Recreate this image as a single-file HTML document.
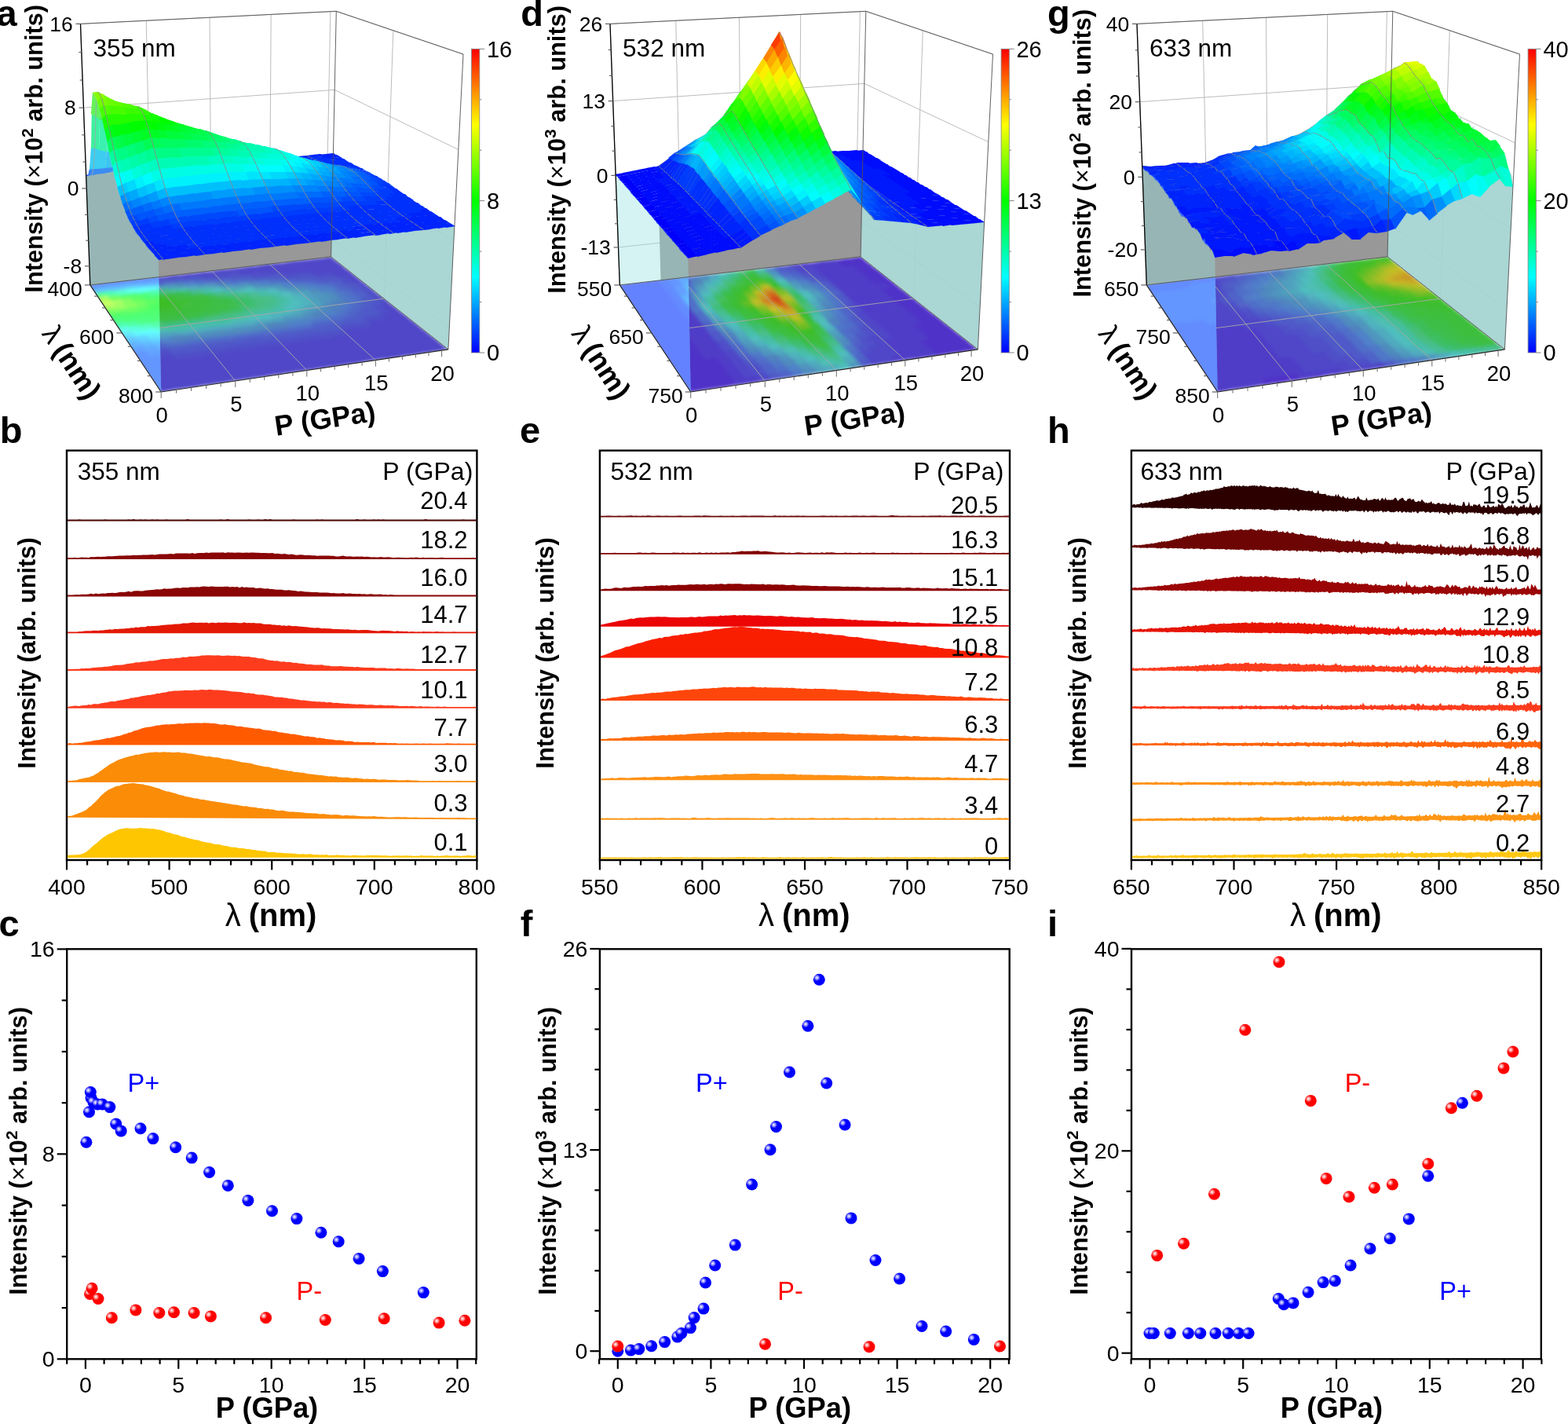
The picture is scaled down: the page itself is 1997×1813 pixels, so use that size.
<!DOCTYPE html><html><head><meta charset="utf-8"><title>Figure</title><style>html,body{margin:0;padding:0;background:#fff;overflow:hidden}svg{display:block}</style></head><body><svg xmlns="http://www.w3.org/2000/svg" width="1997" height="1813" viewBox="0 0 1997 1813" font-family="'Liberation Sans', Arial, Helvetica, sans-serif"><defs><radialGradient id="gb" cx="0.31" cy="0.34" r="0.29"><stop offset="0" stop-color="#fff"/><stop offset="0.45" stop-color="#9a9aff"/><stop offset="1" stop-color="#0000ff"/></radialGradient>
<radialGradient id="gr" cx="0.31" cy="0.34" r="0.29"><stop offset="0" stop-color="#fff"/><stop offset="0.45" stop-color="#ff9a9a"/><stop offset="1" stop-color="#ff0000"/></radialGradient><linearGradient id="cb" x1="0" y1="0" x2="0" y2="1"><stop offset="0" stop-color="#f00"/><stop offset="0.25" stop-color="#ff0"/><stop offset="0.5" stop-color="#0f0"/><stop offset="0.75" stop-color="#0ff"/><stop offset="1" stop-color="#00f"/></linearGradient><filter id="blura" x="-0.05" y="-0.05" width="1.1" height="1.1"><feGaussianBlur stdDeviation="2.2"/></filter><filter id="blurd" x="-0.05" y="-0.05" width="1.1" height="1.1"><feGaussianBlur stdDeviation="2.2"/></filter><filter id="blurg" x="-0.05" y="-0.05" width="1.1" height="1.1"><feGaussianBlur stdDeviation="2.2"/></filter></defs><rect width="1997" height="1813" fill="#fff"/><line x1="114.8" y1="362.9" x2="102.5" y2="30.4" stroke="#b4b4b4" stroke-width="0.9"/><line x1="193.4" y1="353.7" x2="186.2" y2="26.3" stroke="#b4b4b4" stroke-width="0.9"/><line x1="269.4" y1="344.8" x2="267" y2="22.3" stroke="#b4b4b4" stroke-width="0.9"/><line x1="343.1" y1="336.1" x2="345.2" y2="18.4" stroke="#b4b4b4" stroke-width="0.9"/><line x1="414.6" y1="327.8" x2="420.9" y2="14.7" stroke="#b4b4b4" stroke-width="0.9"/><line x1="489" y1="380.2" x2="500.8" y2="38.9" stroke="#b4b4b4" stroke-width="0.9"/><path d="M114 338.8 422.1 304.1 572.2 417.9" fill="none" stroke="#b4b4b4" stroke-width="0.9"/><path d="M110.3 239.9 424.1 210.9 577.9 306.6" fill="none" stroke="#b4b4b4" stroke-width="0.9"/><path d="M106.5 137.2 426.2 114.4 583.8 190.4" fill="none" stroke="#b4b4b4" stroke-width="0.9"/><path d="M102.5 30.4 428.3 14.3 590 69" fill="none" stroke="#b4b4b4" stroke-width="0.9"/>
<path d="M109.7 223.1 121.2 221.6 132.7 220.1 144.2 218.5 155.6 217 166.9 215.9 178.2 214.9 189.5 213.8 200.7 212.8 211.8 211.8 222.9 210.8 234 209.9 245 209.2 255.9 208.5 266.8 207.8 277.7 207 288.5 206.2 299.2 205.4 309.9 204.5 320.5 203.8 331.1 203 341.7 202.2 352.2 201.4 362.7 200.5 373.1 199.7 383.4 198.8 393.7 197.9 404 197.1 414.2 196.3 424.4 195.4 421.6 326.9 411.7 328.1 401.7 329.3 391.7 330.5 381.6 331.6 371.5 332.8 361.3 334 351.1 335.2 340.9 336.4 330.6 337.6 320.2 338.8 309.9 340.1 299.4 341.3 289 342.5 278.4 343.7 267.9 345 257.3 346.2 246.6 347.5 235.9 348.7 225.1 350 214.3 351.3 203.5 352.5 192.6 353.8 181.6 355.1 170.6 356.4 159.6 357.7 148.5 359 137.3 360.3 126.1 361.6 114.8 362.9Z" fill="#989898"/>
<clipPath id="fca"><path d="M114.8 362.9 421.6 326.9 570.9 444.9 205.2 499Z"/></clipPath>
<g clip-path="url(#fca)"><g filter="url(#blura)"><path fill="#5046c8" d="M114 363l14-2 4 6-15 2zM171 449l16-2 5 7-16 3zM176 456l16-3 5 8-17 2zM180 463l16-3 5 8-16 2zM185 469l16-2 5 8-16 3zM190 477l16-3 5 8-16 3zM194 484l17-3 5 9-16 2zM199 491l17-2 5 8-16 3zM126 361l15-2 3 6-14 2zM190 454l16-3 5 8-16 2zM195 461l16-3 5 8-16 2zM199 467l17-2 5 8-16 2zM204 474l17-2 5 8-17 3zM209 482l17-3 5 8-16 3zM214 489l17-3 5 9-16 2zM139 360l14-2 4 6-14 2zM204 452l16-3 5 8-16 2zM209 459l16-3 5 8-16 2zM214 465l16-2 5 8-16 2zM219 472l16-2 6 8-17 2zM224 480l16-3 6 8-17 3zM229 487l17-3 5 9-16 2zM151 358l14-2 4 6-14 2zM223 457l16-3 6 8-16 2zM228 463l16-2 6 8-16 2zM234 470l16-2 5 8-16 2zM239 477l16-2 6 8-17 3zM244 485l16-3 6 8-16 3zM238 455l15-3 6 8-16 2zM243 461l16-2 5 8-16 2zM248 468l16-2 6 8-16 2zM253 475l17-2 5 8-16 2zM259 483l16-3 6 8-16 3zM252 453l16-3 5 8-16 2zM257 459l16-2 6 8-16 2zM262 466l16-2 6 8-16 2zM268 473l16-2 6 8-16 2zM273 480l17-2 6 8-17 3zM188 354l14-2 4 6-14 2zM266 451l16-3 5 8-16 2zM271 457l16-2 6 8-16 2zM277 464l16-2 6 8-16 2zM282 471l16-2 6 8-16 2zM288 478l16-2 6 8-16 2zM200 353l14-2 5 5-14 2zM280 449l15-3 6 8-15 2zM285 455l16-2 6 8-16 2zM291 462l16-2 6 7-16 3zM297 469l16-3 6 8-16 3zM303 476l16-2 6 8-16 2zM213 351l13-2 5 6-14 2zM294 447l15-3 6 8-15 2zM299 453l16-2 6 8-16 2zM305 460l16-2 6 7-16 3zM311 467l16-3 6 8-16 3zM317 474l16-3 6 9-16 2zM225 350l13-2 5 6-14 1zM308 445l15-3 6 8-15 2zM313 451l16-2 6 8-16 2zM319 458l16-2 6 7-16 3zM325 465l16-3 6 8-15 3zM331 472l16-3 7 8-16 3zM237 348l13-1 5 5-14 2zM321 443l16-3 6 8-16 2zM327 449l16-2 6 8-16 2zM333 456l16-2 6 7-15 3zM339 463l16-3 7 8-16 3zM345 470l16-3 7 8-16 3zM249 347l13-2 5 6-14 2zM335 441l15-2 7 7-16 2zM341 447l15-2 7 8-16 2zM347 454l15-2 7 7-15 3zM353 461l16-3 7 8-16 3zM360 468l15-3 7 8-16 3zM260 346l14-2 5 5-14 2zM348 439l16-2 6 7-15 3zM355 446l15-3 6 8-15 2zM361 452l15-2 7 7-16 3zM367 459l16-3 7 8-16 3zM374 466l15-3 7 8-15 3zM272 344l14-2 5 6-14 2zM362 437l15-2 7 7-15 3zM368 444l15-3 7 8-15 2zM375 450l15-2 7 7-16 3zM381 457l15-3 7 8-15 3zM388 464l15-3 7 8-15 3zM284 343l13-2 5 5-13 2zM375 435l15-2 7 7-15 3zM382 442l15-3 7 8-15 2zM388 448l15-2 7 7-15 3zM395 455l15-3 7 8-15 3zM401 462l16-3 7 8-15 3zM296 341l13-1 5 5-13 2zM300 346l14-2 5 6-14 2zM389 433l15-2 7 7-15 3zM395 440l15-3 7 8-15 2zM402 446l15-2 7 7-15 3zM408 453l16-3 7 8-15 3zM415 460l16-3 7 8-15 3zM307 340l14-2 5 6-14 2zM312 345l14-2 5 5-14 2zM402 432l15-3 7 8-15 2zM409 438l14-2 8 7-15 2zM415 444l15-2 7 7-15 3zM422 451l15-3 8 8-16 3zM429 458l15-3 8 8-16 3zM319 339l13-2 5 5-13 2zM324 343l13-2 5 6-13 2zM415 430l15-3 7 8-15 2zM422 436l15-2 7 7-15 2zM429 442l15-2 7 8-15 2zM436 449l15-3 7 8-15 3zM443 456l15-3 7 8-15 3zM330 337l14-2 5 6-13 2zM335 342l14-2 5 6-13 2zM428 428l15-2 7 7-15 2zM435 434l15-2 7 7-15 3zM442 441l15-3 7 8-15 2zM449 447l15-2 8 7-15 3zM456 454l15-3 8 8-15 2zM342 336l13-2 5 6-13 1zM347 341l13-2 6 5-14 2zM352 345l13-2 6 6-13 2zM435 420l14-2 7 7-14 2zM441 426l15-2 7 7-14 2zM448 432l15-2 7 7-14 3zM455 439l15-3 8 8-15 2zM462 445l15-2 8 7-15 3zM470 452l15-3 7 8-15 2zM353 335l13-2 6 5-13 2zM358 339l14-2 5 6-13 2zM364 344l13-2 6 6-14 2zM447 418l15-2 7 7-14 2zM454 424l15-2 7 7-14 3zM461 431l15-3 7 7-14 3zM468 437l15-3 8 8-15 2zM476 443l14-2 8 7-15 3zM483 450l15-3 8 8-15 3zM365 333l13-2 5 6-13 2zM370 338l13-2 6 6-14 1zM375 343l13-2 6 5-13 2zM460 416l15-2 7 7-14 3zM467 423l15-3 7 7-14 3zM474 429l15-3 7 8-14 2zM481 435l15-3 8 8-15 2zM489 441l14-2 9 7-15 3zM496 448l15-3 8 8-15 3zM376 332l13-2 6 6-13 1zM381 337l13-2 6 5-13 2zM387 341l13-2 6 6-14 2zM392 346l13-2 6 6-13 2zM466 409l14-2 8 6-15 3zM473 415l14-3 8 7-15 3zM480 421l14-3 8 7-14 3zM487 427l15-3 7 8-14 2zM495 433l14-2 8 7-15 2zM502 439l15-2 8 7-15 3zM510 446l14-3 9 8-15 3zM387 331l13-2 6 5-13 2zM393 335l13-2 5 6-13 2zM398 340l13-2 6 5-13 2zM404 344l13-1 6 5-13 2zM479 407l14-2 7 7-14 2zM486 413l14-2 7 7-14 2zM493 419l14-2 8 7-15 2zM500 425l14-2 8 7-14 2zM507 431l15-2 8 7-15 3zM515 438l14-3 9 7-15 3zM523 444l14-3 9 8-15 3zM398 329l13-1 6 5-13 2zM404 334l13-2 6 5-13 2zM409 338l13-1 6 5-13 2zM415 343l13-2 6 6-13 2zM421 348l13-2 6 6-13 2zM484 400l14-3 8 7-14 2zM491 405l14-2 8 7-14 2zM498 411l14-2 8 7-14 2zM505 417l15-2 7 7-14 2zM513 423l14-2 8 7-14 2zM520 429l15-2 8 7-15 3zM528 436l14-3 9 8-15 2zM536 442l14-2 9 7-15 3zM410 328l12-2 6 6-13 1zM415 333l13-2 6 5-13 2zM421 337l13-2 6 6-13 2zM426 342l13-2 7 5-13 2zM432 346l13-2 7 6-13 2zM438 351l13-2 7 6-13 2zM444 356l13-2 7 6-13 2zM483 387l13-2 8 6-14 2zM490 392l13-2 8 7-14 2zM496 398l14-2 8 6-14 3zM504 404l13-3 8 7-14 3zM511 410l14-3 8 7-15 2zM518 415l14-2 8 7-14 2zM526 421l14-2 8 7-14 3zM533 428l14-3 9 7-15 3zM541 434l14-3 9 8-15 2zM549 440l14-2 9 7-15 3z"/><path fill="#506ec8" d="M117 368l15-2 3 6-14 2zM130 366l14-2 4 6-14 2zM177 434l15-2 5 7-16 3zM142 365l15-2 4 6-15 2zM155 363l14-2 4 6-14 2zM209 437l16-2 5 7-16 2zM167 362l15-2 4 6-15 2zM223 435l15-2 6 7-16 2zM180 360l14-1 4 5-14 2zM237 433l15-2 5 7-15 2zM250 431l16-2 5 7-15 3zM264 429l15-2 6 7-16 3zM277 428l16-3 5 7-15 3zM291 426l15-2 6 7-15 2zM304 424l15-2 6 7-15 2zM257 357l14-2 5 5-14 2zM318 422l15-2 6 7-15 2zM331 420l15-2 6 7-15 2zM344 419l15-3 6 7-15 3zM357 417l15-2 6 7-15 2zM310 356l14-2 5 6-14 2zM370 415l15-2 6 7-14 2zM383 413l15-2 6 7-14 2zM351 356l13-2 6 6-13 2zM415 402l14-2 7 7-14 2zM380 358l13-2 6 6-13 2zM428 401l14-3 7 7-14 2zM434 393l14-2 7 7-14 2zM409 360l14-2 6 6-14 2zM440 386l13-2 7 7-14 2zM433 369l13-2 7 6-13 2zM439 374l14-2 6 6-13 2zM445 379l14-2 7 7-14 2z"/><path fill="#3cbe5a" d="M121 373l14-2 4 6-15 2zM278 395l15-2 5 6-15 2zM276 377l14-2 5 6-14 2zM293 381l15-2 5 6-14 2z"/><path fill="#96be28" d="M124 378l15-2 4 6-15 2zM131 389l15-2 4 6-15 2zM141 382l14-2 4 6-14 2z"/><path fill="#b4be28" d="M128 384l14-2 4 6-15 2z"/><path fill="#64be28" d="M135 394l15-2 4 7-15 2zM170 384l15-2 4 6-15 2z"/><path fill="#3cbe32" d="M139 400l15-2 4 7-15 2zM152 398l15-2 4 7-15 2zM150 375l14-2 4 6-14 2zM165 397l15-2 4 6-15 2zM191 393l15-2 5 7-15 2zM192 376l14-2 5 6-15 2zM204 392l15-2 5 6-15 2zM209 379l14-2 5 7-15 2zM213 385l14-2 5 6-14 2zM217 390l15-2 5 7-15 2zM226 383l14-2 5 6-15 2z"/><path fill="#3cbe3c" d="M143 406l15-2 4 6-15 3zM156 404l15-2 4 7-15 2zM169 402l15-2 5 7-15 2zM163 374l14-2 4 6-14 2zM182 401l15-2 5 6-15 2zM196 399l14-2 5 7-15 2zM209 397l15-2 4 7-15 2zM204 374l15-2 4 6-14 2zM222 396l14-2 5 6-14 2zM221 378l15-2 4 6-14 2zM230 389l15-2 5 6-15 2zM235 394l14-2 5 7-14 2zM234 376l14-2 5 6-14 2zM238 382l15-2 5 6-15 2zM243 387l14-2 5 6-14 2zM248 392l14-2 5 7-14 2zM251 380l14-2 5 6-14 2zM256 385l14-2 5 7-14 2z"/><path fill="#3cbe6e" d="M146 412l16-2 4 6-15 2zM288 375l15-2 5 7-14 2zM306 379l14-2 6 6-15 2zM311 384l14-2 6 7-14 2z"/><path fill="#50beb4" d="M150 418l16-3 4 7-15 3zM159 368l14-2 4 6-14 2zM195 418l16-2 4 7-15 2zM225 366l14-2 5 6-14 2zM288 406l15-2 6 7-15 2zM301 404l15-2 6 7-15 2zM296 369l14-2 5 6-14 2zM361 378l14-2 6 6-14 2z"/><path fill="#50a0be" d="M154 424l16-3 4 7-15 3zM200 424l15-2 5 7-15 2zM213 423l16-3 5 7-16 3zM196 364l14-2 5 6-15 2zM250 363l14-2 5 6-15 2zM320 409l14-3 6 7-14 2zM291 364l14-2 5 6-14 2zM333 407l14-2 6 6-14 3zM346 405l14-2 6 7-14 2zM332 364l14-2 6 6-14 2zM378 394l14-2 6 7-14 2zM379 370l14-2 6 6-14 2zM385 375l14-2 6 6-14 2zM391 380l14-2 6 7-14 2zM397 386l14-2 6 6-14 2z"/><path fill="#5078c8" d="M158 430l16-2 5 7-16 2zM191 432l15-2 5 7-16 3zM245 358l14-2 5 6-14 2zM286 359l14-2 5 6-14 1zM298 357l14-2 5 6-14 2zM339 358l14-2 5 6-13 2zM390 406l14-2 7 6-15 3zM403 404l14-2 6 7-14 2zM368 360l14-2 6 6-14 2zM421 395l14-2 7 6-14 3zM397 362l14-2 6 6-13 2zM427 388l14-2 7 6-14 2zM415 365l14-2 6 6-14 2zM421 370l14-2 6 7-13 2zM427 376l14-2 6 6-13 2zM433 381l14-2 7 6-14 2z"/><path fill="#5064c8" d="M163 436l15-2 5 7-16 2zM195 439l16-3 5 8-16 2zM192 359l14-2 5 6-15 2zM204 357l14-1 5 5-14 2zM217 356l14-2 4 6-14 2zM269 355l14-2 5 6-14 2zM281 354l14-2 5 6-14 1zM322 354l14-2 5 6-14 2zM334 353l13-2 6 6-14 2zM396 412l14-3 7 7-14 3zM409 410l14-2 7 6-14 3zM363 355l13-2 6 6-14 2zM422 408l14-2 7 7-15 2zM392 357l13-2 6 6-13 2zM440 399l14-2 7 6-14 3zM446 392l14-2 7 6-14 2zM421 359l13-2 7 6-14 2zM427 364l13-2 7 6-14 2zM452 385l14-2 7 6-14 2zM451 373l14-2 6 6-13 2z"/><path fill="#5050c8" d="M167 443l16-3 4 8-16 2zM185 447l16-2 5 7-16 3zM200 445l15-2 5 7-15 3zM219 450l15-3 6 8-16 2zM164 357l14-2 4 6-14 2zM233 448l15-2 6 7-16 2zM176 355l14-1 4 5-14 2zM247 446l15-2 6 7-16 3zM261 444l15-2 6 7-16 3zM274 442l16-2 6 7-16 3zM288 440l16-2 5 7-15 3zM302 438l15-2 6 7-15 3zM316 436l15-2 6 7-15 3zM253 352l14-2 4 6-13 1zM329 435l15-3 6 8-15 2zM265 350l14-2 4 6-13 2zM343 433l15-3 6 8-15 2zM277 349l13-2 5 6-13 2zM356 431l15-2 6 7-15 2zM289 347l13-1 5 5-13 2zM369 429l15-2 7 7-15 2zM382 427l15-2 7 7-15 2zM317 349l13-1 6 5-14 2zM396 425l14-2 7 7-15 3zM329 348l13-2 6 6-14 2zM409 424l14-3 7 7-14 3zM340 347l14-2 5 5-13 2zM422 422l14-3 7 8-14 2zM357 350l14-2 5 6-13 2zM428 414l14-2 7 7-14 2zM369 349l13-2 6 5-13 2zM441 412l14-2 7 7-14 2zM381 347l13-2 6 6-14 2zM453 411l15-3 7 7-14 3zM398 351l13-2 6 5-13 2zM459 403l14-2 8 7-15 2zM409 349l14-2 6 6-14 2zM472 401l14-2 7 7-14 2zM427 353l13-2 6 5-13 2zM433 357l13-2 6 6-13 2zM471 389l13-3 8 7-14 2zM477 394l14-2 7 6-13 3zM450 361l14-2 6 6-13 2zM457 366l13-2 7 6-14 2zM463 371l13-2 7 6-13 2zM469 376l14-2 7 6-14 3zM476 382l14-3 7 7-14 2z"/><path fill="#3cbe78" d="M133 371l15-1 4 6-15 1zM204 411l15-3 5 7-15 2zM218 409l15-2 5 6-15 3zM231 407l15-2 5 7-15 2zM244 405l15-2 5 7-15 2zM304 392l14-3 6 7-15 2z"/><path fill="#5abe28" d="M137 377l15-2 3 6-14 2zM148 393l15-2 4 6-15 2zM161 391l15-2 4 7-15 2z"/><path fill="#8cbe28" d="M144 387l15-2 4 7-15 2z"/><path fill="#3cbe64" d="M160 410l15-2 4 7-15 2zM188 370l14-1 4 6-14 2zM229 371l15-2 4 6-14 2zM259 373l14-2 5 6-14 2zM291 393l14-2 6 7-15 2zM299 386l14-2 5 6-14 2z"/><path fill="#46bea0" d="M164 416l15-2 5 7-16 2zM213 367l14-1 4 6-14 1zM284 370l14-2 5 6-14 2zM322 395l14-2 6 7-15 2zM334 394l15-2 6 6-15 2zM343 374l14-2 6 7-14 2zM348 380l14-2 6 6-14 2z"/><path fill="#50aabe" d="M168 422l16-2 4 7-15 2zM184 365l14-1 4 5-14 2zM227 421l15-2 5 7-15 2zM240 419l16-2 5 7-15 2zM254 417l15-2 5 7-15 2zM267 415l15-2 6 7-15 2zM237 365l14-2 5 6-14 1zM280 414l15-2 6 6-15 3zM294 412l14-2 6 7-15 2zM307 410l14-2 6 7-15 2zM279 365l14-2 5 6-14 2zM320 366l14-2 5 6-13 2zM365 396l14-2 7 6-15 3zM350 368l13-2 6 6-14 2zM367 371l14-2 6 6-14 3zM384 387l14-2 7 7-14 2z"/><path fill="#508cbe" d="M172 428l16-2 4 7-15 2zM245 425l16-2 5 7-15 2zM259 423l15-2 5 7-15 2zM221 361l14-2 4 6-14 2zM272 421l15-2 6 7-15 3zM286 420l15-3 5 7-15 3zM299 418l15-2 6 7-15 2zM312 416l15-2 6 7-15 2zM325 414l15-2 6 7-15 2zM315 361l14-2 5 6-14 2zM384 400l14-2 6 7-14 2zM374 365l13-2 6 6-13 2zM403 391l14-2 6 7-14 2zM391 368l14-2 6 6-14 2zM409 384l14-2 6 6-14 3zM409 372l14-2 6 6-14 2zM415 377l14-2 6 6-13 3z"/><path fill="#505ac8" d="M181 441l16-3 5 8-16 2zM214 443l15-2 6 7-16 3zM228 441l15-2 6 7-16 3zM242 439l15-2 6 8-16 2zM255 438l16-3 5 8-15 2zM269 436l15-3 6 8-15 2zM283 434l15-2 6 7-16 2zM229 355l14-2 4 5-14 2zM296 432l16-2 5 7-15 2zM241 353l14-2 4 6-14 2zM310 430l15-2 6 7-15 2zM323 428l15-2 6 7-15 3zM337 427l15-3 6 7-15 3zM350 425l15-3 6 7-15 3zM293 352l14-2 5 6-14 2zM363 423l15-2 6 7-14 2zM305 351l14-2 5 6-14 2zM376 421l15-2 7 7-15 2zM389 419l15-2 7 7-15 2zM402 418l15-3 7 7-15 3zM346 351l13-1 6 5-14 2zM415 416l15-3 7 7-15 3zM374 353l14-2 6 6-14 2zM434 406l14-2 7 7-14 2zM386 352l13-2 6 6-13 2zM447 405l14-3 7 7-14 3zM403 355l14-2 6 6-13 2zM453 397l14-2 7 7-14 2zM415 354l13-2 7 6-14 2zM458 390l14-2 7 7-14 2zM465 396l14-2 7 6-14 2zM439 362l13-2 7 6-14 2zM445 367l13-2 7 6-14 3zM458 378l13-2 7 6-14 2zM464 383l14-2 7 6-14 3z"/><path fill="#46be96" d="M146 370l14-2 4 6-14 2zM309 397l14-2 6 7-14 2zM313 372l14-2 6 6-14 2zM341 387l15-2 5 6-14 2z"/><path fill="#6ebe28" d="M154 380l14-2 4 7-14 2z"/><path fill="#78be28" d="M157 386l15-2 4 6-15 2z"/><path fill="#3cbe50" d="M173 408l15-2 5 7-15 2zM252 398l15-2 5 7-15 2zM265 396l15-2 5 7-15 2zM286 388l14-2 6 6-15 2z"/><path fill="#46be8c" d="M178 414l15-2 4 7-15 2zM242 370l14-2 5 6-14 2zM296 399l15-2 5 6-14 2zM329 388l14-2 6 7-14 2zM331 376l14-2 5 6-14 2zM336 381l14-2 6 6-14 3z"/><path fill="#50b4be" d="M182 420l15-2 5 7-16 2zM171 367l15-2 4 6-15 2zM340 399l14-2 6 7-14 2zM353 398l14-2 6 6-14 2zM372 389l14-2 6 6-14 2zM373 377l14-2 6 6-14 2zM379 382l13-2 7 6-14 2z"/><path fill="#5096be" d="M186 426l16-2 4 7-15 2zM209 362l14-1 4 5-14 2zM262 362l14-2 5 6-14 1zM303 362l14-2 5 6-14 2zM358 403l15-2 6 7-14 2zM371 402l14-2 7 6-15 2zM344 363l14-2 6 6-14 2zM362 366l13-2 6 6-14 2zM390 393l14-2 7 6-14 2zM397 374l14-3 6 7-14 2zM403 379l14-2 6 6-14 2z"/><path fill="#50be28" d="M166 379l15-2 4 6-15 2zM174 390l15-2 4 6-14 2zM183 383l15-2 4 6-15 2z"/><path fill="#3cbe28" d="M178 395l15-2 5 7-15 2zM179 377l15-2 4 6-15 2zM187 388l15-2 4 6-14 2zM196 381l14-2 5 6-15 2zM200 386l15-2 4 7-14 2z"/><path fill="#3cbe46" d="M187 406l15-2 4 7-15 2zM175 372l15-2 4 6-15 2zM200 405l15-2 5 6-15 2zM213 403l15-2 5 7-15 2zM226 401l15-2 5 7-15 2zM217 373l14-2 5 6-14 2zM239 400l15-2 5 6-15 2zM246 375l15-2 5 6-15 2zM260 391l15-2 5 6-14 2zM264 378l14-2 5 7-14 2zM268 384l15-2 5 6-15 2zM273 389l15-2 5 7-15 2zM281 382l14-2 5 6-14 3z"/><path fill="#46be78" d="M191 412l15-2 5 7-15 2zM257 404l15-2 5 6-15 2z"/><path fill="#5082c8" d="M204 431l16-3 5 7-16 3zM233 359l14-1 5 5-14 2zM364 409l15-2 6 7-15 2zM327 359l14-2 5 6-13 2zM377 407l14-2 7 7-15 2zM356 361l14-2 6 6-14 2zM409 397l14-2 7 6-15 2zM386 363l13-2 6 6-13 2zM403 367l14-2 6 6-14 2z"/><path fill="#46beaa" d="M209 417l15-3 5 7-15 2zM222 415l15-2 5 6-15 3zM236 413l15-2 5 7-15 2zM249 411l15-2 5 7-15 2zM262 410l15-3 5 7-15 2zM275 408l15-2 6 6-15 3zM254 368l14-2 5 6-14 2zM325 371l14-2 6 6-14 2zM347 392l14-2 6 7-14 2zM354 385l14-2 6 6-14 2z"/><path fill="#5082be" d="M218 429l15-3 6 8-16 2zM232 427l15-2 5 7-15 2zM274 360l14-2 5 6-14 2zM338 413l15-3 6 7-15 3zM351 411l15-2 6 7-15 2zM396 398l15-2 6 7-14 2zM415 390l14-3 7 7-14 2zM421 383l14-3 7 7-14 2z"/><path fill="#46be82" d="M200 369l14-2 5 6-14 2zM270 402l15-2 5 7-14 2zM283 400l15-2 5 7-14 2zM271 372l14-2 5 6-14 2zM301 374l14-2 5 6-14 2zM316 390l15-2 5 6-14 2zM318 378l14-2 6 6-14 2zM324 383l14-2 5 6-14 2z"/><path fill="#50bebe" d="M267 367l14-2 5 6-15 2zM314 403l15-2 6 6-15 2zM327 401l15-2 6 7-15 2zM308 367l14-2 5 6-14 2zM338 369l13-2 6 6-14 2zM360 391l14-3 6 7-14 2zM355 373l14-2 6 6-14 2zM366 383l14-2 6 7-14 2z"/></g></g>
<line x1="193.4" y1="353.7" x2="299.8" y2="485" stroke="#a8a8a8" stroke-width="0.9"/><line x1="269.4" y1="344.8" x2="390.8" y2="471.6" stroke="#a8a8a8" stroke-width="0.9"/><line x1="343.1" y1="336.1" x2="478.3" y2="458.6" stroke="#a8a8a8" stroke-width="0.9"/><line x1="155.3" y1="423.9" x2="489" y2="380.2" stroke="#a8a8a8" stroke-width="0.9"/>
<path d="M424.4 195.4 425.8 196.3 427.3 197.1 428.7 197.9 430.2 198.8 431.6 199.6 433.1 200.4 434.5 201.3 436 202.1 437.5 202.9 438.9 203.8 440.4 204.6 441.9 205.4 443.4 206.2 444.9 207 446.4 207.8 448 208.6 449.5 209.4 451 210.2 452.5 210.9 454.1 211.7 455.6 212.5 457.2 213.3 458.8 214 460.3 214.8 461.9 215.6 463.5 216.3 465.1 217.1 466.7 217.9 468.3 218.7 469.9 219.5 471.5 220.3 473.2 221.2 474.8 222 476.4 222.9 478.1 223.8 479.8 224.8 481.4 225.7 483.1 226.7 484.8 227.7 486.4 228.7 488.1 229.8 489.8 230.9 491.5 232 493.2 233.1 494.9 234.2 496.7 235.3 498.4 236.5 500.1 237.7 501.9 238.8 503.6 240 505.4 241.2 507.2 242.5 508.9 243.7 510.7 244.9 512.5 246.1 514.3 247.4 516.1 248.6 517.9 249.8 519.8 251.1 521.6 252.3 523.4 253.6 525.3 254.8 527.2 256 529 257.3 530.9 258.5 532.8 259.7 534.7 260.9 536.6 262.1 538.5 263.4 540.4 264.6 542.4 265.8 544.3 267 546.3 268.2 548.2 269.5 550.2 270.7 552.2 271.9 554.2 273.1 556.2 274.3 558.2 275.6 560.2 276.8 562.2 278 564.3 279.3 566.3 280.5 568.4 281.7 570.5 283 572.6 284.2 574.6 285.5 576.7 286.8 578.9 288 570.9 444.9 568.8 443.3 566.8 441.7 564.8 440.1 562.8 438.6 560.8 437 558.8 435.4 556.8 433.9 554.9 432.3 552.9 430.8 551 429.2 549 427.7 547.1 426.2 545.2 424.6 543.3 423.1 541.4 421.6 539.5 420.1 537.6 418.6 535.7 417.2 533.9 415.7 532 414.2 530.2 412.8 528.3 411.3 526.5 409.9 524.7 408.4 522.8 407 521 405.5 519.2 404.1 517.4 402.7 515.7 401.3 513.9 399.9 512.1 398.5 510.4 397.1 508.6 395.7 506.9 394.3 505.1 393 503.4 391.6 501.7 390.2 500 388.9 498.3 387.5 496.6 386.2 494.9 384.9 493.2 383.5 491.5 382.2 489.8 380.9 488.2 379.6 486.5 378.3 484.9 377 483.2 375.7 481.6 374.4 480 373.1 478.4 371.8 476.7 370.5 475.1 369.3 473.5 368 471.9 366.7 470.4 365.5 468.8 364.2 467.2 363 465.7 361.8 464.1 360.5 462.5 359.3 461 358.1 459.5 356.9 457.9 355.7 456.4 354.5 454.9 353.3 453.4 352.1 451.9 350.9 450.4 349.7 448.9 348.5 447.4 347.3 445.9 346.1 444.4 345 442.9 343.8 441.5 342.7 440 341.5 438.6 340.4 437.1 339.2 435.7 338.1 434.3 336.9 432.8 335.8 431.4 334.7 430 333.6 428.6 332.5 427.2 331.3 425.8 330.2 424.4 329.1 423 328 421.6 326.9Z" fill="#a3d2d0" fill-opacity="0.92"/>
<g><path fill="#0030fc" d="M109 223l6-1 3 0-7 2zM114 223l6-1 3 0-7 1zM119 222l11-2 3 0-12 2zM129 221l11-2 2-1-11 2zM138 219l12-1 2-1-11 2zM148 218l11-1 3-2-11 2zM158 217l11-1 3-1-12 0zM168 216l11-1 2-1-11 1zM177 215l11-1 3-1-11 1zM187 214l11-1 3 0-11 0zM196 213l11-1 3 0-11 1zM206 212l11-1 3 0-11 1zM215 211l11-1 3 1-11 1zM225 211l9-1 3 0-9 1zM232 210l13-1 3 1-13 0zM244 209l10-1 4 2-11 0zM253 209l11-1 3 1-11 1zM262 208l9-1 3 2-8 0zM269 208l13-1 4 1-13 1zM281 207l10-1 4 2-11 0zM290 206l11-1 3 2-10 1zM299 205l11-1 4 2-11 1zM309 204l10 0 3 2-10 1zM317 204l11-1 4 2-11 1zM326 203l14-1 4 3-14 0zM339 202l7-1 4 3-7 1zM344 202l11-1 4 2-11 1zM353 201l6-1 4 3-5 1zM358 201l5-1 5 3-5 1zM362 200l10-1 5 3-11 1zM371 200l10-1 4 2-10 1z"/><path fill="#0024fc" d="M380 199l12-1 4 3-12 1zM390 198l9-1 4 3-8 1zM398 197l10-1 4 3-10 1zM406 197l10-1 5 3-10 1zM415 196l10-1 4 3-10 1z"/><path fill="none" stroke="#8a8a8a" stroke-width="0.9" d="M114.6 222.5l2.4.1M158.3 216.7l2.7-1.2M232.8 209.9l3.2.4M269.9 207.6l3.5 1.3M309.5 204.6l3.7 1.6M339.5 202.4l3.8 2M358.8 200.8l3.9 2.2M391.1 198.2l4.1 2.3"/><path fill="#0048fc" d="M112 224l5-1 3-9-6 1zM199 213l11-1 3-3-11 0zM209 212l11 0 3-3-11 0zM218 212l11-1 4-2-12 0zM228 211l9-1 3-1-9 0z"/><path fill="#0054fc" d="M117 223l5-1 3-9-6 1zM121 222l11-1 3-9-11 1zM131 221l11-2 3-7-11 0zM141 219l11-2 3-6-12 0zM151 217l11-1 2-6-11 1zM160 216l12-1 2-5-11 0zM170 215l11-1 3-4-11 0zM180 214l11 0 3-5-11 0zM190 214l11-1 3-4-11 0z"/><path fill="#003cfc" d="M235 210l13 0 4-1-14 0zM247 210l11 0 3-1-11 0zM256 210l11-1 3 0-10 0zM266 209l8 0 4 0-9 0z"/><path fill="#0030fc" d="M273 209l13-1 3 1-13 0zM284 208l11-1 4 1-11 1zM293 207l11 0 4 1-11 0zM303 207l11-1 4 1-12 1zM312 206l10-1 4 2-10 1zM321 206l11-1 3 2-10 0zM330 205l14-1 4 2-14 1zM343 204l6-1 5 3-7 1zM348 204l11-1 4 2-11 1zM357 203l6-1 4 3-5 1zM362 203l5-1 5 3-5 1zM366 203l10-1 5 2-11 1zM375 202l10-1 5 3-11 0zM384 201l12-1 4 3-12 1zM394 200l9-1 4 3-8 1zM402 200l10-1 4 3-10 1z"/><path fill="#0024fc" d="M410 199l11-1 4 3-10 1zM419 198l10-1 5 3-10 1z"/><path fill="none" stroke="#8a8a8a" stroke-width="0.9" d="M117 222.6l2.2-8.3M161 215.5l2.6-5.4M236 210.3l3.2-1.1M273.4 208.9l3.4.3M313.2 206.2l3.7 1.1M343.3 204.4l3.9 1.8M362.7 203l4 2M395.2 200.5l4.1 2.2"/><path fill="#00c0fc" d="M114 216l5-1 2-27-5 0zM119 215l5 0 2-26-5-1zM124 215l10-1 2-23-10-2z"/><path fill="#00b4fc" d="M134 214l10-1 3-19-11-3z"/><path fill="#00a8fc" d="M144 213l10-1 3-16-11-2z"/><path fill="#009cfc" d="M154 212l10-1 3-13-11-2z"/><path fill="#0090fc" d="M163 211l11 0 3-12-11-1zM173 210l11 0 3-10-11-1z"/><path fill="#0084fc" d="M183 210l11 0 3-9-11-1z"/><path fill="#0078fc" d="M193 210l10 0 3-8-10-1zM202 210l11 0 3-7-11-1z"/><path fill="#006cfc" d="M212 210l11 0 3-6-11-1zM222 210l10 0 4-5-11-1z"/><path fill="#0060fc" d="M231 210l9 0 3-4-9-1zM238 209l14 0 3-2-13-1z"/><path fill="#0054fc" d="M250 209l11 0 3-2-11-1z"/><path fill="#0048fc" d="M260 209l10 0 4-1-11-1zM269 209l9 0 3-1-9 0zM276 209l13 0 4-1-13 0z"/><path fill="#003cfc" d="M288 209l11-1 3 0-11 0zM297 208l11 0 3 0-10 0zM306 208l12-1 3 1-11 0zM316 207l10 0 4 1-10 0z"/><path fill="#0030fc" d="M325 207l10 0 4 0-10 1zM334 207l14-1 4 1-14 1zM346 206l7-1 5 2-7 1zM352 206l11-1 4 2-11 0zM361 205l6-1 4 3-5 0zM366 205l5-1 5 2-5 1zM370 205l11-1 4 2-11 1zM379 204l10-1 5 2-11 1zM388 203l12-1 4 3-12 1zM399 203l8-1 5 2-9 1zM406 202l10-1 4 3-10 1zM415 201l10 0 4 2-10 1z"/><path fill="#0024fc" d="M423 201l11-1 4 3-10 1z"/><path fill="none" stroke="#8a8a8a" stroke-width="0.9" d="M119.2 214.3l1.6-25.6M163.6 210.1l2.5-11.5M239.2 209.2l3.2-3.1M276.8 209.2l3.5-.9M316.9 207.3l3.7.3M347.2 206.2l3.9 1.2M366.7 205l4 1.6M399.3 202.7l4.2 2"/><path fill="#00fc6c" d="M116 189l5 0 1-42-5-3z"/><path fill="#00fc78" d="M121 189l5 2 1-41-5-3z"/><path fill="#00fc90" d="M126 191l10 2 2-35-11-8z"/><path fill="#00fca8" d="M136 193l10 2 2-29-10-8z"/><path fill="#00fccc" d="M146 195l11 2 2-24-11-8z"/><path fill="#00fce4" d="M156 197l10 2 3-19-11-7z"/><path fill="#00fcfc" d="M166 199l11 1 2-17-11-3z"/><path fill="#00f0fc" d="M176 200l10 1 3-15-10-3z"/><path fill="#00e4fc" d="M186 201l10 1 3-14-10-3z"/><path fill="#00ccfc" d="M195 202l11 1 3-12-11-3z"/><path fill="#00c0fc" d="M205 203l11 1 3-11-11-2z"/><path fill="#00a8fc" d="M215 204l11 1 3-9-11-3z"/><path fill="#009cfc" d="M225 205l10 1 4-7-11-3z"/><path fill="#0090fc" d="M234 206l9 1 3-6-8-3z"/><path fill="#0084fc" d="M242 206l13 1 3-5-13-2z"/><path fill="#0078fc" d="M253 207l11 1 4-5-11-1z"/><path fill="#006cfc" d="M263 208l11 0 3-3-10-2z"/><path fill="#0060fc" d="M272 208l9 1 4-3-9-2zM280 208l13 0 3-2-13 0z"/><path fill="#0054fc" d="M291 208l11 0 4-2-11 0zM301 208l10 0 4-2-11 0z"/><path fill="#0048fc" d="M310 208l11 0 4-1-11-1zM320 208l10 0 4-1-10 0zM329 208l10-1 4 0-11 0z"/><path fill="#003cfc" d="M338 207l14 0 4 1-14-1zM350 207l7 0 5 1-8 0z"/><path fill="#0030fc" d="M356 207l11 0 4 1-11 0zM365 207l6-1 5 2-7 0zM370 206l5 0 5 2-5 0zM374 206l11 0 4 1-11 1zM383 206l11-1 4 2-11 0zM392 205l12-1 5 2-13 1zM403 205l8-1 5 2-9 1zM410 204l10-1 5 3-11 1zM419 204l10-1 5 3-11 0zM428 203l10-1 4 3-10 1z"/><path fill="none" stroke="#8a8a8a" stroke-width="0.9" d="M120.8 188.7l1.1-41.4M166.1 198.6l2.4-17.7M242.4 206.1l3.2-5.3M280.3 208.3l3.5-2.5M320.6 207.6l3.8-.9M351.1 207.4l4 .5M370.7 206.6l4.1 1M403.5 204.7l4.3 1.7"/><path fill="#48fc00" d="M116 145l6 3 2-31-6 1z"/><path fill="#3cfc00" d="M122 148l5 4 2-31-6-4z"/><path fill="#18fc00" d="M127 152l11 7 2-28-11-10z"/><path fill="#00fc0c" d="M137 159l11 8 3-26-12-10z"/><path fill="#00fc3c" d="M148 167l11 7 2-24-11-9z"/><path fill="#00fc6c" d="M158 174l11 8 2-23-11-9z"/><path fill="#00fc90" d="M168 181l11 3 3-20-11-5z"/><path fill="#00fca8" d="M178 184l11 3 3-19-11-4z"/><path fill="#00fcb4" d="M188 187l11 2 3-16-11-5z"/><path fill="#00fccc" d="M198 189l11 3 3-15-11-5z"/><path fill="#00fce4" d="M208 192l11 2 3-13-11-4z"/><path fill="#00fcfc" d="M218 194l11 3 3-11-11-5z"/><path fill="#00e4fc" d="M228 197l11 3 3-10-11-5z"/><path fill="#00ccfc" d="M237 199l9 2 4-8-9-4z"/><path fill="#00b4fc" d="M245 201l13 2 4-7-14-3z"/><path fill="#00a8fc" d="M257 203l11 1 3-6-11-3z"/><path fill="#0090fc" d="M266 204l11 1 4-5-11-2z"/><path fill="#0084fc" d="M276 205l8 1 4-4-8-2z"/><path fill="#0078fc" d="M283 206l13 0 4-3-13-2zM295 206l11 1 4-4-11-1z"/><path fill="#006cfc" d="M304 206l11 1 4-3-11-1z"/><path fill="#0060fc" d="M314 207l11 0 4-2-11-1zM324 207l10 0 4-1-10-2z"/><path fill="#0054fc" d="M332 207l11 1 4-2-11-1z"/><path fill="#0048fc" d="M342 207l14 1 4 0-14-2zM354 208l8 0 4 0-8 0z"/><path fill="#003cfc" d="M360 208l11 0 4 0-11 0zM369 208l6-1 5 1-7 0zM374 208l5-1 5 1-5 1zM378 207l11 0 4 1-11 0z"/><path fill="#0030fc" d="M387 207l11 0 4 1-10 0zM396 207l12-1 5 2-12 0zM407 206l9 0 4 2-9 0zM414 206l11 0 4 2-10 0zM423 206l11-1 4 3-10 0zM432 205l10 0 5 3-10 0z"/><path fill="none" stroke="#8a8a8a" stroke-width="0.9" d="M121.9 147.3l1.6-30M168.5 180.9l2.3-20.9M245.6 200.8l3.3-7.4M283.8 205.8l3.6-4M324.4 206.7l3.8-2M355.1 207.9l4-.2M374.8 207.6l4.1.5M407.8 206.4l4.3 1.4"/><path fill="#90fc00" d="M118 118l6-1 3 1-6 5zM123 117l6 6 3-2-6-3z"/><path fill="#6cfc00" d="M128 122l12 10 3-5-12-7z"/><path fill="#48fc00" d="M139 132l11 10 3-10-11-6z"/><path fill="#24fc00" d="M149 141l12 11 3-15-12-6z"/><path fill="#00fc00" d="M160 151l11 10 3-19-11-5z"/><path fill="#00fc24" d="M170 161l12 4 2-17-11-6z"/><path fill="#00fc3c" d="M181 165l11 5 3-17-11-6z"/><path fill="#00fc60" d="M191 169l11 5 3-15-11-6z"/><path fill="#00fc78" d="M201 174l11 4 3-14-11-6z"/><path fill="#00fc9c" d="M211 178l11 4 3-12-11-6z"/><path fill="#00fcb4" d="M221 182l11 5 3-12-11-6z"/><path fill="#00fccc" d="M231 186l11 5 3-11-11-5z"/><path fill="#00fce4" d="M241 191l8 3 4-10-9-4z"/><path fill="#00fcfc" d="M248 194l13 3 4-9-13-4z"/><path fill="#00e4fc" d="M260 196l11 3 4-8-11-3z"/><path fill="#00ccfc" d="M270 198l11 3 3-7-10-3z"/><path fill="#00c0fc" d="M279 200l9 2 4-6-9-2z"/><path fill="#00a8fc" d="M287 202l13 1 4-5-14-2z"/><path fill="#009cfc" d="M299 203l10 1 4-5-11-2z"/><path fill="#0090fc" d="M308 204l11 0 4-4-11-1z"/><path fill="#0084fc" d="M317 204l12 1 4-3-12-2z"/><path fill="#0078fc" d="M327 205l11 1 4-3-10-2z"/><path fill="#006cfc" d="M336 206l11 1 4-2-11-2z"/><path fill="#0060fc" d="M346 206l14 2 4-1-14-3z"/><path fill="#0054fc" d="M358 208l7 0 5-1-7-1zM364 208l11 0 4 0-11-1z"/><path fill="#0048fc" d="M373 208l7 0 4 0-6-1zM378 208l6 0 4 0-5-1zM382 208l11 0 4 0-10 0z"/><path fill="#003cfc" d="M392 208l10 0 4 1-10-1zM401 208l12 0 4 1-12 0z"/><path fill="#0030fc" d="M411 208l9 0 5 1-9 0zM419 208l10 0 5 2-11-1zM428 208l10-1 5 3-11 0zM437 208l10-1 4 3-10 0z"/><path fill="none" stroke="#8a8a8a" stroke-width="0.9" d="M123.5 117.3l2.7.9M170.8 160l2.5-17.5M248.9 193.4l3.3-8.7M287.4 201.8l3.6-5.4M328.2 204.7l3.9-3M359.1 207.7l4.1-1M378.9 208.1l4.2-.1M412.1 207.8l4.3 1.1"/><path fill="#84fc00" d="M120 122l6-5 4 8-6 5z"/><path fill="#90fc00" d="M126 118l6 2 3 6-6-1z"/><path fill="#78fc00" d="M131 121l12 6 3 2-12-3z"/><path fill="#6cfc00" d="M141 126l12 6 3-1-12-3z"/><path fill="#54fc00" d="M152 132l12 6 3-5-12-2z"/><path fill="#3cfc00" d="M162 137l12 6 3-7-12-3z"/><path fill="#24fc00" d="M173 143l11 6 4-8-12-6z"/><path fill="#00fc00" d="M183 148l12 6 3-8-12-5z"/><path fill="#00fc18" d="M193 154l12 6 3-8-11-6z"/><path fill="#00fc3c" d="M204 159l11 6 3-8-11-6z"/><path fill="#00fc54" d="M214 165l11 6 4-9-12-6z"/><path fill="#00fc78" d="M224 170l11 6 4-9-12-6z"/><path fill="#00fc90" d="M234 175l11 6 4-9-11-5z"/><path fill="#00fcb4" d="M244 181l8 4 4-9-8-4z"/><path fill="#00fccc" d="M252 185l13 4 4-9-14-4z"/><path fill="#00fce4" d="M264 189l10 3 4-8-11-4z"/><path fill="#00fcf0" d="M273 191l11 4 4-7-11-4z"/><path fill="#00fcfc" d="M283 194l8 3 4-7-8-3z"/><path fill="#00e4fc" d="M290 197l14 1 4-6-14-2z"/><path fill="#00ccfc" d="M302 198l11 2 4-6-11-2z"/><path fill="#00c0fc" d="M312 199l11 2 4-5-11-2z"/><path fill="#00b4fc" d="M321 201l12 1 4-4-12-2z"/><path fill="#009cfc" d="M331 202l10 2 5-4-10-3z"/><path fill="#0090fc" d="M340 203l11 2 4-3-11-3z"/><path fill="#0078fc" d="M350 205l14 2 4-2-14-3z"/><path fill="#006cfc" d="M362 207l7 1 5-2-7-2z"/><path fill="#0060fc" d="M368 207l11 1 4-1-11-2zM377 208l7 1 4-2-6-1z"/><path fill="#0054fc" d="M382 208l5 1 5-1-5-1zM387 208l10 0 5 0-11 0z"/><path fill="#0048fc" d="M396 208l10 1 5 0-11-1zM405 209l12 0 5 1-13-1z"/><path fill="#003cfc" d="M416 209l9 0 4 1-9 0zM423 209l11 0 4 2-10-1z"/><path fill="#0030fc" d="M432 209l10 0 5 3-10-1zM441 210l10 0 5 2-10 0z"/><path fill="none" stroke="#8a8a8a" stroke-width="0.9" d="M126.2 118.2l2.9 6.5M173.3 142.5l2.8-6.7M252.2 184.7l3.4-8.5M291 196.4l3.7-6M332.1 201.7l4-3.8M363.2 206.7l4.1-1.7M383.1 208l4.3-.6M416.4 208.9l4.5.7"/><path fill="#6cfc00" d="M123 129l6-5 4 11-6 5zM134 125l12 3 3 8-12-1z"/><path fill="#78fc00" d="M129 124l6 1 3 10-6 0z"/><path fill="#60fc00" d="M144 128l12 3 3 6-12-1z"/><path fill="#54fc00" d="M155 131l12 2 3 5-12-1z"/><path fill="#48fc00" d="M165 133l12 3 3 3-12-1z"/><path fill="#3cfc00" d="M175 135l13 6 3 3-12-5z"/><path fill="#18fc00" d="M186 141l12 6 3 0-12-4z"/><path fill="#00fc00" d="M196 146l12 6 3-1-11-4z"/><path fill="#00fc18" d="M207 151l11 6 4-2-12-4z"/><path fill="#00fc30" d="M217 157l11 6 4-4-12-4z"/><path fill="#00fc48" d="M227 162l11 6 4-5-11-5z"/><path fill="#00fc60" d="M237 167l11 6 4-6-11-5z"/><path fill="#00fc78" d="M247 172l9 5 4-8-9-3z"/><path fill="#00fc90" d="M255 176l13 5 4-7-13-5z"/><path fill="#00fca8" d="M267 181l11 4 4-7-11-4z"/><path fill="#00fcc0" d="M277 184l11 4 4-6-11-5z"/><path fill="#00fcd8" d="M287 188l8 3 4-6-8-4z"/><path fill="#00fce4" d="M294 191l13 2 4-6-13-3z"/><path fill="#00fcfc" d="M306 193l11 2 4-6-11-2z"/><path fill="#00f0fc" d="M316 194l10 3 5-5-11-3z"/><path fill="#00e4fc" d="M325 196l12 2 4-4-12-3z"/><path fill="#00ccfc" d="M335 198l10 2 5-4-10-3z"/><path fill="#00b4fc" d="M344 200l11 3 4-4-10-3z"/><path fill="#009cfc" d="M354 202l14 3 4-2-14-4z"/><path fill="#0084fc" d="M367 205l7 1 4-2-7-2z"/><path fill="#0078fc" d="M372 206l11 1 4-1-10-2zM382 207l6 1 4-2-6-1z"/><path fill="#006cfc" d="M387 207l5 1 5-1-5-1zM391 208l11 0 4 0-11-1z"/><path fill="#0060fc" d="M400 208l11 1 4 0-10-1z"/><path fill="#0054fc" d="M409 209l13 1 4 0-12-1z"/><path fill="#0048fc" d="M420 210l9 0 5 1-9-1z"/><path fill="#003cfc" d="M428 210l10 1 5 1-11-1zM437 211l10 0 5 3-11-2z"/><path fill="#0030fc" d="M446 211l10 1 5 3-11-1z"/><path fill="none" stroke="#8a8a8a" stroke-width="0.9" d="M129.1 124.7l3 9.6M176.1 135.8l3.1 3.3M255.6 176.2l3.5-6.6M294.7 190.4l3.8-5.7M336.1 197.9l4-4M367.3 205l4.2-1.9M387.4 207.4l4.3-1M420.9 209.6l4.5.6"/><path fill="#48fc00" d="M126 139l6-5 4 13-6 5zM137 134l11 1 4 12-12 0zM147 135l12 1 3 10-11 1z"/><path fill="#54fc00" d="M132 134l6 0 3 13-6 0z"/><path fill="#3cfc00" d="M158 137l12 1 3 8-12 0zM168 138l12 1 3 7-11 0z"/><path fill="#30fc00" d="M179 139l12 4 3 5-12-3z"/><path fill="#18fc00" d="M189 143l12 4 3 4-12-3z"/><path fill="#0cfc00" d="M200 147l11 4 4 3-12-3z"/><path fill="#00fc0c" d="M210 151l12 4 3 2-12-3z"/><path fill="#00fc24" d="M220 155l12 4 3 0-11-3z"/><path fill="#00fc30" d="M230 159l12 4 3-1-11-3z"/><path fill="#00fc48" d="M241 163l11 4 4-2-12-3z"/><path fill="#00fc60" d="M251 167l9 3 3-3-9-3z"/><path fill="#00fc6c" d="M258 170l14 5 4-4-14-5z"/><path fill="#00fc84" d="M271 174l11 5 4-4-12-4z"/><path fill="#00fc9c" d="M280 178l12 4 4-4-12-4z"/><path fill="#00fcb4" d="M290 182l9 3 4-4-9-3z"/><path fill="#00fcc0" d="M298 185l13 3 4-4-13-4z"/><path fill="#00fcd8" d="M310 188l11 2 4-4-11-3z"/><path fill="#00fce4" d="M320 190l10 2 5-4-11-3z"/><path fill="#00fcf0" d="M329 192l12 2 4-3-12-3z"/><path fill="#00f0fc" d="M339 194l11 3 4-3-10-4z"/><path fill="#00d8fc" d="M348 197l11 3 4-3-10-4z"/><path fill="#00c0fc" d="M358 199l14 5 5-3-15-5z"/><path fill="#00a8fc" d="M371 203l7 2 4-2-7-2z"/><path fill="#0090fc" d="M377 204l10 2 5-1-11-3z"/><path fill="#0084fc" d="M386 206l6 1 5-1-6-2zM391 206l5 2 5-2-5-1z"/><path fill="#0078fc" d="M395 207l11 1 4 0-10-2z"/><path fill="#006cfc" d="M405 208l10 1 5 0-11-2z"/><path fill="#0060fc" d="M414 209l12 1 5 1-13-2z"/><path fill="#0054fc" d="M425 210l9 1 4 1-9-1z"/><path fill="#0048fc" d="M432 211l11 1 4 2-10-2z"/><path fill="#003cfc" d="M441 212l11 1 4 2-10-1z"/><path fill="#0030fc" d="M450 213l11 1 4 3-10-2z"/><path fill="none" stroke="#8a8a8a" stroke-width="0.9" d="M132.1 134.3l3.1 12.2M179.2 139.1l3.3 6.1M259.1 169.6l3.5-2.8M298.5 184.7l3.8-3.9M340.1 193.9l4.1-3.2M371.5 203.1l4.3-1.8M391.7 206.4l4.4-.9M425.4 210.2l4.5.5"/><path fill="#18fc00" d="M130 151l5-5 4 15-6 6zM182 145l12 3 3 8-12-2z"/><path fill="#24fc00" d="M135 146l6 0 3 15-6 0zM140 146l12-1 3 14-12 2zM151 146l11-1 4 12-12 2zM161 145l12 0 3 11-11 1zM172 145l11 0 3 9-11 2z"/><path fill="#0cfc00" d="M193 148l11 2 4 8-12-2z"/><path fill="#00fc00" d="M203 150l12 3 3 7-12-2z"/><path fill="#00fc0c" d="M213 153l12 3 3 6-11-2z"/><path fill="#00fc24" d="M224 156l11 3 4 5-12-2z"/><path fill="#00fc30" d="M234 159l11 3 4 4-12-2z"/><path fill="#00fc3c" d="M244 162l12 3 3 2-11-2z"/><path fill="#00fc48" d="M254 164l9 3 4 2-9-2z"/><path fill="#00fc60" d="M262 167l14 4 3 1-13-4z"/><path fill="#00fc78" d="M274 171l12 4 3 0-11-3z"/><path fill="#00fc84" d="M284 175l12 4 3-1-11-3z"/><path fill="#00fc9c" d="M294 178l9 3 4-1-9-3z"/><path fill="#00fca8" d="M302 181l13 3 4-1-14-3z"/><path fill="#00fcc0" d="M314 184l11 2 4-1-11-3z"/><path fill="#00fccc" d="M324 186l11 3 4-2-11-3z"/><path fill="#00fcd8" d="M333 188l12 3 4-2-12-3z"/><path fill="#00fcf0" d="M343 191l11 3 4-2-10-3z"/><path fill="#00fcfc" d="M352 194l11 3 5-1-11-4z"/><path fill="#00d8fc" d="M362 197l14 5 5-1-15-6z"/><path fill="#00c0fc" d="M375 201l7 2 5-1-7-2z"/><path fill="#00b4fc" d="M381 202l11 3 4-1-11-3z"/><path fill="#009cfc" d="M390 204l6 2 5-1-6-2z"/><path fill="#0090fc" d="M395 206l5 1 6-1-5-2z"/><path fill="#0084fc" d="M400 206l10 2 5 0-11-2z"/><path fill="#0078fc" d="M409 208l11 1 4 1-10-2z"/><path fill="#006cfc" d="M418 209l13 2 4 1-12-3z"/><path fill="#0060fc" d="M429 211l9 1 5 1-9-2z"/><path fill="#0054fc" d="M437 212l10 2 5 1-11-2z"/><path fill="#0048fc" d="M446 213l10 2 5 2-11-2z"/><path fill="#0030fc" d="M455 215l10 2 5 2-10-2z"/><path fill="none" stroke="#8a8a8a" stroke-width="0.9" d="M135.2 146.5l3.3 14.2M182.5 145.2l3.3 8.4M262.6 166.8l3.7 1.9M302.3 180.8l3.8-1M344.2 190.7l4.2-1.6M375.8 201.3l4.3-.9M396.1 205.5l4.4-.3M429.9 210.7l4.6.8"/><path fill="#00fc24" d="M133 165l6-5 3 17-5 5zM217 159l11 2 4 8-12-1z"/><path fill="#00fc18" d="M138 160l6-1 4 16-6 2zM206 157l12 2 4 9-12-1z"/><path fill="#00fc0c" d="M143 159l12-1 3 14-11 3zM154 158l11-2 4 14-12 3zM196 155l12 2 3 10-12-1z"/><path fill="#00fc00" d="M164 156l12-2 4 13-12 3zM175 155l11-2 4 11-11 3zM185 153l12 2 4 11-12-1z"/><path fill="#00fc30" d="M227 161l12 2 3 7-11-1z"/><path fill="#00fc3c" d="M237 163l12 2 4 7-12-2z"/><path fill="#00fc48" d="M248 165l11 2 4 6-12-1z"/><path fill="#00fc54" d="M258 167l9 1 4 6-9-1z"/><path fill="#00fc60" d="M266 168l13 4 4 4-14-3z"/><path fill="#00fc6c" d="M278 172l11 3 4 4-11-3z"/><path fill="#00fc84" d="M288 175l11 3 4 3-11-3z"/><path fill="#00fc90" d="M298 177l9 3 4 3-9-2z"/><path fill="#00fc9c" d="M305 180l14 3 4 2-14-3z"/><path fill="#00fcb4" d="M318 182l11 3 4 1-11-2z"/><path fill="#00fcc0" d="M328 185l11 2 4 1-11-2z"/><path fill="#00fccc" d="M337 187l12 2 4 1-12-2z"/><path fill="#00fcd8" d="M348 189l10 4 4 0-10-3z"/><path fill="#00fcf0" d="M357 192l11 4 4 0-11-3z"/><path fill="#00f0fc" d="M366 195l15 6 4 0-14-5z"/><path fill="#00d8fc" d="M379 200l8 2 4 0-7-2z"/><path fill="#00c0fc" d="M385 202l11 2 5 1-11-3z"/><path fill="#00b4fc" d="M395 204l6 2 5 0-7-2z"/><path fill="#00a8fc" d="M400 205l4 2 6 0-5-2z"/><path fill="#009cfc" d="M404 206l11 2 5 1-11-3z"/><path fill="#0084fc" d="M413 208l11 2 5 1-11-3z"/><path fill="#0078fc" d="M423 209l12 3 5 1-13-3z"/><path fill="#006cfc" d="M434 211l9 2 4 2-9-2z"/><path fill="#0054fc" d="M441 213l11 2 5 2-11-2z"/><path fill="#0048fc" d="M450 215l11 2 5 3-11-3z"/><path fill="#003cfc" d="M460 217l10 2 5 3-11-3z"/><path fill="none" stroke="#8a8a8a" stroke-width="0.9" d="M138.5 160.7l3.3 15.3M185.8 153.6l3.4 10.5M266.3 168.7l3.7 4.6M306.1 179.8l4 2.4M348.4 189.1l4.2.7M380.1 200.4l4.4.4M400.5 205.2l4.5.5M434.5 211.5l4.7 1.4"/><path fill="#00fc60" d="M136 181l6-6 4 17-6 6zM262 172l8 1 4 7-9 0z"/><path fill="#00fc54" d="M141 175l6-1 4 17-6 2zM241 170l11 1 4 8-11 0zM251 171l12 1 4 8-12 0z"/><path fill="#00fc48" d="M147 174l11-3 4 16-12 4zM231 168l11 1 4 10-12 0z"/><path fill="#00fc3c" d="M157 172l12-3 3 14-11 4zM210 166l11 1 4 11-11 0zM220 167l12 1 3 10-11 0z"/><path fill="#00fc30" d="M168 169l11-3 4 14-12 4zM199 165l12 1 4 12-12-1z"/><path fill="#00fc24" d="M178 166l11-3 4 13-11 4zM189 164l11 1 4 12-12 0z"/><path fill="#00fc6c" d="M269 173l14 3 4 6-14-2z"/><path fill="#00fc78" d="M282 176l11 2 4 6-11-2z"/><path fill="#00fc84" d="M292 178l11 2 4 6-11-2z"/><path fill="#00fc90" d="M302 180l9 2 4 5-9-1z"/><path fill="#00fca8" d="M309 182l14 2 4 5-14-2z"/><path fill="#00fcb4" d="M322 184l11 2 4 4-11-1z"/><path fill="#00fcc0" d="M332 186l11 2 4 4-11-2z"/><path fill="#00fccc" d="M341 188l12 2 4 3-11-1z"/><path fill="#00fcd8" d="M352 190l10 3 5 3-11-3z"/><path fill="#00fcf0" d="M361 193l11 3 4 3-11-3z"/><path fill="#00fcfc" d="M371 196l14 5 5 2-15-4z"/><path fill="#00e4fc" d="M384 201l7 1 5 3-8-2z"/><path fill="#00ccfc" d="M390 202l11 3 4 2-11-3z"/><path fill="#00c0fc" d="M399 204l6 1 5 3-6-1z"/><path fill="#00b4fc" d="M404 206l5 0 6 3-5-1z"/><path fill="#00a8fc" d="M409 206l11 3 4 2-11-2z"/><path fill="#0090fc" d="M418 208l11 3 5 2-11-2z"/><path fill="#0084fc" d="M427 210l13 3 5 2-13-2z"/><path fill="#006cfc" d="M438 213l9 2 5 2-9-2z"/><path fill="#0060fc" d="M446 215l11 2 4 3-10-3z"/><path fill="#0048fc" d="M455 217l11 2 5 3-11-3z"/><path fill="#003cfc" d="M464 219l11 3 5 3-11-3z"/><path fill="none" stroke="#8a8a8a" stroke-width="0.9" d="M141.8 176l3.3 15.8M189.2 164.1l3.4 11.9M270 173.3l3.8 6.6M310.1 182.2l4 4.6M352.6 189.8l4.2 3.2M384.5 200.8l4.4 2.1M405 205.7l4.5 1.9M439.2 212.9l4.7 2"/><path fill="#00fc9c" d="M139 196l6-5 4 17-6 5zM296 183l11 2 4 8-11-1z"/><path fill="#00fc90" d="M145 191l6-2 3 17-6 2zM286 182l11 1 4 8-11-1z"/><path fill="#00fc84" d="M150 190l11-4 4 16-11 4zM273 180l14 2 4 8-14-1z"/><path fill="#00fc78" d="M161 186l11-4 4 15-12 5zM255 179l11 0 4 10-11 0zM265 179l9 0 4 10-9 0z"/><path fill="#00fc6c" d="M171 182l12-3 3 14-11 5zM234 178l12 0 4 11-12 0zM245 178l11 0 4 11-11 0z"/><path fill="#00fc54" d="M182 179l11-4 4 14-11 5zM192 175l12 1 4 13-12 1z"/><path fill="#00fc60" d="M203 176l11 0 4 13-11 0zM213 177l12 0 4 12-12 0zM224 177l11 0 4 12-11 0z"/><path fill="#00fca8" d="M306 185l8 1 5 7-9 0z"/><path fill="#00fcb4" d="M313 186l14 2 4 7-14-2zM326 188l11 2 4 6-11-1z"/><path fill="#00fcc0" d="M336 190l11 1 4 6-11-1z"/><path fill="#00fccc" d="M346 191l11 2 5 5-12-1z"/><path fill="#00fcd8" d="M356 193l11 3 4 5-11-3z"/><path fill="#00fcf0" d="M365 195l11 4 5 4-11-3z"/><path fill="#00fcfc" d="M375 199l15 4 4 4-15-4z"/><path fill="#00e4fc" d="M388 203l7 1 5 4-7-1z"/><path fill="#00ccfc" d="M394 204l11 2 5 4-11-2z"/><path fill="#00c0fc" d="M404 206l6 1 5 4-6 0z"/><path fill="#00b4fc" d="M409 207l5 1 5 4-5 0z"/><path fill="#00a8fc" d="M413 208l11 2 5 4-11-2z"/><path fill="#0090fc" d="M423 210l11 2 4 4-11-2z"/><path fill="#0084fc" d="M432 212l13 3 4 3-12-2z"/><path fill="#006cfc" d="M443 215l9 2 5 3-9-2z"/><path fill="#0060fc" d="M451 217l10 2 5 4-10-3z"/><path fill="#0048fc" d="M460 219l11 3 5 3-11-3z"/><path fill="#003cfc" d="M469 222l11 2 5 4-11-3z"/><path fill="none" stroke="#8a8a8a" stroke-width="0.9" d="M145.1 191.8l3.4 15.4M192.6 176l3.5 12.9M273.8 179.9l3.8 8.5M314.1 186.8l4 6.3M356.8 193l4.2 4.7M388.9 202.9l4.5 3.7M409.5 207.6l4.6 3.2M443.9 214.9l4.8 2.9"/><path fill="#00fcd8" d="M143 211l6-5 3 16-6 5zM340 195l11 1 4 7-11 0zM350 196l12 1 4 7-12 0z"/><path fill="#00fcc0" d="M148 207l6-3 4 16-6 3zM317 193l14 1 4 8-13-1z"/><path fill="#00fcb4" d="M153 205l12-5 4 16-12 4zM300 191l11 1 4 9-11-1zM310 192l8 0 5 9-9 0z"/><path fill="#00fca8" d="M164 201l11-5 4 15-11 5zM290 189l11 1 4 10-11 0z"/><path fill="#00fc9c" d="M175 197l11-5 4 15-12 5zM269 188l9 0 4 11-9 0zM277 188l14 1 4 10-14 0z"/><path fill="#00fc90" d="M185 192l11-4 4 15-11 4zM228 188l11 0 4 13-12 0zM238 188l11 0 4 12-11 1zM248 188l12 0 4 11-12 1zM259 188l11 0 4 11-11 1z"/><path fill="#00fc84" d="M196 188l11 0 4 14-12 1zM206 188l12 0 4 14-12 0zM217 188l11 0 4 13-11 1z"/><path fill="#00fccc" d="M330 194l11 1 4 8-11-1z"/><path fill="#00fce4" d="M360 197l11 3 4 6-10-2z"/><path fill="#00fcfc" d="M370 200l11 3 4 6-11-3z"/><path fill="#00f0fc" d="M379 203l15 3 5 6-15-4z"/><path fill="#00d8fc" d="M393 206l7 1 5 6-7-1z"/><path fill="#00ccfc" d="M399 207l11 2 4 5-11-1z"/><path fill="#00b4fc" d="M408 209l6 1 5 5-6 0zM413 210l5 1 6 5-5 0z"/><path fill="#00a8fc" d="M418 211l11 2 4 5-11-2z"/><path fill="#0090fc" d="M427 213l11 2 5 5-11-2z"/><path fill="#0084fc" d="M437 215l12 3 5 4-12-2z"/><path fill="#006cfc" d="M448 218l9 2 5 4-9-2z"/><path fill="#0060fc" d="M456 220l10 2 5 4-11-2z"/><path fill="#0048fc" d="M465 222l11 3 4 3-10-2z"/><path fill="#003cfc" d="M474 225l11 2 5 4-11-3z"/><path fill="none" stroke="#8a8a8a" stroke-width="0.9" d="M148.5 207.2l3.3 14.7M196.1 188.9l3.6 13.3M277.6 188.4l3.9 9.7M318.1 193.1l4.1 7.7M361 197.7l4.3 6.2M393.4 206.6l4.5 4.7M414.1 210.8l4.6 4.2M448.7 217.8l4.8 3.6"/><path fill="#00fcfc" d="M146 226l6-5 4 15-6 4zM151 221l6-2 4 15-6 2zM365 203l10 2 5 8-11-1z"/><path fill="#00fcf0" d="M157 219l11-4 4 14-12 5zM354 203l12 0 4 9-11-1z"/><path fill="#00fcd8" d="M167 215l12-5 4 15-12 4zM314 200l8 0 5 10-9 0zM322 200l13 1 5 9-14 0z"/><path fill="#00fccc" d="M178 210l12-4 3 14-11 5zM294 199l11 0 4 11-11 0zM304 199l11 1 4 10-11 0z"/><path fill="#00fcc0" d="M189 206l11-4 4 14-11 4zM263 199l11-1 4 12-11 1zM273 198l9-1 4 12-9 1zM281 198l14 0 4 11-14 0z"/><path fill="#00fcb4" d="M199 202l12-1 4 14-12 1zM210 201l12-1 3 14-11 1zM221 201l11-1 4 13-11 1zM231 200l12-1 4 13-12 1zM242 200l11-1 4 13-11 1zM252 199l12-1 4 13-12 1z"/><path fill="#00fce4" d="M334 201l11 1 5 9-11 0zM344 202l11 1 5 8-11 0z"/><path fill="#00f0fc" d="M374 206l11 2 5 7-12-2z"/><path fill="#00d8fc" d="M384 208l15 3 4 6-15-2z"/><path fill="#00ccfc" d="M397 211l7 1 5 6-7 0z"/><path fill="#00b4fc" d="M403 212l11 2 5 6-11-2z"/><path fill="#00a8fc" d="M413 214l6 0 5 6-6 0zM418 215l5 0 5 6-5 0z"/><path fill="#009cfc" d="M422 216l11 1 5 6-11-2z"/><path fill="#0084fc" d="M432 217l11 2 5 5-11-1z"/><path fill="#0078fc" d="M442 219l12 2 5 5-13-2z"/><path fill="#006cfc" d="M453 221l9 2 5 5-9-2z"/><path fill="#0060fc" d="M460 223l11 2 5 5-11-2z"/><path fill="#0048fc" d="M470 225l10 3 5 4-10-2z"/><path fill="#003cfc" d="M479 228l11 2 5 4-11-2z"/><path fill="none" stroke="#8a8a8a" stroke-width="0.9" d="M151.8 221.9l3.4 13.4M199.7 202.2l3.6 13.2M281.5 198.1l3.9 10.6M322.2 200.8l4.1 8.8M365.3 203.9l4.4 7.3M397.9 211.3l4.5 5.8M418.7 215l4.7 5.1M453.5 221.4l4.8 4.2"/><path fill="#00c0fc" d="M149 238l6-3 4 13-6 3zM388 214l15 3 5 7-15-2z"/><path fill="#00ccfc" d="M155 235l6-3 4 14-7 2z"/><path fill="#00d8fc" d="M160 233l12-5 4 13-12 5zM378 212l11 2 5 8-11-1z"/><path fill="#00f0fc" d="M171 228l11-5 4 14-11 5zM358 210l12 1 5 9-12 0z"/><path fill="#00fcfc" d="M181 224l12-5 4 14-12 4zM326 209l13 1 5 9-14 1zM338 210l11 0 5 10-11 0zM348 210l12 0 4 10-11 0z"/><path fill="#00fce4" d="M192 219l12-4 4 14-12 4zM203 215l12-1 3 13-11 2zM214 214l11-1 4 13-11 2zM224 213l12-1 4 13-12 2zM235 212l11-1 4 13-11 1zM245 211l12-1 4 13-12 1zM256 211l11-1 5 12-12 1zM266 210l12-1 4 12-11 1zM277 209l9-1 4 12-9 1zM285 208l14 0 4 12-14 0zM298 209l11 0 4 11-11 0z"/><path fill="#00fcf0" d="M308 209l11 0 4 11-11 0zM318 209l9 0 4 10-8 1z"/><path fill="#00e4fc" d="M369 211l10 1 5 9-10-1z"/><path fill="#00b4fc" d="M402 217l7 0 5 8-7-1z"/><path fill="#00a8fc" d="M408 218l11 1 4 7-10-1z"/><path fill="#009cfc" d="M418 219l5 0 6 7-6 0z"/><path fill="#0090fc" d="M423 220l5 0 5 7-5 0zM427 220l11 2 5 6-11-1z"/><path fill="#0084fc" d="M437 222l11 1 5 6-11-1z"/><path fill="#006cfc" d="M446 224l13 1 5 6-13-2z"/><path fill="#0060fc" d="M458 225l9 2 5 5-9-1z"/><path fill="#0054fc" d="M465 227l11 2 5 5-11-2z"/><path fill="#0048fc" d="M475 229l10 2 6 5-11-2z"/><path fill="#003cfc" d="M484 231l11 2 5 4-11-1z"/><path fill="none" stroke="#8a8a8a" stroke-width="0.9" d="M155.2 235.3l3.4 12.1M203.3 215.4l3.6 12.7M285.4 208.7l4 11M326.3 209.6l4.2 9.4M369.7 211.2l4.4 8.1M402.4 217.1l4.6 6.5M423.4 220.1l4.7 5.7M458.3 225.6l4.9 4.6"/><path fill="#0090fc" d="M153 250l6-3 3 11-6 3zM412 224l11 1 5 7-11 0z"/><path fill="#009cfc" d="M158 247l6-3 4 12-6 3zM406 223l7 0 5 8-7 0z"/><path fill="#00a8fc" d="M163 245l12-5 4 12-12 5zM393 221l15 2 4 8-15-1z"/><path fill="#00c0fc" d="M174 241l12-5 4 12-12 5zM373 219l11 1 5 9-11-1z"/><path fill="#00ccfc" d="M185 236l12-4 4 12-12 5zM363 219l12 0 4 9-12 1z"/><path fill="#00e4fc" d="M196 232l11-5 4 13-11 5zM312 219l11-1 5 11-12 1zM322 219l9-1 4 11-8 1zM330 219l14 0 4 10-14 0z"/><path fill="#00f0fc" d="M206 228l12-2 4 13-12 2zM217 227l12-2 4 13-12 1zM228 225l12-1 4 13-12 1zM239 224l11-1 4 12-11 2zM249 223l12-1 4 12-12 2zM260 222l11-1 4 12-11 2zM270 221l12-1 4 12-12 1zM281 220l9-1 4 12-9 1zM289 219l14 0 4 11-14 1zM302 219l11 0 4 11-11 1z"/><path fill="#00d8fc" d="M343 219l11 0 4 10-11 0zM353 219l11 0 4 9-11 1z"/><path fill="#00b4fc" d="M383 220l11 1 5 9-12-1z"/><path fill="#0084fc" d="M422 225l6 0 5 7-6 0zM427 225l6 1 5 7-5 0z"/><path fill="#0078fc" d="M432 226l11 1 5 7-11-1zM442 227l10 1 5 6-10 0z"/><path fill="#006cfc" d="M451 229l13 1 5 5-13 0z"/><path fill="#0060fc" d="M463 230l8 1 6 6-9-1z"/><path fill="#0054fc" d="M470 231l11 2 5 5-11-1z"/><path fill="#003cfc" d="M480 233l11 2 5 4-11-1z"/><path fill="#0030fc" d="M489 235l11 2 5 4-11-1z"/><path fill="none" stroke="#8a8a8a" stroke-width="0.9" d="M158.6 247.4l3.3 10.6M206.9 228.1l3.6 11.9M289.4 219.7l4 10.8M330.5 219l4.2 9.6M374.1 219.3l4.4 8.4M407 223.6l4.6 6.9M428.1 225.8l4.7 6.2M463.2 230.2l5 5"/><path fill="#006cfc" d="M156 260l6-3 4 11-6 2zM437 232l11 1 5 6-11 0z"/><path fill="#0078fc" d="M161 258l7-3 3 11-6 2zM427 231l6 0 5 8-6 0zM432 232l5 0 6 7-5 0z"/><path fill="#0084fc" d="M167 256l12-5 3 11-12 4zM411 230l7 0 5 8-7 0zM417 231l11 0 5 7-11 0z"/><path fill="#0090fc" d="M178 252l12-5 3 11-12 4zM397 229l15 1 5 8-15-1z"/><path fill="#009cfc" d="M188 248l12-5 4 12-12 4zM387 228l11 1 5 8-11 0z"/><path fill="#00b4fc" d="M199 244l12-5 4 12-12 4zM334 228l14 0 4 10-14 1zM347 228l11 0 5 9-12 1zM357 228l11-1 5 10-11 1z"/><path fill="#00c0fc" d="M210 240l12-2 4 12-12 2zM221 238l12-1 4 12-12 1zM232 237l11-1 4 11-11 2zM242 236l12-2 4 12-12 2zM253 235l12-2 4 12-12 1zM264 233l11-1 4 12-11 1zM274 232l12-1 4 11-12 2zM285 231l9-1 4 11-9 2zM293 230l14-1 4 11-14 1zM306 230l11-1 4 11-11 1zM316 229l11-1 5 11-12 1zM326 229l9-1 5 11-9 0z"/><path fill="#00a8fc" d="M367 228l12-1 5 10-12 0zM378 227l10 1 5 9-10 0z"/><path fill="#0060fc" d="M446 233l11 1 5 6-11 0zM456 234l13 1 5 6-13-1z"/><path fill="#0054fc" d="M467 235l9 1 6 5-9 0z"/><path fill="#0048fc" d="M475 236l11 1 5 5-11 0z"/><path fill="#003cfc" d="M485 238l11 1 5 4-11 0z"/><path fill="#0030fc" d="M494 239l11 1 5 4-10 0z"/><path fill="none" stroke="#8a8a8a" stroke-width="0.9" d="M161.9 258l3.3 9.2M210.5 240l3.7 10.9M293.4 230.5l4.1 10.4M334.7 228.6l4.3 9.5M378.5 227.7l4.5 8.5M411.6 230.5l4.7 7.1M432.8 232l4.8 6.4M468.2 235.2l5 5.2"/><path fill="#0054fc" d="M159 269l6-3 4 10-6 2zM451 239l11 0 5 7-11 0zM461 239l13 1 5 6-13 0z"/><path fill="#0060fc" d="M165 267l6-2 4 9-7 2zM170 265l12-4 4 10-12 3zM437 238l5 0 6 7-5 0zM441 238l11 1 6 6-11 0z"/><path fill="#006cfc" d="M181 261l12-4 4 10-12 4zM416 237l7 0 5 8-7 0zM422 237l11 1 5 7-11 0zM432 238l6 0 5 7-6 0z"/><path fill="#0078fc" d="M192 258l12-4 4 10-12 4zM402 237l15 0 5 8-15 0z"/><path fill="#0084fc" d="M203 254l12-4 4 11-12 3zM372 236l11 0 5 9-12 1zM382 236l11 0 5 9-11 0zM392 236l11 0 5 9-11 0z"/><path fill="#0090fc" d="M214 251l12-2 4 11-13 1zM225 249l11-1 5 10-12 2zM235 248l12-2 4 11-12 2zM246 247l12-2 4 11-12 1zM257 245l12-1 4 10-12 2zM320 239l12-1 4 10-11 1zM331 238l8-1 5 11-9 0zM338 238l14-1 5 10-14 1zM351 237l11-1 5 10-11 1zM361 237l12-1 4 9-11 1z"/><path fill="#009cfc" d="M268 244l11-2 4 11-11 2zM278 243l12-2 4 11-12 1zM289 241l9-1 4 11-9 1zM297 241l14-2 4 11-14 1zM310 240l11-1 5 10-12 1z"/><path fill="#0048fc" d="M473 240l8 1 6 5-9 0z"/><path fill="#003cfc" d="M480 241l11 1 6 5-11 0zM490 242l11 1 5 4-11 0z"/><path fill="#0030fc" d="M499 243l11 1 6 4-11 0z"/><path fill="none" stroke="#8a8a8a" stroke-width="0.9" d="M165.2 267.2l3.4 8M214.2 250.9l3.6 9.8M297.5 240.9l4.1 9.6M339 238.1l4.3 9M383 236.2l4.6 8.2M416.3 237.6l4.7 7M437.6 238.4l4.9 6.3M473.2 240.4l5.1 5.1"/><path fill="#0048fc" d="M162 277l7-3 4 9-7 1zM168 275l6-2 4 8-6 2zM456 245l11 0 5 6-11 0zM466 245l13 0 5 6-13 0z"/><path fill="#0054fc" d="M173 273l13-3 3 8-12 3zM184 270l13-4 3 9-12 3zM437 244l6 0 5 7-6 1zM442 244l5 0 6 7-6 1zM446 245l11-1 6 7-11 0z"/><path fill="#0060fc" d="M196 267l12-4 4 9-13 4zM406 244l16 0 5 8-16 0zM420 244l7 0 6 8-7 0zM427 244l11 0 5 7-11 1z"/><path fill="#006cfc" d="M206 264l12-4 4 10-12 3zM217 260l12-1 4 9-12 2zM376 245l12-1 5 8-12 2zM387 244l10 0 5 8-10 1zM396 244l12 0 5 8-12 1z"/><path fill="#0078fc" d="M228 259l12-2 4 10-12 2zM239 258l12-2 4 10-12 1zM250 256l12-1 4 9-12 2zM261 255l12-2 4 10-12 2zM271 254l12-2 5 10-12 1zM282 252l12-1 4 10-12 1zM293 251l9-1 4 10-9 1zM301 250l14-1 4 9-14 2zM314 249l11-1 5 9-12 2zM324 248l12-1 4 9-11 2zM335 247l9-1 4 10-8 1zM343 247l14-1 4 9-14 1zM356 246l11-1 5 9-12 1zM366 245l11-1 5 9-11 1z"/><path fill="#003cfc" d="M478 245l9 0 5 6-9 0zM485 246l11 0 6 5-11 0z"/><path fill="#0030fc" d="M495 246l11 1 5 4-10 1zM505 247l11 0 5 5-11 0z"/><path fill="none" stroke="#8a8a8a" stroke-width="0.9" d="M168.6 275.2l3.4 7M217.8 260.7l3.7 8.7M301.6 250.5l4.2 8.8M343.3 247.1l4.4 8.3M387.6 244.4l4.6 7.8M421 244.6l4.8 6.7M442.5 244.7l4.9 6.1M478.3 245.5l5.1 5.1"/><path fill="#003cfc" d="M166 283l6-2 4 8-6 1zM171 282l7-2 4 7-7 2zM177 281l12-4 4 8-12 3zM461 250l11 0 6 6-11 1zM471 250l13 0 5 6-13 0zM483 250l9 0 5 6-9 0z"/><path fill="#0048fc" d="M188 278l12-4 4 8-12 3zM431 251l12-1 5 7-11 1zM441 251l6-1 6 7-6 1zM447 250l5 0 6 7-6 0zM451 251l11-1 6 6-11 1z"/><path fill="#0054fc" d="M199 275l12-3 4 8-12 3zM210 272l12-3 4 8-12 3zM392 252l10-1 5 8-11 1zM401 252l11-1 5 8-11 0zM411 251l15 0 5 7-15 1zM425 251l7-1 6 8-7 0z"/><path fill="#0060fc" d="M221 269l12-2 4 9-12 2zM232 268l12-2 4 9-12 1zM243 266l12-1 4 9-12 1zM254 265l12-1 4 8-12 2zM265 264l12-2 4 9-12 2zM275 263l12-2 5 9-12 1zM286 261l12-1 4 8-11 2zM297 260l9-1 5 9-10 1zM305 259l14-1 5 8-15 2zM318 258l12-2 4 9-11 1zM329 257l11-1 5 8-12 1zM339 256l9-1 5 8-9 1zM347 255l14-1 5 8-14 2zM360 254l11-1 5 8-11 2zM370 253l12-1 5 8-12 2zM381 253l12-1 5 8-13 1z"/><path fill="#0030fc" d="M491 251l11 0 5 5-11 0zM500 251l11 0 6 4-11 1zM510 251l11 0 6 4-11 1z"/><path fill="none" stroke="#8a8a8a" stroke-width="0.9" d="M172 282.2l3.4 6.1M221.5 269.4l3.8 7.7M305.8 259.3l4.2 7.9M347.7 255.4l4.4 7.6M392.2 252.2l4.7 7.1M425.8 251.3l4.9 6.3M447.4 250.8l5 5.8M483.4 250.6l5.3 4.9"/><path fill="#0030fc" d="M169 289l7-1 3 6-6 2zM175 288l6-2 4 7-6 1zM180 287l13-3 3 7-12 2zM476 256l13-1 6 5-13 1zM488 255l9 0 6 5-9 1zM496 255l11 0 6 5-12 0zM506 255l11 0 5 4-11 1zM515 255l11 0 6 4-11 1z"/><path fill="#003cfc" d="M191 284l13-3 4 7-13 3zM203 282l12-3 4 7-13 3zM430 257l7 0 6 6-7 1zM436 257l12-1 5 7-11 1zM446 257l6-1 6 6-6 1zM452 256l5 0 6 6-5 1zM456 256l12 0 5 6-11 0zM466 256l11-1 6 6-11 1z"/><path fill="#0048fc" d="M214 279l12-2 4 7-12 3zM225 277l12-2 4 8-12 2zM236 276l12-2 4 8-12 1zM247 274l12-1 4 7-12 2zM258 273l12-2 4 8-12 2zM269 272l12-2 4 8-12 1zM279 270l12-1 5 8-12 1zM290 269l12-1 5 7-12 2zM344 263l8-1 5 8-9 1zM351 263l15-2 4 8-14 1zM364 262l12-2 5 8-12 1zM375 261l11-1 5 7-11 1zM385 260l12-1 5 7-12 1zM396 259l11-1 5 7-11 1zM406 259l11-1 5 7-11 1zM416 258l15-1 5 7-15 1z"/><path fill="#0054fc" d="M301 268l9-2 5 9-9 1zM309 267l15-2 4 8-14 2zM322 266l12-2 5 8-12 1zM333 265l12-2 4 8-11 1z"/><path fill="none" stroke="#8a8a8a" stroke-width="0.9" d="M175.4 288.3l3.4 5.5M225.3 277.1l3.7 6.9M310 267.2l4.2 7M352.1 263l4.5 6.8M396.9 259.3l4.7 6.5M430.7 257.6l5 5.9M452.4 256.6l5.1 5.5M488.7 255.5l5.3 4.7"/><path fill="#0030fc" d="M172 295l7-2 4 6-7 1zM178 293l7-1 4 6-7 1zM184 293l12-3 4 6-13 2zM195 290l13-2 3 6-12 2zM206 288l13-2 4 6-13 2zM441 263l12-1 5 6-11 1zM451 262l7-1 5 6-6 1zM457 262l5-1 6 6-5 1zM461 262l12-1 5 5-11 1zM471 261l12-1 5 6-11 1zM481 261l14-1 5 5-13 1zM493 260l9-1 6 5-9 1zM501 260l11-1 6 5-11 1zM511 259l11 0 6 4-11 1zM521 259l11-1 6 5-11 1z"/><path fill="#003cfc" d="M217 286l13-3 4 7-13 3zM228 284l13-2 4 7-13 2zM240 282l12-1 4 7-12 1zM251 281l12-1 4 7-12 1zM262 280l12-2 4 7-12 2zM273 279l12-2 4 7-12 2zM284 277l12-1 4 7-12 1zM294 276l12-1 5 7-12 1zM305 275l10-1 4 7-9 1zM314 274l14-2 5 7-15 2zM327 273l12-2 4 7-12 2zM337 271l12-1 5 7-12 2zM348 270l9-1 5 7-9 1zM356 270l14-2 5 7-14 1zM369 268l12-1 5 7-12 1zM379 267l12-1 5 7-12 1zM390 267l12-2 5 7-12 1zM401 265l11 0 5 6-11 1zM411 265l11-1 5 6-11 1zM421 264l15-1 5 6-15 1zM435 263l7-1 6 7-7 1z"/><path fill="none" stroke="#8a8a8a" stroke-width="0.9" d="M178.8 293.8l3.4 5M229 284l3.8 6.1M314.2 274.2l4.4 6.3M356.6 269.8l4.6 6.2M401.6 265.8l4.9 5.8M435.7 263.5l5 5.4M457.5 262.1l5.2 5.1M494 260.2l5.4 4.5"/><path fill="#0030fc" d="M176 299l7-1 3 6-6 1zM182 299l6-2 4 6-7 1zM187 298l13-3 4 6-13 2zM199 296l12-3 4 6-13 2zM210 294l12-3 4 7-12 2zM221 292l12-2 4 6-12 2zM232 290l13-2 4 7-13 1zM244 289l12-2 4 6-12 2zM255 287l12-1 4 6-12 2zM266 286l12-1 4 6-12 1zM277 285l12-2 4 7-12 1zM288 284l12-2 4 6-12 2zM299 282l12-1 4 6-12 2zM310 281l9-1 5 6-10 2zM318 280l14-1 5 6-15 2zM331 279l12-2 5 7-12 1zM342 278l12-2 5 7-12 1zM352 277l10-2 5 7-10 1zM360 276l15-2 5 6-15 2zM374 274l11-1 5 6-11 2zM384 273l12-1 5 6-12 2zM395 272l12-1 5 6-12 2zM406 271l11-1 5 6-11 2zM415 271l12-2 5 6-11 2zM426 270l15-2 6 6-16 2zM440 269l7-1 6 6-7 1zM446 268l12-1 5 6-11 1zM457 267l6-1 6 6-7 1zM462 267l5-1 6 6-5 1zM467 267l11-1 6 5-12 1zM477 266l11-1 6 5-12 1zM487 265l13-1 6 5-14 1zM499 264l9 0 6 4-10 2zM507 264l11-1 6 5-12 1zM517 263l11-1 6 5-12 1zM526 263l12-1 5 4-11 1z"/><path fill="none" stroke="#8a8a8a" stroke-width="0.9" d="M182.2 298.8l3.5 4.7M232.8 290.1l3.9 5.6M318.6 280.5l4.4 5.6M361.2 276l4.6 5.5M406.5 271.6l4.9 5.4M440.7 268.9l5.1 5M462.7 267.2l5.2 4.7M499.4 264.7l5.4 4.2"/><path fill="#0030fc" d="M179 304l7-1 4 5-7 1zM185 303l7-1 4 5-7 2zM191 302l13-2 3 6-13 2zM202 301l13-2 4 5-13 2zM214 299l12-2 4 6-12 1zM225 297l12-2 4 6-12 2zM236 296l13-2 4 6-13 1zM247 294l13-1 4 6-12 1zM259 293l12-2 4 6-12 2zM270 292l12-2 5 6-13 2zM281 291l12-2 5 6-13 1zM292 289l12-1 5 6-13 1zM303 288l12-1 5 5-13 2zM314 287l9-2 5 7-9 1zM322 286l15-2 5 6-15 2zM336 284l12-1 4 6-12 1zM346 283l12-1 5 6-12 1zM357 282l9-1 5 6-9 1zM365 281l15-1 5 5-15 2zM378 280l12-1 5 5-12 2zM389 279l12-1 5 5-12 2zM400 278l12-2 5 6-12 2zM411 277l11-1 5 5-11 1zM420 276l12-1 5 5-11 1zM431 275l15-2 6 6-16 1zM445 274l7-1 6 5-7 1zM451 273l12-1 5 5-11 1zM462 272l6-1 6 6-6 1zM467 272l6-1 6 5-6 1zM472 271l11-1 6 5-11 2zM482 271l11-2 6 5-11 2zM492 270l13-2 6 5-13 2zM504 269l9-1 6 4-9 2zM512 268l11-1 6 5-11 1zM522 267l11-1 6 5-11 1z"/><path fill="#0024fc" d="M532 267l11-2 6 5-11 1z"/><path fill="none" stroke="#8a8a8a" stroke-width="0.9" d="M185.7 303.5l3.6 4.5M236.7 295.7l3.9 5.2M323 286.1l4.4 5.2M365.8 281.5l4.7 5.1M411.4 277l5 4.9M445.8 273.9l5.2 4.6M467.9 271.9l5.4 4.5M504.8 268.9l5.6 4.1"/><path fill="#0024fc" d="M183 308l7-1 4 6-7 1zM189 308l6-1 4 5-6 1zM518 272l11-1 6 4-11 2zM528 271l11-1 6 4-11 2zM538 270l11-1 6 4-11 2z"/><path fill="#0030fc" d="M194 307l13-2 4 5-13 2zM206 305l13-1 4 5-13 2zM217 304l13-2 4 5-13 2zM229 302l12-2 4 6-12 2zM240 301l13-2 4 6-13 1zM251 299l13-1 4 5-12 2zM263 298l12-1 5 5-13 2zM274 297l12-2 5 6-13 1zM285 296l12-2 5 6-13 1zM296 294l13-1 4 5-12 2zM307 293l13-1 4 5-12 2zM318 292l10-1 5 5-10 2zM327 291l14-2 5 6-15 1zM340 290l12-2 5 6-12 1zM351 288l12-1 5 5-12 2zM362 287l9-1 5 6-9 1zM370 286l15-1 5 5-15 2zM383 285l12-1 5 5-12 1zM394 284l12-2 5 6-12 1zM404 283l13-2 5 6-12 1zM416 282l11-2 5 6-11 1zM425 281l12-2 6 6-12 1zM436 280l16-2 5 5-16 2zM450 278l8-1 5 5-7 2zM457 278l11-2 6 5-12 2zM467 277l6-1 6 5-6 1zM473 276l5-1 6 5-5 1zM477 276l12-2 5 5-11 2zM487 275l12-1 6 4-12 2zM498 274l13-1 6 4-14 2zM510 273l9-1 6 4-9 2z"/><path fill="none" stroke="#8a8a8a" stroke-width="0.9" d="M189.3 308l3.6 4.4M240.6 300.9l3.9 4.8M327.4 291.3l4.5 4.8M370.5 286.6l4.8 4.7M416.4 281.9l5.1 4.6M451 278.5l5.3 4.4M473.3 276.4l5.4 4.2M510.4 273l5.7 4"/><path fill="#0024fc" d="M186 313l7-1 4 5-7 1zM192 312l7-1 4 5-7 1zM198 311l13-1 4 5-13 1zM503 278l14-2 6 5-14 2zM515 277l10-1 6 4-10 2zM524 276l11-1 6 4-11 2zM534 275l11-1 6 4-11 2zM544 274l11-1 6 4-11 2z"/><path fill="#0030fc" d="M210 310l12-2 4 5-12 2zM221 308l13-1 4 5-13 2zM233 307l12-2 4 5-12 2zM244 306l13-2 4 5-13 2zM255 304l13-1 4 5-12 2zM267 303l12-2 5 6-13 1zM278 302l13-2 4 5-12 2zM289 301l13-2 4 5-12 2zM300 299l13-1 5 5-13 2zM312 298l12-1 5 5-13 1zM323 297l9-2 5 6-9 1zM331 296l15-2 5 5-15 2zM345 294l12-1 5 5-12 2zM356 293l12-1 5 5-12 1zM366 292l10-1 5 5-9 1zM375 291l14-2 5 5-14 2zM388 290l12-2 5 5-12 2zM399 289l12-2 5 5-12 2zM409 288l13-2 5 5-12 2zM421 286l11-1 5 5-11 1zM431 285l11-1 6 5-12 1zM441 284l16-1 5 4-15 2zM456 283l7-1 6 5-7 1zM462 282l12-1 5 4-11 2zM472 281l7-1 6 5-6 1zM478 280l5-1 7 5-6 1zM483 280l11-1 6 4-12 2zM493 279l11-1 6 4-11 2z"/><path fill="none" stroke="#8a8a8a" stroke-width="0.9" d="M192.9 312.4l3.6 4.3M244.5 305.7l4 4.6M331.9 296.1l4.6 4.5M375.3 291.3l4.9 4.5M421.5 286.5l5.1 4.3M456.3 282.9l5.4 4.2M478.7 280.6l5.5 4.1M516.1 277l5.7 3.9"/><path fill="#0024fc" d="M190 317l7-1 4 5-7 1zM196 316l7-1 4 6-7 1zM202 316l13-2 4 5-13 2zM213 314l13-1 4 5-13 1zM225 313l13-2 4 5-13 2zM446 289l16-2 6 4-16 2zM461 287l7-1 6 5-7 1zM467 286l12-1 6 5-12 1zM478 285l6-1 7 5-7 1zM483 285l6-1 6 4-5 1zM488 284l12-1 6 4-12 2zM499 283l11-1 6 4-11 2zM509 282l13-2 6 5-13 1zM521 281l9-2 7 5-10 1zM529 280l12-2 6 5-12 1zM540 279l11-2 6 5-11 1zM550 278l11-2 6 5-11 1z"/><path fill="#0030fc" d="M237 312l12-2 4 5-12 2zM248 310l13-1 4 5-13 1zM260 309l12-2 5 5-13 2zM271 308l13-2 4 5-13 2zM282 306l13-1 4 5-12 1zM294 305l12-1 5 5-13 1zM305 304l12-2 5 5-13 2zM316 303l13-2 4 5-12 2zM327 301l10-1 5 5-10 2zM336 301l15-2 5 5-15 1zM349 299l13-2 5 5-13 2zM360 298l13-2 5 5-13 2zM371 297l10-2 5 5-9 2zM379 296l15-2 6 5-15 2zM393 294l12-1 5 5-12 1zM404 293l12-1 5 4-12 2zM415 292l12-2 6 5-13 2zM426 291l11-2 6 5-12 2zM436 290l12-2 5 5-12 1z"/><path fill="none" stroke="#8a8a8a" stroke-width="0.9" d="M196.5 316.7l3.7 4.4M248.5 310.3l4.1 4.6M336.5 300.6l4.7 4.4M380.2 295.8l4.9 4.3M426.6 290.8l5.3 4.2M461.7 287.1l5.4 4.1M484.2 284.7l5.6 4.1M521.8 280.9l5.8 3.8"/><path fill="#0024fc" d="M194 321l7-1 4 6-7 1zM200 321l6-1 5 5-7 1zM205 320l14-1 4 5-14 1zM217 319l13-2 4 5-13 2zM229 317l13-1 4 5-13 1zM241 316l12-2 4 5-12 2zM252 315l13-2 4 5-13 2zM264 313l13-1 4 5-13 1zM275 312l13-1 4 5-12 1zM287 311l12-2 5 5-13 2zM298 310l13-2 4 5-12 2zM309 308l13-1 5 5-13 1zM321 307l12-2 5 5-13 2zM332 306l10-2 5 6-10 1zM340 305l15-2 5 5-15 2zM354 303l12-1 6 5-13 1zM365 302l12-1 6 4-13 2zM376 301l10-1 5 5-10 1zM384 300l15-2 6 5-15 2zM398 299l12-2 6 5-13 1zM409 297l12-1 5 5-12 1zM420 296l12-1 6 4-13 2zM431 295l11-2 6 5-11 2zM441 294l12-2 6 5-12 2zM452 293l16-2 5 4-16 2zM466 291l8-1 6 5-7 1zM473 290l12-1 6 4-12 2zM483 289l7-1 6 5-6 1zM489 289l5-1 7 4-5 1zM494 288l12-1 6 4-12 2zM504 287l12-2 6 5-12 2zM515 286l13-2 6 5-13 1zM527 285l9-2 7 5-10 1zM535 284l12-2 6 5-12 1zM545 283l12-2 6 5-11 1zM556 282l11-2 6 4-11 2z"/><path fill="none" stroke="#8a8a8a" stroke-width="0.9" d="M200.2 321.1l3.8 4.4M252.6 314.9l4.2 4.4M341.2 305l4.7 4.3M385.1 300.1l5.1 4.3M431.9 295l5.3 4.2M467.1 291.2l5.6 4M489.8 288.8l5.7 3.9M527.6 284.7l5.9 3.9"/><path fill="#0024fc" d="M197 326l7-1 5 5-7 1zM203 325l7-1 5 5-7 2zM209 325l13-2 5 5-14 2zM221 323l13-1 4 5-13 1zM233 322l13-2 4 5-13 2zM245 320l12-1 5 5-13 2zM256 319l13-1 5 5-14 1zM268 318l13-2 4 5-13 2zM280 317l12-2 5 5-13 2zM291 315l13-1 4 5-12 1zM302 314l13-2 5 5-13 2zM314 313l13-2 4 5-12 2zM325 311l13-1 5 5-13 1zM337 310l9-1 5 5-9 1zM345 309l15-2 5 5-15 2zM359 308l12-2 6 5-13 2zM370 306l12-1 6 5-13 1zM381 305l10-1 5 5-9 1zM389 304l16-2 5 5-15 2zM403 303l12-2 6 5-12 2zM414 302l12-2 6 5-12 1zM425 300l13-1 5 4-13 2zM436 299l12-2 5 5-11 2zM447 298l12-2 5 5-12 2zM457 297l16-2 6 4-16 2zM472 295l7-1 7 5-8 1zM479 294l11-1 6 4-12 2zM489 293l6-1 7 5-6 1zM495 293l5-2 7 5-6 1zM500 292l11-2 6 5-11 2zM510 291l12-2 6 5-12 2zM520 290l14-2 6 5-13 1zM533 288l9-1 7 5-10 1zM541 288l12-2 6 4-12 2zM551 286l12-1 6 4-11 2zM562 285l11-1 7 4-12 2z"/><path fill="none" stroke="#8a8a8a" stroke-width="0.9" d="M204 325.5l3.8 4.4M256.8 319.3l4.1 4.4M345.9 309.3l4.8 4.3M390.2 304.4l5.1 4.2M437.2 299.2l5.4 4.1M472.7 295.2l5.6 4.1M495.5 292.7l5.7 4M533.5 288.6l6 3.8"/></g>
<path d="M109.7 223.1 110.9 223.9 112.1 223.6 113.3 221.1 114.3 215 115.1 203.7 115.7 186.3 116.2 164.3 116.7 141.6 117.4 124.4 118.5 118.4 119.9 120 121.3 122.4 122.8 125.8 124.3 130 125.8 135 127.4 140.6 129 146.9 130.6 153.7 132.2 160.9 133.9 168.5 135.5 176.3 137.2 184.1 138.9 192.1 140.6 199.9 142.3 207.6 144 215.1 145.6 222.3 147.3 229.3 149 235.8 150.7 242.1 152.4 247.9 154.1 253.4 155.7 258.5 157.4 263.3 159.1 267.7 160.8 271.9 162.5 275.7 164.2 279.3 165.8 282.6 167.5 285.7 169.2 288.7 171 291.5 172.7 294.1 174.4 296.7 176.1 299.1 177.9 301.5 179.6 303.8 181.4 306.1 183.2 308.4 185 310.6 186.8 312.8 188.6 315 190.5 317.2 192.3 319.4 194.2 321.6 196.1 323.8 198 326.1 199.9 328.3 201.8 330.5 205.2 499 203.4 496.2 201.5 493.4 199.6 490.6 197.8 487.8 196 485.1 194.2 482.3 192.4 479.6 190.6 477 188.8 474.3 187.1 471.7 185.3 469 183.6 466.4 181.9 463.9 180.2 461.3 178.5 458.8 176.8 456.2 175.2 453.7 173.5 451.2 171.9 448.8 170.2 446.3 168.6 443.9 167 441.5 165.4 439.1 163.8 436.7 162.3 434.3 160.7 432 159.2 429.6 157.6 427.3 156.1 425 154.6 422.8 153.1 420.5 151.6 418.2 150.1 416 148.6 413.8 147.2 411.6 145.7 409.4 144.3 407.2 142.8 405.1 141.4 402.9 140 400.8 138.6 398.7 137.2 396.6 135.8 394.5 134.4 392.4 133.1 390.4 131.7 388.3 130.4 386.3 129 384.3 127.7 382.3 126.4 380.3 125.1 378.3 123.8 376.3 122.5 374.4 121.2 372.5 119.9 370.5 118.6 368.6 117.3 366.7 116.1 364.8 114.8 362.9Z" fill="#96e1e1" fill-opacity="0.4"/>
<clipPath id="lca"><path d="M109.7 223.1 110.9 223.9 112.1 223.6 113.3 221.1 114.3 215 115.1 203.7 115.7 186.3 116.2 164.3 116.7 141.6 117.4 124.4 118.5 118.4 119.9 120 121.3 122.4 122.8 125.8 124.3 130 125.8 135 127.4 140.6 129 146.9 130.6 153.7 132.2 160.9 133.9 168.5 135.5 176.3 137.2 184.1 138.9 192.1 140.6 199.9 142.3 207.6 144 215.1 145.6 222.3 147.3 229.3 149 235.8 150.7 242.1 152.4 247.9 154.1 253.4 155.7 258.5 157.4 263.3 159.1 267.7 160.8 271.9 162.5 275.7 164.2 279.3 165.8 282.6 167.5 285.7 169.2 288.7 171 291.5 172.7 294.1 174.4 296.7 176.1 299.1 177.9 301.5 179.6 303.8 181.4 306.1 183.2 308.4 185 310.6 186.8 312.8 188.6 315 190.5 317.2 192.3 319.4 194.2 321.6 196.1 323.8 198 326.1 199.9 328.3 201.8 330.5 205.2 499 203.4 496.2 201.5 493.4 199.6 490.6 197.8 487.8 196 485.1 194.2 482.3 192.4 479.6 190.6 477 188.8 474.3 187.1 471.7 185.3 469 183.6 466.4 181.9 463.9 180.2 461.3 178.5 458.8 176.8 456.2 175.2 453.7 173.5 451.2 171.9 448.8 170.2 446.3 168.6 443.9 167 441.5 165.4 439.1 163.8 436.7 162.3 434.3 160.7 432 159.2 429.6 157.6 427.3 156.1 425 154.6 422.8 153.1 420.5 151.6 418.2 150.1 416 148.6 413.8 147.2 411.6 145.7 409.4 144.3 407.2 142.8 405.1 141.4 402.9 140 400.8 138.6 398.7 137.2 396.6 135.8 394.5 134.4 392.4 133.1 390.4 131.7 388.3 130.4 386.3 129 384.3 127.7 382.3 126.4 380.3 125.1 378.3 123.8 376.3 122.5 374.4 121.2 372.5 119.9 370.5 118.6 368.6 117.3 366.7 116.1 364.8 114.8 362.9Z"/></clipPath>
<g clip-path="url(#lca)"><g clip-path="url(#fca)"><g filter="url(#blura)"><path fill="#6496ff" d="M114 363l14-2 4 6-15 2zM171 449l16-2 5 7-16 3zM176 456l16-3 5 8-17 2zM180 463l16-3 5 8-16 2zM185 469l16-2 5 8-16 3zM190 477l16-3 5 8-16 3zM194 484l17-3 5 9-16 2zM199 491l17-2 5 8-16 3zM126 361l15-2 3 6-14 2zM190 454l16-3 5 8-16 2zM195 461l16-3 5 8-16 2zM199 467l17-2 5 8-16 2zM204 474l17-2 5 8-17 3zM209 482l17-3 5 8-16 3zM214 489l17-3 5 9-16 2zM139 360l14-2 4 6-14 2zM204 452l16-3 5 8-16 2zM209 459l16-3 5 8-16 2zM214 465l16-2 5 8-16 2zM219 472l16-2 6 8-17 2zM224 480l16-3 6 8-17 3zM229 487l17-3 5 9-16 2zM151 358l14-2 4 6-14 2zM219 450l15-3 6 8-16 2zM223 457l16-3 6 8-16 2zM228 463l16-2 6 8-16 2zM234 470l16-2 5 8-16 2zM239 477l16-2 6 8-17 3zM244 485l16-3 6 8-16 3zM164 357l14-2 4 6-14 2zM238 455l15-3 6 8-16 2zM243 461l16-2 5 8-16 2zM248 468l16-2 6 8-16 2zM253 475l17-2 5 8-16 2zM259 483l16-3 6 8-16 3zM176 355l14-1 4 5-14 2zM252 453l16-3 5 8-16 2zM257 459l16-2 6 8-16 2zM262 466l16-2 6 8-16 2zM268 473l16-2 6 8-16 2zM273 480l17-2 6 8-17 3zM188 354l14-2 4 6-14 2zM266 451l16-3 5 8-16 2zM271 457l16-2 6 8-16 2zM277 464l16-2 6 8-16 2zM282 471l16-2 6 8-16 2zM288 478l16-2 6 8-16 2zM200 353l14-2 5 5-14 2zM280 449l15-3 6 8-15 2zM285 455l16-2 6 8-16 2zM291 462l16-2 6 7-16 3zM297 469l16-3 6 8-16 3zM303 476l16-2 6 8-16 2zM213 351l13-2 5 6-14 2zM294 447l15-3 6 8-15 2zM299 453l16-2 6 8-16 2zM305 460l16-2 6 7-16 3zM311 467l16-3 6 8-16 3zM317 474l16-3 6 9-16 2z"/><path fill="#64beff" d="M117 368l15-2 3 6-14 2zM130 366l14-2 4 6-14 2zM177 434l15-2 5 7-16 3zM142 365l15-2 4 6-15 2zM155 363l14-2 4 6-14 2zM167 362l15-2 4 6-15 2zM223 435l15-2 6 7-16 2zM237 433l15-2 5 7-15 2zM250 431l16-2 5 7-15 3zM264 429l15-2 6 7-16 3zM277 428l16-3 5 7-15 3z"/><path fill="#50ff96" d="M121 373l14-2 4 6-15 2z"/><path fill="#aaff64" d="M124 378l15-2 4 6-15 2zM131 389l15-2 4 6-15 2zM141 382l14-2 4 6-14 2z"/><path fill="#c8ff64" d="M128 384l14-2 4 6-15 2z"/><path fill="#78ff64" d="M135 394l15-2 4 7-15 2zM170 384l15-2 4 6-15 2z"/><path fill="#50ff6e" d="M139 400l15-2 4 7-15 2zM152 398l15-2 4 7-15 2zM150 375l14-2 4 6-14 2zM165 397l15-2 4 6-15 2zM178 395l15-2 5 7-15 2zM179 377l15-2 4 6-15 2zM191 393l15-2 5 7-15 2zM192 376l14-2 5 6-15 2zM196 381l14-2 5 6-15 2zM200 386l15-2 4 7-14 2zM204 392l15-2 5 6-15 2zM209 379l14-2 5 7-15 2zM213 385l14-2 5 6-14 2zM217 390l15-2 5 7-15 2z"/><path fill="#50ff82" d="M143 406l15-2 4 6-15 3zM187 406l15-2 4 7-15 2zM175 372l15-2 4 6-15 2zM200 405l15-2 5 6-15 2zM213 403l15-2 5 7-15 2zM226 401l15-2 5 7-15 2zM217 373l14-2 5 6-14 2zM234 376l14-2 5 6-14 2zM248 392l14-2 5 7-14 2z"/><path fill="#50ffb4" d="M146 412l16-2 4 6-15 2zM133 371l15-1 4 6-15 1zM204 411l15-3 5 7-15 2zM218 409l15-2 5 6-15 3zM231 407l15-2 5 7-15 2zM244 405l15-2 5 7-15 2z"/><path fill="#64fff0" d="M150 418l16-3 4 7-15 3zM159 368l14-2 4 6-14 2zM195 418l16-2 4 7-15 2z"/><path fill="#64e6fa" d="M154 424l16-3 4 7-15 3z"/><path fill="#64c8ff" d="M158 430l16-2 5 7-16 2zM191 432l15-2 5 7-16 3z"/><path fill="#64b4ff" d="M163 436l15-2 5 7-16 2zM195 439l16-3 5 8-16 2zM209 437l16-2 5 7-16 2zM180 360l14-1 4 5-14 2zM192 359l14-2 5 6-15 2zM204 357l14-1 5 5-14 2z"/><path fill="#64a0ff" d="M167 443l16-3 4 8-16 2zM185 447l16-2 5 7-16 3zM200 445l15-2 5 7-15 3zM233 448l15-2 6 7-16 2zM247 446l15-2 6 7-16 3zM261 444l15-2 6 7-16 3zM274 442l16-2 6 7-16 3zM288 440l16-2 5 7-15 3z"/><path fill="#6eff64" d="M137 377l15-2 3 6-14 2zM148 393l15-2 4 6-15 2zM161 391l15-2 4 7-15 2z"/><path fill="#a0ff64" d="M144 387l15-2 4 7-15 2z"/><path fill="#50ff78" d="M156 404l15-2 4 7-15 2zM169 402l15-2 5 7-15 2zM163 374l14-2 4 6-14 2zM182 401l15-2 5 6-15 2zM196 399l14-2 5 7-15 2zM209 397l15-2 4 7-15 2zM204 374l15-2 4 6-14 2zM222 396l14-2 5 6-14 2zM221 378l15-2 4 6-14 2zM226 383l14-2 5 6-15 2zM230 389l15-2 5 6-15 2zM235 394l14-2 5 7-14 2zM238 382l15-2 5 6-15 2zM243 387l14-2 5 6-14 2z"/><path fill="#50ffa0" d="M160 410l15-2 4 7-15 2zM188 370l14-1 4 6-14 2zM229 371l15-2 4 6-14 2z"/><path fill="#5affdc" d="M164 416l15-2 5 7-16 2zM213 367l14-1 4 6-14 1z"/><path fill="#64fafa" d="M168 422l16-2 4 7-15 2zM184 365l14-1 4 5-14 2zM254 417l15-2 5 7-15 2zM267 415l15-2 6 7-15 2z"/><path fill="#64d2ff" d="M172 428l16-2 4 7-15 2zM204 431l16-3 5 7-16 3zM218 429l15-3 6 8-16 2zM232 427l15-2 5 7-15 2zM245 425l16-2 5 7-15 2zM259 423l15-2 5 7-15 2zM221 361l14-2 4 6-14 2z"/><path fill="#64aaff" d="M181 441l16-3 5 8-16 2zM214 443l15-2 6 7-16 3zM228 441l15-2 6 7-16 3zM242 439l15-2 6 8-16 2zM255 438l16-3 5 8-15 2zM269 436l15-3 6 8-15 2zM217 356l14-2 4 6-14 2zM283 434l15-2 6 7-16 2z"/><path fill="#5affd2" d="M146 370l14-2 4 6-14 2z"/><path fill="#82ff64" d="M154 380l14-2 4 7-14 2z"/><path fill="#8cff64" d="M157 386l15-2 4 6-15 2z"/><path fill="#50ff8c" d="M173 408l15-2 5 7-15 2zM239 400l15-2 5 6-15 2zM252 398l15-2 5 7-15 2z"/><path fill="#5affc8" d="M178 414l15-2 4 7-15 2z"/><path fill="#64fffa" d="M182 420l15-2 5 7-16 2zM171 367l15-2 4 6-15 2zM225 366l14-2 5 6-14 2z"/><path fill="#64e6ff" d="M186 426l16-2 4 7-15 2zM209 362l14-1 4 5-14 2z"/><path fill="#64ff64" d="M166 379l15-2 4 6-15 2zM174 390l15-2 4 6-14 2zM183 383l15-2 4 6-15 2z"/><path fill="#5affb4" d="M191 412l15-2 5 7-15 2z"/><path fill="#64f0fa" d="M200 424l15-2 5 7-15 2zM213 423l16-3 5 7-16 3zM227 421l15-2 5 7-15 2zM196 364l14-2 5 6-15 2zM240 419l16-2 5 7-15 2z"/><path fill="#50ff64" d="M187 388l15-2 4 6-14 2z"/><path fill="#5afff0" d="M209 417l15-3 5 7-15 2zM222 415l15-2 5 6-15 3z"/><path fill="#5affbe" d="M200 369l14-2 5 6-14 2zM257 404l15-2 5 6-15 2z"/><path fill="#5affe6" d="M236 413l15-2 5 7-15 2zM249 411l15-2 5 7-15 2zM262 410l15-3 5 7-15 2z"/><path fill="#64dcff" d="M272 421l15-2 6 7-15 3z"/></g></g></g>
<line x1="102.5" y1="30.4" x2="428.3" y2="14.3" stroke="#505050" stroke-width="0.9"/><line x1="428.3" y1="14.3" x2="590" y2="69" stroke="#505050" stroke-width="0.9"/><line x1="421.6" y1="326.9" x2="428.3" y2="14.3" stroke="#505050" stroke-width="0.9"/><line x1="570.9" y1="444.9" x2="590" y2="69" stroke="#505050" stroke-width="0.9"/><line x1="114.8" y1="362.9" x2="421.6" y2="326.9" stroke="#505050" stroke-width="0.9"/><line x1="421.6" y1="326.9" x2="570.9" y2="444.9" stroke="#505050" stroke-width="0.9"/><line x1="114.8" y1="362.9" x2="102.5" y2="30.4" stroke="#000" stroke-width="1.3"/><line x1="114.8" y1="362.9" x2="205.2" y2="499" stroke="#222" stroke-width="1.2"/><line x1="205.2" y1="499" x2="570.9" y2="444.9" stroke="#222" stroke-width="1.1"/><line x1="108" y1="338.8" x2="114" y2="338.8" stroke="#606060" stroke-width="1.2"/><line x1="109.2" y1="306.2" x2="112.7" y2="306.2" stroke="#606060" stroke-width="1.2"/><line x1="108" y1="273.3" x2="111.5" y2="273.3" stroke="#606060" stroke-width="1.2"/><line x1="104.3" y1="239.9" x2="110.3" y2="239.9" stroke="#606060" stroke-width="1.2"/><line x1="105.5" y1="206.1" x2="109" y2="206.1" stroke="#606060" stroke-width="1.2"/><line x1="104.3" y1="171.8" x2="107.8" y2="171.8" stroke="#606060" stroke-width="1.2"/><line x1="100.5" y1="137.2" x2="106.5" y2="137.2" stroke="#606060" stroke-width="1.2"/><line x1="101.7" y1="102" x2="105.2" y2="102" stroke="#606060" stroke-width="1.2"/><line x1="100.4" y1="66.5" x2="103.9" y2="66.5" stroke="#606060" stroke-width="1.2"/><line x1="96.5" y1="30.4" x2="102.5" y2="30.4" stroke="#606060" stroke-width="1.2"/><text x="104.2" y="348" font-size="26.5" text-anchor="end">-8</text><text x="100.5" y="249.1" font-size="26.5" text-anchor="end">0</text><text x="96.7" y="146.4" font-size="26.5" text-anchor="end">8</text><text x="92.7" y="39.6" font-size="26.5" text-anchor="end">16</text><line x1="107.8" y1="362.9" x2="114.8" y2="362.9" stroke="#606060" stroke-width="1.2"/><text x="104.8" y="376.9" font-size="26.5" text-anchor="end">400</text><line x1="120.2" y1="377.1" x2="124.2" y2="377.1" stroke="#606060" stroke-width="1.2"/><line x1="130.1" y1="391.9" x2="134.1" y2="391.9" stroke="#606060" stroke-width="1.2"/><line x1="140.5" y1="407.5" x2="144.5" y2="407.5" stroke="#606060" stroke-width="1.2"/><line x1="148.3" y1="423.9" x2="155.3" y2="423.9" stroke="#606060" stroke-width="1.2"/><text x="145.3" y="437.9" font-size="26.5" text-anchor="end">600</text><line x1="162.8" y1="441.2" x2="166.8" y2="441.2" stroke="#606060" stroke-width="1.2"/><line x1="174.9" y1="459.4" x2="178.9" y2="459.4" stroke="#606060" stroke-width="1.2"/><line x1="187.7" y1="478.6" x2="191.7" y2="478.6" stroke="#606060" stroke-width="1.2"/><line x1="198.2" y1="499" x2="205.2" y2="499" stroke="#606060" stroke-width="1.2"/><text x="195.2" y="513" font-size="26.5" text-anchor="end">800</text><line x1="205.2" y1="499" x2="205.2" y2="507" stroke="#6a6a6a" stroke-width="1"/><line x1="224.5" y1="496.1" x2="224.5" y2="500.6" stroke="#6a6a6a" stroke-width="1"/><line x1="243.5" y1="493.3" x2="243.5" y2="497.8" stroke="#6a6a6a" stroke-width="1"/><line x1="262.5" y1="490.5" x2="262.5" y2="495" stroke="#6a6a6a" stroke-width="1"/><line x1="281.2" y1="487.8" x2="281.2" y2="492.3" stroke="#6a6a6a" stroke-width="1"/><line x1="299.8" y1="485" x2="299.8" y2="493" stroke="#6a6a6a" stroke-width="1"/><line x1="318.3" y1="482.3" x2="318.3" y2="486.8" stroke="#6a6a6a" stroke-width="1"/><line x1="336.7" y1="479.6" x2="336.7" y2="484.1" stroke="#6a6a6a" stroke-width="1"/><line x1="354.8" y1="476.9" x2="354.8" y2="481.4" stroke="#6a6a6a" stroke-width="1"/><line x1="372.9" y1="474.2" x2="372.9" y2="478.7" stroke="#6a6a6a" stroke-width="1"/><line x1="390.8" y1="471.6" x2="390.8" y2="479.6" stroke="#6a6a6a" stroke-width="1"/><line x1="408.6" y1="468.9" x2="408.6" y2="473.4" stroke="#6a6a6a" stroke-width="1"/><line x1="426.2" y1="466.3" x2="426.2" y2="470.8" stroke="#6a6a6a" stroke-width="1"/><line x1="443.7" y1="463.7" x2="443.7" y2="468.2" stroke="#6a6a6a" stroke-width="1"/><line x1="461.1" y1="461.2" x2="461.1" y2="465.7" stroke="#6a6a6a" stroke-width="1"/><line x1="478.3" y1="458.6" x2="478.3" y2="466.6" stroke="#6a6a6a" stroke-width="1"/><line x1="495.4" y1="456.1" x2="495.4" y2="460.6" stroke="#6a6a6a" stroke-width="1"/><line x1="512.4" y1="453.6" x2="512.4" y2="458.1" stroke="#6a6a6a" stroke-width="1"/><line x1="529.3" y1="451.1" x2="529.3" y2="455.6" stroke="#6a6a6a" stroke-width="1"/><line x1="546" y1="448.6" x2="546" y2="453.1" stroke="#6a6a6a" stroke-width="1"/><line x1="562.6" y1="446.2" x2="562.6" y2="454.2" stroke="#6a6a6a" stroke-width="1"/><text x="206.2" y="537.5" font-size="27.5" text-anchor="middle">0</text><text x="300.8" y="523.5" font-size="27.5" text-anchor="middle">5</text><text x="391.8" y="510.1" font-size="27.5" text-anchor="middle">10</text><text x="479.3" y="497.1" font-size="27.5" text-anchor="middle">15</text><text x="563.6" y="484.7" font-size="27.5" text-anchor="middle">20</text>
<text x="415.7" y="545.2" font-size="36" font-weight="bold" text-anchor="middle" transform="rotate(-8.4 415.7 545.2)">P (GPa)</text>
<text transform="translate(81 468) rotate(56.4)" text-anchor="middle" font-size="36"><tspan>λ</tspan><tspan font-weight="bold" dx="8">(nm)</tspan></text>
<rect x="600.6" y="62.3" width="10.2" height="386.7" fill="url(#cb)" stroke="#808080" stroke-width="0.8"/>
<line x1="610.8" y1="62.3" x2="617.1" y2="62.3" stroke="#808080" stroke-width="1"/>
<line x1="610.8" y1="126.8" x2="613.4" y2="126.8" stroke="#808080" stroke-width="1"/>
<line x1="610.8" y1="191.2" x2="613.4" y2="191.2" stroke="#808080" stroke-width="1"/>
<line x1="610.8" y1="255.6" x2="617.1" y2="255.6" stroke="#808080" stroke-width="1"/>
<line x1="610.8" y1="320.1" x2="613.4" y2="320.1" stroke="#808080" stroke-width="1"/>
<line x1="610.8" y1="384.6" x2="613.4" y2="384.6" stroke="#808080" stroke-width="1"/>
<line x1="610.8" y1="449" x2="617.1" y2="449" stroke="#808080" stroke-width="1"/>
<text x="619.9" y="72.7" font-size="29">16</text>
<text x="619.9" y="266" font-size="29">8</text>
<text x="619.9" y="459.4" font-size="29">0</text>
<text x="118.6" y="71.5" font-size="31.5">355 nm</text>
<line x1="789.3" y1="362.9" x2="777" y2="30.4" stroke="#b4b4b4" stroke-width="0.9"/><line x1="867.9" y1="353.7" x2="860.7" y2="26.3" stroke="#b4b4b4" stroke-width="0.9"/><line x1="943.9" y1="344.8" x2="941.5" y2="22.3" stroke="#b4b4b4" stroke-width="0.9"/><line x1="1017.6" y1="336.1" x2="1019.7" y2="18.4" stroke="#b4b4b4" stroke-width="0.9"/><line x1="1089.1" y1="327.8" x2="1095.4" y2="14.7" stroke="#b4b4b4" stroke-width="0.9"/><line x1="1163.5" y1="380.2" x2="1175.3" y2="38.9" stroke="#b4b4b4" stroke-width="0.9"/><path d="M787.6 314.9 1097.1 281.6 1248.1 391.1" fill="none" stroke="#b4b4b4" stroke-width="0.9"/><path d="M784.2 223.4 1098.9 195.4 1253.4 288" fill="none" stroke="#b4b4b4" stroke-width="0.9"/><path d="M780.7 128.6 1100.8 106.4 1258.8 180.7" fill="none" stroke="#b4b4b4" stroke-width="0.9"/><path d="M777 30.4 1102.8 14.3 1264.5 69" fill="none" stroke="#b4b4b4" stroke-width="0.9"/>
<path d="M837.5 211.8 846.9 205.3 856.2 197.8 865.6 191.3 874.9 185.3 884.2 179.3 893.5 174.8 902.8 169.5 912.1 163 921.3 156.5 930.5 150.1 939.7 143.7 948.9 137.2 958.1 138.9 967.3 155.2 976.4 171.2 985.4 180.3 994.4 182 1003.3 183.7 1012.2 185.4 1021 187.3 1029.8 190.7 1038.5 193.8 1047.3 193.5 1056 193.1 1064.7 192.8 1073.3 192.4 1081.9 192.1 1090.5 191.7 1099 191.4 1096.1 326.9 1087.8 327.9 1079.4 328.9 1071 329.9 1062.6 330.9 1054.1 331.9 1045.6 332.9 1037.1 333.9 1028.6 334.9 1020 335.9 1011.4 336.9 1002.7 337.9 994 338.9 985.3 339.9 976.6 341 967.8 342 959 343 950.2 344.1 941.3 345.1 932.4 346.2 923.4 347.2 914.5 348.3 905.5 349.3 896.4 350.4 887.4 351.4 878.2 352.5 869.1 353.6 859.9 354.7 850.7 355.7 841.5 356.8Z" fill="#989898"/>
<clipPath id="fcd"><path d="M789.3 362.9 1096.1 326.9 1245.4 444.9 879.7 499Z"/></clipPath>
<g clip-path="url(#fcd)"><g filter="url(#blurd)"><path fill="#5032c8" d="M788 363l15-2 3 6-14 2zM792 368l14-2 4 6-15 2zM795 373l15-2 3 6-14 2zM799 378l14-2 4 6-15 2zM802 384l15-2 4 6-15 2zM806 389l15-2 4 6-15 2zM809 394l15-2 4 7-15 2zM813 400l15-2 4 7-15 2zM817 406l15-2 4 6-15 3zM821 412l15-2 4 6-15 2zM825 418l15-3 5 7-16 3zM829 424l15-3 5 7-16 3zM833 430l16-2 4 7-16 2zM837 436l16-2 4 7-15 2zM841 443l16-3 5 8-16 2zM846 449l16-2 5 7-17 3zM850 456l16-3 5 8-16 2zM855 463l16-3 5 8-16 2zM859 469l17-2 5 8-17 3zM864 477l16-3 6 8-17 3zM869 484l16-3 6 9-17 2zM874 491l16-2 6 8-17 3zM801 361l14-2 4 6-14 2zM804 366l15-2 4 6-15 2zM808 371l14-1 4 6-14 1zM811 377l15-2 4 6-15 2zM815 382l15-2 4 6-15 2zM819 387l15-2 4 7-15 2zM823 393l15-2 4 6-15 2zM826 398l15-2 5 7-15 2zM830 404l15-2 5 7-15 2zM834 410l16-2 4 7-15 2zM838 416l16-2 4 7-15 2zM843 422l15-2 5 7-16 2zM847 428l15-2 5 7-16 2zM851 434l16-2 4 7-15 3zM856 441l15-3 5 8-16 2zM860 447l16-2 5 7-16 3zM865 454l16-3 5 8-17 2zM869 461l16-3 5 8-16 2zM874 467l16-2 5 8-16 2zM879 474l16-2 5 8-16 3zM884 482l16-3 6 8-17 3zM889 489l16-3 6 9-17 2zM813 360l15-2 3 6-14 2zM817 365l14-2 4 6-14 2zM821 370l14-2 4 6-15 2zM824 375l15-2 4 6-15 2zM828 380l15-2 4 7-15 2zM832 386l15-2 4 6-15 2zM836 391l15-2 4 7-15 2zM840 397l15-2 4 6-15 2zM844 402l15-2 4 7-15 2zM848 408l15-2 4 7-15 2zM852 414l15-2 5 7-16 2zM856 420l16-2 4 7-15 2zM861 426l15-2 5 7-16 2zM865 432l16-2 4 7-15 3zM870 439l15-3 5 8-16 2zM874 445l16-2 5 7-16 3zM879 452l16-3 5 8-16 2zM884 459l16-3 5 8-16 2zM888 465l17-2 5 8-16 2zM893 472l17-2 5 8-16 2zM899 480l16-3 6 8-17 3zM904 487l16-3 6 9-17 2zM826 358l14-2 4 6-14 2zM898 457l16-3 5 8-16 2zM903 463l16-2 5 8-16 2zM908 470l16-2 6 8-16 2zM913 477l17-2 5 8-16 3zM919 485l16-3 6 8-17 3zM1169 433l14-2 8 7-14 2zM1176 439l15-2 8 7-15 3zM1184 446l15-3 8 8-15 3zM1062 331l13-2 5 5-13 2zM1067 335l13-2 6 6-13 2zM1160 413l14-2 8 7-14 2zM1167 419l15-2 7 7-14 2zM1175 425l14-2 8 7-15 2zM1182 431l14-2 8 7-14 3zM1190 438l14-3 8 7-14 3zM1197 444l15-3 8 8-14 3zM1073 329l13-1 6 5-13 2zM1078 334l13-2 6 5-13 2zM1084 338l13-1 6 5-13 2zM1090 343l13-2 6 6-13 2zM1095 348l13-2 7 6-13 2zM1101 353l13-2 7 5-14 2zM1107 357l13-2 7 6-13 2zM1119 367l14-2 6 6-13 3zM1126 373l13-2 7 6-14 2zM1132 378l14-2 7 6-14 2zM1138 383l14-2 7 6-14 3zM1145 389l14-3 7 7-14 2zM1152 394l14-2 7 6-14 3zM1159 400l14-3 7 7-14 2zM1166 405l14-2 7 7-14 2zM1173 411l14-2 8 7-15 2zM1180 417l14-2 8 7-14 2zM1187 423l15-2 8 7-15 2zM1195 429l14-2 8 7-14 3zM1202 436l15-3 8 8-14 2zM1210 442l15-2 8 7-14 3zM1084 328l13-2 6 6-13 1zM1090 333l12-2 6 5-12 2zM1095 337l13-2 6 6-13 2zM1101 342l13-2 6 5-13 2zM1107 346l13-2 6 6-13 2zM1113 351l13-2 6 6-13 2zM1119 356l13-2 7 6-14 2zM1125 361l13-2 7 6-14 2zM1131 366l13-2 7 6-13 2zM1138 371l13-2 7 6-14 2zM1144 376l13-2 7 6-13 3zM1151 382l13-3 7 7-13 2zM1157 387l14-2 7 6-14 2zM1164 392l14-2 7 7-14 2zM1171 398l14-2 7 6-14 3zM1178 404l14-3 8 7-14 3zM1185 410l14-3 8 7-14 2zM1193 415l14-2 8 7-15 2zM1200 421l14-2 8 7-14 3zM1208 428l14-3 8 7-14 3zM1215 434l15-3 8 8-14 2zM1223 440l15-2 8 7-14 3z"/><path fill="#503cc8" d="M829 363l15-2 4 6-15 2zM833 368l15-2 4 6-15 2zM837 374l14-2 5 6-15 2zM841 379l14-2 5 6-15 2zM845 384l14-2 5 6-15 2zM849 390l14-2 5 6-15 2zM853 395l15-2 4 7-15 2zM857 401l15-2 4 6-15 2zM861 406l15-2 5 7-15 2zM865 412l16-2 4 7-15 2zM870 418l15-2 5 7-15 2zM874 424l16-2 5 7-16 2zM879 431l15-3 5 7-15 3zM883 437l16-2 5 7-16 2zM888 443l16-2 5 7-16 3zM893 450l16-3 5 8-16 2zM838 357l14-2 4 6-14 2zM842 362l14-2 4 6-14 2zM846 367l14-2 4 6-14 2zM850 372l14-2 4 6-14 2zM854 377l14-2 4 6-14 2zM858 383l14-2 5 6-15 2zM862 388l14-2 5 6-15 2zM866 393l15-2 4 7-15 2zM870 399l15-2 5 7-15 2zM874 405l15-2 5 6-15 2zM879 411l15-3 5 7-15 2zM883 417l16-3 4 7-15 2zM888 423l15-3 5 7-15 3zM893 429l15-3 5 8-15 2zM897 435l16-2 5 7-16 2zM902 441l16-2 5 7-16 3zM907 448l16-2 5 7-16 2zM912 455l16-3 5 8-15 2zM917 461l16-2 6 8-16 2zM923 468l16-2 5 8-16 2zM928 475l16-2 6 8-16 2zM933 483l17-3 6 8-17 3zM948 480l16-2 6 8-16 3zM1131 454l15-3 7 8-15 2zM1016 336l13-2 6 6-13 1zM1123 432l14-2 8 7-15 3zM1130 439l14-3 8 8-15 2zM1137 445l15-2 7 7-14 3zM1144 452l15-3 8 8-15 2zM1028 335l13-2 5 5-13 2zM1033 339l13-2 6 6-14 2zM1038 344l13-2 6 6-13 2zM1044 349l13-2 6 5-14 2zM1049 353l13-2 6 6-13 2zM1054 358l14-2 6 6-14 2zM1060 363l14-2 6 6-14 2zM1066 368l13-2 7 6-14 2zM1072 374l13-3 7 7-14 2zM1078 379l13-2 7 6-14 2zM1084 384l13-2 7 6-14 3zM1090 390l14-3 6 7-14 2zM1096 395l14-2 7 6-14 3zM1102 401l14-3 7 7-14 2zM1109 406l14-2 7 7-14 2zM1115 412l15-2 7 7-15 2zM1122 418l14-2 8 7-15 2zM1129 424l14-2 8 7-15 3zM1136 431l14-3 8 7-15 3zM1143 437l15-3 7 8-14 2zM1150 443l15-2 8 7-15 3zM1157 450l15-3 8 8-15 3zM1039 333l13-2 6 6-13 2zM1044 338l13-2 6 6-13 1zM1050 343l13-2 6 5-14 2zM1055 347l13-2 6 6-13 2zM1061 352l13-2 6 6-13 2zM1066 357l14-2 6 6-14 2zM1072 362l13-2 7 6-14 2zM1078 367l13-2 7 6-14 2zM1084 372l13-2 7 6-14 2zM1090 377l13-2 7 6-14 3zM1096 383l14-3 6 7-14 2zM1102 388l14-2 7 6-14 2zM1108 393l14-2 7 7-14 2zM1115 399l14-2 7 6-14 3zM1121 405l14-3 8 7-15 3zM1128 411l14-3 7 7-14 3zM1135 416l14-2 7 7-14 3zM1142 423l14-3 8 7-15 3zM1149 429l14-3 8 8-15 2zM1156 435l15-3 7 8-14 2zM1163 441l15-2 8 7-15 3zM1171 448l15-3 8 8-15 3zM1050 332l13-2 6 6-13 1zM1056 337l13-2 6 5-14 2zM1061 341l13-2 6 6-13 2zM1067 346l13-2 6 6-13 2zM1072 351l14-2 6 5-14 2zM1078 355l13-2 6 6-13 2zM1084 360l13-2 6 6-13 2zM1090 365l13-2 6 6-13 2zM1096 370l13-2 7 7-14 2zM1102 376l13-2 7 6-14 2zM1108 381l14-2 6 6-13 2zM1114 386l14-2 7 7-14 2zM1121 392l13-2 7 6-13 2zM1127 397l14-2 7 7-14 2zM1134 403l14-2 7 7-14 2zM1141 409l14-2 7 6-14 3zM1148 415l14-3 7 7-14 3zM1155 421l14-3 8 7-15 3zM1162 427l14-3 8 8-15 2zM1073 340l13-2 6 5-14 2zM1078 344l13-1 6 5-13 2zM1084 349l13-2 6 6-13 2zM1090 354l13-2 6 6-13 2zM1095 359l14-2 6 6-13 2zM1101 364l14-2 6 6-13 2zM1108 369l13-2 7 6-14 2zM1114 374l13-2 7 6-14 2zM1120 379l14-2 6 7-13 2zM1126 385l14-2 7 6-14 2zM1133 390l14-2 7 7-14 2zM1140 396l13-2 8 6-14 2zM1146 401l14-2 8 7-14 2zM1153 407l14-2 8 7-14 2zM1113 362l14-2 6 6-13 2z"/><path fill="#5046c8" d="M850 355l15-1 4 5-14 2zM854 360l14-1 5 5-15 2zM921 446l16-2 5 7-15 3zM926 453l16-3 6 8-16 2zM932 459l15-2 6 8-16 2zM937 466l16-2 6 8-16 2zM942 473l16-2 6 8-16 2zM963 478l16-2 6 8-16 2zM1097 451l15-3 7 8-15 3zM1103 458l16-3 7 8-15 3zM1103 442l15-2 7 8-15 2zM1110 449l15-3 8 8-16 3zM1117 456l15-3 8 8-15 3zM1005 337l13-2 5 6-13 2zM1010 342l13-2 6 6-14 2zM1103 428l14-2 8 7-15 2zM1110 434l14-2 8 7-15 3zM1116 441l15-3 8 8-15 2zM1123 447l15-2 8 7-15 3zM1021 341l14-2 5 5-13 2zM1027 345l13-2 5 6-13 2zM1032 350l13-2 6 6-14 2zM1083 397l15-2 6 6-14 2zM1090 402l14-2 7 7-15 2zM1096 408l14-2 7 7-14 2zM1103 414l14-2 7 7-15 2zM1109 420l15-2 7 7-15 2zM1116 426l14-2 8 7-15 2z"/><path fill="#5050c8" d="M858 365l14-1 5 5-15 2zM911 433l16-2 5 7-16 2zM916 439l16-2 5 8-16 2zM951 464l16-2 6 8-16 2zM957 471l16-2 6 8-16 2zM1090 444l15-2 7 7-15 3zM993 339l14-2 5 5-13 2zM1090 430l14-3 8 8-15 2zM1096 436l15-2 7 7-15 2zM1015 347l13-2 6 5-14 2zM1090 416l14-3 7 7-14 3zM1096 422l15-3 7 8-15 2zM1037 355l14-2 5 6-13 2zM1071 386l14-2 7 6-14 2zM1077 391l14-2 7 7-14 2z"/><path fill="#505ac8" d="M862 370l15-1 4 6-15 2zM901 421l16-2 5 7-16 2zM906 427l16-2 5 7-16 2zM863 354l14-2 4 6-14 2zM946 457l16-2 5 8-16 2zM977 476l16-2 6 8-16 2zM1090 460l15-3 7 8-15 3zM982 340l13-2 5 6-13 2zM1083 438l15-2 7 7-15 2zM998 343l14-2 5 6-13 2zM1083 424l15-3 7 7-15 3zM1020 351l14-1 5 5-13 2zM1077 404l14-2 7 7-14 2zM1083 410l15-2 6 6-14 3zM1043 360l13-2 6 6-14 2zM1048 365l14-2 6 6-14 2zM1060 375l13-2 6 6-13 2zM1065 380l14-2 6 7-13 2z"/><path fill="#5064c8" d="M866 376l15-2 4 6-14 2zM892 409l15-2 5 6-15 3zM897 415l15-2 5 6-15 3zM867 359l14-2 4 6-14 2zM940 451l16-3 6 8-16 2zM965 462l16-2 6 7-16 3zM971 469l16-3 6 8-16 3zM991 474l16-3 7 9-16 2zM1083 453l15-3 7 8-15 3zM987 345l13-2 5 5-13 2zM1077 432l14-3 7 8-15 2zM1003 348l14-2 5 6-13 2zM1077 418l14-3 7 7-14 3zM1025 356l14-2 6 6-14 2zM1065 393l14-2 6 6-14 2zM1071 398l14-2 7 7-15 2zM1054 370l13-2 7 6-14 2z"/><path fill="#506ec8" d="M870 381l15-2 4 6-14 2zM875 386l14-2 5 7-15 2zM883 397l15-2 5 7-15 2zM888 403l15-2 4 7-15 2zM930 438l15-3 6 8-16 2zM935 444l16-2 5 7-15 3zM960 455l16-2 6 8-16 2zM985 467l16-3 7 8-16 3zM1076 446l15-2 7 7-15 3zM992 349l13-1 5 5-13 2zM1064 419l14-2 7 7-15 2zM1070 425l15-2 7 7-15 3zM1008 353l14-2 5 6-13 2zM1064 406l15-2 6 6-14 3zM1070 412l15-3 7 7-15 3zM1059 387l14-2 6 7-14 2z"/><path fill="#5078c8" d="M879 392l15-2 4 6-15 2zM871 364l14-2 4 6-14 2zM925 431l15-2 6 7-16 3zM875 353l14-2 4 5-14 2zM954 449l16-3 6 8-16 2zM980 460l15-2 7 7-16 3zM1006 472l16-3 6 8-16 3zM1070 440l15-3 7 8-15 2zM1058 413l14-2 7 7-15 2zM1058 400l15-2 6 7-14 2zM1031 361l13-2 6 6-14 2zM1036 366l14-2 6 6-14 2zM1047 377l14-2 6 6-14 2zM1053 382l14-2 6 6-14 2z"/><path fill="#5082c8" d="M875 369l14-2 4 6-14 2zM1000 465l15-3 7 8-16 3zM970 341l14-1 5 5-14 2zM997 354l13-2 5 6-13 2zM1014 358l13-2 6 6-14 2zM1052 394l14-2 7 7-14 2zM1042 371l13-2 6 6-13 3z"/><path fill="#5096be" d="M879 374l14-2 5 6-15 2zM910 413l15-2 5 7-15 2zM883 362l14-1 5 5-15 2zM944 436l15-3 6 8-16 2zM968 447l16-3 6 8-16 2zM988 451l15-2 7 8-16 2zM1014 463l15-3 7 8-16 3zM1076 462l15-3 8 8-16 3zM975 346l13-2 5 6-13 2zM1057 427l15-2 6 7-14 2zM1002 359l13-2 6 6-14 2zM1040 396l14-2 6 6-14 3zM1024 368l14-2 6 6-14 2zM1035 378l14-2 6 6-14 2z"/><path fill="#50a0be" d="M883 379l15-2 4 7-14 2zM905 407l15-2 5 7-15 2zM938 429l16-2 5 7-15 3zM891 356l14-2 5 6-14 2zM963 440l15-2 6 7-16 3zM899 350l14-2 4 6-14 1zM1034 468l16-3 7 8-16 3zM980 351l13-2 5 6-13 2zM1051 421l14-2 7 7-15 2zM1007 364l13-2 6 6-14 2zM1034 391l14-3 6 7-14 2zM1030 373l13-2 6 6-14 2z"/><path fill="#50b4be" d="M887 385l15-2 5 6-15 2zM896 396l15-2 5 6-15 2zM928 417l15-2 6 7-15 2zM895 361l14-2 5 6-14 2zM957 434l16-2 5 7-15 2zM903 355l14-2 5 5-14 2zM1002 449l15-2 6 8-15 2zM1045 415l14-2 7 7-15 2zM1012 369l14-2 6 6-14 2zM1023 380l14-2 6 6-14 2z"/><path fill="#50bebe" d="M892 390l14-2 5 7-14 2zM891 373l15-2 4 6-14 2zM923 411l15-2 6 7-15 2zM952 428l15-3 6 7-15 3zM976 438l16-2 6 7-16 3zM911 348l14-1 4 5-13 2zM1021 454l16-2 7 7-16 3zM1062 464l16-3 7 8-16 3zM1063 448l15-2 7 7-15 3zM985 356l13-2 6 6-14 2zM1039 409l14-2 7 7-15 2zM1017 374l14-2 6 7-14 2z"/><path fill="#50aabe" d="M901 401l15-2 5 7-15 2zM887 367l14-1 5 6-14 1zM933 423l15-2 6 7-15 2zM982 445l15-3 7 8-16 2zM1008 456l15-2 7 7-16 3zM1028 461l15-3 7 8-16 3zM1048 466l16-3 7 8-16 3zM1069 455l16-3 7 8-16 3zM1028 385l14-2 6 6-14 2z"/><path fill="#508cbe" d="M915 419l15-2 5 7-15 2zM949 442l15-2 6 7-15 3zM887 351l14-2 4 6-14 2zM994 458l15-2 7 7-16 3zM1020 470l16-3 6 8-15 3zM1063 433l15-2 7 7-15 3zM1046 402l14-2 6 6-14 2zM1019 363l13-2 6 6-14 2zM1041 383l14-2 6 7-14 2z"/><path fill="#5082be" d="M920 425l15-2 5 7-15 2zM879 357l14-1 4 5-14 2zM974 453l15-2 7 8-16 2zM1052 407l14-2 6 7-14 2zM1046 389l15-2 6 6-14 2z"/><path fill="#46bea0" d="M896 378l14-2 5 6-15 2zM915 353l14-2 5 6-14 2zM923 347l14-2 4 6-13 2zM1035 452l16-2 6 7-15 3zM1055 457l16-3 7 8-16 3zM990 361l13-2 6 6-14 2zM1027 398l14-2 7 6-15 2z"/><path fill="#46be8c" d="M900 383l15-2 4 6-14 2zM909 394l15-2 5 7-15 2zM904 371l14-2 5 6-14 2zM937 410l14-3 6 7-15 2zM1009 441l16-2 6 7-15 2zM1050 435l15-2 7 7-15 3zM1021 392l15-2 6 7-15 2z"/><path fill="#3cbe78" d="M905 389l14-2 5 6-15 2zM932 404l14-2 6 6-15 2zM927 352l14-2 5 6-14 1zM1044 429l15-2 6 7-15 2z"/><path fill="#46be96" d="M914 400l15-2 5 6-15 2zM942 415l15-2 5 7-15 2zM965 426l16-2 5 7-15 2zM990 436l15-2 6 7-15 3z"/><path fill="#46beaa" d="M919 405l14-2 6 7-15 2zM947 421l15-2 5 7-15 3zM908 359l14-1 4 5-14 2zM971 432l15-2 6 7-15 2zM1015 447l16-2 6 8-15 2zM958 343l14-2 5 5-14 2zM1056 442l15-3 7 8-15 2z"/><path fill="#50beaa" d="M900 366l14-2 4 6-14 2z"/><path fill="#3cbe64" d="M908 376l15-2 4 6-14 2zM927 398l15-2 5 7-15 2zM979 424l15-2 6 7-15 2zM1023 439l15-2 7 7-16 3zM1043 444l15-3 7 8-16 2z"/><path fill="#3cbe50" d="M913 382l14-2 5 6-14 2zM922 392l15-2 5 7-15 2zM924 363l14-2 5 6-14 2zM932 357l14-2 5 5-14 2zM998 428l15-2 6 7-15 3zM939 350l14-2 5 6-14 2zM968 352l13-2 6 6-14 2z"/><path fill="#3cbe46" d="M917 387l15-2 5 6-15 2zM945 402l14-2 6 7-15 2zM973 418l15-2 6 7-15 2zM1017 433l15-3 6 8-15 2zM1036 437l16-2 6 7-15 3zM1032 417l14-2 7 7-15 2z"/><path fill="#46be82" d="M912 365l14-2 5 6-14 1zM960 420l15-3 6 7-15 3zM1029 446l15-3 7 8-15 2zM1049 450l15-2 7 7-15 3zM995 366l13-2 6 6-14 2z"/><path fill="#3cbe5a" d="M916 370l14-2 5 6-14 2zM950 408l15-2 5 6-15 3zM947 344l13-2 5 6-14 2zM1038 423l14-2 7 7-15 2zM1005 376l14-2 6 6-14 2z"/><path fill="#3cbe3c" d="M921 375l14-2 5 6-14 2zM926 380l14-2 5 6-15 2zM935 391l14-2 6 6-15 2zM940 396l14-2 6 7-15 2zM929 368l14-2 5 6-14 2zM963 406l15-2 5 7-15 2zM968 412l15-2 6 7-15 2zM936 362l14-2 5 6-14 1zM987 416l14-2 6 7-15 2zM992 422l15-2 6 7-15 2zM944 355l14-2 5 6-14 2zM1011 427l15-3 6 7-15 3zM951 349l14-2 5 6-14 2zM1030 431l15-2 7 7-15 2zM973 357l13-2 6 6-14 2zM1026 411l14-2 7 7-15 2z"/><path fill="#3cbe32" d="M930 385l15-2 5 7-15 2zM933 373l14-2 6 6-15 2zM953 395l14-2 6 6-15 2zM958 400l14-2 6 7-15 2zM981 410l15-2 6 7-15 2zM949 360l13-2 5 6-13 2zM1005 420l15-2 6 7-15 2zM956 354l14-2 5 6-14 1zM1024 425l15-3 7 7-15 3zM978 362l13-2 6 6-14 2zM1014 399l15-2 6 7-15 2zM1020 405l15-2 6 7-15 2z"/><path fill="#3cbe6e" d="M955 414l15-2 5 6-15 3zM1004 435l15-3 6 8-15 2zM1000 371l14-2 5 6-14 2zM1010 381l15-2 5 6-14 3z"/><path fill="#46be78" d="M920 358l14-2 4 6-14 2zM984 430l15-2 7 7-16 2zM935 346l13-2 5 5-13 2zM963 347l14-1 5 5-14 2zM1016 387l14-2 6 6-14 2z"/><path fill="#46be28" d="M938 378l14-2 5 7-14 2zM948 389l14-2 5 7-14 2zM1009 394l14-2 6 6-14 2z"/><path fill="#64be28" d="M943 384l14-2 5 6-14 2zM961 359l13-2 6 6-14 1zM983 367l13-2 6 6-14 2zM1003 388l15-2 5 7-14 2z"/><path fill="#50beb4" d="M996 443l15-3 6 8-15 2zM1042 459l15-3 7 8-16 3zM1033 403l14-2 7 7-15 2z"/><path fill="#3cbe28" d="M941 367l14-2 5 6-14 2zM976 404l14-2 6 7-15 2zM1000 414l14-2 7 7-15 2zM1019 419l14-3 7 7-15 3z"/><path fill="#6ebe28" d="M946 372l14-2 5 6-14 2zM1013 413l14-3 7 7-15 3z"/><path fill="#96be28" d="M951 377l14-2 5 6-14 2zM960 388l15-2 5 6-14 2zM1007 407l15-2 6 6-15 3z"/><path fill="#bebe28" d="M955 382l15-2 5 6-14 3zM958 370l14-2 5 6-14 2zM965 364l14-2 6 6-14 2zM1002 401l14-2 6 7-15 2z"/><path fill="#78be28" d="M965 393l15-2 5 7-14 2zM953 365l14-2 5 6-14 2zM989 403l14-2 6 6-15 2z"/><path fill="#50be28" d="M971 399l14-2 6 6-15 2zM994 409l15-3 6 7-15 2z"/><path fill="#c8a028" d="M963 375l14-2 5 7-14 2zM973 386l14-2 6 6-15 2z"/><path fill="#d28228" d="M968 381l14-2 6 6-15 2zM991 390l14-2 6 6-15 2z"/><path fill="#c8be28" d="M978 392l15-3 5 7-14 2z"/><path fill="#a0be28" d="M983 397l15-2 6 7-15 2z"/><path fill="#c88c28" d="M970 369l14-2 6 6-14 2z"/><path fill="#d2641e" d="M975 374l14-2 6 6-14 2zM986 384l14-2 5 7-14 2z"/><path fill="#d2461e" d="M980 379l15-2 5 6-14 2z"/><path fill="#c8aa28" d="M996 395l15-2 5 7-14 2z"/><path fill="#8cbe28" d="M988 372l14-2 5 6-14 2zM998 383l14-2 6 6-14 2z"/><path fill="#b4be28" d="M993 378l14-2 5 6-14 2z"/></g></g>
<line x1="867.9" y1="353.7" x2="974.3" y2="485" stroke="#a8a8a8" stroke-width="0.9"/><line x1="943.9" y1="344.8" x2="1065.3" y2="471.6" stroke="#a8a8a8" stroke-width="0.9"/><line x1="1017.6" y1="336.1" x2="1152.8" y2="458.6" stroke="#a8a8a8" stroke-width="0.9"/><line x1="829.8" y1="423.9" x2="1163.5" y2="380.2" stroke="#a8a8a8" stroke-width="0.9"/>
<path d="M1099 191.4 1100.4 192.2 1101.9 193.1 1103.3 193.9 1104.7 194.8 1106.2 195.6 1107.6 196.5 1109.1 197.4 1110.6 198.2 1112.1 199.1 1113.5 200 1115 200.9 1116.5 201.8 1118 202.7 1119.5 203.5 1121 204.4 1122.5 205.3 1124.1 206.2 1125.6 207.2 1127.1 208.1 1128.7 209 1130.2 209.9 1131.8 210.8 1133.3 211.8 1134.9 212.7 1136.5 213.6 1138.1 214.6 1139.7 215.5 1141.2 216.4 1142.9 217.4 1144.5 218.4 1146.1 219.3 1147.7 220.3 1149.3 221.2 1151 222.2 1152.6 223.2 1154.3 224.2 1155.9 225.2 1157.6 226.2 1159.3 227.1 1161 228.1 1162.6 229.1 1164.3 230.2 1166 231.2 1167.8 232.2 1169.5 233.2 1171.2 234.2 1172.9 235.3 1174.7 236.3 1176.4 237.3 1178.2 238.4 1180 239.4 1181.7 240.5 1183.5 241.5 1185.3 242.6 1187.1 243.7 1188.9 244.7 1190.7 245.8 1192.6 246.9 1194.4 248 1196.2 249.1 1198.1 250.2 1199.9 251.3 1201.8 252.4 1203.7 253.5 1205.6 254.6 1207.5 255.7 1209.4 256.9 1211.3 258 1213.2 259.2 1215.1 260.3 1217.1 261.4 1219 262.6 1221 263.8 1222.9 264.9 1224.9 266.1 1226.9 267.3 1228.9 268.5 1230.9 269.7 1232.9 270.9 1234.9 272.1 1237 273.3 1239 274.5 1241.1 275.7 1243.1 276.9 1245.2 278.1 1247.3 279.4 1249.4 280.6 1251.5 281.9 1253.6 283.1 1245.4 444.9 1243.3 443.3 1241.3 441.7 1239.3 440.1 1237.3 438.6 1235.3 437 1233.3 435.4 1231.3 433.9 1229.4 432.3 1227.4 430.8 1225.5 429.2 1223.5 427.7 1221.6 426.2 1219.7 424.6 1217.8 423.1 1215.9 421.6 1214 420.1 1212.1 418.6 1210.2 417.2 1208.4 415.7 1206.5 414.2 1204.7 412.8 1202.8 411.3 1201 409.9 1199.2 408.4 1197.3 407 1195.5 405.5 1193.7 404.1 1191.9 402.7 1190.2 401.3 1188.4 399.9 1186.6 398.5 1184.9 397.1 1183.1 395.7 1181.4 394.3 1179.6 393 1177.9 391.6 1176.2 390.2 1174.5 388.9 1172.8 387.5 1171.1 386.2 1169.4 384.9 1167.7 383.5 1166 382.2 1164.3 380.9 1162.7 379.6 1161 378.3 1159.4 377 1157.7 375.7 1156.1 374.4 1154.5 373.1 1152.9 371.8 1151.2 370.5 1149.6 369.3 1148 368 1146.4 366.7 1144.9 365.5 1143.3 364.2 1141.7 363 1140.2 361.8 1138.6 360.5 1137 359.3 1135.5 358.1 1134 356.9 1132.4 355.7 1130.9 354.5 1129.4 353.3 1127.9 352.1 1126.4 350.9 1124.9 349.7 1123.4 348.5 1121.9 347.3 1120.4 346.1 1118.9 345 1117.4 343.8 1116 342.7 1114.5 341.5 1113.1 340.4 1111.6 339.2 1110.2 338.1 1108.8 336.9 1107.3 335.8 1105.9 334.7 1104.5 333.6 1103.1 332.5 1101.7 331.3 1100.3 330.2 1098.9 329.1 1097.5 328 1096.1 326.9Z" fill="#a3d2d0" fill-opacity="0.92"/>
<g><path fill="#0000fc" d="M783 222l12-2 2 3-11 2z"/><path fill="#000cfc" d="M793 220l11-2 3 3-11 2zM803 218l11-2 3 3-11 2zM813 216l11-2 3 3-11 2zM823 214l11-2 2 3-11 3zM1055 193l10-1 4 3-10 1zM1063 193l11-1 4 3-10 1zM1072 192l10 0 5 3-11 0zM1081 192l10-1 4 3-10 1zM1090 192l10-1 4 3-10 1z"/><path fill="#0018fc" d="M832 213l8-2 3 3-8 2zM1028 190l11 4 3 2-10-4zM1037 194l10-1 4 3-10 0zM1046 193l10 0 4 3-10 0z"/><path fill="#0024fc" d="M838 212l15-11 3 1-14 13zM1019 187l10 4 4 1-10-4z"/><path fill="#003cfc" d="M851 201l9-7 3 1-8 8zM1001 183l10 2 4 1-10-2z"/><path fill="#0060fc" d="M859 195l13-8 3 0-13 9zM980 179l13 3 4 0-13-3z"/><path fill="#0084fc" d="M870 188l11-7 3-1-11 8z"/><path fill="#00a8fc" d="M880 182l5-4 3-1-5 4z"/><path fill="#00b4fc" d="M884 179l7-3 3-2-7 4z"/><path fill="#00ccfc" d="M889 177l11-5 3-3-11 6z"/><path fill="#00fcfc" d="M898 173l11-8 4-3-12 8z"/><path fill="#00fce4" d="M908 166l11-8 3-4-11 8z"/><path fill="#00fcc0" d="M918 159l10-7 3-5-10 8z"/><path fill="#00fc9c" d="M927 153l11-8 3-6-11 8z"/><path fill="#00fc78" d="M936 146l11-7 3-7-10 8zM954 133l11 19 4-5-11-22z"/><path fill="#00fc54" d="M946 140l10-7 3-8-10 7z"/><path fill="#00fcf0" d="M964 151l10 17 4-2-10-20z"/><path fill="#009cfc" d="M974 167l7 13 4 0-7-15z"/><path fill="#0054fc" d="M992 182l10 2 4 0-10-3z"/><path fill="#0030fc" d="M1010 185l11 2 4 1-11-2z"/><path fill="none" stroke="#8a8a8a" stroke-width="0.9" d="M839.1 211.5l2.9 2.6M859.6 195.1l2.9.5M884.8 179l3-1.6M898.9 172.2l3.1-2.3M954.8 133.1l3.5-7.4M981 179.4l3.6-.4M1020.1 186.9l3.9 1.1M1037.8 193.9l4 2.2"/><path fill="#0000fc" d="M786 225l11-2 3 3-11 2z"/><path fill="#000cfc" d="M796 223l11-2 3 3-12 2zM806 221l11-2 3 3-12 2zM815 219l12-2 2 3-11 2zM825 217l11-2 3 3-11 2zM1059 195l10 0 4 3-10 0zM1067 195l11-1 4 3-10 1zM1076 195l10-1 5 3-11 1zM1085 194l10 0 5 3-11 0zM1094 194l10-1 4 4-10 0z"/><path fill="#0018fc" d="M835 215l7-1 4 3-8 2zM1032 192l10 4 4 3-10-6zM1041 196l10-1 4 3-10 1zM1050 196l10-1 4 3-10 0z"/><path fill="#0024fc" d="M841 214l14-12 3 1-14 14z"/><path fill="#0048fc" d="M854 203l9-8 3 1-9 8z"/><path fill="#006cfc" d="M862 196l13-9 3 0-13 10z"/><path fill="#009cfc" d="M873 188l11-8 3-1-11 8z"/><path fill="#00c0fc" d="M883 181l5-4 3-2-5 5zM977 165l8 15 4-1-8-17z"/><path fill="#00d8fc" d="M887 178l7-4 3-2-7 4z"/><path fill="#00f0fc" d="M892 175l11-5 3-3-11 6z"/><path fill="#00fce4" d="M901 170l12-8 3-4-11 10z"/><path fill="#00fcc0" d="M911 163l11-9 3-4-10 9z"/><path fill="#00fc90" d="M921 155l11-8 3-5-11 9z"/><path fill="#00fc6c" d="M930 148l11-8 3-7-10 10z"/><path fill="#00fc48" d="M940 140l10-8 4-7-11 9zM958 125l11 22 4-5-11-25z"/><path fill="#00fc24" d="M949 133l10-7 3-8-10 8z"/><path fill="#00fccc" d="M968 146l10 20 4-2-10-23z"/><path fill="#0078fc" d="M984 179l13 3 4 0-13-4z"/><path fill="#0060fc" d="M996 182l10 2 4 0-11-3z"/><path fill="#0054fc" d="M1005 184l10 2 4 1-10-3z"/><path fill="#003cfc" d="M1014 186l11 2 4 1-11-3z"/><path fill="#0030fc" d="M1023 188l10 4 4 2-10-5z"/><path fill="none" stroke="#8a8a8a" stroke-width="0.9" d="M842 214.1l2.8 2.6M862.5 195.6l2.9.5M887.8 177.4l3.1-1.5M902 169.9l3.2-2.4M958.3 125.7l3.5-7.5M984.6 179l3.7-.5M1024 188l3.9 1M1041.8 196.1l4 2.2"/><path fill="#0000fc" d="M788 228l12-3 2 4-11 2z"/><path fill="#000cfc" d="M798 226l12-3 2 4-11 2zM808 224l12-3 2 4-11 2zM818 222l11-3 3 4-11 2zM828 220l11-2 3 3-11 2zM1072 197l10 0 4 3-10 0zM1080 197l11 0 4 3-10 0zM1089 197l10-1 5 3-10 1zM1098 197l10-1 5 3-11 1z"/><path fill="#0018fc" d="M838 218l7-2 3 3-7 2zM1045 198l10 0 4 3-10 0zM1054 198l10-1 4 3-10 1zM1063 198l10-1 4 3-10 1z"/><path fill="#0024fc" d="M844 217l14-14 3 2-14 15zM1036 193l10 6 4 2-10-6z"/><path fill="#0054fc" d="M857 204l9-9 3 1-9 10z"/><path fill="#0084fc" d="M865 196l12-10 4 0-13 11zM988 178l13 4 4 0-14-4z"/><path fill="#00b4fc" d="M876 187l11-8 3-1-10 9z"/><path fill="#00e4fc" d="M886 180l5-5 4-1-6 5z"/><path fill="#00fcfc" d="M890 176l7-4 3-2-7 5z"/><path fill="#00fcf0" d="M895 173l11-6 3-2-10 6z"/><path fill="#00fccc" d="M905 168l11-10 3-3-11 11z"/><path fill="#00fc9c" d="M915 159l10-9 4-4-11 10z"/><path fill="#00fc6c" d="M924 151l11-9 3-5-11 10z"/><path fill="#00fc3c" d="M934 143l10-9 4-7-11 10z"/><path fill="#00fc18" d="M943 134l11-9 3-7-11 10zM961 118l11 24 4-4-11-28z"/><path fill="#18fc00" d="M953 126l10-8 3-8-10 9z"/><path fill="#00fca8" d="M972 141l10 23 4-3-10-25z"/><path fill="#00d8fc" d="M981 162l7 17 4 0-7-19z"/><path fill="#006cfc" d="M999 181l11 3 4 1-11-4z"/><path fill="#0060fc" d="M1009 184l10 3 4 0-11-3z"/><path fill="#0048fc" d="M1018 186l11 3 4 1-11-3z"/><path fill="#0030fc" d="M1027 189l10 5 4 2-10-6z"/><path fill="none" stroke="#8a8a8a" stroke-width="0.9" d="M844.8 216.7l2.9 2.7M865.4 196.1l3 .5M890.9 175.9l3.1-1.6M905.2 167.5l3.2-2.4M961.8 118.2l3.6-7.6M988.3 178.5l3.8-.4M1027.9 189l3.9 1.1M1045.8 198.3l4 2.3"/><path fill="#0000fc" d="M791 231l11-3 3 4-11 2z"/><path fill="#000cfc" d="M801 229l11-3 3 4-11 2zM811 227l11-3 3 4-11 2zM821 225l11-3 3 3-11 3zM831 223l11-3 3 3-11 3zM1076 200l10-1 4 3-10 1zM1085 200l10-1 4 3-10 1zM1094 199l10 0 4 3-10 0zM1102 199l11 0 4 3-10 0z"/><path fill="#0018fc" d="M841 221l7-2 3 3-7 2zM1049 200l10 0 4 3-10 0zM1058 200l10 0 4 3-10 0zM1067 200l10 0 4 2-10 1z"/><path fill="#0024fc" d="M847 220l14-16 3 2-14 17zM1040 195l10 6 5 2-11-7z"/><path fill="#0060fc" d="M860 205l9-9 3 1-9 10z"/><path fill="#0090fc" d="M868 197l13-11 3 0-13 12z"/><path fill="#00d8fc" d="M879 187l11-10 3-1-10 11z"/><path fill="#00fcfc" d="M889 178l5-4 4-2-6 6zM985 160l7 19 4-1-7-20z"/><path fill="#00fcf0" d="M893 175l7-5 3-1-6 4z"/><path fill="#00fcd8" d="M899 171l10-6 3-3-10 7z"/><path fill="#00fca8" d="M908 166l11-11 3-4-11 12z"/><path fill="#00fc78" d="M918 156l11-10 3-5-11 12z"/><path fill="#00fc48" d="M928 147l10-10 4-6-11 11z"/><path fill="#00fc18" d="M937 138l11-10 3-7-11 11z"/><path fill="#18fc00" d="M947 129l10-10 4-8-11 11z"/><path fill="#48fc00" d="M956 119l10-9 4-8-10 10z"/><path fill="#0cfc00" d="M965 110l11 28 4-5-11-31z"/><path fill="#00fc84" d="M975 136l10 26 4-3-10-28z"/><path fill="#009cfc" d="M991 178l14 4 3 0-13-5z"/><path fill="#0084fc" d="M1003 181l11 4 4 0-11-4z"/><path fill="#006cfc" d="M1012 184l11 4 4 0-11-4z"/><path fill="#0054fc" d="M1022 187l11 3 4 1-11-3z"/><path fill="#0030fc" d="M1031 190l10 6 4 1-10-6z"/><path fill="none" stroke="#8a8a8a" stroke-width="0.9" d="M847.7 219.4l2.9 2.7M868.4 196.6l3 .5M894 174.3l3.1-1.6M908.4 165.1l3.2-2.5M965.4 110.6l3.7-7.8M992.1 178.1l3.8-.5M1031.8 190.1l4 1.1M1049.8 200.6l4.1 2.3"/><path fill="#0000fc" d="M794 234l11-3 3 4-12 2z"/><path fill="#000cfc" d="M804 232l11-3 3 4-12 2zM814 230l11-3 3 3-11 3zM824 227l11-2 3 3-11 3zM834 225l11-2 3 3-11 3zM1080 202l10 0 5 3-11 0zM1089 202l10 0 5 3-11 0zM1098 202l10-1 5 4-11 0zM1107 202l10-1 5 3-11 1z"/><path fill="#0018fc" d="M844 223l7-2 3 4-7 2zM1053 203l10-1 5 3-11 0zM1062 203l10-1 5 3-11 0zM1071 202l10 0 5 3-11 0z"/><path fill="#0024fc" d="M850 223l14-17 3 1-14 18zM1044 196l10 7 5 3-11-8z"/><path fill="#006cfc" d="M863 207l9-11 3 0-9 12z"/><path fill="#00a8fc" d="M871 198l13-13 3-1-13 13z"/><path fill="#00f0fc" d="M883 187l10-11 3-3-10 12z"/><path fill="#00fce4" d="M892 177l6-5 3-3-6 6z"/><path fill="#00fccc" d="M897 173l6-4 3-4-6 5z"/><path fill="#00fcb4" d="M902 169l10-7 3-4-10 8z"/><path fill="#00fc84" d="M911 163l11-11 4-6-12 13z"/><path fill="#00fc54" d="M921 153l11-11 3-8-10 13z"/><path fill="#00fc18" d="M931 143l11-11 3-9-11 12z"/><path fill="#18fc00" d="M941 133l10-11 4-10-11 12z"/><path fill="#54fc00" d="M950 123l11-11 3-11-11 12z"/><path fill="#84fc00" d="M960 113l10-10 3-13-10 11z"/><path fill="#48fc00" d="M969 102l11 31 4-8-11-35z"/><path fill="#00fc60" d="M979 131l10 28 4-4-10-32z"/><path fill="#00fcf0" d="M989 158l7 20 4-1-7-24z"/><path fill="#00b4fc" d="M995 177l13 5 4-1-13-6z"/><path fill="#0090fc" d="M1007 182l11 3 4-1-11-4z"/><path fill="#0078fc" d="M1016 185l11 3 4 0-11-4z"/><path fill="#0060fc" d="M1026 188l10 4 5 0-11-4z"/><path fill="#003cfc" d="M1035 191l10 6 4 2-10-8z"/><path fill="none" stroke="#8a8a8a" stroke-width="0.9" d="M850.6 222.1l3 2.6M871.4 197.1l3.1-.4M897.1 172.7l3.2-3.3M911.6 162.6l3.3-4.5M969.1 102.8l3.7-11.9M995.9 177.6l3.8-1.7M1035.8 191.2l4.1.5M1053.9 202.9l4.1 2.2"/><path fill="#0000fc" d="M796 237l12-3 3 4-12 2z"/><path fill="#000cfc" d="M806 235l12-3 3 3-12 3zM816 232l12-2 3 3-12 3zM826 230l12-2 3 3-12 3zM1093 205l11-1 4 3-10 0zM1102 204l11 0 4 3-10 0zM1111 204l10 0 5 3-10 0z"/><path fill="#0018fc" d="M836 228l12-2 3 3-11 2zM846 226l8-2 3 3-7 2zM1057 205l10 0 5 2-10 1zM1066 205l11 0 4 2-11 1zM1075 205l11-1 4 3-10 1zM1084 205l11-1 4 3-10 1z"/><path fill="#0030fc" d="M853 225l14-19 3 1-14 21z"/><path fill="#0078fc" d="M866 208l9-12 3 0-8 12z"/><path fill="#00ccfc" d="M874 197l13-13 3-2-13 15z"/><path fill="#00fcf0" d="M886 185l10-12 4-3-11 13z"/><path fill="#00fcc0" d="M895 175l6-6 3-4-5 6z"/><path fill="#00fca8" d="M900 170l6-5 3-5-6 6z"/><path fill="#00fc90" d="M905 166l11-8 3-6-11 9z"/><path fill="#00fc60" d="M914 159l12-13 3-7-11 15z"/><path fill="#00fc18" d="M925 147l10-12 4-9-11 14z"/><path fill="#24fc00" d="M934 136l11-13 3-9-10 13z"/><path fill="#60fc00" d="M944 124l11-12 3-11-11 14z"/><path fill="#9cfc00" d="M954 113l11-12 3-12-11 13z"/><path fill="#ccfc00" d="M964 102l9-11 4-14-10 12z"/><path fill="#90fc00" d="M972 90l11 35 4-9-11-39z"/><path fill="#00fc30" d="M983 123l10 32 4-5-10-35z"/><path fill="#00fccc" d="M992 154l8 23 4-2-7-26z"/><path fill="#00d8fc" d="M999 176l13 5 4-2-13-6z"/><path fill="#00a8fc" d="M1011 180l11 5 4-1-11-5z"/><path fill="#0084fc" d="M1020 184l11 4 4 0-11-5z"/><path fill="#006cfc" d="M1030 188l10 4 5 0-11-5z"/><path fill="#0048fc" d="M1039 191l10 8 4 1-9-9z"/><path fill="#0024fc" d="M1048 198l11 8 4 2-11-9z"/><path fill="none" stroke="#8a8a8a" stroke-width="0.9" d="M853.6 224.7l3 2.7M874.5 196.7l3.1-.6M900.3 169.4l3.2-3.8M914.9 158.1l3.3-5.1M972.8 90.9l3.7-13.2M999.7 175.9l3.9-2M1039.9 191.7l4.1.3M1058 205.1l4.2 2.2"/><path fill="#0000fc" d="M799 240l11-3 3 4-11 2z"/><path fill="#000cfc" d="M809 238l12-3 3 3-12 3zM819 235l12-2 3 3-12 3zM829 233l12-2 3 3-12 3zM1098 207l10 0 5 3-11 0zM1107 207l10 0 5 3-11 0zM1116 207l10 0 5 3-11 0z"/><path fill="#0018fc" d="M839 231l12-3 3 4-12 2zM849 229l8-2 3 3-7 2zM1061 207l11 0 4 3-10 0zM1070 207l11 0 4 3-10 0zM1079 207l11 0 4 3-10 0zM1089 207l10 0 5 3-11 0z"/><path fill="#0030fc" d="M856 228l14-21 3 1-14 23z"/><path fill="#0084fc" d="M869 208l9-13 3 0-8 14z"/><path fill="#00e4fc" d="M877 197l13-15 3-2-13 16z"/><path fill="#00fccc" d="M889 183l11-13 3-3-11 14z"/><path fill="#00fc9c" d="M899 171l5-6 3-4-5 7z"/><path fill="#00fc84" d="M903 166l7-5 3-5-7 6z"/><path fill="#00fc6c" d="M908 161l11-8 3-6-10 10z"/><path fill="#00fc30" d="M918 154l11-15 3-7-11 16z"/><path fill="#18fc00" d="M928 140l11-13 3-9-11 16z"/><path fill="#54fc00" d="M938 128l11-14 3-10-11 16z"/><path fill="#9cfc00" d="M948 115l11-13 3-12-11 16z"/><path fill="#d8fc00" d="M957 103l11-14 4-13-11 15z"/><path fill="#fce400" d="M967 90l10-12 4-14-10 13z"/><path fill="#ccfc00" d="M976 77l11 39 4-9-11-43z"/><path fill="#00fc00" d="M987 115l10 35 4-5-10-39z"/><path fill="#00fca8" d="M996 149l8 26 4-2-7-29z"/><path fill="#00f0fc" d="M1003 174l13 6 4-2-13-7z"/><path fill="#00ccfc" d="M1015 179l11 5 4-1-11-6z"/><path fill="#009cfc" d="M1024 183l11 5 4 0-10-6z"/><path fill="#0078fc" d="M1034 187l11 5 4 1-11-6z"/><path fill="#0054fc" d="M1043 192l10 8 5 1-10-9z"/><path fill="#0024fc" d="M1052 199l11 9 4 2-10-10z"/><path fill="none" stroke="#8a8a8a" stroke-width="0.9" d="M856.6 227.4l3 2.7M877.6 196.1l3.1-.6M903.5 165.6l3.3-3.9M918.2 153l3.4-5.1M976.5 77.7l3.9-13.4M1003.6 173.9l4-2M1044 192l4.2.4M1062.2 207.3l4.2 2.2"/><path fill="#0000fc" d="M802 243l11-3 3 4-12 3z"/><path fill="#000cfc" d="M812 241l11-3 3 3-11 3zM822 238l12-2 3 3-12 3zM832 236l12-3 3 4-12 3zM1102 209l10 0 5 3-10 1zM1111 209l11 0 4 4-10 0zM1120 210l10-1 5 4-10 0z"/><path fill="#0018fc" d="M842 234l12-3 3 3-12 3zM852 231l8-1 3 3-7 2zM1066 209l10 0 4 3-10 0zM1075 209l10 0 5 3-11 0zM1084 209l10 0 5 3-11 0zM1093 209l10 0 5 3-11 0z"/><path fill="#0030fc" d="M859 231l14-23 4 1-15 25z"/><path fill="#009cfc" d="M872 209l9-14 3 0-8 15z"/><path fill="#00fcfc" d="M880 196l13-16 3-1-12 18z"/><path fill="#00fcb4" d="M892 181l11-14 3-1-11 14z"/><path fill="#00fc84" d="M902 168l5-7 4-2-5 8z"/><path fill="#00fc6c" d="M906 162l7-6 3-2-6 7z"/><path fill="#00fc48" d="M912 157l10-10 4-2-11 10z"/><path fill="#00fc0c" d="M921 148l11-16 4-3-11 17z"/><path fill="#3cfc00" d="M932 134l10-16 4-4-11 16z"/><path fill="#84fc00" d="M941 120l11-16 4-5-11 16z"/><path fill="#ccfc00" d="M951 106l11-15 4-7-11 16z"/><path fill="#fce400" d="M961 92l11-15 4-8-11 16z"/><path fill="#fca800" d="M971 78l10-14 4-9-10 15z"/><path fill="#fcf000" d="M980 64l11 43 4-5-11-47z"/><path fill="#30fc00" d="M991 106l10 39 4-2-10-43z"/><path fill="#00fc90" d="M1000 144l8 29 4-1-7-31z"/><path fill="#00fcf0" d="M1007 172l13 6 4 0-13-7z"/><path fill="#00e4fc" d="M1019 178l11 5 4 0-11-6z"/><path fill="#00b4fc" d="M1028 182l11 6 4 1-10-6z"/><path fill="#0084fc" d="M1038 187l11 6 4 1-11-6z"/><path fill="#0060fc" d="M1048 192l9 9 5 2-10-10z"/><path fill="#0024fc" d="M1056 200l11 10 4 2-10-10z"/><path fill="none" stroke="#8a8a8a" stroke-width="0.9" d="M859.6 230.1l3.1 2.8M880.7 195.5l3.2.5M906.8 161.7l3.4-1.7M921.6 147.9l3.4-2.7M980.4 64.3l3.9-8.4M1007.6 171.9l4-.5M1048.2 192.4l4.2 1.1M1066.4 209.5l4.3 2.4"/><path fill="#0000fc" d="M804 246l12-3 3 4-12 3z"/><path fill="#000cfc" d="M815 244l11-3 3 4-11 2zM825 241l11-2 4 3-12 3zM835 239l12-3 3 4-12 3zM1107 212l10 0 5 3-11 0zM1116 212l10 0 5 3-11 0zM1125 212l10 0 5 3-11 0z"/><path fill="#0018fc" d="M845 237l12-3 3 3-11 3zM856 234l7-2 4 4-8 2zM1070 212l10 0 5 3-11 0zM1079 212l11 0 4 3-11 0zM1088 212l11 0 4 3-10 0zM1097 212l11 0 5 3-11 0z"/><path fill="#003cfc" d="M862 234l14-25 4 2-14 26z"/><path fill="#00a8fc" d="M876 210l8-15 4 1-9 16z"/><path fill="#00fcf0" d="M883 197l13-18 4 0-13 19z"/><path fill="#00fca8" d="M895 180l11-15 4 0-11 15z"/><path fill="#00fc6c" d="M905 167l5-8 4-1-5 8z"/><path fill="#00fc54" d="M910 160l6-6 4-1-7 6z"/><path fill="#00fc30" d="M915 155l11-10 3-2-10 11z"/><path fill="#18fc00" d="M925 146l11-17 4-3-12 18z"/><path fill="#60fc00" d="M935 130l11-16 4-4-11 17z"/><path fill="#a8fc00" d="M945 115l11-16 4-5-11 17z"/><path fill="#fcfc00" d="M955 100l11-16 4-6-11 17z"/><path fill="#fcc000" d="M965 85l11-16 4-7-11 18z"/><path fill="#fc7800" d="M975 70l10-15 4-7-10 16z"/><path fill="#fccc00" d="M984 55l11 47 4-5-11-49z"/><path fill="#48fc00" d="M995 100l10 43 4-2-10-45z"/><path fill="#00fc78" d="M1004 141l8 31 4 0-7-33z"/><path fill="#00fce4" d="M1011 171l13 7 5 1-14-8z"/><path fill="#00f0fc" d="M1023 178l11 6 4 0-11-6z"/><path fill="#00c0fc" d="M1033 183l10 6 5 1-11-7z"/><path fill="#0090fc" d="M1042 188l11 6 4 1-11-6z"/><path fill="#0060fc" d="M1052 193l10 10 4 2-10-11z"/><path fill="#0030fc" d="M1061 202l10 11 5 2-11-11z"/><path fill="none" stroke="#8a8a8a" stroke-width="0.9" d="M862.7 232.9l3.2 3M883.9 196l3.2.9M910.2 160l3.4-1.3M925 145.2l3.6-2.1M984.3 55.9l4-7.3M1011.6 171.4l4-.2M1052.4 193.5l4.3 1.4M1070.7 211.9l4.4 2.5"/><path fill="#0000fc" d="M807 249l12-2 3 3-12 3z"/><path fill="#000cfc" d="M817 247l12-3 3 4-12 3zM828 245l11-3 4 3-12 3zM838 242l12-3 3 4-12 3zM1120 215l11 0 5 3-11 0zM1129 215l11 0 5 3-11 0z"/><path fill="#0018fc" d="M848 240l12-3 3 3-11 3zM859 237l7-2 4 4-8 2zM1074 214l11 0 4 3-10 0zM1083 214l11 0 5 3-11 0zM1093 215l10-1 5 4-11 0zM1102 215l10 0 5 3-10 0zM1111 215l11 0 4 3-10 0z"/><path fill="#003cfc" d="M865 236l15-25 3 1-14 28z"/><path fill="#00b4fc" d="M879 212l8-16 4 1-9 17z"/><path fill="#00fce4" d="M887 197l12-18 4 0-13 19z"/><path fill="#00fc90" d="M899 180l10-15 4-1-11 16z"/><path fill="#00fc60" d="M909 166l5-8 4-1-6 8zM1008 139l8 33 4 0-7-35z"/><path fill="#00fc3c" d="M913 159l6-7 4-1-6 7z"/><path fill="#00fc18" d="M919 153l10-10 4-2-11 11z"/><path fill="#30fc00" d="M928 144l11-18 4-3-11 19z"/><path fill="#84fc00" d="M939 127l10-17 4-4-11 18z"/><path fill="#ccfc00" d="M949 111l10-17 4-5-11 18z"/><path fill="#fce400" d="M959 95l10-17 4-5-10 18z"/><path fill="#fc9000" d="M969 80l11-18 4-6-11 18z"/><path fill="#fc4800" d="M979 64l10-16 4-7-10 16z"/><path fill="#fca800" d="M988 48l11 50 4-5-11-53z"/><path fill="#6cfc00" d="M999 96l10 45 4-2-10-47z"/><path fill="#00fcd8" d="M1015 171l13 8 5 0-14-8z"/><path fill="#00fcfc" d="M1027 178l11 6 4 1-10-7z"/><path fill="#00ccfc" d="M1037 183l10 7 5 1-11-7z"/><path fill="#009cfc" d="M1046 189l11 6 5 2-11-7z"/><path fill="#006cfc" d="M1056 194l10 11 4 2-9-11z"/><path fill="#0030fc" d="M1065 204l11 11 4 2-10-11z"/><path fill="none" stroke="#8a8a8a" stroke-width="0.9" d="M865.9 235.9l3.1 2.9M887.1 196.9l3.3.8M913.6 158.7l3.5-1.2M928.6 143.1l3.5-2.1M988.3 48.6l4-7.4M1015.6 171.2l4.2-.1M1056.7 194.9l4.3 1.3M1075.1 214.4l4.4 2.6"/><path fill="#0000fc" d="M810 253l12-3 3 4-12 2z"/><path fill="#000cfc" d="M820 250l12-3 3 4-12 3zM831 248l11-3 4 4-12 2zM841 245l12-3 3 4-12 3zM1125 218l10-1 5 4-10 0zM1134 218l11 0 4 3-10 0z"/><path fill="#0018fc" d="M851 243l12-3 3 4-11 3zM862 240l7-2 4 4-8 2zM1079 217l10 0 5 3-11 0zM1088 217l11 0 4 3-11 1zM1097 217l11 0 5 4-11 0zM1106 217l11 0 5 4-11 0zM1116 217l10 0 5 4-11 0z"/><path fill="#003cfc" d="M869 239l14-27 3 4-14 27z"/><path fill="#00b4fc" d="M882 213l9-16 3 4-8 16z"/><path fill="#00fce4" d="M890 198l13-19 4 4-13 19z"/><path fill="#00fc90" d="M902 180l11-16 4 4-11 16z"/><path fill="#00fc54" d="M912 164l5-7 4 5-5 8z"/><path fill="#00fc3c" d="M916 158l7-7 4 5-6 7z"/><path fill="#00fc0c" d="M922 152l10-12 5 6-11 11z"/><path fill="#30fc00" d="M932 142l11-19 4 5-11 19z"/><path fill="#84fc00" d="M942 124l11-18 4 6-11 17z"/><path fill="#d8fc00" d="M952 107l11-18 4 6-11 18z"/><path fill="#fcd800" d="M962 90l11-17 5 6-11 18z"/><path fill="#fc8400" d="M972 74l11-18 5 7-11 17z"/><path fill="#fc3c00" d="M982 57l11-17 4 8-10 16z"/><path fill="#fc9c00" d="M992 40l11 53 4 6-11-52z"/><path fill="#6cfc00" d="M1003 92l10 47 4 5-10-47z"/><path fill="#00fc60" d="M1013 137l7 35 4 4-7-34z"/><path fill="#00fccc" d="M1019 171l14 8 4 4-14-8z"/><path fill="#00fcfc" d="M1031 178l11 7 5 4-11-7z"/><path fill="#00d8fc" d="M1041 184l11 7 4 3-11-6z"/><path fill="#009cfc" d="M1051 190l11 7 4 3-11-6z"/><path fill="#006cfc" d="M1060 196l10 11 5 3-10-11z"/><path fill="#0030fc" d="M1069 206l11 12 5 3-11-12z"/><path fill="none" stroke="#8a8a8a" stroke-width="0.9" d="M869 238.8l3.3 3.3M890.4 197.7l3.4 4M917.1 157.5l3.6 4.7M932.1 141l3.7 5M992.3 41.2l4.1 6.8M1019.8 171.1l4.1 4.1M1061 196.2l4.4 3.6M1079.5 217l4.5 3"/><path fill="#0000fc" d="M813 256l12-3 3 4-12 3z"/><path fill="#000cfc" d="M823 253l12-2 3 3-12 3zM834 251l11-3 4 4-12 3zM844 248l12-2 3 4-12 2zM1130 220l10 0 5 4-11 0zM1139 221l10-1 5 4-10 0z"/><path fill="#0018fc" d="M855 246l11-3 4 4-12 3zM865 243l8-2 3 5-8 2zM1083 220l11 0 4 4-10 0zM1092 220l11 0 5 4-11 0zM1102 220l10 0 5 4-11 0zM1111 220l11 0 5 4-11 0zM1120 220l11 0 5 4-11 0z"/><path fill="#003cfc" d="M872 243l14-27 4 4-15 26z"/><path fill="#00a8fc" d="M885 217l9-16 4 5-9 16z"/><path fill="#00fcf0" d="M893 202l13-19 4 6-13 18z"/><path fill="#00fc9c" d="M905 184l11-16 4 6-11 16z"/><path fill="#00fc60" d="M915 169l6-8 4 7-5 8z"/><path fill="#00fc48" d="M920 162l6-7 5 8-7 6z"/><path fill="#00fc24" d="M926 156l10-11 4 8-10 10z"/><path fill="#24fc00" d="M935 146l12-18 4 8-12 18z"/><path fill="#6cfc00" d="M946 129l11-17 4 8-11 17z"/><path fill="#c0fc00" d="M956 113l11-18 4 9-11 17z"/><path fill="#fcf000" d="M966 96l11-17 5 9-11 17z"/><path fill="#fca800" d="M976 80l11-18 5 11-11 16z"/><path fill="#fc6000" d="M986 63l11-16 4 11-10 16z"/><path fill="#fcb400" d="M996 47l11 52 5 8-12-49z"/><path fill="#60fc00" d="M1007 97l10 47 4 6-10-44z"/><path fill="#00fc6c" d="M1017 142l7 34 4 5-7-32z"/><path fill="#00fcd8" d="M1023 175l14 8 4 5-14-8z"/><path fill="#00fcfc" d="M1036 182l11 6 4 5-11-6z"/><path fill="#00ccfc" d="M1045 188l11 6 4 5-11-6z"/><path fill="#009cfc" d="M1055 193l11 7 4 4-11-6z"/><path fill="#0060fc" d="M1065 199l10 11 4 4-10-11z"/><path fill="#0030fc" d="M1074 209l10 12 5 3-11-11z"/><path fill="none" stroke="#8a8a8a" stroke-width="0.9" d="M872.3 242.1l3.2 3.4M893.8 201.7l3.5 4.8M920.7 162.2l3.6 6.2M935.8 146l3.8 6.8M996.4 48l4.2 10.5M1023.9 175.2l4.2 5.3M1065.4 199.8l4.4 4.1M1084 220l4.5 3.3"/><path fill="#0000fc" d="M816 259l12-3 3 4-12 3z"/><path fill="#000cfc" d="M826 257l12-3 3 4-12 3zM837 254l12-3 3 4-12 3zM847 252l12-3 3 4-11 3zM1125 223l11 0 5 4-11 0zM1134 223l11 0 5 4-11 0zM1144 224l10-1 5 4-10 0z"/><path fill="#0018fc" d="M858 249l11-2 4 3-12 3zM868 247l8-2 4 4-8 2zM1088 223l10 0 5 4-11 0zM1097 223l11 0 4 4-10 0zM1106 223l11 0 5 4-11 0zM1116 223l10 0 5 4-10 0z"/><path fill="#003cfc" d="M875 246l15-26 3 5-14 25z"/><path fill="#009cfc" d="M889 221l8-15 4 5-8 15z"/><path fill="#00fcfc" d="M897 207l13-18 4 5-13 18z"/><path fill="#00fca8" d="M909 190l11-16 4 7-11 14z"/><path fill="#00fc78" d="M919 175l5-7 5 7-6 7z"/><path fill="#00fc60" d="M924 168l6-6 4 7-6 6z"/><path fill="#00fc30" d="M929 163l11-11 4 8-11 10z"/><path fill="#0cfc00" d="M939 153l12-18 4 8-12 17z"/><path fill="#54fc00" d="M950 137l11-17 4 8-11 16z"/><path fill="#9cfc00" d="M960 121l11-17 4 9-11 16z"/><path fill="#e4fc00" d="M970 105l11-17 5 10-11 16z"/><path fill="#fccc00" d="M980 89l11-17 5 11-11 16z"/><path fill="#fc8400" d="M991 73l10-15 4 11-10 15z"/><path fill="#fcd800" d="M1000 58l12 49 4 9-11-48z"/><path fill="#3cfc00" d="M1011 106l10 44 5 7-11-43z"/><path fill="#00fc84" d="M1021 149l7 32 5 6-8-32z"/><path fill="#00fce4" d="M1028 180l13 8 4 5-13-7z"/><path fill="#00e4fc" d="M1040 187l11 6 4 5-11-6z"/><path fill="#00c0fc" d="M1050 192l11 6 4 5-11-6z"/><path fill="#0090fc" d="M1059 198l12 6 4 4-11-5z"/><path fill="#0060fc" d="M1069 203l10 11 5 3-10-10z"/><path fill="#0030fc" d="M1078 213l11 11 5 3-11-11z"/><path fill="none" stroke="#8a8a8a" stroke-width="0.9" d="M875.5 245.5l3.3 3.4M897.3 206.5l3.5 4.9M924.3 168.4l3.7 6.4M939.6 152.8l3.8 6.9M1000.6 58.5l4.1 10.5M1028.1 180.5l4.3 5.3M1069.8 203.9l4.5 4.1M1088.5 223.3l4.6 3.2"/><path fill="#0000fc" d="M819 263l12-3 3 4-12 3z"/><path fill="#000cfc" d="M829 260l12-3 3 4-12 3zM840 258l12-3 3 4-12 3zM850 255l12-3 4 4-12 3zM1130 226l11 0 5 4-11 0zM1139 227l11-1 5 4-11 0zM1149 227l10-1 5 4-10 0z"/><path fill="#0018fc" d="M861 253l12-3 3 4-12 3zM871 250l8-2 4 5-8 2zM1092 226l11 0 5 4-11 0zM1102 226l10 0 5 4-11 0zM1111 226l11 0 5 4-11 0zM1120 226l11 0 5 4-11 0z"/><path fill="#0030fc" d="M878 249l15-24 4 4-15 24z"/><path fill="#009cfc" d="M892 226l9-15 4 5-9 14z"/><path fill="#00fcfc" d="M900 212l13-18 4 6-13 17z"/><path fill="#00fcb4" d="M912 195l12-15 4 7-11 14z"/><path fill="#00fc84" d="M923 181l5-7 5 7-6 7z"/><path fill="#00fc6c" d="M927 175l7-7 4 8-6 6z"/><path fill="#00fc48" d="M933 169l11-10 4 8-11 10z"/><path fill="#00fc0c" d="M943 160l11-17 5 8-12 16z"/><path fill="#3cfc00" d="M954 144l11-16 4 8-11 16z"/><path fill="#84fc00" d="M964 129l11-16 5 9-12 15z"/><path fill="#ccfc00" d="M974 114l11-17 5 10-11 16z"/><path fill="#fcf000" d="M984 98l12-16 4 11-11 15z"/><path fill="#fcb400" d="M995 83l10-15 5 12-11 14z"/><path fill="#fcfc00" d="M1005 68l11 48 4 8-11-45z"/><path fill="#24fc00" d="M1015 114l10 43 5 7-10-41z"/><path fill="#00fc90" d="M1025 155l7 32 5 5-7-30z"/><path fill="#00fcf0" d="M1032 185l14 8 4 5-14-7z"/><path fill="#00d8fc" d="M1044 192l11 6 5 5-12-6z"/><path fill="#00b4fc" d="M1054 197l11 6 4 5-11-6z"/><path fill="#0084fc" d="M1064 202l11 6 4 5-11-6z"/><path fill="#0054fc" d="M1074 208l10 9 4 4-10-9z"/><path fill="#0024fc" d="M1083 216l11 11 4 3-11-10z"/><path fill="none" stroke="#8a8a8a" stroke-width="0.9" d="M878.8 248.9l3.4 3.5M900.8 211.4l3.5 5M928 174.8l3.8 6.3M943.4 159.7l3.8 7M1004.7 69l4.3 10.7M1032.4 185.8l4.3 5.4M1074.3 208l4.5 4.2M1093.1 226.5l4.6 3.3"/><path fill="#0000fc" d="M822 266l12-3 3 4-12 3z"/><path fill="#000cfc" d="M832 264l12-3 4 4-13 3zM843 261l12-3 3 4-12 3zM854 259l12-3 3 4-12 3zM1135 230l10-1 6 4-11 0zM1144 230l11-1 5 4-11 0zM1153 230l11-1 5 4-10 0z"/><path fill="#0018fc" d="M864 256l12-3 4 4-12 3zM875 254l8-2 3 4-8 2zM1097 230l11-1 4 4-10 1zM1106 230l11-1 5 4-11 1zM1116 230l11-1 5 4-11 0zM1125 230l11-1 5 4-11 0z"/><path fill="#0030fc" d="M882 253l14-24 4 4-15 24z"/><path fill="#0090fc" d="M896 230l9-14 4 5-9 14z"/><path fill="#00f0fc" d="M904 217l13-17 4 5-13 17z"/><path fill="#00fccc" d="M916 201l11-15 5 7-12 13z"/><path fill="#00fc9c" d="M926 187l6-7 4 7-5 7z"/><path fill="#00fc84" d="M931 181l7-6 4 7-7 6z"/><path fill="#00fc60" d="M937 176l10-10 5 7-11 10z"/><path fill="#00fc24" d="M947 167l11-16 5 7-12 16z"/><path fill="#24fc00" d="M957 152l12-16 4 8-11 15z"/><path fill="#60fc00" d="M968 137l11-16 5 9-12 15z"/><path fill="#a8fc00" d="M978 122l11-15 5 9-11 15z"/><path fill="#e4fc00" d="M988 108l12-16 4 10-11 15z"/><path fill="#fcd800" d="M999 93l10-14 5 10-10 14z"/><path fill="#d8fc00" d="M1009 79l11 45 4 8-11-43z"/><path fill="#0cfc00" d="M1020 123l10 41 4 6-10-39z"/><path fill="#00fca8" d="M1029 162l8 30 4 5-7-29z"/><path fill="#00fcfc" d="M1036 191l14 7 4 5-14-7z"/><path fill="#00ccfc" d="M1049 197l11 5 4 5-11-5z"/><path fill="#00a8fc" d="M1058 202l11 5 5 5-11-5z"/><path fill="#0084fc" d="M1068 207l12 5 4 5-11-6z"/><path fill="#0054fc" d="M1078 212l10 9 5 4-10-9z"/><path fill="#0024fc" d="M1087 220l11 10 5 4-11-10z"/><path fill="none" stroke="#8a8a8a" stroke-width="0.9" d="M882.2 252.4l3.4 3.5M904.3 216.4l3.6 4.7M931.8 181.1l3.7 6M947.2 166.7l3.9 6.5M1009 79.7l4.2 9.7M1036.7 191.2l4.3 5.1M1078.8 212.2l4.6 4.1M1097.7 229.8l4.7 3.4"/><path fill="#0000fc" d="M825 270l12-3 3 4-12 3z"/><path fill="#000cfc" d="M835 267l12-3 4 4-12 3zM846 265l12-3 4 4-13 3zM857 262l12-3 3 4-12 3zM1140 233l10-1 6 4-11 1zM1149 233l11-1 5 4-11 0zM1159 233l10-1 5 4-10 0z"/><path fill="#0018fc" d="M867 260l12-3 4 4-12 3zM878 257l8-2 4 5-8 2zM1102 233l10 0 5 4-10 0zM1111 233l11 0 5 3-11 1zM1121 233l10 0 5 3-10 1zM1130 233l11-1 5 4-11 1z"/><path fill="#0030fc" d="M885 256l15-23 4 5-15 22z"/><path fill="#0084fc" d="M899 234l9-14 4 6-9 13z"/><path fill="#00d8fc" d="M907 222l14-17 4 6-14 16z"/><path fill="#00fcd8" d="M920 206l11-14 4 6-11 14z"/><path fill="#00fca8" d="M930 193l6-7 4 7-5 7z"/><path fill="#00fc90" d="M935 187l6-6 5 7-7 6z"/><path fill="#00fc6c" d="M941 182l10-10 5 8-11 9z"/><path fill="#00fc3c" d="M950 174l12-16 5 7-12 15z"/><path fill="#0cfc00" d="M961 159l12-15 4 8-11 14z"/><path fill="#48fc00" d="M972 145l11-15 5 8-12 15z"/><path fill="#84fc00" d="M982 131l12-15 4 9-11 14z"/><path fill="#ccfc00" d="M993 116l11-15 5 10-12 15z"/><path fill="#fcfc00" d="M1003 102l10-13 5 10-10 13z"/><path fill="#c0fc00" d="M1013 89l11 43 5 8-12-42z"/><path fill="#00fc0c" d="M1024 131l10 39 5 6-11-37z"/><path fill="#00fcb4" d="M1034 168l7 29 5 5-8-27z"/><path fill="#00f0fc" d="M1040 196l14 6 5 6-14-7z"/><path fill="#00c0fc" d="M1053 202l11 5 5 5-12-5z"/><path fill="#009cfc" d="M1063 206l11 6 4 4-11-4z"/><path fill="#0078fc" d="M1073 211l11 5 5 5-12-5z"/><path fill="#0048fc" d="M1083 216l10 9 5 4-11-9z"/><path fill="#0024fc" d="M1092 224l11 10 5 3-11-9z"/><path fill="none" stroke="#8a8a8a" stroke-width="0.9" d="M885.6 255.9l3.5 3.5M907.9 221.1l3.7 4.9M935.5 187.1l3.9 6.1M951.1 173.2l3.9 6.6M1013.2 89.4l4.3 9.7M1041 196.3l4.5 5.2M1083.4 216.3l4.7 4.2M1102.4 233.2l4.8 3.3"/><path fill="#0000fc" d="M828 273l12-3 3 4-12 3z"/><path fill="#000cfc" d="M838 271l13-3 3 4-12 3zM849 268l12-3 4 5-12 2zM860 266l12-3 4 4-12 3zM1145 236l10 0 6 3-11 1zM1154 236l11-1 5 4-11 1zM1164 236l10-1 6 4-11 0z"/><path fill="#0018fc" d="M871 263l12-2 3 4-12 2zM882 261l7-2 4 4-8 2zM1106 236l11 0 5 4-11 0zM1116 236l11 0 5 4-11 0zM1125 236l11 0 5 4-11 0zM1135 236l11 0 5 3-11 1z"/><path fill="#0030fc" d="M889 260l15-22 3 4-15 22z"/><path fill="#0078fc" d="M903 239l9-14 4 6-9 12z"/><path fill="#00ccfc" d="M911 226l13-16 5 6-14 16z"/><path fill="#00fce4" d="M924 211l11-13 4 6-11 13z"/><path fill="#00fcb4" d="M934 199l5-7 5 7-6 6z"/><path fill="#00fc9c" d="M939 193l6-5 5 7-7 5z"/><path fill="#00fc84" d="M944 188l11-9 5 7-11 9z"/><path fill="#00fc54" d="M954 180l12-15 5 7-12 15z"/><path fill="#00fc0c" d="M965 166l12-15 4 8-11 14z"/><path fill="#30fc00" d="M976 152l11-14 5 9-12 13z"/><path fill="#6cfc00" d="M986 139l12-15 4 10-11 14z"/><path fill="#a8fc00" d="M997 125l11-14 5 10-11 14z"/><path fill="#e4fc00" d="M1007 112l11-14 5 11-11 13z"/><path fill="#9cfc00" d="M1017 98l12 42 4 8-11-40z"/><path fill="#00fc24" d="M1028 139l10 37 5 7-10-36z"/><path fill="#00fcc0" d="M1038 175l8 27 4 5-7-26z"/><path fill="#00d8fc" d="M1045 201l14 6 4 5-14-5z"/><path fill="#00b4fc" d="M1057 207l12 4 4 6-11-5z"/><path fill="#0090fc" d="M1067 211l12 5 4 5-11-5z"/><path fill="#006cfc" d="M1077 216l12 4 4 5-11-5z"/><path fill="#0048fc" d="M1087 220l11 9 5 4-11-9z"/><path fill="#0024fc" d="M1097 228l11 9 5 3-12-8z"/><path fill="none" stroke="#8a8a8a" stroke-width="0.9" d="M889.1 259.4l3.5 3.7M911.6 226l3.7 4.9M939.4 193.2l3.9 6.2M955 179.8l4 6.6M1017.5 99.1l4.4 9.9M1045.5 201.5l4.4 5.2M1088.1 220.5l4.7 4.2M1107.2 236.5l4.8 3.4"/><path fill="#0000fc" d="M831 277l12-3 3 4-12 3z"/><path fill="#000cfc" d="M842 274l12-3 3 5-12 2zM853 272l12-3 3 4-12 3zM863 269l13-2 3 4-12 3zM1150 239l11 0 5 4-11 0zM1159 239l11 0 5 3-10 1zM1169 239l11-1 5 4-11 1z"/><path fill="#0018fc" d="M874 267l12-3 4 4-12 3zM885 264l8-2 4 5-8 2zM1111 240l11-1 5 4-11 1zM1121 240l11-1 5 4-11 1zM1130 239l11 0 6 4-12 0zM1140 239l11 0 5 4-11 0z"/><path fill="#0030fc" d="M892 264l15-22 4 5-15 20z"/><path fill="#0078fc" d="M906 243l9-13 5 6-10 12z"/><path fill="#00c0fc" d="M915 231l13-15 4 6-13 15z"/><path fill="#00fcf0" d="M927 217l12-13 4 7-11 12z"/><path fill="#00fccc" d="M938 205l5-6 5 7-6 6zM1043 181l7 26 5 6-8-25z"/><path fill="#00fcb4" d="M943 199l6-5 5 7-7 5z"/><path fill="#00fc90" d="M948 195l11-9 5 7-11 9z"/><path fill="#00fc60" d="M958 187l12-15 5 8-12 14z"/><path fill="#00fc24" d="M969 173l12-14 5 8-12 14z"/><path fill="#18fc00" d="M980 160l11-14 5 9-11 13z"/><path fill="#54fc00" d="M991 147l11-14 5 10-12 13z"/><path fill="#84fc00" d="M1001 134l12-14 4 10-11 14z"/><path fill="#c0fc00" d="M1012 121l10-13 5 11-10 12z"/><path fill="#78fc00" d="M1022 108l11 40 5 8-12-38z"/><path fill="#00fc3c" d="M1033 147l10 36 5 6-11-34z"/><path fill="#00ccfc" d="M1049 206l14 6 5 5-14-5z"/><path fill="#00a8fc" d="M1062 212l11 4 5 5-11-4z"/><path fill="#0084fc" d="M1072 216l11 4 5 5-11-4z"/><path fill="#006cfc" d="M1082 220l12 5 4 4-12-4z"/><path fill="#0048fc" d="M1092 224l11 8 4 4-10-7z"/><path fill="#0024fc" d="M1101 232l12 8 4 4-11-9z"/><path fill="none" stroke="#8a8a8a" stroke-width="0.9" d="M892.6 263.1l3.5 3.6M915.3 230.9l3.7 5M943.3 199.4l3.9 6.3M959 186.4l4.1 6.8M1021.9 109l4.4 10.1M1049.9 206.7l4.6 5.4M1092.8 224.7l4.7 4.2M1112 239.9l4.9 3.5"/><path fill="#0000fc" d="M834 280l12-2 4 4-13 3z"/><path fill="#000cfc" d="M845 278l12-3 4 4-13 3zM856 275l12-2 4 4-13 3zM867 273l12-3 4 4-13 3zM1155 242l11 0 5 4-11 0zM1164 242l11 0 6 4-11 0zM1174 242l11-1 5 4-11 1z"/><path fill="#0018fc" d="M878 271l12-3 4 4-13 3zM888 268l9-2 3 5-8 2zM1116 243l11 0 5 4-11 0zM1126 243l11 0 5 4-11 0zM1135 243l11-1 6 4-11 1zM1145 243l11-1 5 4-11 1z"/><path fill="#0030fc" d="M896 267l15-20 4 4-16 20z"/><path fill="#006cfc" d="M910 248l9-13 4 6-9 12z"/><path fill="#00b4fc" d="M918 236l14-15 4 6-14 15z"/><path fill="#00fcfc" d="M931 222l12-12 4 7-12 11z"/><path fill="#00fcd8" d="M942 211l5-6 5 7-6 6z"/><path fill="#00fcc0" d="M946 206l7-6 5 8-7 5z"/><path fill="#00fca8" d="M952 201l11-8 5 7-11 8z"/><path fill="#00fc78" d="M962 193l13-14 4 8-12 14z"/><path fill="#00fc3c" d="M974 180l11-13 5 8-12 13z"/><path fill="#00fc00" d="M984 168l12-14 5 10-12 12z"/><path fill="#30fc00" d="M995 155l11-13 5 10-11 12z"/><path fill="#6cfc00" d="M1005 143l12-13 5 10-12 13z"/><path fill="#9cfc00" d="M1016 130l11-12 5 11-11 12z"/><path fill="#60fc00" d="M1026 118l12 38 4 8-11-36z"/><path fill="#00fc54" d="M1037 155l10 34 5 7-10-33z"/><path fill="#00fce4" d="M1047 188l8 25 4 5-7-24z"/><path fill="#00c0fc" d="M1054 212l14 5 5 6-15-6z"/><path fill="#009cfc" d="M1067 217l11 4 5 5-12-4z"/><path fill="#0078fc" d="M1077 221l11 4 5 5-12-4z"/><path fill="#0060fc" d="M1087 225l11 4 5 5-12-4z"/><path fill="#003cfc" d="M1097 228l10 8 5 4-10-7z"/><path fill="#0024fc" d="M1106 235l11 9 5 3-11-8z"/><path fill="none" stroke="#8a8a8a" stroke-width="0.9" d="M896.1 266.7l3.6 3.7M919 235.9l3.8 5M947.2 205.7l4 6.3M963.1 193.2l4.1 6.8M1026.3 119.1l4.5 10.1M1054.5 212.1l4.6 5.3M1097.5 228.9l4.9 4.3M1116.9 243.4l4.9 3.5"/><path fill="#0000fc" d="M837 284l12-3 4 5-13 2z"/><path fill="#000cfc" d="M848 282l13-3 3 4-12 3zM859 279l13-3 3 5-12 2zM870 277l12-3 4 4-12 3zM881 274l12-3 4 5-12 3zM1150 246l11-1 6 4-11 1zM1160 246l11-1 5 4-11 1zM1170 245l11 0 5 4-11 0zM1179 245l11 0 6 3-11 1z"/><path fill="#0018fc" d="M892 272l8-2 4 4-8 2zM1121 247l11-1 5 4-11 1zM1131 247l11-1 5 4-11 1zM1140 246l12 0 5 4-11 0z"/><path fill="#0024fc" d="M899 271l16-20 4 5-16 19zM1111 239l11 8 5 4-11-8z"/><path fill="#0060fc" d="M914 252l9-12 4 6-9 11z"/><path fill="#00a8fc" d="M922 241l14-14 4 6-14 14z"/><path fill="#00f0fc" d="M935 228l12-12 4 7-12 11z"/><path fill="#00fce4" d="M946 217l5-6 5 8-6 5z"/><path fill="#00fcd8" d="M950 212l7-5 5 7-7 5z"/><path fill="#00fcc0" d="M956 208l11-9 5 8-11 8z"/><path fill="#00fc90" d="M966 200l13-13 4 8-12 13z"/><path fill="#00fc54" d="M978 188l11-13 5 8-12 13z"/><path fill="#00fc24" d="M988 176l12-13 5 9-12 12z"/><path fill="#18fc00" d="M999 164l12-13 5 10-12 12z"/><path fill="#48fc00" d="M1010 152l11-13 5 11-11 12z"/><path fill="#78fc00" d="M1020 140l11-12 5 11-11 11z"/><path fill="#3cfc00" d="M1031 128l11 36 5 9-12-34z"/><path fill="#00fc6c" d="M1042 163l10 33 5 6-11-31z"/><path fill="#00fcf0" d="M1052 194l7 24 5 6-8-23z"/><path fill="#00b4fc" d="M1058 217l15 5 4 6-14-5z"/><path fill="#0090fc" d="M1071 222l12 4 4 5-11-4z"/><path fill="#0078fc" d="M1081 225l12 4 5 5-12-3z"/><path fill="#0054fc" d="M1091 229l12 4 5 5-12-4z"/><path fill="#003cfc" d="M1102 233l10 7 5 4-10-7z"/><path fill="none" stroke="#8a8a8a" stroke-width="0.9" d="M899.7 270.4l3.7 3.8M922.8 240.9l3.8 5.1M951.2 212l4.1 6.4M967.2 200l4.1 7M1030.8 129.2l4.5 10.2M1059.1 217.4l4.6 5.5M1102.4 233.2l4.9 4.4M1121.8 246.9l5.1 3.6"/><path fill="#0000fc" d="M840 288l13-3 3 4-12 3z"/><path fill="#000cfc" d="M851 285l13-2 4 4-13 3zM863 283l12-3 4 4-13 3zM874 280l12-2 4 4-13 3zM885 278l12-3 4 5-13 2zM1155 249l11 0 6 4-11 0zM1165 249l11-1 6 4-11 1zM1175 249l11-1 6 4-12 1zM1185 249l11-1 5 4-11 0z"/><path fill="#0018fc" d="M896 276l8-2 4 4-8 2zM1126 250l11 0 5 4-11 1zM1136 250l11-1 5 5-11 0zM1146 250l11-1 5 4-11 1z"/><path fill="#0024fc" d="M903 275l15-19 5 5-16 18zM1116 243l12 8 5 3-12-6z"/><path fill="#0060fc" d="M917 257l10-12 4 6-9 11z"/><path fill="#009cfc" d="M926 246l14-13 4 6-14 13zM1063 223l14 4 5 6-14-4z"/><path fill="#00d8fc" d="M939 234l12-12 4 7-12 11z"/><path fill="#00fcfc" d="M950 223l5-5 5 7-6 5zM1056 201l8 23 5 5-8-21z"/><path fill="#00fce4" d="M955 218l6-5 5 8-7 5z"/><path fill="#00fccc" d="M960 214l12-8 4 8-11 8z"/><path fill="#00fca8" d="M971 207l12-13 5 8-13 13z"/><path fill="#00fc6c" d="M982 195l12-12 5 9-12 11z"/><path fill="#00fc3c" d="M993 184l11-12 5 9-11 12z"/><path fill="#00fc0c" d="M1003 172l12-12 5 10-12 12z"/><path fill="#24fc00" d="M1014 161l12-12 5 11-12 11z"/><path fill="#54fc00" d="M1025 150l11-11 5 11-11 10z"/><path fill="#18fc00" d="M1035 139l12 34 4 8-11-32z"/><path fill="#00fc78" d="M1046 171l11 31 4 7-10-29z"/><path fill="#0084fc" d="M1076 227l12 3 4 6-11-3z"/><path fill="#006cfc" d="M1086 230l12 4 4 5-11-3z"/><path fill="#0054fc" d="M1096 234l12 3 5 5-12-3z"/><path fill="#0030fc" d="M1107 237l10 7 5 4-10-6z"/><path fill="none" stroke="#8a8a8a" stroke-width="0.9" d="M903.4 274.2l3.7 3.8M926.6 246l3.9 5.2M955.3 218.4l4.1 6.5M971.3 207l4.2 7M1035.3 139.4l4.6 10.4M1063.7 222.9l4.8 5.5M1107.3 237.6l5 4.5M1126.9 250.5l5.1 3.6"/><path fill="#0000fc" d="M844 292l12-3 4 4-13 3z"/><path fill="#000cfc" d="M855 289l12-3 4 5-13 3zM866 287l12-3 4 4-12 3zM877 284l13-3 3 5-12 3zM888 282l13-3 4 5-13 2zM1161 253l11-1 5 4-11 1zM1171 253l11-1 5 4-11 1zM1180 252l11-1 6 4-11 1zM1190 252l11-1 6 4-11 1z"/><path fill="#0018fc" d="M899 279l9-2 4 5-9 2zM1131 254l11-1 6 4-11 1zM1141 254l11-1 6 4-12 1zM1151 253l11 0 5 4-11 0z"/><path fill="#0024fc" d="M906 278l16-18 4 5-15 18zM1121 247l12 7 5 4-12-6z"/><path fill="#0054fc" d="M921 261l10-10 4 5-9 11z"/><path fill="#0084fc" d="M930 252l14-13 4 6-14 12z"/><path fill="#00ccfc" d="M943 239l12-10 4 7-12 10z"/><path fill="#00f0fc" d="M954 229l5-5 5 8-5 5z"/><path fill="#00fcfc" d="M959 225l6-5 5 8-7 4z"/><path fill="#00fce4" d="M965 221l11-8 5 8-12 7z"/><path fill="#00fcb4" d="M975 214l12-12 5 8-12 12z"/><path fill="#00fc84" d="M986 203l12-12 5 9-12 11z"/><path fill="#00fc54" d="M997 192l12-12 5 10-12 11z"/><path fill="#00fc24" d="M1008 181l12-11 5 10-12 11z"/><path fill="#0cfc00" d="M1019 170l11-11 5 11-11 11z"/><path fill="#30fc00" d="M1029 160l11-11 5 12-11 9z"/><path fill="#00fc00" d="M1040 149l11 32 5 9-12-30z"/><path fill="#00fc90" d="M1051 180l10 29 5 7-10-27z"/><path fill="#00e4fc" d="M1061 208l8 21 5 6-8-20z"/><path fill="#0090fc" d="M1068 228l14 4 5 6-14-4z"/><path fill="#0078fc" d="M1081 232l11 3 5 6-11-3z"/><path fill="#0060fc" d="M1091 235l11 4 5 5-11-3z"/><path fill="#0048fc" d="M1101 238l12 4 5 5-12-3z"/><path fill="#0030fc" d="M1112 242l10 6 5 4-10-6z"/><path fill="none" stroke="#8a8a8a" stroke-width="0.9" d="M907.1 278l3.8 3.9M930.5 251.2l4 5.3M959.4 224.9l4.1 6.7M975.5 214l4.3 7.2M1039.9 149.8l4.6 10.7M1068.5 228.4l4.7 5.7M1112.3 242.1l5 4.5M1132 254.1l5.1 3.6"/><path fill="#0000fc" d="M847 296l13-3 3 4-13 3z"/><path fill="#000cfc" d="M858 293l13-3 4 5-13 3zM870 291l12-3 4 4-13 3zM881 288l12-3 4 5-12 3zM892 286l12-3 4 4-12 3zM1166 256l11 0 6 4-11 1zM1176 256l11-1 6 4-11 1zM1186 256l11-1 6 4-12 1zM1196 255l11-1 5 4-11 1z"/><path fill="#0018fc" d="M903 283l8-2 4 5-8 2zM1136 258l11-1 6 4-11 1zM1146 257l11-1 6 5-11 0zM1156 257l11-1 6 4-11 1z"/><path fill="#0024fc" d="M910 282l16-17 4 5-16 16zM1126 252l12 6 5 4-12-6z"/><path fill="#0054fc" d="M925 266l10-10 4 6-10 9zM1096 240l11 3 5 6-11-3z"/><path fill="#0078fc" d="M934 257l14-12 4 6-14 12z"/><path fill="#00b4fc" d="M947 245l12-10 5 7-13 10z"/><path fill="#00d8fc" d="M958 236l6-5 4 8-5 4zM1066 215l7 20 5 6-7-19z"/><path fill="#00f0fc" d="M963 231l7-4 4 8-6 4z"/><path fill="#00fcf0" d="M969 228l11-7 5 8-12 6z"/><path fill="#00fccc" d="M979 221l13-11 4 8-12 11z"/><path fill="#00fc9c" d="M991 211l11-11 5 9-12 10z"/><path fill="#00fc78" d="M1001 200l12-11 5 10-12 10z"/><path fill="#00fc48" d="M1012 190l12-11 5 11-12 10z"/><path fill="#00fc18" d="M1023 180l12-11 5 11-12 10z"/><path fill="#0cfc00" d="M1034 170l11-10 5 11-11 10z"/><path fill="#00fc24" d="M1044 160l12 30 5 9-12-28z"/><path fill="#00fca8" d="M1055 189l11 27 5 7-11-26z"/><path fill="#0084fc" d="M1073 234l14 4 5 6-15-4z"/><path fill="#006cfc" d="M1086 237l11 3 5 6-11-2z"/><path fill="#0048fc" d="M1106 243l12 3 5 5-12-2z"/><path fill="#0030fc" d="M1117 246l11 6 5 5-11-6z"/><path fill="none" stroke="#8a8a8a" stroke-width="0.9" d="M910.9 281.9l3.8 3.9M934.5 256.5l4 5.4M963.5 231.6l4.2 6.8M979.8 221.2l4.3 7.3M1044.5 160.5l4.7 10.8M1073.2 234.1l4.9 5.7M1117.3 246.6l5.1 4.6M1137.1 257.7l5.3 3.7"/><path fill="#0000fc" d="M850 299l13-2 4 4-13 3z"/><path fill="#000cfc" d="M862 297l12-3 4 5-13 3zM873 295l13-3 4 4-13 3zM884 292l13-3 4 5-13 3zM896 290l12-3 4 4-12 3zM1161 260l12 0 5 4-11 1zM1171 260l12-1 5 4-11 1zM1181 259l12 0 5 4-11 1zM1191 259l11-1 6 4-11 1zM1201 259l11-1 6 4-11 1z"/><path fill="#0018fc" d="M907 287l8-2 4 5-8 2zM1131 256l12 6 5 4-11-6zM1142 261l11-1 5 5-11 1zM1151 261l12-1 5 4-11 1z"/><path fill="#0024fc" d="M914 286l16-16 4 5-16 15z"/><path fill="#0048fc" d="M929 271l10-10 4 6-10 9z"/><path fill="#0078fc" d="M938 262l14-11 5 6-15 11zM1077 240l15 3 5 6-15-3z"/><path fill="#00a8fc" d="M951 251l12-9 5 7-12 9z"/><path fill="#00ccfc" d="M962 242l6-4 5 7-6 5z"/><path fill="#00d8fc" d="M967 238l7-4 5 8-7 4z"/><path fill="#00fcfc" d="M973 235l11-7 5 8-11 6z"/><path fill="#00fce4" d="M983 229l13-11 5 8-13 11z"/><path fill="#00fcb4" d="M995 218l12-10 5 9-12 10z"/><path fill="#00fc90" d="M1006 209l12-11 5 10-12 10z"/><path fill="#00fc6c" d="M1017 199l12-10 5 10-12 10z"/><path fill="#00fc3c" d="M1028 190l12-11 5 11-12 10z"/><path fill="#00fc18" d="M1039 180l10-9 6 11-11 9z"/><path fill="#00fc48" d="M1049 171l12 28 5 9-12-27z"/><path fill="#00fcc0" d="M1060 197l11 26 5 7-11-24z"/><path fill="#00c0fc" d="M1070 222l8 19 5 5-8-17z"/><path fill="#0060fc" d="M1091 243l11 2 5 6-11-2z"/><path fill="#0054fc" d="M1101 245l11 3 6 6-12-3z"/><path fill="#003cfc" d="M1111 248l12 3 5 5-12-2z"/><path fill="#0030fc" d="M1122 251l11 5 5 5-11-5z"/><path fill="none" stroke="#8a8a8a" stroke-width="0.9" d="M914.7 285.8l3.9 4M938.5 261.9l4.1 5.5M967.7 238.4l4.3 6.8M984.1 228.5l4.4 7.4M1049.2 171.3l4.8 10.9M1078.1 239.8l4.9 5.8M1122.4 251.2l5.2 4.6M1142.4 261.4l5.3 3.8"/><path fill="#0000fc" d="M854 303l13-2 3 4-13 3z"/><path fill="#000cfc" d="M865 301l13-3 4 5-13 3zM877 299l12-3 4 4-13 3zM888 296l13-3 4 5-13 3zM899 294l13-3 4 5-13 2zM1167 264l11-1 6 4-11 1zM1177 264l11-1 6 4-11 1zM1187 263l11-1 6 4-11 1zM1197 263l11-1 6 4-11 1zM1207 262l11-1 6 4-11 1z"/><path fill="#0018fc" d="M911 291l8-2 4 5-8 2zM1137 260l11 5 6 4-12-4zM1147 265l11-1 6 5-11 1zM1157 265l11-1 6 4-12 1z"/><path fill="#0024fc" d="M918 290l16-15 4 5-16 15zM1127 255l11 5 5 5-11-4z"/><path fill="#003cfc" d="M933 276l10-9 4 6-9 8z"/><path fill="#006cfc" d="M942 268l14-11 5 6-15 11zM1082 245l15 3 5 7-15-3z"/><path fill="#0090fc" d="M955 257l12-9 5 8-12 8z"/><path fill="#00b4fc" d="M966 249l6-5 5 8-6 4z"/><path fill="#00c0fc" d="M971 245l7-4 5 8-7 4z"/><path fill="#00d8fc" d="M977 242l12-7 5 9-12 6z"/><path fill="#00fcfc" d="M988 236l12-10 5 8-12 10z"/><path fill="#00fccc" d="M999 226l12-9 5 9-12 9z"/><path fill="#00fca8" d="M1010 217l12-9 5 10-12 9z"/><path fill="#00fc84" d="M1021 208l12-9 6 10-13 9z"/><path fill="#00fc60" d="M1032 199l12-9 6 11-12 9z"/><path fill="#00fc3c" d="M1043 190l11-9 6 12-11 9z"/><path fill="#00fc6c" d="M1054 181l12 27 5 9-13-24z"/><path fill="#00fcd8" d="M1065 206l11 24 5 7-11-22z"/><path fill="#00a8fc" d="M1075 229l8 17 5 6-8-16z"/><path fill="#0054fc" d="M1096 248l11 3 5 6-11-2z"/><path fill="#0048fc" d="M1106 251l12 2 5 6-12-2z"/><path fill="#0030fc" d="M1116 253l12 3 6 5-13-2z"/><path fill="none" stroke="#8a8a8a" stroke-width="0.9" d="M918.6 289.8l3.9 4.1M942.6 267.4l4.1 5.5M972 245.2l4.3 6.9M988.5 235.9l4.4 7.5M1054 182.2l4.8 11M1083 245.6l5 5.9M1127.6 255.8l5.3 4.7M1147.7 265.2l5.4 3.8"/><path fill="#0000fc" d="M857 307l13-2 4 4-13 3z"/><path fill="#000cfc" d="M869 305l13-3 4 5-13 3zM880 303l13-3 4 4-13 3zM892 300l13-3 4 5-13 3zM903 298l13-3 4 5-13 2zM1172 268l12-1 6 4-12 1zM1183 267l11-1 6 5-12 1zM1193 267l11-1 6 4-12 1zM1203 266l11-1 6 4-11 1zM1213 266l11-1 6 4-11 1z"/><path fill="#0018fc" d="M915 295l8-2 4 5-8 2zM1142 264l12 5 5 4-12-4zM1152 269l11-1 6 4-11 1zM1162 268l12-1 5 5-11 1z"/><path fill="#0024fc" d="M922 294l16-14 5 5-17 14zM1132 260l11 5 6 4-12-4z"/><path fill="#003cfc" d="M937 281l10-9 5 6-10 8zM1111 256l12 2 5 5-12-1z"/><path fill="#0060fc" d="M946 273l15-10 4 6-15 10zM1087 251l15 3 5 6-15-3z"/><path fill="#0084fc" d="M959 264l13-9 4 7-12 8z"/><path fill="#009cfc" d="M971 255l5-4 5 8-5 4zM1080 236l8 16 5 6-8-16z"/><path fill="#00b4fc" d="M976 252l7-4 5 8-7 3z"/><path fill="#00ccfc" d="M982 249l11-6 5 7-11 6z"/><path fill="#00f0fc" d="M992 244l13-10 5 8-13 9z"/><path fill="#00fce4" d="M1004 235l12-10 5 9-12 8z"/><path fill="#00fcc0" d="M1015 226l12-9 5 9-12 9z"/><path fill="#00fc9c" d="M1026 218l12-9 5 9-12 9z"/><path fill="#00fc84" d="M1037 209l12-9 5 10-12 9zM1058 193l12 24 5 8-12-23z"/><path fill="#00fc60" d="M1048 201l11-9 5 11-11 8z"/><path fill="#00fcf0" d="M1070 215l11 22 5 7-11-21z"/><path fill="#0054fc" d="M1101 254l11 2 6 6-12-2z"/><path fill="#0030fc" d="M1121 258l13 2 5 5-12-2z"/><path fill="none" stroke="#8a8a8a" stroke-width="0.9" d="M922.5 293.9l4 4.1M946.7 272.9l4.2 5.2M976.3 252.1l4.4 6.4M992.9 243.4l4.5 6.8M1058.8 193.2l4.9 9.6M1088 251.5l5.1 5.5M1132.9 260.5l5.3 4.6M1153.1 269l5.5 3.8"/><path fill="#0000fc" d="M861 312l13-3 4 4-13 3z"/><path fill="#000cfc" d="M872 309l13-3 4 5-13 3zM884 307l13-3 4 5-13 2zM896 304l12-3 4 5-12 3zM907 302l13-3 4 5-13 3zM1168 272l11-1 6 5-11 1zM1178 271l11 0 6 4-11 1zM1188 271l12-1 6 4-12 1zM1198 270l12-1 6 5-12 1zM1208 270l12-1 6 4-12 1zM1218 269l12-1 6 4-11 1z"/><path fill="#0018fc" d="M919 299l8-2 4 5-8 2zM1147 268l12 5 6 4-12-4zM1158 273l11-1 6 4-11 1z"/><path fill="#0024fc" d="M926 298l16-13 5 5-17 13zM1138 265l11 4 5 4-11-3z"/><path fill="#0030fc" d="M941 286l10-9 5 6-10 8zM1127 263l12 2 5 5-12-2z"/><path fill="#0054fc" d="M950 278l15-9 5 6-15 9zM1092 257l15 2 5 6-14-2z"/><path fill="#0078fc" d="M964 269l12-8 5 7-13 8z"/><path fill="#0090fc" d="M975 262l6-4 5 7-6 4z"/><path fill="#009cfc" d="M980 258l7-3 5 7-7 4z"/><path fill="#00b4fc" d="M986 255l12-5 5 7-12 6z"/><path fill="#00d8fc" d="M997 250l13-9 5 8-13 9z"/><path fill="#00fcfc" d="M1008 242l13-9 5 8-12 9zM1075 223l11 21 5 6-11-19z"/><path fill="#00fcd8" d="M1020 234l12-9 5 9-12 8z"/><path fill="#00fcc0" d="M1031 226l12-9 5 9-12 9z"/><path fill="#00fc9c" d="M1042 218l12-9 5 10-12 8zM1063 202l12 23 6 7-13-20z"/><path fill="#00fc78" d="M1053 210l11-8 5 10-11 8z"/><path fill="#0084fc" d="M1085 243l8 15 6 5-9-14z"/><path fill="#0048fc" d="M1106 259l12 2 5 6-12-2z"/><path fill="#003cfc" d="M1116 261l12 2 5 5-11-1z"/><path fill="none" stroke="#8a8a8a" stroke-width="0.9" d="M926.5 298l4.1 4.1M950.9 278.1l4.2 5.3M980.7 258.5l4.5 6.3M997.4 250.2l4.6 6.7M1063.7 202.8l4.9 9.3M1093.1 257l5.1 5.5M1138.2 265.1l5.4 4.5M1158.6 272.8l5.5 3.9"/><path fill="#0000fc" d="M864 316l13-3 4 5-13 3z"/><path fill="#000cfc" d="M876 313l13-3 4 5-13 3zM888 311l13-3 4 5-13 3zM899 308l13-2 4 4-12 3zM911 306l13-3 4 5-13 3zM923 303l8-2 4 6-8 2zM1173 276l12-1 6 4-12 1zM1184 275l11-1 6 5-11 1zM1194 275l11-1 6 4-11 1zM1204 274l12-1 6 4-12 1zM1214 273l12-1 6 5-12 1zM1224 273l12-1 6 4-11 1z"/><path fill="#0018fc" d="M930 302l17-12 4 5-17 12zM1153 273l12 4 5 4-12-4zM1163 277l12-1 6 4-12 1z"/><path fill="#0030fc" d="M945 290l10-7 5 6-10 7zM1122 266l11 1 6 6-12-1zM1132 268l12 1 6 5-12-1z"/><path fill="#0048fc" d="M954 284l15-10 5 7-15 8z"/><path fill="#006cfc" d="M968 275l12-8 5 7-12 7z"/><path fill="#0084fc" d="M979 268l6-4 5 7-5 4z"/><path fill="#0090fc" d="M984 265l8-4 5 8-7 3z"/><path fill="#009cfc" d="M991 262l11-6 5 8-11 5z"/><path fill="#00c0fc" d="M1001 257l13-9 5 8-13 8z"/><path fill="#00f0fc" d="M1013 249l12-8 6 8-13 8z"/><path fill="#00fcf0" d="M1024 241l13-8 5 9-12 8z"/><path fill="#00fccc" d="M1035 234l13-8 5 9-12 8z"/><path fill="#00fcb4" d="M1047 226l12-8 5 10-12 8z"/><path fill="#00fc9c" d="M1058 219l11-8 5 11-11 7z"/><path fill="#00fcc0" d="M1068 212l13 20 5 8-13-19z"/><path fill="#00e4fc" d="M1080 231l11 19 5 7-11-18z"/><path fill="#0078fc" d="M1090 249l8 14 6 6-9-14z"/><path fill="#0054fc" d="M1098 262l14 2 6 6-15-2z"/><path fill="#003cfc" d="M1111 264l12 2 5 6-12-2z"/><path fill="#0024fc" d="M1143 269l11 4 6 5-12-4z"/><path fill="none" stroke="#8a8a8a" stroke-width="0.9" d="M930.6 302.1l4.1 4.2M955.1 283.4l4.3 5.3M985.2 264.8l4.5 6.4M1002 256.9l4.6 6.8M1068.6 212.1l5 9.5M1098.2 262.5l5.2 5.5M1143.6 269.6l5.5 4.6M1164.1 276.7l5.7 3.9"/><path fill="#0000fc" d="M868 320l13-3 4 5-13 3z"/><path fill="#000cfc" d="M880 318l13-3 4 5-13 2zM892 315l13-3 4 5-13 3zM903 313l13-3 5 5-14 3zM915 310l13-3 4 5-13 3zM927 308l8-2 5 5-9 2zM1169 280l11-1 6 5-11 1zM1179 280l12-1 6 4-12 1zM1189 279l12-1 6 5-12 1zM1200 278l11-1 6 5-11 1zM1210 278l11-1 7 4-12 1zM1220 277l12-1 6 4-12 1zM1230 276l12-1 6 5-11 1z"/><path fill="#0018fc" d="M934 307l17-12 4 5-17 11zM1158 277l12 3 6 5-12-3z"/><path fill="#0030fc" d="M950 295l10-7 5 6-11 7zM1127 271l12 1 5 6-12-1z"/><path fill="#0048fc" d="M959 289l15-9 4 7-15 8zM1103 268l15 2 5 5-15-1z"/><path fill="#0060fc" d="M972 281l13-8 5 7-13 7z"/><path fill="#0078fc" d="M984 274l6-4 5 8-6 3z"/><path fill="#0084fc" d="M989 271l7-3 5 7-7 3z"/><path fill="#0090fc" d="M995 268l12-5 5 8-12 5z"/><path fill="#00a8fc" d="M1006 264l13-8 5 8-13 7z"/><path fill="#00ccfc" d="M1018 256l12-8 5 9-12 7zM1085 239l11 18 5 6-11-16z"/><path fill="#00fcfc" d="M1029 249l12-8 6 9-13 8z"/><path fill="#00fce4" d="M1040 242l13-8 5 10-12 7z"/><path fill="#00fccc" d="M1052 235l12-8 5 10-12 7z"/><path fill="#00fcb4" d="M1063 228l11-7 5 10-11 7z"/><path fill="#00fcd8" d="M1073 221l13 19 5 8-13-17z"/><path fill="#006cfc" d="M1095 256l9 13 5 5-8-12z"/><path fill="#003cfc" d="M1116 270l12 1 6 6-12-1z"/><path fill="#0024fc" d="M1137 272l13 2 5 5-12-1zM1148 274l12 3 5 5-11-3z"/><path fill="none" stroke="#8a8a8a" stroke-width="0.9" d="M934.7 306.3l4.2 4.3M959.4 288.7l4.4 5.4M989.7 271.2l4.6 6.5M1006.6 263.7l4.7 6.9M1073.6 221.6l5.1 9.6M1103.4 268l5.3 5.6M1149.1 274.2l5.6 4.7M1169.8 280.6l5.7 4"/><path fill="#0000fc" d="M872 324l13-3 4 5-13 3z"/><path fill="#000cfc" d="M884 322l13-3 4 5-13 3zM896 319l13-2 4 4-13 3zM907 317l13-3 5 5-13 3zM919 314l13-2 4 5-13 2zM931 312l8-2 5 5-9 2zM1175 284l11-1 6 5-11 1zM1185 284l12-1 6 4-12 1zM1195 283l12-1 6 4-12 2zM1206 282l11-1 6 5-11 1zM1216 281l11-1 7 5-12 1zM1226 281l12-1 6 4-11 1zM1236 280l12-1 6 4-11 1z"/><path fill="#0018fc" d="M938 311l17-11 5 5-17 11zM1164 281l12 3 6 5-12-3z"/><path fill="#0030fc" d="M954 300l10-7 5 7-10 6zM1122 275l12 1 5 6-12-1zM1132 276l12 1 6 6-12-1z"/><path fill="#003cfc" d="M963 294l15-8 5 7-15 7zM1108 273l15 2 6 6-16-1z"/><path fill="#0054fc" d="M977 287l12-7 6 7-13 6z"/><path fill="#006cfc" d="M988 280l6-3 6 8-6 3zM994 277l7-3 5 8-7 3z"/><path fill="#0078fc" d="M1000 275l12-5 5 8-12 4z"/><path fill="#0090fc" d="M1011 271l13-8 5 8-13 7z"/><path fill="#00b4fc" d="M1023 264l12-8 5 9-12 7z"/><path fill="#00d8fc" d="M1034 257l12-7 6 9-13 7z"/><path fill="#00fcfc" d="M1045 250l13-7 5 10-12 6z"/><path fill="#00fce4" d="M1056 244l13-8 5 11-12 6z"/><path fill="#00fccc" d="M1068 237l11-7 6 11-12 6z"/><path fill="#00fcf0" d="M1078 231l13 17 5 8-13-16z"/><path fill="#00a8fc" d="M1090 247l11 16 6 7-12-15z"/><path fill="#0060fc" d="M1101 262l8 12 6 6-9-11z"/><path fill="#0024fc" d="M1143 277l12 1 6 6-12-1zM1154 279l11 2 6 5-11-2z"/><path fill="none" stroke="#8a8a8a" stroke-width="0.9" d="M938.9 310.6l4.3 4.4M963.8 294.1l4.5 5.5M994.3 277.7l4.6 6.5M1011.3 270.6l4.8 7M1078.7 231.2l5.1 9.7M1108.7 273.6l5.4 5.7M1154.7 278.9l5.7 4.7M1175.5 284.6l5.8 4"/></g>
<path d="M784.1 222 785.4 223.4 786.7 224.9 787.9 226.4 789.2 227.9 790.5 229.4 791.8 230.9 793.2 232.4 794.5 234 795.8 235.5 797.2 237.1 798.5 238.6 799.9 240.2 801.2 241.8 802.6 243.4 804 245 805.4 246.6 806.8 248.2 808.2 249.9 809.7 251.5 811.1 253.2 812.5 254.9 814 256.6 815.5 258.3 816.9 260 818.4 261.7 819.9 263.5 821.4 265.2 823 267 824.5 268.8 826 270.5 827.6 272.3 829.2 274.2 830.7 276 832.3 277.8 833.9 279.7 835.6 281.6 837.2 283.4 838.8 285.3 840.5 287.3 842.1 289.2 843.8 291.1 845.5 293.1 847.2 295 848.9 297 850.6 299 852.4 301.1 854.1 303.1 855.9 305.1 857.7 307.2 859.5 309.3 861.3 311.4 863.1 313.5 864.9 315.6 866.8 317.8 868.7 319.9 870.5 322.1 872.4 324.3 874.4 326.5 876.3 328.8 879.7 499 877.9 496.2 876 493.4 874.1 490.6 872.3 487.8 870.5 485.1 868.7 482.3 866.9 479.6 865.1 477 863.3 474.3 861.6 471.7 859.8 469 858.1 466.4 856.4 463.9 854.7 461.3 853 458.8 851.3 456.2 849.7 453.7 848 451.2 846.4 448.8 844.7 446.3 843.1 443.9 841.5 441.5 839.9 439.1 838.3 436.7 836.8 434.3 835.2 432 833.7 429.6 832.1 427.3 830.6 425 829.1 422.8 827.6 420.5 826.1 418.2 824.6 416 823.1 413.8 821.7 411.6 820.2 409.4 818.8 407.2 817.3 405.1 815.9 402.9 814.5 400.8 813.1 398.7 811.7 396.6 810.3 394.5 808.9 392.4 807.6 390.4 806.2 388.3 804.9 386.3 803.5 384.3 802.2 382.3 800.9 380.3 799.6 378.3 798.3 376.3 797 374.4 795.7 372.5 794.4 370.5 793.1 368.6 791.8 366.7 790.6 364.8 789.3 362.9Z" fill="#96e1e1" fill-opacity="0.4"/>
<clipPath id="lcd"><path d="M784.1 222 785.4 223.4 786.7 224.9 787.9 226.4 789.2 227.9 790.5 229.4 791.8 230.9 793.2 232.4 794.5 234 795.8 235.5 797.2 237.1 798.5 238.6 799.9 240.2 801.2 241.8 802.6 243.4 804 245 805.4 246.6 806.8 248.2 808.2 249.9 809.7 251.5 811.1 253.2 812.5 254.9 814 256.6 815.5 258.3 816.9 260 818.4 261.7 819.9 263.5 821.4 265.2 823 267 824.5 268.8 826 270.5 827.6 272.3 829.2 274.2 830.7 276 832.3 277.8 833.9 279.7 835.6 281.6 837.2 283.4 838.8 285.3 840.5 287.3 842.1 289.2 843.8 291.1 845.5 293.1 847.2 295 848.9 297 850.6 299 852.4 301.1 854.1 303.1 855.9 305.1 857.7 307.2 859.5 309.3 861.3 311.4 863.1 313.5 864.9 315.6 866.8 317.8 868.7 319.9 870.5 322.1 872.4 324.3 874.4 326.5 876.3 328.8 879.7 499 877.9 496.2 876 493.4 874.1 490.6 872.3 487.8 870.5 485.1 868.7 482.3 866.9 479.6 865.1 477 863.3 474.3 861.6 471.7 859.8 469 858.1 466.4 856.4 463.9 854.7 461.3 853 458.8 851.3 456.2 849.7 453.7 848 451.2 846.4 448.8 844.7 446.3 843.1 443.9 841.5 441.5 839.9 439.1 838.3 436.7 836.8 434.3 835.2 432 833.7 429.6 832.1 427.3 830.6 425 829.1 422.8 827.6 420.5 826.1 418.2 824.6 416 823.1 413.8 821.7 411.6 820.2 409.4 818.8 407.2 817.3 405.1 815.9 402.9 814.5 400.8 813.1 398.7 811.7 396.6 810.3 394.5 808.9 392.4 807.6 390.4 806.2 388.3 804.9 386.3 803.5 384.3 802.2 382.3 800.9 380.3 799.6 378.3 798.3 376.3 797 374.4 795.7 372.5 794.4 370.5 793.1 368.6 791.8 366.7 790.6 364.8 789.3 362.9Z"/></clipPath>
<g clip-path="url(#lcd)"><g clip-path="url(#fcd)"><g filter="url(#blurd)"><path fill="#6482ff" d="M788 363l15-2 3 6-14 2zM792 368l14-2 4 6-15 2zM795 373l15-2 3 6-14 2zM799 378l14-2 4 6-15 2zM802 384l15-2 4 6-15 2zM806 389l15-2 4 6-15 2zM809 394l15-2 4 7-15 2zM813 400l15-2 4 7-15 2zM817 406l15-2 4 6-15 3zM821 412l15-2 4 6-15 2zM825 418l15-3 5 7-16 3zM829 424l15-3 5 7-16 3zM833 430l16-2 4 7-16 2zM837 436l16-2 4 7-15 2zM841 443l16-3 5 8-16 2zM846 449l16-2 5 7-17 3zM850 456l16-3 5 8-16 2zM855 463l16-3 5 8-16 2zM859 469l17-2 5 8-17 3zM864 477l16-3 6 8-17 3zM869 484l16-3 6 9-17 2zM874 491l16-2 6 8-17 3zM801 361l14-2 4 6-14 2zM804 366l15-2 4 6-15 2zM808 371l14-1 4 6-14 1zM811 377l15-2 4 6-15 2zM815 382l15-2 4 6-15 2zM819 387l15-2 4 7-15 2zM823 393l15-2 4 6-15 2zM826 398l15-2 5 7-15 2zM830 404l15-2 5 7-15 2zM834 410l16-2 4 7-15 2zM838 416l16-2 4 7-15 2zM843 422l15-2 5 7-16 2zM847 428l15-2 5 7-16 2zM851 434l16-2 4 7-15 3zM856 441l15-3 5 8-16 2zM860 447l16-2 5 7-16 3zM865 454l16-3 5 8-17 2zM869 461l16-3 5 8-16 2zM874 467l16-2 5 8-16 2zM879 474l16-2 5 8-16 3zM884 482l16-3 6 8-17 3zM889 489l16-3 6 9-17 2zM813 360l15-2 3 6-14 2zM817 365l14-2 4 6-14 2zM821 370l14-2 4 6-15 2zM824 375l15-2 4 6-15 2zM828 380l15-2 4 7-15 2zM832 386l15-2 4 6-15 2zM836 391l15-2 4 7-15 2zM840 397l15-2 4 6-15 2zM844 402l15-2 4 7-15 2zM848 408l15-2 4 7-15 2zM852 414l15-2 5 7-16 2zM856 420l16-2 4 7-15 2zM861 426l15-2 5 7-16 2zM865 432l16-2 4 7-15 3zM870 439l15-3 5 8-16 2zM874 445l16-2 5 7-16 3zM879 452l16-3 5 8-16 2zM884 459l16-3 5 8-16 2zM888 465l17-2 5 8-16 2zM893 472l17-2 5 8-16 2zM899 480l16-3 6 8-17 3zM904 487l16-3 6 9-17 2zM826 358l14-2 4 6-14 2zM829 363l15-2 4 6-15 2zM833 368l15-2 4 6-15 2zM837 374l14-2 5 6-15 2zM841 379l14-2 5 6-15 2zM845 384l14-2 5 6-15 2zM849 390l14-2 5 6-15 2zM853 395l15-2 4 7-15 2zM857 401l15-2 4 6-15 2zM861 406l15-2 5 7-15 2zM865 412l16-2 4 7-15 2zM870 418l15-2 5 7-15 2zM874 424l16-2 5 7-16 2zM879 431l15-3 5 7-15 3zM883 437l16-2 5 7-16 2zM888 443l16-2 5 7-16 3zM893 450l16-3 5 8-16 2zM898 457l16-3 5 8-16 2zM903 463l16-2 5 8-16 2zM908 470l16-2 6 8-16 2zM913 477l17-2 5 8-16 3zM919 485l16-3 6 8-17 3zM933 483l17-3 6 8-17 3z"/><path fill="#648cff" d="M838 357l14-2 4 6-14 2zM842 362l14-2 4 6-14 2zM846 367l14-2 4 6-14 2zM850 372l14-2 4 6-14 2zM854 377l14-2 4 6-14 2zM858 383l14-2 5 6-15 2zM862 388l14-2 5 6-15 2zM866 393l15-2 4 7-15 2zM870 399l15-2 5 7-15 2zM874 405l15-2 5 6-15 2zM879 411l15-3 5 7-15 2zM883 417l16-3 4 7-15 2zM888 423l15-3 5 7-15 3zM893 429l15-3 5 8-15 2zM897 435l16-2 5 7-16 2zM902 441l16-2 5 7-16 3zM907 448l16-2 5 7-16 2zM912 455l16-3 5 8-15 2zM917 461l16-2 6 8-16 2zM923 468l16-2 5 8-16 2zM928 475l16-2 6 8-16 2zM942 473l16-2 6 8-16 2zM948 480l16-2 6 8-16 3z"/><path fill="#6496ff" d="M850 355l15-1 4 5-14 2zM854 360l14-1 5 5-15 2zM921 446l16-2 5 7-15 3zM926 453l16-3 6 8-16 2zM932 459l15-2 6 8-16 2zM937 466l16-2 6 8-16 2zM957 471l16-2 6 8-16 2zM963 478l16-2 6 8-16 2z"/><path fill="#64a0ff" d="M858 365l14-1 5 5-15 2zM862 370l15-1 4 6-15 2zM911 433l16-2 5 7-16 2zM916 439l16-2 5 8-16 2zM951 464l16-2 6 8-16 2z"/><path fill="#64b4ff" d="M866 376l15-2 4 6-14 2zM892 409l15-2 5 6-15 3zM897 415l15-2 5 6-15 3zM867 359l14-2 4 6-14 2zM935 444l16-2 5 7-15 3zM940 451l16-3 6 8-16 2zM965 462l16-2 6 7-16 3zM991 474l16-3 7 9-16 2z"/><path fill="#64beff" d="M870 381l15-2 4 6-14 2zM875 386l14-2 5 7-15 2zM883 397l15-2 5 7-15 2zM888 403l15-2 4 7-15 2zM871 364l14-2 4 6-14 2zM930 438l15-3 6 8-16 2zM875 353l14-2 4 5-14 2zM960 455l16-2 6 8-16 2zM985 467l16-3 7 8-16 3z"/><path fill="#64c8ff" d="M879 392l15-2 4 6-15 2zM925 431l15-2 6 7-16 3zM954 449l16-3 6 8-16 2zM980 460l15-2 7 7-16 3z"/><path fill="#64aaff" d="M901 421l16-2 5 7-16 2zM906 427l16-2 5 7-16 2zM863 354l14-2 4 6-14 2zM946 457l16-2 5 8-16 2zM971 469l16-3 6 8-16 3zM977 476l16-2 6 8-16 2z"/><path fill="#64d2ff" d="M875 369l14-2 4 6-14 2zM920 425l15-2 5 7-15 2zM879 357l14-1 4 5-14 2zM949 442l15-2 6 7-15 3zM974 453l15-2 7 8-16 2z"/><path fill="#64e6ff" d="M879 374l14-2 5 6-15 2zM910 413l15-2 5 7-15 2zM883 362l14-1 5 5-15 2zM944 436l15-3 6 8-16 2zM968 447l16-3 6 8-16 2z"/><path fill="#64f0fa" d="M883 379l15-2 4 7-14 2zM901 401l15-2 5 7-15 2zM905 407l15-2 5 7-15 2zM938 429l16-2 5 7-15 3zM891 356l14-2 5 6-14 2zM963 440l15-2 6 7-16 3z"/><path fill="#64fafa" d="M887 385l15-2 5 6-15 2zM896 396l15-2 5 6-15 2zM887 367l14-1 5 6-14 1zM933 423l15-2 6 7-15 2zM957 434l16-2 5 7-15 2z"/><path fill="#64fffa" d="M892 390l14-2 5 7-14 2zM891 373l15-2 4 6-14 2zM923 411l15-2 6 7-15 2zM928 417l15-2 6 7-15 2zM895 361l14-2 5 6-14 2zM952 428l15-3 6 7-15 3z"/><path fill="#64dcff" d="M915 419l15-2 5 7-15 2zM887 351l14-2 4 6-14 2z"/><path fill="#5affdc" d="M896 378l14-2 5 6-15 2zM914 400l15-2 5 6-15 2zM942 415l15-2 5 7-15 2z"/><path fill="#5affc8" d="M900 383l15-2 4 6-14 2zM909 394l15-2 5 7-15 2zM904 371l14-2 5 6-14 2zM937 410l14-3 6 7-15 2z"/><path fill="#50ffb4" d="M905 389l14-2 5 6-15 2zM932 404l14-2 6 6-15 2z"/><path fill="#5affe6" d="M919 405l14-2 6 7-15 2zM947 421l15-2 5 7-15 3z"/><path fill="#64fff0" d="M900 366l14-2 4 6-14 2z"/><path fill="#50ffa0" d="M908 376l15-2 4 6-14 2zM927 398l15-2 5 7-15 2z"/><path fill="#50ff8c" d="M913 382l14-2 5 6-14 2zM922 392l15-2 5 7-15 2z"/><path fill="#50ff82" d="M917 387l15-2 5 6-15 2z"/></g></g></g>
<line x1="777" y1="30.4" x2="1102.8" y2="14.3" stroke="#505050" stroke-width="0.9"/><line x1="1102.8" y1="14.3" x2="1264.5" y2="69" stroke="#505050" stroke-width="0.9"/><line x1="1096.1" y1="326.9" x2="1102.8" y2="14.3" stroke="#505050" stroke-width="0.9"/><line x1="1245.4" y1="444.9" x2="1264.5" y2="69" stroke="#505050" stroke-width="0.9"/><line x1="789.3" y1="362.9" x2="1096.1" y2="326.9" stroke="#505050" stroke-width="0.9"/><line x1="1096.1" y1="326.9" x2="1245.4" y2="444.9" stroke="#505050" stroke-width="0.9"/><line x1="789.3" y1="362.9" x2="777" y2="30.4" stroke="#000" stroke-width="1.3"/><line x1="789.3" y1="362.9" x2="879.7" y2="499" stroke="#222" stroke-width="1.2"/><line x1="879.7" y1="499" x2="1245.4" y2="444.9" stroke="#222" stroke-width="1.1"/><line x1="781.6" y1="314.9" x2="787.6" y2="314.9" stroke="#606060" stroke-width="1.2"/><line x1="783" y1="284.8" x2="786.5" y2="284.8" stroke="#606060" stroke-width="1.2"/><line x1="781.8" y1="254.3" x2="785.3" y2="254.3" stroke="#606060" stroke-width="1.2"/><line x1="778.2" y1="223.4" x2="784.2" y2="223.4" stroke="#606060" stroke-width="1.2"/><line x1="779.5" y1="192.2" x2="783" y2="192.2" stroke="#606060" stroke-width="1.2"/><line x1="778.4" y1="160.6" x2="781.9" y2="160.6" stroke="#606060" stroke-width="1.2"/><line x1="774.7" y1="128.6" x2="780.7" y2="128.6" stroke="#606060" stroke-width="1.2"/><line x1="776" y1="96.3" x2="779.5" y2="96.3" stroke="#606060" stroke-width="1.2"/><line x1="774.8" y1="63.5" x2="778.3" y2="63.5" stroke="#606060" stroke-width="1.2"/><line x1="771" y1="30.4" x2="777" y2="30.4" stroke="#606060" stroke-width="1.2"/><text x="777.8" y="324.1" font-size="26.5" text-anchor="end">-13</text><text x="774.4" y="232.6" font-size="26.5" text-anchor="end">0</text><text x="770.9" y="137.8" font-size="26.5" text-anchor="end">13</text><text x="767.2" y="39.6" font-size="26.5" text-anchor="end">26</text><line x1="782.3" y1="362.9" x2="789.3" y2="362.9" stroke="#606060" stroke-width="1.2"/><text x="779.3" y="376.9" font-size="26.5" text-anchor="end">550</text><line x1="794.7" y1="377.1" x2="798.7" y2="377.1" stroke="#606060" stroke-width="1.2"/><line x1="804.6" y1="391.9" x2="808.6" y2="391.9" stroke="#606060" stroke-width="1.2"/><line x1="815" y1="407.5" x2="819" y2="407.5" stroke="#606060" stroke-width="1.2"/><line x1="822.8" y1="423.9" x2="829.8" y2="423.9" stroke="#606060" stroke-width="1.2"/><text x="819.8" y="437.9" font-size="26.5" text-anchor="end">650</text><line x1="837.3" y1="441.2" x2="841.3" y2="441.2" stroke="#606060" stroke-width="1.2"/><line x1="849.4" y1="459.4" x2="853.4" y2="459.4" stroke="#606060" stroke-width="1.2"/><line x1="862.2" y1="478.6" x2="866.2" y2="478.6" stroke="#606060" stroke-width="1.2"/><line x1="872.7" y1="499" x2="879.7" y2="499" stroke="#606060" stroke-width="1.2"/><text x="869.7" y="513" font-size="26.5" text-anchor="end">750</text><line x1="879.7" y1="499" x2="879.7" y2="507" stroke="#6a6a6a" stroke-width="1"/><line x1="899" y1="496.1" x2="899" y2="500.6" stroke="#6a6a6a" stroke-width="1"/><line x1="918" y1="493.3" x2="918" y2="497.8" stroke="#6a6a6a" stroke-width="1"/><line x1="937" y1="490.5" x2="937" y2="495" stroke="#6a6a6a" stroke-width="1"/><line x1="955.7" y1="487.8" x2="955.7" y2="492.3" stroke="#6a6a6a" stroke-width="1"/><line x1="974.3" y1="485" x2="974.3" y2="493" stroke="#6a6a6a" stroke-width="1"/><line x1="992.8" y1="482.3" x2="992.8" y2="486.8" stroke="#6a6a6a" stroke-width="1"/><line x1="1011.2" y1="479.6" x2="1011.2" y2="484.1" stroke="#6a6a6a" stroke-width="1"/><line x1="1029.3" y1="476.9" x2="1029.3" y2="481.4" stroke="#6a6a6a" stroke-width="1"/><line x1="1047.4" y1="474.2" x2="1047.4" y2="478.7" stroke="#6a6a6a" stroke-width="1"/><line x1="1065.3" y1="471.6" x2="1065.3" y2="479.6" stroke="#6a6a6a" stroke-width="1"/><line x1="1083.1" y1="468.9" x2="1083.1" y2="473.4" stroke="#6a6a6a" stroke-width="1"/><line x1="1100.7" y1="466.3" x2="1100.7" y2="470.8" stroke="#6a6a6a" stroke-width="1"/><line x1="1118.2" y1="463.7" x2="1118.2" y2="468.2" stroke="#6a6a6a" stroke-width="1"/><line x1="1135.6" y1="461.2" x2="1135.6" y2="465.7" stroke="#6a6a6a" stroke-width="1"/><line x1="1152.8" y1="458.6" x2="1152.8" y2="466.6" stroke="#6a6a6a" stroke-width="1"/><line x1="1169.9" y1="456.1" x2="1169.9" y2="460.6" stroke="#6a6a6a" stroke-width="1"/><line x1="1186.9" y1="453.6" x2="1186.9" y2="458.1" stroke="#6a6a6a" stroke-width="1"/><line x1="1203.8" y1="451.1" x2="1203.8" y2="455.6" stroke="#6a6a6a" stroke-width="1"/><line x1="1220.5" y1="448.6" x2="1220.5" y2="453.1" stroke="#6a6a6a" stroke-width="1"/><line x1="1237.1" y1="446.2" x2="1237.1" y2="454.2" stroke="#6a6a6a" stroke-width="1"/><text x="880.7" y="537.5" font-size="27.5" text-anchor="middle">0</text><text x="975.3" y="523.5" font-size="27.5" text-anchor="middle">5</text><text x="1066.3" y="510.1" font-size="27.5" text-anchor="middle">10</text><text x="1153.8" y="497.1" font-size="27.5" text-anchor="middle">15</text><text x="1238.1" y="484.7" font-size="27.5" text-anchor="middle">20</text>
<text x="1090.2" y="545.2" font-size="36" font-weight="bold" text-anchor="middle" transform="rotate(-8.4 1090.2 545.2)">P (GPa)</text>
<text transform="translate(755.5 468) rotate(56.4)" text-anchor="middle" font-size="36"><tspan>λ</tspan><tspan font-weight="bold" dx="8">(nm)</tspan></text>
<rect x="1275.1" y="62.3" width="10.2" height="386.7" fill="url(#cb)" stroke="#808080" stroke-width="0.8"/>
<line x1="1285.3" y1="62.3" x2="1291.6" y2="62.3" stroke="#808080" stroke-width="1"/>
<line x1="1285.3" y1="126.8" x2="1287.9" y2="126.8" stroke="#808080" stroke-width="1"/>
<line x1="1285.3" y1="191.2" x2="1287.9" y2="191.2" stroke="#808080" stroke-width="1"/>
<line x1="1285.3" y1="255.6" x2="1291.6" y2="255.6" stroke="#808080" stroke-width="1"/>
<line x1="1285.3" y1="320.1" x2="1287.9" y2="320.1" stroke="#808080" stroke-width="1"/>
<line x1="1285.3" y1="384.6" x2="1287.9" y2="384.6" stroke="#808080" stroke-width="1"/>
<line x1="1285.3" y1="449" x2="1291.6" y2="449" stroke="#808080" stroke-width="1"/>
<text x="1294.4" y="72.7" font-size="29">26</text>
<text x="1294.4" y="266" font-size="29">13</text>
<text x="1294.4" y="459.4" font-size="29">0</text>
<text x="793.1" y="71.5" font-size="31.5">532 nm</text>
<line x1="1460.3" y1="362.9" x2="1448" y2="30.4" stroke="#b4b4b4" stroke-width="0.9"/><line x1="1538.9" y1="353.7" x2="1531.7" y2="26.3" stroke="#b4b4b4" stroke-width="0.9"/><line x1="1614.9" y1="344.8" x2="1612.5" y2="22.3" stroke="#b4b4b4" stroke-width="0.9"/><line x1="1688.6" y1="336.1" x2="1690.7" y2="18.4" stroke="#b4b4b4" stroke-width="0.9"/><line x1="1760.1" y1="327.8" x2="1766.4" y2="14.7" stroke="#b4b4b4" stroke-width="0.9"/><line x1="1834.5" y1="380.2" x2="1846.3" y2="38.9" stroke="#b4b4b4" stroke-width="0.9"/><path d="M1458.7 317.9 1768 284.4 1918.9 394.4" fill="none" stroke="#b4b4b4" stroke-width="0.9"/><path d="M1455.3 225.4 1769.9 197.4 1924.2 290.3" fill="none" stroke="#b4b4b4" stroke-width="0.9"/><path d="M1451.7 129.7 1771.8 107.4 1929.8 181.9" fill="none" stroke="#b4b4b4" stroke-width="0.9"/><path d="M1448 30.4 1773.8 14.3 1935.5 69" fill="none" stroke="#b4b4b4" stroke-width="0.9"/>
<path d="M1454.7 210.9 1466.4 211.9 1477.9 210.7 1489.4 210.2 1500.8 207.5 1512.2 207.9 1523.5 207.6 1534.8 206.9 1546 202.6 1557.1 197.2 1568.2 195.2 1579.2 193.1 1590.3 192.5 1601.2 186.4 1612.1 185.2 1623 181.3 1633.9 178.4 1644.7 174.1 1655.4 170.3 1666.1 164.3 1676.8 157 1687.5 148.2 1698.2 140.9 1708.9 130.8 1719.5 121.6 1730.1 117.8 1740.6 112.7 1751.1 107.8 1761.6 104 1771.9 104.6 1767.1 326.9 1757.2 328.1 1747.2 329.3 1737.2 330.5 1727.1 331.6 1717 332.8 1706.8 334 1696.6 335.2 1686.4 336.4 1676.1 337.6 1665.7 338.8 1655.4 340.1 1644.9 341.3 1634.5 342.5 1623.9 343.7 1613.4 345 1602.8 346.2 1592.1 347.5 1581.4 348.7 1570.6 350 1559.8 351.3 1549 352.5 1538.1 353.8 1527.1 355.1 1516.1 356.4 1505.1 357.7 1494 359 1482.8 360.3 1471.6 361.6 1460.3 362.9Z" fill="#989898"/>
<clipPath id="fcg"><path d="M1460.3 362.9 1767.1 326.9 1916.4 444.9 1550.7 499Z"/></clipPath>
<g clip-path="url(#fcg)"><g filter="url(#blurg)"><path fill="#503cc8" d="M1459 363l15-2 3 6-14 2zM1496 418l15-3 5 7-16 3zM1500 424l15-3 5 7-16 3zM1504 430l16-2 4 7-16 2zM1508 436l16-2 4 7-15 2zM1512 443l16-3 5 8-16 2zM1517 449l16-2 5 7-17 3zM1521 456l16-3 5 8-16 2zM1526 463l16-3 5 8-16 2zM1530 469l17-2 5 8-17 3zM1535 477l16-3 6 8-17 3zM1540 484l16-3 6 9-17 2zM1545 491l16-2 6 8-17 3zM1472 361l14-2 4 6-14 2zM1514 422l15-2 5 7-16 2zM1518 428l15-2 5 7-16 2zM1522 434l16-2 4 7-15 3zM1527 441l15-3 5 8-16 2zM1531 447l16-2 5 7-16 3zM1536 454l16-3 5 8-17 2zM1540 461l16-3 5 8-16 2zM1545 467l16-2 5 8-16 2zM1550 474l16-2 5 8-16 3zM1555 482l16-3 6 8-17 3zM1560 489l16-3 6 9-17 2zM1484 360l15-2 3 6-14 2zM1527 420l16-2 4 7-15 2zM1532 426l15-2 5 7-16 2zM1536 432l16-2 4 7-15 3zM1541 439l15-3 5 8-16 2zM1545 445l16-2 5 7-16 3zM1550 452l16-3 5 8-16 2zM1555 459l16-3 5 8-16 2zM1559 465l17-2 5 8-16 2zM1564 472l17-2 5 8-16 2zM1570 480l16-3 6 8-17 3zM1575 487l16-3 6 9-17 2zM1497 358l14-2 4 6-14 2zM1541 418l15-2 5 7-15 2zM1545 424l16-2 5 7-16 2zM1550 431l15-3 5 7-15 3zM1554 437l16-2 5 7-16 2zM1559 443l16-2 5 7-16 3zM1564 450l16-3 5 8-16 2zM1569 457l16-3 5 8-16 2zM1574 463l16-2 5 8-16 2zM1579 470l16-2 6 8-16 2zM1584 477l17-2 5 8-16 3zM1590 485l16-3 6 8-17 3zM1509 357l14-2 4 6-14 2zM1554 417l16-3 4 7-15 2zM1559 423l15-3 5 7-15 3zM1564 429l15-3 5 8-15 2zM1568 435l16-2 5 7-16 2zM1573 441l16-2 5 7-16 3zM1578 448l16-2 5 7-16 2zM1583 455l16-3 5 8-15 2zM1588 461l16-2 6 8-16 2zM1594 468l16-2 5 8-16 2zM1599 475l16-2 6 8-16 2zM1521 355l15-1 4 5-14 2zM1568 415l15-2 5 6-15 3zM1572 421l16-2 5 7-16 2zM1577 427l16-2 5 7-16 2zM1582 433l16-2 5 7-16 2zM1587 439l16-2 5 8-16 2zM1592 446l16-2 5 7-15 3zM1597 453l16-3 6 8-16 2zM1603 459l15-2 6 8-16 2zM1608 466l16-2 6 8-16 2zM1613 473l16-2 6 8-16 2zM1586 419l15-2 5 7-15 2zM1591 425l15-2 5 7-15 2zM1596 431l15-2 6 7-16 3zM1601 438l15-3 6 8-16 2zM1606 444l16-2 5 7-15 3zM1611 451l16-3 6 8-16 2zM1617 457l16-2 5 8-16 2zM1622 464l16-2 6 8-16 2zM1628 471l16-2 6 8-16 2zM1631 455l16-2 6 8-16 2zM1636 462l16-2 6 7-16 3zM1642 469l16-3 6 8-16 3zM1648 476l16-2 6 8-16 2zM1662 474l16-3 7 9-16 2zM1677 472l16-3 6 8-16 3zM1691 470l16-3 6 8-15 3z"/><path fill="#5046c8" d="M1463 368l14-2 4 6-15 2zM1466 373l15-2 3 6-14 2zM1470 378l14-2 4 6-15 2zM1473 384l15-2 4 6-15 2zM1477 389l15-2 4 6-15 2zM1480 394l15-2 4 7-15 2zM1484 400l15-2 4 7-15 2zM1488 406l15-2 4 6-15 3zM1492 412l15-2 4 6-15 2zM1475 366l15-2 4 6-15 2zM1479 371l14-1 4 6-14 1zM1482 377l15-2 4 6-15 2zM1486 382l15-2 4 6-15 2zM1490 387l15-2 4 7-15 2zM1494 393l15-2 4 6-15 2zM1497 398l15-2 5 7-15 2zM1501 404l15-2 5 7-15 2zM1505 410l16-2 4 7-15 2zM1509 416l16-2 4 7-15 2zM1488 365l14-2 4 6-14 2zM1492 370l14-2 4 6-15 2zM1495 375l15-2 4 6-15 2zM1499 380l15-2 4 7-15 2zM1503 386l15-2 4 6-15 2zM1507 391l15-2 4 7-15 2zM1511 397l15-2 4 6-15 2zM1515 402l15-2 4 7-15 2zM1519 408l15-2 4 7-15 2zM1523 414l15-2 5 7-16 2zM1500 363l15-2 4 6-15 2zM1504 368l15-2 4 6-15 2zM1508 374l14-2 5 6-15 2zM1512 379l14-2 5 6-15 2zM1516 384l14-2 5 6-15 2zM1520 390l14-2 5 6-15 2zM1524 395l15-2 4 7-15 2zM1528 401l15-2 4 6-15 2zM1532 406l15-2 5 7-15 2zM1536 412l16-2 4 7-15 2zM1513 362l14-2 4 6-14 2zM1517 367l14-2 4 6-14 2zM1521 372l14-2 4 6-14 2zM1525 377l14-2 4 6-14 2zM1533 388l14-2 5 6-15 2zM1537 393l15-2 4 7-15 2zM1541 399l15-2 5 7-15 2zM1545 405l15-2 5 6-15 2zM1550 411l15-3 5 7-15 2zM1525 360l14-1 5 5-15 2zM1529 365l14-1 5 5-15 2zM1533 370l15-1 4 6-15 2zM1537 376l15-2 4 6-14 2zM1546 386l14-2 5 7-15 2zM1550 392l15-2 4 6-15 2zM1554 397l15-2 5 7-15 2zM1559 403l15-2 4 7-15 2zM1563 409l15-2 5 6-15 3zM1534 354l14-2 4 6-14 2zM1538 359l14-2 4 6-14 2zM1542 364l14-2 4 6-14 2zM1567 396l15-2 5 6-15 2zM1572 401l15-2 5 7-15 2zM1576 407l15-2 5 7-15 2zM1581 413l15-2 5 7-15 2zM1546 353l14-2 4 5-14 2zM1590 405l14-2 6 7-15 2zM1594 411l15-2 6 7-15 2zM1599 417l15-2 6 7-15 2zM1604 423l15-2 6 7-15 2zM1609 429l16-2 5 7-15 3zM1615 436l15-3 6 8-16 2zM1620 442l15-2 6 7-15 3zM1625 449l16-3 6 8-16 2zM1613 415l15-2 5 7-15 2zM1618 421l15-2 5 7-15 3zM1623 428l15-3 6 7-15 3zM1628 434l16-2 5 7-15 2zM1634 440l15-2 6 7-16 3zM1639 447l16-3 6 8-16 2zM1645 453l15-2 7 8-16 2zM1651 460l15-2 7 7-16 3zM1656 467l16-3 7 8-16 3zM1636 426l16-2 5 7-15 2zM1642 432l15-2 6 7-15 2zM1647 438l16-2 6 7-16 3zM1653 445l15-3 7 8-16 2zM1659 451l15-2 7 8-16 2zM1665 458l15-2 7 7-16 3zM1671 465l15-3 7 8-16 3zM1673 449l15-2 6 8-15 2zM1679 456l15-2 7 7-16 3zM1685 463l15-3 7 8-16 3zM1699 461l15-3 7 8-16 3zM1705 468l16-3 7 8-16 3zM1719 466l16-3 7 8-16 3zM1733 464l16-3 7 8-16 3zM1747 462l15-3 8 8-16 3z"/><path fill="#5050c8" d="M1529 383l14-2 5 6-15 2zM1541 381l15-2 4 6-14 2zM1546 369l14-2 4 6-14 2zM1550 374l14-2 5 6-15 2zM1558 385l15-2 5 6-15 2zM1563 390l14-2 5 7-14 2zM1550 357l14-1 4 5-14 2zM1580 394l15-2 5 7-15 2zM1585 400l15-2 5 6-15 2zM1558 351l14-2 4 6-14 2zM1603 404l14-2 6 6-15 2zM1608 410l14-3 6 7-15 2zM1626 414l15-2 5 6-15 3zM1631 420l15-3 6 7-15 3zM1644 418l15-2 6 7-15 2zM1650 424l15-2 6 7-15 2zM1655 430l15-2 7 7-16 2zM1661 436l15-2 6 7-15 3zM1667 443l15-3 6 8-15 2zM1669 428l15-2 6 7-15 3zM1675 435l15-3 6 8-15 2zM1680 441l16-2 6 7-15 2zM1686 447l16-2 6 8-15 2zM1692 454l16-2 7 7-16 3zM1706 452l16-2 6 7-15 3zM1713 459l15-3 7 8-16 3zM1726 457l16-3 7 8-16 3z"/><path fill="#5032c8" d="M1604 483l17-3 6 8-17 3zM1619 480l16-2 6 8-16 3zM1634 478l16-2 6 8-16 2z"/><path fill="#505ac8" d="M1554 379l15-2 4 7-14 2zM1554 362l14-1 5 5-15 2zM1558 367l14-1 5 6-14 1zM1576 389l14-2 5 6-15 2zM1562 356l14-2 5 6-14 2zM1598 398l15-2 5 7-15 2zM1570 350l14-2 4 6-14 1zM1616 402l14-2 6 7-15 2zM1621 408l15-2 5 6-15 3zM1634 406l15-2 5 7-15 2zM1639 412l15-2 6 7-15 2zM1652 410l15-2 6 7-15 2zM1658 416l14-2 6 7-15 2zM1663 422l15-2 6 7-15 2zM1676 420l15-2 6 7-15 2zM1682 427l15-3 6 7-15 3zM1688 433l15-3 6 8-15 2zM1694 439l15-2 7 7-16 3zM1700 446l15-3 7 8-15 2zM1695 425l15-3 7 7-15 3zM1701 431l15-2 7 7-15 2zM1707 437l16-2 6 7-15 3zM1714 444l15-3 7 8-16 2zM1720 450l15-2 7 7-15 3zM1761 460l15-3 7 8-15 3z"/><path fill="#5064c8" d="M1562 373l15-2 4 6-14 2zM1567 378l14-2 5 6-15 2zM1571 383l15-2 4 6-14 2zM1566 361l14-2 5 6-14 2zM1593 392l15-2 5 7-15 2zM1574 355l14-2 5 5-14 2zM1611 396l14-2 6 7-15 2zM1582 348l14-1 4 5-13 2zM1629 400l14-2 6 7-15 2zM1647 404l14-2 6 7-15 2zM1665 409l15-3 6 7-15 2zM1671 414l14-2 7 7-15 2zM1684 413l14-3 7 7-15 3zM1690 419l14-3 7 7-15 3zM1734 448l15-2 7 7-15 3zM1740 455l16-3 7 8-16 3z"/><path fill="#506ec8" d="M1571 366l14-2 4 6-14 2zM1575 371l14-2 5 6-14 2zM1584 382l14-2 5 6-14 2zM1588 387l15-2 5 6-15 2zM1579 359l14-1 4 5-14 2zM1606 391l14-2 6 6-15 2zM1586 353l14-2 5 6-14 2zM1624 395l14-2 6 6-15 2zM1594 347l14-2 4 6-13 2zM1642 399l14-2 6 6-15 2zM1606 346l13-2 5 5-13 2zM1660 403l14-2 6 6-15 2zM1673 401l14-2 6 7-15 2zM1678 407l15-2 6 6-15 3zM1703 417l14-2 7 7-15 2zM1709 423l14-2 7 7-15 2zM1715 429l15-2 6 7-15 2zM1721 435l15-2 7 7-15 3zM1727 442l15-3 7 8-15 2zM1774 458l16-3 7 8-15 3z"/><path fill="#5078c8" d="M1579 376l15-2 4 6-14 2zM1583 365l14-2 5 6-14 1zM1587 370l14-2 5 6-14 2zM1597 380l14-2 5 6-15 2zM1601 385l15-2 5 7-15 2zM1591 358l14-2 4 6-14 2zM1614 384l14-2 5 6-14 2zM1619 389l14-2 5 7-14 2zM1598 352l14-2 5 6-14 1zM1636 393l15-2 5 7-14 2zM1654 397l15-2 6 7-15 2zM1618 344l13-2 5 6-14 2zM1691 405l15-2 6 7-15 2zM1697 411l14-2 7 7-15 2zM1741 440l15-3 7 8-15 2zM1747 446l15-2 7 7-15 3zM1754 453l15-3 7 8-15 3zM1788 456l15-3 8 8-15 3z"/><path fill="#5082c8" d="M1592 375l14-2 5 6-14 2zM1595 363l14-2 5 6-14 2zM1603 357l14-2 5 5-14 2zM1631 388l15-2 5 6-14 2zM1610 350l14-2 5 6-14 2zM1649 392l15-3 5 7-14 2zM1667 395l15-2 5 7-14 2zM1685 399l15-2 6 7-15 2zM1722 421l14-2 7 7-15 2zM1728 427l15-2 6 7-14 2zM1734 433l15-2 7 7-15 3z"/><path fill="#5082be" d="M1600 368l14-2 5 6-14 2zM1609 378l14-2 5 7-14 2zM1626 382l15-2 5 6-14 3zM1622 349l14-2 5 6-14 2zM1716 415l14-2 7 7-15 2zM1768 451l15-3 7 8-15 3zM1802 454l15-3 7 8-15 2z"/><path fill="#508cbe" d="M1604 373l14-2 6 6-15 2zM1607 362l14-2 5 6-14 1zM1612 367l14-2 5 6-14 2zM1622 377l14-2 5 6-14 2zM1615 355l14-2 5 6-14 2zM1639 381l14-2 6 6-15 2zM1644 386l14-2 6 6-15 2zM1662 390l14-2 6 6-15 2zM1629 343l14-2 5 5-14 2zM1680 394l14-2 6 6-14 2zM1704 403l14-2 7 7-15 2zM1710 409l14-2 7 7-15 2zM1754 438l15-2 7 7-15 2zM1761 444l15-2 7 7-15 3z"/><path fill="#5096be" d="M1617 372l14-2 5 6-14 2zM1620 360l13-2 5 6-13 2zM1624 365l14-2 5 6-14 2zM1634 375l14-2 5 7-14 2zM1627 354l14-2 5 6-14 1zM1651 379l15-2 5 6-14 2zM1657 384l14-2 5 7-14 2zM1634 347l14-1 5 5-14 2zM1674 388l15-2 5 7-14 2zM1641 341l14-1 5 5-14 2zM1698 398l14-2 7 6-15 2zM1723 407l14-2 6 7-14 2zM1729 413l14-2 7 7-15 2zM1735 419l14-2 7 7-15 2zM1741 425l15-2 7 7-15 3zM1748 432l14-3 7 8-15 2zM1781 449l15-3 8 8-16 3zM1815 452l15-3 8 8-15 2z"/><path fill="#50a0be" d="M1629 370l14-2 5 6-14 2zM1632 359l13-2 6 6-14 1zM1636 364l14-2 6 6-14 2zM1646 374l14-2 6 6-14 2zM1639 352l13-2 6 6-14 2zM1669 383l14-2 6 6-14 2zM1692 392l15-2 6 7-15 2zM1717 402l14-2 6 6-14 2zM1774 442l15-2 7 8-15 2z"/><path fill="#50aabe" d="M1641 369l14-2 6 6-14 2zM1644 357l13-2 6 6-14 2zM1664 378l14-2 5 6-14 2zM1646 346l13-2 5 6-13 2zM1687 387l14-2 6 6-14 2zM1653 340l13-2 5 6-13 2zM1711 396l14-2 6 6-14 3zM1748 418l14-3 7 7-14 3zM1754 424l15-3 7 7-15 3zM1761 430l14-3 8 8-15 2zM1767 436l15-2 7 7-15 2zM1794 447l15-2 8 7-15 3zM1828 450l15-3 8 8-15 3z"/><path fill="#50b4be" d="M1649 362l13-2 6 6-14 2zM1659 372l14-2 5 6-14 2zM1651 351l13-2 5 6-13 2zM1681 381l15-2 5 6-14 3zM1705 391l14-3 6 7-14 2zM1729 400l15-2 6 7-14 2zM1735 406l15-2 6 6-14 3zM1741 412l15-3 7 7-15 3zM1787 441l15-3 8 8-15 2z"/><path fill="#50bebe" d="M1654 367l13-2 6 6-14 2zM1656 356l13-2 6 6-14 2zM1671 371l14-2 5 6-14 2zM1676 376l14-2 6 6-14 2zM1658 345l13-2 5 5-13 2zM1699 385l14-2 6 6-14 2zM1723 394l14-2 7 7-14 2zM1761 416l14-3 7 7-14 3zM1767 422l15-3 7 8-15 2zM1774 428l14-2 8 7-15 2zM1781 434l14-2 8 7-15 3zM1842 448l15-3 8 8-15 3z"/><path fill="#50beb4" d="M1661 361l13-2 6 6-14 2zM1666 366l13-2 6 6-14 2zM1663 349l13-1 5 5-13 2zM1694 380l14-2 6 6-14 2zM1664 339l14-2 5 5-13 2zM1748 404l14-2 7 7-14 2zM1754 410l15-2 6 6-14 3zM1808 445l15-2 7 7-14 3z"/><path fill="#46beaa" d="M1668 354l13-2 5 6-13 2zM1683 369l14-2 6 6-14 2zM1717 389l15-2 6 6-14 2zM1742 398l14-2 7 7-15 2zM1801 439l14-3 8 8-15 2zM1855 446l15-3 8 8-15 3z"/><path fill="#46bea0" d="M1673 359l13-2 6 6-14 2zM1678 364l13-2 6 6-14 2zM1669 343l14-2 5 6-13 2zM1712 383l14-2 6 7-14 2zM1736 393l14-2 6 6-14 2zM1774 414l14-2 7 7-15 2zM1780 420l15-2 7 7-15 2zM1787 426l14-2 8 7-15 2zM1794 432l14-2 8 7-15 3zM1868 444l15-3 8 8-14 3z"/><path fill="#50beaa" d="M1688 374l14-2 6 7-14 2z"/><path fill="#46be8c" d="M1674 348l14-2 5 6-13 2zM1706 378l14-2 6 6-14 2zM1730 387l14-2 6 7-14 2zM1754 397l15-2 6 6-14 2zM1761 402l14-2 7 7-15 2zM1814 437l15-3 7 8-14 2zM1894 440l15-2 8 7-14 3z"/><path fill="#46be82" d="M1679 353l14-2 5 6-13 2zM1701 373l13-2 6 6-14 2zM1807 431l14-3 8 7-15 3z"/><path fill="#3cbe78" d="M1685 358l13-2 6 6-14 2zM1695 368l14-2 6 6-14 2zM1724 382l14-2 6 6-14 2zM1748 391l14-2 7 7-14 2zM1786 412l15-2 7 7-15 2zM1834 441l15-2 8 7-15 3z"/><path fill="#3cbe6e" d="M1690 363l13-2 6 6-14 2zM1718 377l14-2 6 6-14 2zM1687 336l13-2 6 6-13 1zM1780 406l14-2 7 7-14 2z"/><path fill="#46be96" d="M1676 337l13-2 5 6-13 2zM1767 408l14-2 7 7-14 2zM1821 443l15-2 8 7-15 3zM1881 442l15-2 8 7-14 3z"/><path fill="#46be78" d="M1681 342l13-2 6 6-14 2zM1793 418l14-2 8 7-15 2zM1800 424l14-2 8 7-15 3z"/><path fill="#3cbe64" d="M1686 347l13-2 6 5-14 2zM1742 386l14-2 7 6-14 2zM1773 401l14-3 7 7-14 2zM1820 429l14-3 8 8-15 2zM1827 435l15-3 7 8-14 2zM1847 439l15-2 8 7-15 3z"/><path fill="#3cbe5a" d="M1691 351l14-1 5 5-13 2zM1713 371l13-2 6 6-13 3zM1767 395l14-2 7 6-14 3zM1799 411l14-3 7 7-14 3zM1806 416l14-2 7 7-14 3zM1813 423l14-3 8 7-15 3zM1840 433l14-2 8 7-14 2zM1861 438l14-3 8 7-14 3z"/><path fill="#3cbe50" d="M1696 356l14-2 6 6-14 2zM1707 366l14-2 6 6-14 2zM1692 341l14-2 5 5-13 2zM1736 380l14-2 6 7-13 2zM1761 390l14-3 6 7-14 2zM1792 405l14-3 8 7-15 3zM1826 421l14-3 8 7-15 3zM1833 427l14-3 8 8-15 2z"/><path fill="#3cbe46" d="M1702 361l13-2 6 6-14 2zM1698 345l13-2 5 6-13 2zM1731 375l13-2 6 6-13 2zM1699 335l13-2 5 5-13 2zM1755 384l13-2 7 6-14 3zM1779 393l14-2 7 7-14 2zM1786 399l14-2 7 6-14 3zM1805 403l14-2 7 7-14 2zM1812 409l14-2 7 6-14 3zM1819 415l14-3 7 7-14 3zM1824 407l14-2 8 7-14 2zM1831 413l14-2 8 7-14 2zM1838 419l15-2 7 7-14 2zM1846 425l14-2 8 7-15 2zM1853 431l14-2 8 7-14 3zM1866 429l14-2 8 7-14 3zM1873 436l15-3 8 8-14 2zM1886 434l15-3 8 8-14 2z"/><path fill="#3cbe3c" d="M1703 350l13-2 6 6-14 2zM1708 355l14-2 5 6-13 2zM1714 360l13-2 6 6-14 2zM1719 365l14-2 6 6-14 2zM1725 370l13-2 7 6-14 2zM1704 339l13-2 6 6-14 2zM1749 379l13-2 7 6-14 2zM1710 333l13-2 6 6-13 2zM1773 388l14-2 7 6-14 2zM1785 386l14-2 7 7-14 2zM1792 392l13-2 7 6-13 2zM1798 397l14-2 7 7-14 2zM1804 390l14-2 7 7-14 2zM1811 396l13-2 8 6-14 2zM1817 401l14-2 8 7-14 2zM1823 394l14-2 7 6-14 3zM1830 400l14-3 7 7-14 2zM1837 405l14-2 7 7-14 2zM1844 411l14-2 8 7-15 2zM1851 417l14-2 8 7-14 2zM1858 423l15-2 8 7-15 2zM1842 398l14-2 7 6-14 3zM1849 404l14-3 8 7-14 3zM1856 410l14-3 8 7-14 2zM1864 415l14-2 8 7-15 2zM1871 421l14-2 8 7-14 3zM1879 428l14-3 8 7-14 3z"/><path fill="#3cbe32" d="M1709 344l13-2 6 6-13 2zM1715 349l13-2 6 5-14 2zM1737 368l13-2 7 6-14 2zM1743 374l13-3 7 7-14 2zM1715 338l13-2 6 6-13 1zM1761 377l13-2 7 6-14 3zM1767 383l14-3 6 7-14 2zM1721 332l13-2 6 6-13 1zM1779 381l14-2 6 6-13 2zM1733 331l13-2 5 5-13 2zM1797 385l14-2 7 6-14 2zM1809 383l14-2 7 6-14 3zM1816 389l14-3 7 7-14 2zM1822 382l13-3 7 7-13 2zM1828 387l14-2 7 6-14 2zM1835 392l14-2 7 7-14 2z"/><path fill="#3cbe28" d="M1720 353l13-2 6 6-13 2zM1725 358l14-2 6 6-14 2zM1731 363l14-2 6 6-14 2zM1721 343l13-2 6 5-14 2zM1755 372l13-2 7 6-14 2zM1727 337l13-2 6 5-14 2zM1773 376l13-2 7 6-14 2zM1791 379l14-2 6 7-13 2zM1744 329l13-1 6 5-13 2zM1803 378l14-2 7 6-14 2zM1755 328l13-2 6 6-13 1z"/><path fill="#5abe28" d="M1726 347l13-2 6 6-13 2zM1732 341l13-2 6 6-13 2z"/><path fill="#78be28" d="M1732 352l13-2 6 6-13 2zM1738 346l13-2 6 6-13 2zM1744 340l13-2 6 5-14 2zM1809 371l13-2 7 6-14 2z"/><path fill="#8cbe28" d="M1737 357l14-2 6 6-14 2zM1755 360l13-2 6 6-13 2zM1772 364l14-2 6 6-13 2zM1790 367l14-2 6 6-13 3z"/><path fill="#6ebe28" d="M1743 362l13-2 7 6-14 2zM1761 365l13-2 6 6-13 2zM1779 369l13-2 7 6-14 2zM1797 373l13-2 7 6-14 2zM1761 333l12-2 6 5-12 2z"/><path fill="#50be28" d="M1749 367l13-2 7 6-14 2zM1767 370l13-2 7 7-14 2zM1785 374l13-2 7 6-14 2zM1815 376l13-2 7 6-13 3z"/><path fill="#96be28" d="M1743 351l14-2 6 5-14 2zM1749 344l13-1 6 5-13 2zM1755 338l13-1 6 5-13 2z"/><path fill="#aabe28" d="M1749 355l13-2 6 6-13 2zM1784 362l14-2 6 6-13 2zM1766 337l13-2 6 6-13 2z"/><path fill="#46be28" d="M1738 335l13-2 6 6-13 2z"/><path fill="#b4be28" d="M1755 349l13-2 6 6-13 2zM1766 359l14-2 6 6-13 2z"/><path fill="#c8b428" d="M1761 354l13-2 6 6-13 2zM1766 348l13-2 7 6-13 2zM1778 357l13-2 7 6-13 2z"/><path fill="#64be28" d="M1749 334l13-2 6 5-13 2z"/><path fill="#bebe28" d="M1761 343l13-2 6 6-13 2zM1796 361l13-2 7 6-14 2z"/><path fill="#c8a028" d="M1772 353l13-2 7 5-14 2z"/><path fill="#c8be28" d="M1772 342l13-2 6 5-13 2z"/><path fill="#c8aa28" d="M1778 346l13-2 6 6-13 2zM1790 356l13-2 7 6-14 2z"/><path fill="#c89628" d="M1784 351l13-2 6 6-13 2z"/><path fill="#a0be28" d="M1802 366l13-2 7 6-13 2z"/></g></g>
<line x1="1538.9" y1="353.7" x2="1645.3" y2="485" stroke="#a8a8a8" stroke-width="0.9"/><line x1="1614.9" y1="344.8" x2="1736.3" y2="471.6" stroke="#a8a8a8" stroke-width="0.9"/><line x1="1688.6" y1="336.1" x2="1823.8" y2="458.6" stroke="#a8a8a8" stroke-width="0.9"/><line x1="1500.8" y1="423.9" x2="1834.5" y2="380.2" stroke="#a8a8a8" stroke-width="0.9"/>
<path d="M1771.9 104.6 1773.4 100.8 1774.9 100.3 1776.4 97.7 1778 96.6 1779.5 94.2 1781 92.8 1782.6 91.8 1784.2 87.9 1785.7 87.6 1787.3 86.8 1788.9 83.6 1790.4 84.1 1792 82.1 1793.6 82.2 1795.1 82.6 1796.7 81.5 1798.3 81.1 1799.9 80.9 1801.6 78.8 1803.2 79.8 1804.8 77.4 1806.4 77.9 1808 81.4 1809.6 81.5 1811.2 83.5 1812.8 84.9 1814.4 85.8 1816 89.5 1817.6 90.4 1819.3 92.1 1820.8 96.5 1822.4 99.6 1824 101.6 1825.7 102.6 1827.4 103.4 1829 107.8 1830.6 110.7 1832.3 111.7 1833.9 115.5 1835.5 120.7 1837.3 120.9 1838.8 127 1840.7 125.6 1842.2 131.2 1844 133 1845.7 134.6 1847.3 140.9 1849.2 139.5 1850.9 142.8 1852.7 142 1854.4 146.6 1856.1 151.1 1857.8 153.1 1859.9 148.7 1861.6 153.2 1863.3 156.2 1865.2 156.5 1867.1 156.5 1868.8 161.6 1870.9 156.7 1872.7 160.3 1874.5 163.2 1876.6 160.3 1878.2 167.8 1880.3 165.4 1882.1 169.7 1883.9 173.9 1886 170.8 1888 172 1889.8 175.2 1891.8 175.4 1893.7 179.3 1895.6 181.7 1897.8 178.9 1899.7 182.3 1901.9 179 1904 178.9 1906.1 180.1 1907.9 186.4 1910 186.6 1911.7 194.8 1914.1 189.9 1915.9 196 1917.9 199.3 1919.6 209.4 1921.4 216.3 1923.5 219 1925.5 223.4 1926.9 237.8 1916.4 444.9 1914.3 443.3 1912.3 441.7 1910.3 440.1 1908.3 438.6 1906.3 437 1904.3 435.4 1902.3 433.9 1900.4 432.3 1898.4 430.8 1896.5 429.2 1894.5 427.7 1892.6 426.2 1890.7 424.6 1888.8 423.1 1886.9 421.6 1885 420.1 1883.1 418.6 1881.2 417.2 1879.4 415.7 1877.5 414.2 1875.7 412.8 1873.8 411.3 1872 409.9 1870.2 408.4 1868.3 407 1866.5 405.5 1864.7 404.1 1862.9 402.7 1861.2 401.3 1859.4 399.9 1857.6 398.5 1855.9 397.1 1854.1 395.7 1852.4 394.3 1850.6 393 1848.9 391.6 1847.2 390.2 1845.5 388.9 1843.8 387.5 1842.1 386.2 1840.4 384.9 1838.7 383.5 1837 382.2 1835.3 380.9 1833.7 379.6 1832 378.3 1830.4 377 1828.7 375.7 1827.1 374.4 1825.5 373.1 1823.9 371.8 1822.2 370.5 1820.6 369.3 1819 368 1817.4 366.7 1815.9 365.5 1814.3 364.2 1812.7 363 1811.2 361.8 1809.6 360.5 1808 359.3 1806.5 358.1 1805 356.9 1803.4 355.7 1801.9 354.5 1800.4 353.3 1798.9 352.1 1797.4 350.9 1795.9 349.7 1794.4 348.5 1792.9 347.3 1791.4 346.1 1789.9 345 1788.4 343.8 1787 342.7 1785.5 341.5 1784.1 340.4 1782.6 339.2 1781.2 338.1 1779.8 336.9 1778.3 335.8 1776.9 334.7 1775.5 333.6 1774.1 332.5 1772.7 331.3 1771.3 330.2 1769.9 329.1 1768.5 328 1767.1 326.9Z" fill="#a3d2d0" fill-opacity="0.92"/>
<g><path fill="#0024fc" d="M1454 211l11 1 3 3-11 1zM1464 212l11-1 3 2-11 2zM1474 211l11 0 3 1-12 2zM1484 211l11-3 3 3-12 1zM1493 208l6-1 3 5-6 0zM1498 207l6 0 3 5-6 0zM1503 207l11 0 3 3-11 2zM1513 208l11-1 3 2-11 2zM1522 208l11 0 3-1-11 2zM1532 208l11-4 3 0-11 4z"/><path fill="#0030fc" d="M1542 205l10-6 4 3-11 3zM1551 199l11-3 3 1-11 5z"/><path fill="#003cfc" d="M1561 196l5-1 3 1-5 2z"/><path fill="#0048fc" d="M1565 196l6-2 4 0-7 2zM1570 194l11-1 3-1-11 3zM1579 193l12-1 4-1-12 1z"/><path fill="#0060fc" d="M1590 193l9-8 4 2-10 5z"/><path fill="#006cfc" d="M1598 186l11 1 3-2-10 2zM1608 187l10-4 4 0-11 3z"/><path fill="#0078fc" d="M1617 183l10-3 3 1-10 3z"/><path fill="#0084fc" d="M1625 181l12-3 3 1-11 3z"/><path fill="#0090fc" d="M1635 178l11-5 4 1-11 5z"/><path fill="#00b4fc" d="M1645 174l14-4 3-2-14 6z"/><path fill="#00ccfc" d="M1657 170l7-4 4-2-7 5z"/><path fill="#00f0fc" d="M1663 167l10-7 4-3-10 8z"/><path fill="#00fce4" d="M1672 161l10-9 4-1-10 7z"/><path fill="#00fccc" d="M1681 153l9-7 4 0-9 6z"/><path fill="#00fca8" d="M1689 147l12-8 4-3-12 11z"/><path fill="#00fc78" d="M1699 140l11-10 4-2-10 9z"/><path fill="#00fc48" d="M1709 131l8-9 5-3-9 10z"/><path fill="#00fc24" d="M1716 123l12-5 4-5-12 7z"/><path fill="#00fc18" d="M1727 119l10-3 4-6-10 3z"/><path fill="#00fc00" d="M1736 116l10-6 4-5-10 5z"/><path fill="#18fc00" d="M1745 111l13-7 4-3-13 5z"/><path fill="#24fc00" d="M1757 105l6 0 5-8-7 4z"/><path fill="#30fc00" d="M1762 104l10 1 5-8-10 0z"/><path fill="none" stroke="#8a8a8a" stroke-width="0.9" d="M1498.7 207.5l2.8 3.7M1532.5 207.7l2.9-.2M1565.5 195.6l3.1.3M1590.5 192.5l3.3-1M1626 180.5l3.5.7M1658.1 170.1l3.7-1.7M1689.9 146.4l3.9.1M1717 123l4.1-3.3M1757.2 104.3l4.4-3.3"/><path fill="#0024fc" d="M1457 216l11-2 2 1-11 3zM1466 215l12-2 2 1-11 2zM1476 213l12-2 2 2-11 1zM1486 212l12-1 2 2-11 0zM1496 211l6 0 3 1-6 1zM1501 211l6 0 3 1-6 1zM1506 211l11-1 3 2-11 0zM1516 210l11-2 3 2-11 2zM1525 209l11-2 3 2-11 1z"/><path fill="#0030fc" d="M1535 208l11-4 3 1-11 4zM1545 204l11-2 3 0-11 4z"/><path fill="#003cfc" d="M1554 202l11-5 3 1-11 4z"/><path fill="#0048fc" d="M1564 197l5-2 4 2-6 2z"/><path fill="#0054fc" d="M1568 196l6-2 4 2-7 1zM1573 195l11-3 3 1-11 3z"/><path fill="#0060fc" d="M1583 192l12-1 3 1-12 1zM1593 192l10-5 3 2-10 3z"/><path fill="#0078fc" d="M1602 187l10-2 4 1-11 4zM1611 185l11-2 3 1-11 3z"/><path fill="#0084fc" d="M1620 184l10-3 4 1-10 3z"/><path fill="#0090fc" d="M1629 181l11-2 4-1-12 5z"/><path fill="#00a8fc" d="M1639 179l10-6 4 2-10 4z"/><path fill="#00c0fc" d="M1648 174l14-6 4 0-14 7z"/><path fill="#00e4fc" d="M1661 169l7-5 4 0-7 5z"/><path fill="#00fcf0" d="M1667 165l10-8 4 0-10 8z"/><path fill="#00fcd8" d="M1676 158l10-7 4-1-10 8z"/><path fill="#00fcb4" d="M1685 152l9-6 4-2-9 7z"/><path fill="#00fc84" d="M1693 147l12-11 4-4-12 13z"/><path fill="#00fc54" d="M1703 137l11-9 4-5-10 10z"/><path fill="#00fc24" d="M1713 129l9-10 4-5-9 10z"/><path fill="#00fc00" d="M1721 120l11-6 4-5-11 6z"/><path fill="#18fc00" d="M1731 114l10-3 4-5-10 3z"/><path fill="#24fc00" d="M1740 111l10-5 5-4-11 5z"/><path fill="#3cfc00" d="M1749 106l13-5 5-7-14 8z"/><path fill="#48fc00" d="M1761 101l7-3 5-4-7 0z"/><path fill="#54fc00" d="M1767 98l10 0 5-5-11 1z"/><path fill="none" stroke="#8a8a8a" stroke-width="0.9" d="M1501.5 211.2l2.8 1.1M1535.4 207.5l2.9 1.3M1568.6 195.9l3.2.8M1593.8 191.5l3.3.3M1629.5 181.2l3.6 1.3M1661.8 168.4l3.7.2M1693.8 146.5l3.9-2.1M1721.1 119.7l4.2-4.8M1761.6 101l4.5-6.3"/><path fill="#0024fc" d="M1459 218l11-3 3 1-11 3zM1469 216l11-3 3 4-11-1zM1479 214l11-2 3 4-11 2zM1489 213l11-1 3 3-11 2zM1499 213l6-1 3 2-6 1zM1504 212l6-1 3 2-6 1zM1509 212l11 0 3 1-12 0zM1518 212l12-2 3 2-12 1z"/><path fill="#0030fc" d="M1528 210l11-1 3 0-11 4zM1538 209l11-4 3 0-11 5z"/><path fill="#003cfc" d="M1548 205l11-4 3 3-11 2z"/><path fill="#0048fc" d="M1557 202l11-4 3 1-10 5z"/><path fill="#0054fc" d="M1567 199l5-3 4 3-6 1zM1571 197l7-2 3 1-6 3z"/><path fill="#0060fc" d="M1576 196l11-3 4-1-11 5z"/><path fill="#006cfc" d="M1586 193l12-1 3 1-12 0z"/><path fill="#0078fc" d="M1596 192l10-3 4-1-10 5zM1605 190l11-4 3 3-11-1z"/><path fill="#0084fc" d="M1614 186l11-2 4 0-11 6z"/><path fill="#0090fc" d="M1624 184l10-2 3 0-10 2z"/><path fill="#009cfc" d="M1632 183l12-5 4 1-12 4z"/><path fill="#00b4fc" d="M1642 179l11-5 4 2-11 4z"/><path fill="#00ccfc" d="M1652 175l14-7 4 3-14 5z"/><path fill="#00f0fc" d="M1665 169l6-5 5 3-7 4z"/><path fill="#00fcf0" d="M1670 165l11-9 4 2-10 10z"/><path fill="#00fcc0" d="M1680 157l10-7 4-2-10 11z"/><path fill="#00fc9c" d="M1689 151l9-7 4 0-9 5z"/><path fill="#00fc6c" d="M1697 145l11-13 5-2-12 15z"/><path fill="#00fc30" d="M1708 133l10-10 4-4-10 12z"/><path fill="#00fc00" d="M1717 124l9-10 4-3-9 10z"/><path fill="#18fc00" d="M1725 115l11-6 5 0-12 3z"/><path fill="#30fc00" d="M1735 109l11-2 4-6-11 9z"/><path fill="#48fc00" d="M1744 107l11-5 4-4-11 3z"/><path fill="#60fc00" d="M1753 103l14-9 4-3-13 7z"/><path fill="#78fc00" d="M1765 95l7 0 5-6-7 1zM1771 95l11-2 4-6-10 2z"/><path fill="none" stroke="#8a8a8a" stroke-width="0.9" d="M1504.3 212.3l2.8 1.6M1538.3 208.8l3 .6M1571.8 196.7l3.2 2M1597.1 191.8l3.4.8M1633.1 182.5l3.5-.3M1665.5 168.6l3.8 2.1M1697.7 144.4l4-.4M1725.3 114.9l4.2-3M1766.1 94.7l4.5-3.8"/><path fill="#0024fc" d="M1462 219l11-3 3 4-12 3z"/><path fill="#0030fc" d="M1472 216l11 1 3 2-12 2zM1482 217l11-1 3 1-12 2zM1492 216l11-2 3 4-12-1zM1502 214l5-1 4 4-6 1zM1506 214l7-2 3 4-6 2zM1511 213l12 0 3 1-12 3zM1521 213l12-1 3 2-12 0zM1531 212l11-3 3 4-11 1zM1541 209l11-4 3 2-11 6z"/><path fill="#0048fc" d="M1551 206l11-2 3 0-11 3z"/><path fill="#0054fc" d="M1560 204l11-5 4 2-11 3z"/><path fill="#0060fc" d="M1570 199l5-1 4 0-5 4zM1574 199l7-3 3 1-6 2z"/><path fill="#006cfc" d="M1580 197l11-5 3 2-11 4z"/><path fill="#0078fc" d="M1589 193l12 0 4-1-12 2z"/><path fill="#0084fc" d="M1600 193l10-5 3 2-10 3zM1608 188l11 1 4-1-11 3z"/><path fill="#0090fc" d="M1618 189l11-5 3 1-11 3z"/><path fill="#009cfc" d="M1627 184l10-2 4 1-10 3z"/><path fill="#00b4fc" d="M1636 182l12-3 3 0-11 4z"/><path fill="#00ccfc" d="M1646 180l11-4 4-1-11 4z"/><path fill="#00e4fc" d="M1656 176l14-6 4-1-15 6z"/><path fill="#00fcfc" d="M1669 171l6-4 4-3-6 6z"/><path fill="#00fce4" d="M1674 168l11-10 4-1-11 8z"/><path fill="#00fcb4" d="M1684 159l10-11 4 1-10 9z"/><path fill="#00fc90" d="M1693 149l9-5 4-4-9 10z"/><path fill="#00fc54" d="M1701 145l12-15 4-2-12 14z"/><path fill="#00fc18" d="M1712 131l10-12 4-3-10 13z"/><path fill="#18fc00" d="M1721 120l9-9 4-4-9 10z"/><path fill="#3cfc00" d="M1729 112l12-3 4-8-12 6z"/><path fill="#54fc00" d="M1739 110l11-9 4-3-10 4z"/><path fill="#6cfc00" d="M1748 101l11-3 4-4-10 4z"/><path fill="#84fc00" d="M1758 98l13-7 5-4-14 7z"/><path fill="#90fc00" d="M1770 91l7-1 5-5-7 2z"/><path fill="#9cfc00" d="M1776 89l10-1 5-4-10 0z"/><path fill="none" stroke="#8a8a8a" stroke-width="0.9" d="M1507.1 213.9l2.8 3.2M1541.3 209.4l3.1 3.3M1575 198.7l3.2-.2M1600.5 192.6l3.4-.4M1636.6 182.2l3.7.8M1669.3 170.7l3.8-1.2M1701.7 144l4.1-3.1M1729.5 111.9l4.3-4.6M1770.6 90.9l4.5-3.7"/><path fill="#0030fc" d="M1464 222l12-2 2 1-11 3zM1474 220l12-2 3 4-12 0zM1484 219l12-2 3 3-12 2zM1494 217l12 0 3 2-12 1zM1504 217l6 0 4 2-7 0zM1509 217l7-1 3 4-7 0zM1514 216l12-2 3 2-11 4zM1524 214l12-1 3 1-12 3zM1534 214l11-1 3 0-11 1z"/><path fill="#003cfc" d="M1544 213l11-7 3 4-11 4z"/><path fill="#0048fc" d="M1554 207l11-4 3 5-11 3z"/><path fill="#0054fc" d="M1563 204l12-4 3 2-11 6z"/><path fill="#006cfc" d="M1573 201l5-3 4 3-5 2zM1577 198l7-1 4 2-7 2z"/><path fill="#0078fc" d="M1583 197l11-3 3 1-11 5z"/><path fill="#0084fc" d="M1593 194l12-2 3 3-12 1zM1603 192l10-2 4 4-10 1z"/><path fill="#0090fc" d="M1612 190l11-3 3 3-10 4z"/><path fill="#009cfc" d="M1621 188l11-3 4 0-11 5z"/><path fill="#00b4fc" d="M1631 186l10-3 4-1-10 4z"/><path fill="#00c0fc" d="M1640 183l11-4 4 0-12 3z"/><path fill="#00d8fc" d="M1650 179l11-5 3 0-10 6z"/><path fill="#00fcfc" d="M1659 175l15-6 4 1-15 4z"/><path fill="#00fcf0" d="M1672 170l7-6 4 2-6 5z"/><path fill="#00fccc" d="M1678 165l11-8 4 0-11 10z"/><path fill="#00fca8" d="M1688 158l10-9 4 1-10 8z"/><path fill="#00fc78" d="M1697 150l9-10 4 0-9 11z"/><path fill="#00fc48" d="M1705 141l12-13 4 0-11 13z"/><path fill="#00fc00" d="M1716 129l10-13 4 1-10 12z"/><path fill="#30fc00" d="M1725 117l9-10 5 0-9 11z"/><path fill="#54fc00" d="M1733 108l12-7 4 3-12 3z"/><path fill="#6cfc00" d="M1744 102l10-4 5-2-11 9z"/><path fill="#84fc00" d="M1753 98l10-4 5-2-11 4z"/><path fill="#9cfc00" d="M1762 95l14-8 4-1-13 7z"/><path fill="#a8fc00" d="M1774 87l8-3 4 0-7 2z"/><path fill="#b4fc00" d="M1780 85l11 0 5-3-11 3z"/><path fill="none" stroke="#8a8a8a" stroke-width="0.9" d="M1509.9 217.1l2.9 2M1544.4 212.7l3.1.6M1578.2 198.5l3.4 2.3M1603.9 192.2l3.4 2.4M1640.3 183l3.6-.9M1673.1 169.5l3.9.8M1705.8 140.9l4.1-.3M1733.8 107.3l4.3-.2M1775.1 87.2l4.6-1.3"/><path fill="#0030fc" d="M1467 224l11-3 3 5-12 0zM1477 221l11 0 3 5-11 1zM1487 222l11-3 4 5-12 2zM1497 220l12-2 3 3-12 3zM1507 218l6 1 3 1-6 1zM1512 219l7 1 3 0-7 1zM1517 220l12-4 3 2-12 2zM1527 216l12-2 3 4-12 0zM1537 214l11-1 3 6-11-1z"/><path fill="#003cfc" d="M1547 213l11-3 4 4-12 5z"/><path fill="#0048fc" d="M1557 210l11-3 3 2-11 6z"/><path fill="#0060fc" d="M1567 208l11-6 3 2-11 6z"/><path fill="#006cfc" d="M1576 202l6-2 4 2-6 3z"/><path fill="#0078fc" d="M1581 201l6-2 4 1-7 3z"/><path fill="#0084fc" d="M1586 199l11-4 4 2-11 4zM1596 195l12-1 4 2-13 1z"/><path fill="#0090fc" d="M1607 195l10-1 3-3-10 5z"/><path fill="#009cfc" d="M1615 194l11-5 4 3-11-1z"/><path fill="#00a8fc" d="M1625 190l11-5 4 4-11 4z"/><path fill="#00c0fc" d="M1634 185l10-4 4 5-10 3z"/><path fill="#00ccfc" d="M1643 182l12-3 4 2-12 6z"/><path fill="#00f0fc" d="M1654 179l10-6 4 3-10 5z"/><path fill="#00fcfc" d="M1663 174l15-4 4 2-15 4z"/><path fill="#00fce4" d="M1676 171l7-6 4 1-6 7z"/><path fill="#00fcc0" d="M1682 166l11-9 4 2-11 8z"/><path fill="#00fc9c" d="M1692 158l10-9 4-3-10 14z"/><path fill="#00fc6c" d="M1701 150l9-10 5-1-10 8z"/><path fill="#00fc30" d="M1709 141l12-13 4 0-11 12z"/><path fill="#00fc00" d="M1720 129l10-12 5 0-11 12z"/><path fill="#3cfc00" d="M1729 118l9-12 5-1-9 13z"/><path fill="#60fc00" d="M1737 107l12-3 5-4-12 6z"/><path fill="#78fc00" d="M1748 105l10-9 5 1-11 3z"/><path fill="#90fc00" d="M1757 96l11-4 4-3-10 9z"/><path fill="#b4fc00" d="M1767 93l13-7 5-3-14 7z"/><path fill="#c0fc00" d="M1779 86l7-1 5-5-7 3zM1785 85l11-2 4-1-10-2z"/><path fill="none" stroke="#8a8a8a" stroke-width="0.9" d="M1512.8 219.1l2.9 1.1M1547.5 213.3l3.2 5.1M1581.6 200.8l3.3 1.3M1607.3 194.6l3.5 1.1M1643.9 182.1l3.8 4.2M1677 170.3l3.9 2.1M1709.9 140.6l4.1-1.3M1738.1 107.1l4.3-1.4M1779.7 85.9l4.7-2.8"/><path fill="#0030fc" d="M1469 226l12 0 3 0-12 4zM1480 226l11-1 3 3-12-2zM1490 226l11-3 3 2-11 3zM1500 223l12-3 3 3-12 2zM1510 221l6-1 3 3-6 1zM1515 220l6-1 4 4-7 1zM1520 220l12-3 3 5-12 1zM1530 218l12 0 3 3-12 1zM1540 218l11 0 4 0-11 3z"/><path fill="#003cfc" d="M1550 219l12-5 3 0-12 4z"/><path fill="#0048fc" d="M1560 214l11-5 4 2-12 4z"/><path fill="#0060fc" d="M1570 209l11-5 4 3-12 4z"/><path fill="#006cfc" d="M1580 204l5-3 4 5-5 1z"/><path fill="#0078fc" d="M1584 202l7-2 4 5-7 2z"/><path fill="#0084fc" d="M1590 200l11-4 3 5-11 4z"/><path fill="#0090fc" d="M1599 197l12-2 4 2-12 4z"/><path fill="#009cfc" d="M1610 196l10-6 4 4-10 4z"/><path fill="#00a8fc" d="M1619 191l11 1 4 0-11 3z"/><path fill="#00b4fc" d="M1629 192l11-4 3 0-11 4z"/><path fill="#00c0fc" d="M1638 189l10-3 4-1-10 4z"/><path fill="#00d8fc" d="M1647 187l12-7 4 1-12 5z"/><path fill="#00f0fc" d="M1657 181l11-6 4 3-11 4z"/><path fill="#00fcfc" d="M1667 176l15-4 4 2-15 4z"/><path fill="#00fce4" d="M1680 173l7-8 4 2-6 8z"/><path fill="#00fcb4" d="M1686 166l11-8 4-1-11 11z"/><path fill="#00fc90" d="M1696 160l10-15 5 5-11 8z"/><path fill="#00fc60" d="M1705 146l9-7 5 2-9 10z"/><path fill="#00fc24" d="M1713 140l12-12 5-1-12 15z"/><path fill="#18fc00" d="M1724 129l11-12 4-1-10 13z"/><path fill="#48fc00" d="M1734 118l9-13 4-1-9 13z"/><path fill="#78fc00" d="M1742 106l12-6 4-3-12 8z"/><path fill="#90fc00" d="M1752 100l11-3 5-2-11 3z"/><path fill="#a8fc00" d="M1762 97l10-8 5-1-10 8z"/><path fill="#c0fc00" d="M1771 90l14-7 5-4-14 10z"/><path fill="#d8fc00" d="M1784 83l7-2 5-2-7 0zM1790 81l10 1 5-4-11 1z"/><path fill="none" stroke="#8a8a8a" stroke-width="0.9" d="M1515.7 220.2l3 2.9M1550.7 218.4l3.1-.7M1584.9 202.1l3.4 4.1M1610.8 195.7l3.6 1.8M1647.7 186.3l3.7-.8M1680.9 172.4l4 1.9M1714 139.3l4.2 2.3M1742.4 105.7l4.5-1M1784.4 83.1l4.7-3.3"/><path fill="#0030fc" d="M1472 229l12-3 3 3-12 3zM1482 226l12 1 3 1-12 1zM1493 227l11-2 3 3-11 1zM1503 225l11-2 4 4-12 1zM1513 223l6-1 3 5-5 1zM1518 223l6-1 4 3-7 2zM1523 223l12-2 3 3-12 1zM1533 221l12-1 3 2-11 2z"/><path fill="#003cfc" d="M1543 221l11-4 4 3-11 2z"/><path fill="#0048fc" d="M1553 218l12-4 3 3-12 4z"/><path fill="#0054fc" d="M1563 214l12-4 3 3-11 4z"/><path fill="#0060fc" d="M1573 211l11-5 4 3-11 5z"/><path fill="#006cfc" d="M1583 206l6-1 3 4-5 1z"/><path fill="#0078fc" d="M1588 206l6-2 4 3-7 3zM1593 205l11-5 4 4-11 4z"/><path fill="#0084fc" d="M1603 201l12-4 4 5-12 3z"/><path fill="#009cfc" d="M1614 197l10-3 4 4-10 4z"/><path fill="#00a8fc" d="M1622 194l11-3 4 4-11 4z"/><path fill="#00c0fc" d="M1632 192l11-4 4 3-11 4z"/><path fill="#00ccfc" d="M1642 188l10-3 4 3-10 3z"/><path fill="#00e4fc" d="M1651 186l11-5 5 4-12 3z"/><path fill="#00f0fc" d="M1661 181l11-4 4 6-11 3z"/><path fill="#00fcfc" d="M1671 178l14-4 5 3-15 6z"/><path fill="#00fce4" d="M1684 174l7-7 4 6-6 5z"/><path fill="#00fcb4" d="M1690 168l11-11 4 5-11 12z"/><path fill="#00fc84" d="M1700 158l10-8 5 1-11 12z"/><path fill="#00fc60" d="M1709 151l9-10 5 4-9 7z"/><path fill="#00fc24" d="M1718 142l11-15 5 4-12 15z"/><path fill="#18fc00" d="M1728 128l11-12 5 2-11 14z"/><path fill="#54fc00" d="M1738 117l9-13 5 4-9 11z"/><path fill="#78fc00" d="M1746 105l12-8 5 6-12 6z"/><path fill="#90fc00" d="M1757 98l10-3 5 2-10 7z"/><path fill="#a8fc00" d="M1766 96l11-8 5 2-11 7z"/><path fill="#ccfc00" d="M1776 89l14-10 4 5-13 7z"/><path fill="#e4fc00" d="M1788 80l7-1 6 4-7 1zM1794 79l11-1 5 4-11 1z"/><path fill="none" stroke="#8a8a8a" stroke-width="0.9" d="M1518.7 223.1l3 3.2M1553.8 217.7l3.2 2.5M1588.3 206.2l3.5 2.8M1614.4 197.5l3.6 4.1M1651.4 185.5l3.9 2.3M1684.9 174.3l4 2.9M1718.2 141.6l4.3 3.4M1746.9 104.7l4.4 3.5M1789.1 79.8l4.6 4"/><path fill="#0030fc" d="M1475 231l11-2 4 7-12 1zM1485 229l12-1 3 5-12 3zM1496 228l11-1 3 6-11 1zM1506 227l11 0 4 6-12 0zM1516 227l6-1 3 6-5 1zM1521 226l6-2 4 6-6 2zM1526 225l12-2 3 6-11 2zM1536 223l12-2 3 7-11 1zM1547 221l11-1 3 6-11 3z"/><path fill="#003cfc" d="M1556 220l12-4 4 8-12 2z"/><path fill="#0054fc" d="M1567 217l11-4 3 1-10 11z"/><path fill="#006cfc" d="M1577 214l11-5 4 5-12 0zM1587 209l5-1 4 6-5 0zM1591 209l6-3 5 6-7 3z"/><path fill="#0078fc" d="M1597 207l11-3 4 3-12 5z"/><path fill="#0084fc" d="M1606 204l13-3 3 3-12 3z"/><path fill="#0090fc" d="M1617 202l10-5 4 5-10 2z"/><path fill="#00a8fc" d="M1626 198l11-4 4 3-11 6z"/><path fill="#00b4fc" d="M1636 195l11-5 4 7-11 1z"/><path fill="#00c0fc" d="M1646 191l10-4 4 7-10 3z"/><path fill="#00d8fc" d="M1655 188l11-3 4 6-11 4z"/><path fill="#00e4fc" d="M1665 185l11-3 4 3-11 6z"/><path fill="#00fcfc" d="M1675 183l14-6 5 2-15 7z"/><path fill="#00fce4" d="M1688 177l7-5 5 1-7 7z"/><path fill="#00fcc0" d="M1694 173l11-11 4 2-10 10z"/><path fill="#00fc90" d="M1704 163l10-13 5 6-11 9z"/><path fill="#00fc60" d="M1713 151l10-7 4 3-9 10z"/><path fill="#00fc30" d="M1722 145l12-15 4 4-12 14z"/><path fill="#18fc00" d="M1733 131l10-13 5 4-11 13z"/><path fill="#48fc00" d="M1742 119l9-11 5 6-9 10z"/><path fill="#6cfc00" d="M1751 108l11-5 5 6-12 5z"/><path fill="#84fc00" d="M1761 104l11-8 5 7-11 6z"/><path fill="#a8fc00" d="M1771 97l10-7 5 7-10 6z"/><path fill="#c0fc00" d="M1780 90l14-7 5 8-14 7z"/><path fill="#ccfc00" d="M1793 83l7-1 5 7-7 2z"/><path fill="#d8fc00" d="M1799 82l11-1 5 3-11 6z"/><path fill="none" stroke="#8a8a8a" stroke-width="0.9" d="M1521.7 226.3l3.1 5.1M1557 220.2l3.3 5.5M1591.8 209l3.5 5.1M1618 201.6l3.6 2M1655.3 187.8l3.9 6.4M1688.9 177.2l4.1 2M1722.5 145l4.3 1.9M1751.3 108.2l4.4 5.6M1793.7 83.8l4.7 6.9"/><path fill="#0030fc" d="M1478 237l12-2 2 2-12 2zM1488 236l12-3 3 6-12-2zM1498 233l12-1 3 5-11 2zM1509 232l12 0 3 3-12 2zM1519 232l6-1 4 3-6 1zM1524 231l7-2 3 3-6 2zM1529 230l12-2 3 4-11 1zM1540 228l11 0 4 2-12 2zM1550 228l11-3 3 3-11 3z"/><path fill="#003cfc" d="M1560 226l12-2 3-1-12 6z"/><path fill="#0054fc" d="M1570 224l11-11 4 8-11 3z"/><path fill="#0060fc" d="M1580 214l11-1 4 4-11 4z"/><path fill="#006cfc" d="M1590 214l6-1 4 2-6 2zM1595 214l6-3 4 3-7 2z"/><path fill="#0078fc" d="M1600 212l11-6 4 7-11 2z"/><path fill="#0084fc" d="M1610 207l12-4 4 5-12 6z"/><path fill="#0090fc" d="M1621 203l10-1 4 7-10-1z"/><path fill="#009cfc" d="M1630 202l11-5 4 5-11 7z"/><path fill="#00b4fc" d="M1640 197l11-1 4 3-11 4zM1649 196l11-2 4 4-10 1z"/><path fill="#00c0fc" d="M1658 194l12-4 5 4-12 4z"/><path fill="#00e4fc" d="M1669 191l11-6 4 5-11 5z"/><path fill="#00fcfc" d="M1679 185l15-6 4 3-15 8z"/><path fill="#00fce4" d="M1692 179l7-6 5 5-7 5z"/><path fill="#00fcc0" d="M1698 174l11-10 5 6-11 9z"/><path fill="#00fc9c" d="M1708 165l11-9 4 7-11 7z"/><path fill="#00fc6c" d="M1718 156l9-10 5 10-10 7z"/><path fill="#00fc3c" d="M1726 147l12-13 5 9-12 14z"/><path fill="#00fc00" d="M1737 135l11-13 4 8-10 14z"/><path fill="#3cfc00" d="M1747 123l9-10 5 8-9 10z"/><path fill="#54fc00" d="M1755 114l12-6 5 8-12 5z"/><path fill="#6cfc00" d="M1766 109l10-7 5 11-10 4z"/><path fill="#84fc00" d="M1775 103l11-7 5 9-11 8z"/><path fill="#a8fc00" d="M1785 97l14-7 5 7-14 9z"/><path fill="#b4fc00" d="M1798 90l7-2 5 9-7 1z"/><path fill="#c0fc00" d="M1804 89l10-6 5 9-10 6z"/><path fill="none" stroke="#8a8a8a" stroke-width="0.9" d="M1524.8 231.4l3.1 2.2M1560.3 225.7l3.4 2.7M1595.3 214.1l3.5 1M1621.6 203.6l3.8 4.1M1659.2 194.2l3.9 3.6M1693 179.2l4.1 3.4M1726.8 146.9l4.2 9.4M1755.7 113.8l4.4 6.9M1798.4 90.7l4.6 6.7"/><path fill="#0030fc" d="M1480 239l12-3 3 6-11 2zM1491 237l12 1 3 3-12 1zM1512 236l12-2 3 6-12 0zM1522 234l6-1 4 6-6 1zM1527 233l7-1 3 7-6 1zM1533 232l11-1 4 5-12 3zM1543 231l11-1 4 3-12 3zM1553 230l11-2 4 7-11-1zM1563 228l12-5 3 8-11 4z"/><path fill="#0024fc" d="M1501 238l12-2 3 3-11 2z"/><path fill="#0048fc" d="M1573 223l12-3 4 5-12 6z"/><path fill="#0054fc" d="M1584 220l11-4 4 5-12 5z"/><path fill="#006cfc" d="M1594 216l5-2 4 5-5 3zM1598 215l7-1 4 4-7 2zM1604 214l11-1 4 1-12 4z"/><path fill="#0078fc" d="M1614 213l12-6 4 6-13 2z"/><path fill="#0084fc" d="M1625 208l10 0 4 1-10 4z"/><path fill="#0090fc" d="M1634 208l11-6 4 6-12 1z"/><path fill="#00a8fc" d="M1643 202l12-4 4 7-11 4z"/><path fill="#00b4fc" d="M1653 199l11-2 4 5-10 3z"/><path fill="#00c0fc" d="M1662 198l12-4 5 3-12 6z"/><path fill="#00d8fc" d="M1673 194l11-5 4 7-11 2z"/><path fill="#00f0fc" d="M1683 190l15-8 4 7-15 7z"/><path fill="#00fcf0" d="M1696 182l7-4 5 5-7 7z"/><path fill="#00fccc" d="M1702 178l11-9 5 6-11 9z"/><path fill="#00fca8" d="M1712 170l11-8 5 6-11 7z"/><path fill="#00fc84" d="M1722 163l9-7 5 4-9 8z"/><path fill="#00fc54" d="M1730 157l12-15 5 5-12 13z"/><path fill="#00fc18" d="M1741 143l11-13 5 6-11 12z"/><path fill="#24fc00" d="M1751 131l9-11 5 5-9 12z"/><path fill="#48fc00" d="M1759 121l12-5 5 4-12 6z"/><path fill="#60fc00" d="M1770 116l11-4 5 2-11 6z"/><path fill="#78fc00" d="M1780 113l11-9 5 5-11 6z"/><path fill="#90fc00" d="M1789 105l14-8 6 5-14 8z"/><path fill="#a8fc00" d="M1802 97l7-1 6 4-7 3zM1808 97l11-6 5 10-10 0z"/><path fill="none" stroke="#8a8a8a" stroke-width="0.9" d="M1527.9 233.6l3.2 5.5M1563.7 228.4l3.4 6.1M1598.8 215.1l3.6 3.8M1625.4 207.7l3.7 4.8M1663.1 197.8l4 4.4M1697.1 182.6l4.2 6.6M1731 156.3l4.4 3.5M1760.1 120.7l4.6 4.3M1803 97.4l4.8 5"/><path fill="#0024fc" d="M1483 244l12-2 3 3-12 2zM1530 239l7-1 3 3-6 0zM1536 239l11-4 4 6-12 0z"/><path fill="#0030fc" d="M1494 242l12-1 3 1-12 3zM1504 241l12-2 3 3-12 0zM1515 239l12 0 3 1-12 2zM1525 239l7 0 3 1-6 1zM1546 236l12-3 3 6-11 2zM1556 233l12 1 3 3-11 2zM1566 235l12-5 4 4-12 3z"/><path fill="#003cfc" d="M1577 231l11-6 4 5-11 4z"/><path fill="#0054fc" d="M1587 225l11-4 4 4-11 6z"/><path fill="#0060fc" d="M1597 221l6-3 4 6-6 2zM1602 219l6-2 4 6-6 1z"/><path fill="#006cfc" d="M1607 217l11-3 5 10-12-1zM1617 214l13-2 4 7-13 5z"/><path fill="#0084fc" d="M1628 212l10-4 5 7-10 4zM1637 209l12-1 4 4-11 3z"/><path fill="#0090fc" d="M1647 208l12-4 4 5-11 3z"/><path fill="#009cfc" d="M1657 205l10-3 5 8-11 0z"/><path fill="#00b4fc" d="M1666 202l12-5 5 5-12 9z"/><path fill="#00ccfc" d="M1677 197l11-2 5 2-12 6z"/><path fill="#00e4fc" d="M1687 196l15-7 4 5-15 3z"/><path fill="#00fcfc" d="M1701 189l6-7 5 9-7 3z"/><path fill="#00fcd8" d="M1706 183l11-9 5 6-11 12z"/><path fill="#00fcb4" d="M1716 175l11-8 5 3-11 11z"/><path fill="#00fc90" d="M1726 168l10-9 5 6-10 6z"/><path fill="#00fc54" d="M1735 160l12-13 5 2-12 17z"/><path fill="#00fc24" d="M1746 148l10-12 5 5-10 9z"/><path fill="#18fc00" d="M1756 137l9-13 5 8-9 10z"/><path fill="#30fc00" d="M1764 125l12-6 5 9-12 5z"/><path fill="#54fc00" d="M1775 120l11-7 5 5-11 11z"/><path fill="#6cfc00" d="M1785 114l10-5 5 9-10 1z"/><path fill="#84fc00" d="M1794 109l14-7 5 6-14 10z"/><path fill="#90fc00" d="M1807 102l7-2 5 9-7 0z"/><path fill="#9cfc00" d="M1813 100l11 0 5 4-10 5z"/><path fill="none" stroke="#8a8a8a" stroke-width="0.9" d="M1531.1 239.1l3.2 1.3M1567.1 234.5l3.4 2.1M1602.4 218.9l3.7 4.7M1629.1 212.5l3.8 5.9M1667.1 202.2l4 7.9M1701.3 189.2l4.2 4.4M1735.4 159.8l4.4 5.1M1764.7 125l4.6 6.9M1807.8 102.4l4.8 5.8"/><path fill="#0024fc" d="M1486 246l12-2 3 7-12 2zM1497 244l12-3 3 8-12 3zM1534 240l6 0 4 8-7-1zM1539 241l12-1 3 5-11 3zM1549 241l12-3 4 5-12 3z"/><path fill="#0030fc" d="M1507 242l12-1 4 6-12 2zM1518 242l12-2 3 6-12 2zM1529 240l5 0 4 7-6 0zM1560 238l11-2 4 6-12 1zM1570 237l12-4 3 5-11 5z"/><path fill="#003cfc" d="M1580 234l12-4 4 2-12 6z"/><path fill="#0048fc" d="M1591 230l11-5 4 7-12 1z"/><path fill="#0054fc" d="M1601 225l5-2 4 7-5 2zM1605 223l7-1 4 6-6 2z"/><path fill="#0060fc" d="M1611 223l12 0 3 2-11 3zM1621 223l12-5 5 4-13 4z"/><path fill="#0078fc" d="M1632 218l10-4 5 6-11 3z"/><path fill="#0084fc" d="M1641 215l12-4 4 4-12 5z"/><path fill="#0090fc" d="M1651 212l12-4 4 4-12 3zM1661 209l11 1 4 2-11 1z"/><path fill="#009cfc" d="M1670 210l12-8 5 5-12 6z"/><path fill="#00c0fc" d="M1681 202l11-6 5 6-11 6z"/><path fill="#00d8fc" d="M1691 197l15-4 5 6-16 4z"/><path fill="#00f0fc" d="M1705 194l7-4 5 3-7 7z"/><path fill="#00fcf0" d="M1711 191l11-11 4 6-11 8z"/><path fill="#00fcc0" d="M1721 181l10-12 5 7-11 11z"/><path fill="#00fc9c" d="M1730 170l10-6 5 7-10 6z"/><path fill="#00fc6c" d="M1739 165l12-16 5 10-12 13z"/><path fill="#00fc30" d="M1750 149l11-9 5 7-11 13z"/><path fill="#00fc00" d="M1760 141l9-10 6 4-10 13z"/><path fill="#24fc00" d="M1769 132l12-4 5 3-12 5z"/><path fill="#3cfc00" d="M1780 128l10-10 5 10-10 3z"/><path fill="#54fc00" d="M1789 118l11-1 5 7-11 5z"/><path fill="#60fc00" d="M1799 117l14-9 5 10-14 6z"/><path fill="#78fc00" d="M1812 108l7 0 5 9-7 2z"/><path fill="#84fc00" d="M1818 108l11-5 5 11-11 3z"/><path fill="none" stroke="#8a8a8a" stroke-width="0.9" d="M1534.3 240.4l3.3 6.1M1570.5 236.6l3.5 5.6M1606.1 223.6l3.7 5.7M1632.9 218.4l3.9 4M1671.1 210.1l4.1 1.9M1705.5 193.6l4.3 5.7M1739.8 164.9l4.5 6M1769.3 131.9l4.7 3.9M1812.6 108.2l4.8 9.7"/><path fill="#0024fc" d="M1489 252l12-1 3 2-12 1zM1500 251l12-3 3 5-12 0zM1511 248l12-1 3 4-12 2zM1521 247l12-1 4 5-13 0zM1532 246l6 0 4 5-6 1zM1537 246l7 1 3 4-6 1zM1542 247l12-2 4 4-12 2zM1553 245l12-3 3 6-12 1zM1563 243l12-1 3 5-11 2zM1573 242l12-5 4 7-12 3z"/><path fill="#0030fc" d="M1584 238l11-6 4 9-11 4z"/><path fill="#003cfc" d="M1594 232l12-1 4 4-12 6z"/><path fill="#0048fc" d="M1604 232l6-3 4 3-5 3z"/><path fill="#0054fc" d="M1609 229l7-2 4 5-7 1z"/><path fill="#0060fc" d="M1615 228l11-3 4 3-11 4zM1625 225l12-3 4 4-12 3z"/><path fill="#006cfc" d="M1636 222l10-3 5 4-11 3z"/><path fill="#0078fc" d="M1645 220l11-6 5 4-12 5z"/><path fill="#0084fc" d="M1655 215l12-3 4 8-12-1zM1665 212l11-1 4 7-10 2z"/><path fill="#009cfc" d="M1674 212l12-5 5 4-12 7z"/><path fill="#00b4fc" d="M1685 207l11-5 5 8-11 2z"/><path fill="#00ccfc" d="M1695 202l15-3 5 2-15 9z"/><path fill="#00e4fc" d="M1709 200l7-8 5 6-7 4z"/><path fill="#00fcf0" d="M1715 193l11-7 5 5-11 8z"/><path fill="#00fccc" d="M1725 187l11-11 5 8-11 8z"/><path fill="#00fca8" d="M1735 176l10-6 5 3-10 12z"/><path fill="#00fc78" d="M1744 171l12-12 5 6-12 9z"/><path fill="#00fc48" d="M1755 160l11-14 5 11-11 9z"/><path fill="#00fc18" d="M1765 147l9-12 5 12-9 10z"/><path fill="#0cfc00" d="M1773 136l12-6 5 11-12 7z"/><path fill="#24fc00" d="M1784 130l11-3 5 9-11 5z"/><path fill="#30fc00" d="M1794 128l11-5 5 8-11 5z"/><path fill="#48fc00" d="M1804 123l14-6 5 10-14 5z"/><path fill="#54fc00" d="M1817 117l7-1 5 10-7 2zM1823 116l10-3 6 13-11 0z"/><path fill="none" stroke="#8a8a8a" stroke-width="0.9" d="M1537.6 246.5l3.3 4.6M1574 242.2l3.5 4.3M1609.8 229.3l3.7 2.8M1636.8 222.4l3.9 3.3M1675.2 212l4.1 5.5M1709.8 199.3l4.4 2.1M1744.3 170.9l4.6 2.5M1774 135.8l4.5 11.6M1817.4 117.9l4.8 9.2"/><path fill="#0024fc" d="M1492 253l12 0 4 5-13 2zM1503 253l12-1 3 2-12 4zM1514 252l12-2 3 7-12-2zM1524 250l12 1 4 3-12 3zM1535 251l6-1 4 4-6 1zM1540 251l7-1 3 5-6 0zM1546 251l12-3 3 4-12 3zM1556 248l12 0 4 5-12-1zM1567 248l11-2 4 5-12 2zM1577 246l12-2 4 2-12 5z"/><path fill="#0030fc" d="M1588 244l11-4 4 3-12 4z"/><path fill="#003cfc" d="M1598 240l11-6 4 5-11 5z"/><path fill="#0048fc" d="M1608 234l6-3 4 8-5 1zM1613 232l6-1 5 6-7 3z"/><path fill="#0054fc" d="M1618 231l12-3 4 5-11 4z"/><path fill="#0060fc" d="M1629 228l12-3 4 4-12 4z"/><path fill="#006cfc" d="M1640 226l10-4 5 9-11-2zM1649 222l11-4 5 8-11 6z"/><path fill="#0078fc" d="M1659 218l12 1 4 5-11 3zM1669 220l11-3 4 5-10 2z"/><path fill="#0084fc" d="M1679 217l12-6 4 9-12 3z"/><path fill="#009cfc" d="M1690 211l11-2 4 3-11 9z"/><path fill="#00c0fc" d="M1699 210l16-9 4 7-15 4z"/><path fill="#00d8fc" d="M1713 201l7-4 5 7-7 5z"/><path fill="#00fcfc" d="M1719 198l11-7 5 3-11 10z"/><path fill="#00fcd8" d="M1729 191l11-8 5 3-11 9z"/><path fill="#00fcb4" d="M1739 184l10-11 5 10-10 4z"/><path fill="#00fc90" d="M1748 173l12-9 5 5-12 15z"/><path fill="#00fc60" d="M1759 165l11-9 5 7-11 7z"/><path fill="#00fc3c" d="M1769 157l10-10 5 6-10 11z"/><path fill="#00fc18" d="M1778 147l12-7 5 11-12 3z"/><path fill="#00fc00" d="M1789 141l11-6 5 6-11 10z"/><path fill="#18fc00" d="M1799 135l11-5 5 10-11 2z"/><path fill="#24fc00" d="M1809 131l14-5 5 10-14 4z"/><path fill="#30fc00" d="M1822 127l7-2 5 9-7 2z"/><path fill="#3cfc00" d="M1828 125l10 0 6 7-11 2z"/><path fill="none" stroke="#8a8a8a" stroke-width="0.9" d="M1540.9 251.1l3.3 2.9M1577.5 246.5l3.6 4.2M1613.5 232.1l3.8 6.8M1640.7 225.7l4 3M1679.3 217.5l4.2 4.6M1714.2 201.4l4.3 6.6M1748.9 173.4l4.5 9.7M1778.5 147.4l4.8 6.2M1822.2 127.1l4.9 8.3"/><path fill="#0024fc" d="M1495 260l12-3 4 6-13 1zM1506 257l12-3 4 8-13 2zM1517 254l12 2 3 4-12 2zM1528 256l12-2 3 6-12 0zM1538 254l6-1 4 6-6 2zM1544 254l6 0 4 3-7 3zM1549 254l12-2 4 8-13-3zM1560 252l12 0 3 4-12 4zM1570 253l12-3 3 5-11 1zM1580 251l12-5 4 5-12 5z"/><path fill="#0030fc" d="M1591 246l12-3 4 6-12 2zM1602 243l11-4 4 4-11 6z"/><path fill="#003cfc" d="M1612 239l6-1 4 3-6 3z"/><path fill="#0048fc" d="M1617 239l6-3 5 3-7 3z"/><path fill="#0054fc" d="M1622 237l12-5 4 4-12 3zM1633 233l12-5 4 10-12-2zM1644 228l10 2 5 7-11 1z"/><path fill="#0060fc" d="M1653 231l11-5 5 6-11 5z"/><path fill="#006cfc" d="M1663 226l12-3 4 5-11 5z"/><path fill="#0078fc" d="M1674 224l10-2 4 4-10 2z"/><path fill="#0084fc" d="M1683 222l12-3 5 1-13 7z"/><path fill="#0090fc" d="M1694 220l11-9 5 8-12 2z"/><path fill="#00b4fc" d="M1704 212l15-4 5 4-16 7z"/><path fill="#00ccfc" d="M1718 208l7-5 5 6-7 4z"/><path fill="#00f0fc" d="M1724 204l11-10 5 5-11 11z"/><path fill="#00fce4" d="M1734 195l11-10 5 8-11 6z"/><path fill="#00fccc" d="M1744 186l10-4 5 13-10-2z"/><path fill="#00fca8" d="M1753 183l12-14 5 11-12 15z"/><path fill="#00fc78" d="M1764 170l11-8 5 8-11 11z"/><path fill="#00fc54" d="M1774 163l9-10 6 9-10 9z"/><path fill="#00fc30" d="M1783 153l12-3 5 9-12 4z"/><path fill="#00fc18" d="M1794 150l11-10 5 14-11 6z"/><path fill="#00fc0c" d="M1804 141l10-2 6 11-11 4z"/><path fill="#0cfc00" d="M1813 139l15-4 5 8-14 7z"/><path fill="#18fc00" d="M1827 135l7-3 5 15-7-4zM1833 133l10-2 6 11-11 5z"/><path fill="none" stroke="#8a8a8a" stroke-width="0.9" d="M1544.2 254l3.4 5M1581.1 250.7l3.6 4.4M1617.3 238.9l3.9 2M1644.7 228.7l4 8.9M1683.5 222.1l4.2 4.2M1718.5 208l4.5 4.2M1753.4 183.1l4.5 11M1783.3 153.6l4.7 8.6M1827.1 135.4l5 7.3"/><path fill="#0018fc" d="M1498 263l13 0 3 5-12 4zM1542 260l6-2 4 7-6 1z"/><path fill="#0024fc" d="M1509 263l12-2 4 4-12 3zM1520 261l12-2 4 6-13 0zM1531 259l12 1 4 6-13-1zM1547 259l6-3 4 8-6 2zM1552 257l13 2 3 1-12 4zM1563 259l12-4 4 5-12 0zM1574 255l11 0 4 6-11-1zM1584 255l12-5 4 6-12 5zM1595 251l12-3 4 4-12 5z"/><path fill="#0030fc" d="M1605 249l12-7 4 7-12 3z"/><path fill="#003cfc" d="M1616 243l5-3 5 8-6 2zM1620 241l7-3 5 8-7 2z"/><path fill="#0048fc" d="M1626 239l12-4 4 9-12 2zM1637 236l12 1 4 5-12 2zM1648 237l11-1 4 4-11 2z"/><path fill="#0054fc" d="M1657 236l12-5 4 7-11 2z"/><path fill="#0060fc" d="M1667 232l12-5 4 6-11 6z"/><path fill="#006cfc" d="M1678 227l10-1 5 5-11 3z"/><path fill="#0078fc" d="M1687 226l12-6 5 8-12 3z"/><path fill="#0084fc" d="M1698 220l11-2 5 5-11 6z"/><path fill="#009cfc" d="M1708 219l15-7 5 8-15 4z"/><path fill="#00b4fc" d="M1722 212l7-4 5 6-7 6z"/><path fill="#00e4fc" d="M1728 209l11-11 6 8-12 8z"/><path fill="#00fcf0" d="M1738 199l12-7 5 4-11 10z"/><path fill="#00fcd8" d="M1749 193l10 1 5-1-11 4z"/><path fill="#00fcc0" d="M1757 195l13-16 5 5-13 9z"/><path fill="#00fc90" d="M1769 180l11-10 5 4-11 11z"/><path fill="#00fc60" d="M1779 171l9-10 6 6-10 8z"/><path fill="#00fc48" d="M1787 162l13-3 5 6-13 3z"/><path fill="#00fc3c" d="M1798 159l11-6 6 4-11 9z"/><path fill="#00fc24" d="M1808 154l11-5 6 8-11 1z"/><path fill="#00fc0c" d="M1818 150l15-8 5 6-14 10z"/><path fill="#00fc00" d="M1831 142l8 4 5 2-7 1zM1838 146l11-5 5 3-11 5z"/><path fill="none" stroke="#8a8a8a" stroke-width="0.9" d="M1547.6 259l3.5 6M1584.7 255.1l3.7 5.4M1621.2 240.9l3.9 6.3M1648.7 237.6l4.1 4.3M1687.7 226.3l4.4 4.6M1723 212.2l4.5 7.4M1757.9 194.1l4.9-1.4M1788 162.2l4.9 5M1832.1 142.7l5.2 5.5"/><path fill="#0018fc" d="M1502 271l12-4 3 5-12 4zM1512 268l13-4 3 7-12 1zM1523 265l13-1 3 6-12 1zM1534 264l13 1 3 1-12 4zM1545 265l7 0 3 0-6 1zM1577 260l12 0 4 3-12 3z"/><path fill="#0024fc" d="M1550 265l7-2 4 2-7 0zM1556 264l12-5 4 7-13-1zM1567 260l12-1 4 6-13 2zM1588 261l12-5 4 2-12 5zM1599 256l11-5 4 2-11 6z"/><path fill="#0030fc" d="M1609 252l12-4 4 5-12 0zM1620 248l5-2 5 8-6 0zM1624 247l7-2 5 8-7 2z"/><path fill="#003cfc" d="M1630 246l12-3 4 2-11 8z"/><path fill="#0048fc" d="M1641 244l12-2 5 1-13 3zM1652 242l11-2 4 0-11 4z"/><path fill="#0054fc" d="M1661 240l12-2 4 2-11 0zM1672 238l11-5 5 5-12 3z"/><path fill="#0060fc" d="M1682 233l10-3 5 8-10 0z"/><path fill="#006cfc" d="M1691 231l13-3 4 0-12 10z"/><path fill="#0084fc" d="M1702 228l12-5 5 0-12 6z"/><path fill="#009cfc" d="M1713 223l15-4 5 3-16 2z"/><path fill="#00a8fc" d="M1727 220l7-7 5 5-7 5z"/><path fill="#00ccfc" d="M1733 214l11-9 5 8-11 6z"/><path fill="#00fcfc" d="M1743 206l11-10 5 11-11 7z"/><path fill="#00fce4" d="M1753 196l10-4 5 10-10 5z"/><path fill="#00fccc" d="M1762 193l12-10 6 8-13 11z"/><path fill="#00fc9c" d="M1773 184l11-10 6 5-11 12z"/><path fill="#00fc6c" d="M1783 175l10-8 6 8-10 5z"/><path fill="#00fc60" d="M1792 167l13-3 5 7-13 4z"/><path fill="#00fc48" d="M1803 165l11-8 6 7-11 7z"/><path fill="#00fc3c" d="M1813 157l11-1 6 9-11 0z"/><path fill="#00fc24" d="M1823 157l15-9 5 7-14 10z"/><path fill="#00fc0c" d="M1837 148l7-1 6 8-8 1zM1843 148l11-4 5 8-10 3z"/><path fill="none" stroke="#8a8a8a" stroke-width="0.9" d="M1551.1 265l3.4-.2M1588.4 260.5l3.7 2.3M1625.1 247.2l4 6.8M1652.8 241.9l4.1 1.2M1692.1 230.9l4.3 6.8M1727.5 219.6l4.6 2.2M1762.8 192.7l4.7 9.1M1792.9 167.2l4.9 7.4M1837.3 148.2l5.1 6.7"/><path fill="#0018fc" d="M1505 275l12-4 3 1-12 4zM1559 264l13 2 3 5-12 1zM1570 266l12-1 4 2-12 4zM1581 265l12-3 4 7-12-1z"/><path fill="#0024fc" d="M1516 272l12-2 3 2-12 1zM1527 271l12-2 3 0-12 3zM1538 270l12-5 4 5-13-1zM1549 265l6-1 4 7-6 0zM1554 264l6 0 4 8-6 0zM1591 263l13-5 4 7-13 5zM1602 258l12-6 4 9-11 5z"/><path fill="#0030fc" d="M1613 253l12 0 4 4-12 5zM1624 253l6 0 4 0-6 5zM1628 254l8-1 4-2-8 2z"/><path fill="#003cfc" d="M1634 253l12-8 4 5-12 1z"/><path fill="#0048fc" d="M1645 245l12-2 5 4-13 4zM1656 243l11-4 4 11-10-2zM1666 240l11 0 5 6-12 4z"/><path fill="#0054fc" d="M1676 240l11-3 5 7-11 3zM1686 237l11 0 5 5-11 2z"/><path fill="#0060fc" d="M1696 238l12-10 5 9-13 5z"/><path fill="#0084fc" d="M1707 228l11-5 5 8-11 6z"/><path fill="#0090fc" d="M1717 224l16-3 4 5-15 6z"/><path fill="#00a8fc" d="M1731 222l7-4 6 3-7 6z"/><path fill="#00c0fc" d="M1738 218l11-5 5 3-11 6z"/><path fill="#00e4fc" d="M1748 213l11-7 5 4-11 7z"/><path fill="#00fcf0" d="M1758 207l10-6 5 0-10 9z"/><path fill="#00fccc" d="M1767 202l12-12 6 3-13 9z"/><path fill="#00fca8" d="M1778 191l11-12 6 7-11 8z"/><path fill="#00fc84" d="M1788 179l10-5 6 5-10 8z"/><path fill="#00fc6c" d="M1797 175l13-5 5 2-13 8z"/><path fill="#00fc54" d="M1808 171l12-7 5 4-11 5z"/><path fill="#00fc3c" d="M1818 164l12 0 5-2-11 7z"/><path fill="#00fc30" d="M1828 165l15-11 6 4-15 5z"/><path fill="#00fc18" d="M1842 155l7-2 6 4-7 2zM1848 154l11-3 6 6-11 1z"/><path fill="none" stroke="#8a8a8a" stroke-width="0.9" d="M1554.5 264.8l3.6 6.1M1592.1 262.8l3.8 6.1M1629.1 254l4-1M1656.9 243.1l4.2 4.2M1696.4 237.7l4.4 4.1M1732.1 221.8l4.6 4M1767.5 201.8l4.9-.2M1797.8 174.6l5.1 4.5M1842.4 154.9l5.4 3.2"/><path fill="#0024fc" d="M1508 276l12-4 4 7-13-1zM1519 272l12-1 4 6-13 2zM1530 271l12-3 4 11-12-2zM1541 269l12 1 4 5-12 4zM1552 270l6 0 4 4-6 1zM1606 265l12-5 4 3-12 5z"/><path fill="#0018fc" d="M1557 271l7 0 4 3-7 0zM1563 271l12-1 4 5-12-1zM1574 270l12-3 4 5-12 3zM1585 267l12 2 3 5-11-2zM1595 269l13-4 4 3-13 6z"/><path fill="#0030fc" d="M1617 261l12-4 4 2-12 5zM1628 257l5-5 5 5-6 3z"/><path fill="#003cfc" d="M1632 253l7-3 5 7-7 0zM1638 251l12-1 4 6-11 1zM1649 250l13-3 4 6-13 3z"/><path fill="#0048fc" d="M1660 247l11 3 5 0-11 3zM1670 250l12-4 4 1-12 3zM1680 246l12-3 5 3-12 2z"/><path fill="#0054fc" d="M1691 243l10-2 5 4-11 2z"/><path fill="#0060fc" d="M1700 242l13-6 4 6-12 3z"/><path fill="#0078fc" d="M1711 237l12-6 5 3-12 8z"/><path fill="#0090fc" d="M1722 231l15-6 5 3-16 6z"/><path fill="#00a8fc" d="M1736 226l7-5 5 4-7 4z"/><path fill="#00c0fc" d="M1742 222l12-7 5 4-12 7z"/><path fill="#00e4fc" d="M1752 216l12-7 5 3-11 8z"/><path fill="#00fcf0" d="M1763 210l10-9 5 4-10 8z"/><path fill="#00fccc" d="M1772 202l12-10 6 6-13 8z"/><path fill="#00fca8" d="M1783 193l11-8 6 4-11 10z"/><path fill="#00fc84" d="M1793 186l10-8 6 3-10 9z"/><path fill="#00fc6c" d="M1802 179l13-8 5 5-12 6z"/><path fill="#00fc54" d="M1814 172l11-4 5 6-11 2z"/><path fill="#00fc3c" d="M1824 168l11-6 5 4-11 9z"/><path fill="#00fc30" d="M1834 162l14-5 6 8-15 2z"/><path fill="#00fc24" d="M1847 158l7-2 6 5-7 5z"/><path fill="#00fc18" d="M1853 157l12-1 5 2-11 4z"/><path fill="none" stroke="#8a8a8a" stroke-width="0.9" d="M1558.1 270.9l3.5 2.8M1595.9 268.9l3.8 4.5M1633.1 253l4 3.7M1661.1 247.3l4.2 5.1M1700.8 241.8l4.5 3M1736.7 225.8l4.8 2.7M1772.4 201.6l5 3.5M1802.9 179.1l5.2 1.9M1847.8 158.1l5.3 6.9"/><path fill="#0024fc" d="M1511 277l13 1 3 2-13 3zM1522 278l13-2 3 4-12 1zM1556 275l6-2 4 4-6 2zM1561 273l7 0 4 3-7 2zM1610 268l12-5 4 3-12 7z"/><path fill="#0018fc" d="M1533 276l13 2 4 4-13-2zM1545 278l12-4 4 5-13 3zM1567 274l12 0 4 7-13-5zM1578 274l12-3 4 3-12 7zM1589 272l11 1 4 2-12-1zM1599 274l12-7 5 6-13 2z"/><path fill="#0030fc" d="M1621 263l12-5 4 8-12 1zM1632 259l5-3 5 7-6 4zM1636 256l7 0 5 5-7 2z"/><path fill="#003cfc" d="M1642 257l12-2 5 1-12 5z"/><path fill="#0048fc" d="M1653 256l13-4 4 1-13 4zM1665 252l10-3 5 9-11-5zM1674 250l12-3 5 6-12 5z"/><path fill="#0054fc" d="M1685 247l11-1 5 3-12 5zM1695 246l11-2 5 1-11 4z"/><path fill="#0060fc" d="M1705 245l12-4 5 0-13 5z"/><path fill="#006cfc" d="M1716 242l11-9 5 9-11 0z"/><path fill="#0090fc" d="M1726 234l16-6 5 2-16 13z"/><path fill="#00a8fc" d="M1741 229l7-5 5 4-7 3z"/><path fill="#00c0fc" d="M1747 225l11-7 6 6-12 4z"/><path fill="#00e4fc" d="M1757 219l12-8 5 3-11 10z"/><path fill="#00fcfc" d="M1768 212l10-8 5 11-10 0z"/><path fill="#00fcd8" d="M1777 205l12-7 6 3-13 14z"/><path fill="#00fcb4" d="M1788 199l11-11 6 6-11 8z"/><path fill="#00fc90" d="M1798 189l10-9 6 6-10 9z"/><path fill="#00fc6c" d="M1807 181l13-6 6 4-13 8z"/><path fill="#00fc60" d="M1819 176l11-3 6 8-12-1z"/><path fill="#00fc54" d="M1829 174l11-8 6 8-11 7z"/><path fill="#00fc3c" d="M1839 166l15-2 5 8-14 2zM1852 165l8-4 6 8-8 3z"/><path fill="#00fc24" d="M1859 161l11-4 6 8-11 5z"/><path fill="none" stroke="#8a8a8a" stroke-width="0.9" d="M1561.6 273.7l3.6 3.4M1599.7 273.4l3.9 1.6M1637.1 256.7l4.2 5.7M1665.3 252.4l4.3.6M1705.3 244.8l4.6.7M1741.5 228.5l4.8 1.6M1777.4 205.1l4.9 9.4M1808.1 181l5.1 5.6M1853.1 165l5.3 6.5"/><path fill="#0018fc" d="M1514 283l13-3 4 5-13 5zM1537 280l13 1 3 3-12 2zM1548 281l13-3 3 2-12 5zM1570 276l13 5 4 0-13 1zM1581 281l12-8 5 9-13-1zM1592 274l12 1 4 4-12 3zM1603 275l12-3 5 5-13 3z"/><path fill="#0024fc" d="M1526 280l12-1 4 7-13-1zM1559 279l7-3 4 4-7 1zM1565 277l6-1 4 6-7-1zM1614 273l12-7 5 8-13 3zM1625 266l12 0 4 1-12 8z"/><path fill="#0030fc" d="M1636 266l5-4 5 5-6 1zM1641 262l6-2 5 7-7 0zM1646 261l12-5 5 9-12 2z"/><path fill="#003cfc" d="M1657 256l13-4 5 11-13 2zM1669 253l11 4 4 4-10 3zM1678 258l12-5 5 2-12 6z"/><path fill="#0054fc" d="M1689 253l12-5 5 3-12 4zM1700 248l10-3 5 8-11-1z"/><path fill="#0060fc" d="M1709 245l13-4 5 8-13 4z"/><path fill="#0078fc" d="M1721 241l11 1 5-5-11 13z"/><path fill="#0084fc" d="M1731 242l16-13 5 11-16-3z"/><path fill="#009cfc" d="M1746 230l7-3 5 10-7 4z"/><path fill="#00b4fc" d="M1752 228l11-5 6 4-12 10z"/><path fill="#00e4fc" d="M1762 224l12-10 5 4-11 10z"/><path fill="#00fcfc" d="M1773 214l10 0 5 3-10 2z"/><path fill="#00fce4" d="M1782 215l12-14 6 6-13 11z"/><path fill="#00fcb4" d="M1793 202l12-9 5 6-11 9z"/><path fill="#00fc90" d="M1804 194l9-8 6 4-10 10z"/><path fill="#00fc78" d="M1812 187l13-8 6 10-13 2z"/><path fill="#00fc6c" d="M1824 179l11 1 6 2-11 7z"/><path fill="#00fc60" d="M1834 180l11-7 6 4-11 5z"/><path fill="#00fc48" d="M1844 174l15-3 6 1-15 6z"/><path fill="#00fc3c" d="M1858 172l7-4 7 0-8 5z"/><path fill="#00fc30" d="M1864 169l12-5 6 2-12 2z"/><path fill="none" stroke="#8a8a8a" stroke-width="0.9" d="M1565.2 277.1l3.7 3.1M1603.6 275l3.9 4.2M1641.3 262.4l4.1 4.1M1669.6 253l4.4 10.2M1709.9 245.5l4.6 7M1746.3 230.1l4.7 9.8M1782.3 214.5l5.1 2.6M1813.2 186.6l5.3 4.1M1858.4 171.5l5.7.8"/><path fill="#0018fc" d="M1518 289l12-5 4 7-13 0zM1529 284l13 1 3 5-12 1zM1540 285l13-1 4 3-13 3zM1552 284l12-4 4 7-13 0zM1568 280l7 1 4 6-7 0zM1574 281l13-1 3 4-12 3zM1585 281l13 0 4 2-13 2zM1596 282l12-3 4 3-12 1zM1607 279l12-3 5 3-13 4z"/><path fill="#0024fc" d="M1563 280l6-1 4 8-6 0zM1618 277l12-3 5 1-13 4z"/><path fill="#0030fc" d="M1629 274l12-7 5 1-13 8zM1640 267l6-1 4 3-5 0zM1645 266l7 0 4 3-7 0zM1651 266l12-2 4 0-12 5zM1661 265l14-2 4 4-13-3zM1673 263l11-3 5 1-11 7z"/><path fill="#0048fc" d="M1683 261l12-7 5 6-13 1zM1694 255l11-4 5 9-12 1z"/><path fill="#0054fc" d="M1704 251l11 1 5 4-11 4z"/><path fill="#0060fc" d="M1714 253l13-4 4-2-12 9z"/><path fill="#0078fc" d="M1725 250l12-13 5 9-12 2z"/><path fill="#0084fc" d="M1736 237l16 3 5 2-16 4z"/><path fill="#0090fc" d="M1750 240l8-4 5 0-7 7z"/><path fill="#00b4fc" d="M1757 237l11-11 6 3-12 8z"/><path fill="#00e4fc" d="M1767 227l12-9 5 7-11 5z"/><path fill="#00fcfc" d="M1778 218l10-2 5 2-10 8z"/><path fill="#00fce4" d="M1787 217l12-10 6 5-13 7z"/><path fill="#00fcc0" d="M1798 208l12-10 6 2-12 13z"/><path fill="#00fc9c" d="M1809 199l10-9 6 5-10 7z"/><path fill="#00fc84" d="M1818 191l13-3 5 2-13 6z"/><path fill="#00fc6c" d="M1829 189l12-8 6 2-12 8z"/><path fill="#00fc54" d="M1840 182l11-5 6 1-12 6z"/><path fill="#00fc48" d="M1850 178l15-6 5 9-15-2z"/><path fill="#00fc3c" d="M1863 172l8-5 6 7-8 8z"/><path fill="#00fc30" d="M1870 168l11-2 6 4-11 5z"/><path fill="none" stroke="#8a8a8a" stroke-width="0.9" d="M1568.9 280.2l3.8 6.3M1607.5 279.2l4 2.9M1645.4 266.5l4.3 2.3M1674 263.2l4.4 4M1714.5 252.5l4.7 3.2M1751 239.9l5 2M1787.4 217.1l5.2 1.1M1818.5 190.7l5.3 4.7M1864.1 172.3l5.4 8.8"/><path fill="#0024fc" d="M1521 291l13 0 3 0-13 1zM1622 279l12-4 5 1-12 10z"/><path fill="#0018fc" d="M1533 291l12-1 4 7-13-6zM1544 290l13-4 3 5-12 6zM1555 287l13-1 4 7-13-1zM1567 286l6 0 4 5-6 2zM1572 286l7 0 4 2-7 3zM1578 286l12-2 4 6-12-2zM1589 284l12-2 5 9-13-1zM1600 283l12-1 4 7-12 2zM1611 282l12-4 5 7-13 4z"/><path fill="#0030fc" d="M1633 276l12-8 5 6-12 3zM1644 268l6 0 5 5-6 2zM1649 269l7-1 5 4-7 1zM1655 269l12-6 5 8-12 1zM1666 263l13 4 5 5-14-1zM1678 267l10-7 5 8-10 4z"/><path fill="#003cfc" d="M1687 261l12-2 5 7-12 2z"/><path fill="#0048fc" d="M1698 260l12-1 5 1-12 6zM1709 259l11-4 5 5-11 1z"/><path fill="#0060fc" d="M1718 256l13-9 5 10-12 4z"/><path fill="#006cfc" d="M1730 247l12-2 5 9-12 4z"/><path fill="#0078fc" d="M1741 245l15-4 6 7-16 7z"/><path fill="#0084fc" d="M1755 242l7-6 6 10-7 3z"/><path fill="#00a8fc" d="M1762 236l11-7 6 6-12 12z"/><path fill="#00d8fc" d="M1772 230l12-6 5 2-11 10z"/><path fill="#00fcfc" d="M1783 225l10-7 6 2-11 7z"/><path fill="#00fce4" d="M1792 218l13-7 5 5-13 5z"/><path fill="#00fccc" d="M1804 212l11-12 6 9-12 8z"/><path fill="#00fca8" d="M1814 201l10-6 6 7-10 8z"/><path fill="#00fc84" d="M1823 196l13-6 6-1-13 14z"/><path fill="#00fc6c" d="M1835 191l11-8 6 8-11-1z"/><path fill="#00fc60" d="M1845 183l11-5 6 9-11 5z"/><path fill="#00fc54" d="M1855 178l15 3 6-4-15 11z"/><path fill="#00fc3c" d="M1869 182l8-9 6-1-8 6z"/><path fill="#00fc30" d="M1876 174l11-4 6 6-11-3z"/><path fill="none" stroke="#8a8a8a" stroke-width="0.9" d="M1572.7 286.5l3.8 4.3M1611.5 282.1l4.1 6.6M1649.7 268.8l4.3 3.9M1678.4 267.2l4.5 4.5M1719.2 255.7l4.8 4.5M1756 241.9l4.9 6M1792.6 218.2l5.3 2.2M1823.8 195.4l5.3 7M1869.5 181.1l6-3.8"/><path fill="#0024fc" d="M1524 291l13 0 4 7-13 0zM1626 285l12-9 5 6-12 8z"/><path fill="#0018fc" d="M1536 291l13 6 4-1-13 2zM1548 297l12-6 4 4-13 1zM1559 291l13 1 4 4-13 0zM1570 292l7-2 4 6-6 1zM1576 291l7-4 4 10-7 0zM1582 287l12 2 4 5-12 3zM1593 289l13 1 4 3-13 1zM1604 290l12-2 4 4-12 2zM1615 289l13-5 4 5-13 4z"/><path fill="#0030fc" d="M1637 276l13-3 4 8-12 1zM1648 274l6-2 5 7-6 3zM1653 272l7-1 5 6-7 2zM1659 271l13-1 4 3-12 4zM1670 271l14 0 4 6-13-4zM1682 272l11-5 5 0-11 10z"/><path fill="#003cfc" d="M1692 268l12-3 5 2-12 1z"/><path fill="#0048fc" d="M1703 265l12-5 5 7-12 0zM1713 260l11 0 6 3-11 4z"/><path fill="#0054fc" d="M1723 260l13-3 5 1-13 6z"/><path fill="#0060fc" d="M1735 257l12-3 5 0-12 4z"/><path fill="#0078fc" d="M1745 254l17-6 5-3-16 10z"/><path fill="#0090fc" d="M1760 248l8-1 5-6-8 4z"/><path fill="#00a8fc" d="M1767 247l11-12 6 2-12 4z"/><path fill="#00d8fc" d="M1777 236l12-11 6 4-12 9z"/><path fill="#00fcfc" d="M1788 226l10-6 6 1-10 9z"/><path fill="#00fce4" d="M1797 221l13-5 6 3-13 3z"/><path fill="#00fccc" d="M1809 217l11-8 6 1-11 10z"/><path fill="#00fca8" d="M1819 210l10-8 6-1-10 10z"/><path fill="#00fc84" d="M1828 203l13-14 6 9-13 4z"/><path fill="#00fc78" d="M1840 190l12 1 6 4-12 3z"/><path fill="#00fc6c" d="M1851 191l11-5 6 1-11 8z"/><path fill="#00fc54" d="M1861 187l15-10 6 9-15 2z"/><path fill="#00fc3c" d="M1875 177l7-5 7 12-8 3zM1882 172l11 3 6 5-11 4z"/><path fill="none" stroke="#8a8a8a" stroke-width="0.9" d="M1576.5 290.8l3.9 5.2M1615.6 288.7l4.1 3.6M1654 272.7l4.4 5.5M1682.9 271.7l4.6 4.8M1724 260.2l4.8 2.9M1760.9 247.9l5.2-2.8M1797.9 220.4l5.4.8M1829.1 202.4l5.7-1.1M1875.5 177.3l5.6 8.7"/><path fill="#0018fc" d="M1528 297l13 0 4 6-13 4zM1540 298l12-2 4 6-13 1zM1551 296l13-1 4 5-13 3zM1563 295l13 1 3 1-12 3zM1574 296l7 0 4 1-7 1zM1580 296l7 0 4 1-7 0zM1586 296l12-3 4 4-12 1zM1597 293l13 0 4 2-13 2zM1608 293l12-1 5 3-13 0zM1619 292l13-3 4 1-13 5z"/><path fill="#0024fc" d="M1631 289l12-8 4 10-12-1zM1642 282l12-2 5 7-13 4zM1653 281l5-4 5 8-5 3z"/><path fill="#0030fc" d="M1658 278l7-2 5 5-7 5zM1664 277l12-4 5 5-13 3zM1675 273l13 4 5-2-14 3z"/><path fill="#003cfc" d="M1687 277l11-10 5 5-11 4z"/><path fill="#0048fc" d="M1697 267l12-1 5 5-13 2zM1707 266l13 0 4 6-12-1zM1718 266l11-4 5 7-11 3z"/><path fill="#0054fc" d="M1728 263l13-6 5 5-13 7z"/><path fill="#0060fc" d="M1740 258l12-5 5 11-12-1z"/><path fill="#0078fc" d="M1750 254l17-10 5 5-16 16z"/><path fill="#00a8fc" d="M1765 245l8-5 5 7-7 3z"/><path fill="#00c0fc" d="M1772 241l12-5 5 4-12 8z"/><path fill="#00e4fc" d="M1783 237l11-8 6 2-12 10z"/><path fill="#00fcfc" d="M1793 230l10-9 6 7-10 4z"/><path fill="#00fce4" d="M1803 221l12-3 6 3-13 8z"/><path fill="#00fccc" d="M1814 219l12-9 6 3-12 8z"/><path fill="#00fca8" d="M1825 211l10-10 6 7-10 6z"/><path fill="#00fc90" d="M1834 201l13-4 6 6-13 6z"/><path fill="#00fc84" d="M1846 197l11-3 6 7-11 2z"/><path fill="#00fc6c" d="M1856 194l12-8 6 8-12 8z"/><path fill="#00fc54" d="M1867 187l15-1 6 2-15 7zM1880 186l8-3 6 9-7-4z"/><path fill="#00fc48" d="M1887 183l11-4 7-1-12 14z"/><path fill="none" stroke="#8a8a8a" stroke-width="0.9" d="M1580.4 296l3.8 1.1M1619.7 292.3l4.1 2.4M1658.4 278.2l4.4 6.7M1687.5 276.5l4.6-1.1M1728.8 263.1l4.9 5.5M1766.1 245.1l5.2 3.9M1803.3 221.2l5.3 6.9M1834.8 201.3l5.5 7M1881.1 186l6 1.8"/><path fill="#0018fc" d="M1532 306l13-4 3 2-13 7zM1543 303l13-1 4 0-13 2zM1555 302l13-2 4 3-13-1zM1567 300l12-3 4 9-13-3zM1578 297l6-1 5 9-6 1zM1584 297l6 0 5 6-7 3zM1590 297l12 0 4 7-12-1zM1601 297l12-3 5 11-13-1zM1612 294l12 0 5 13-12-2zM1623 294l13-5 5 8-13 10z"/><path fill="#0024fc" d="M1635 290l12 1 5-2-13 9zM1646 291l12-4 5 5-13-2zM1657 287l6-3 5 5-6 4zM1662 285l7-5 5 8-7 2z"/><path fill="#0030fc" d="M1668 281l12-4 5 7-12 4zM1679 278l14-3 5 4-14 5z"/><path fill="#003cfc" d="M1691 275l11-3 6 3-12 5z"/><path fill="#0048fc" d="M1701 272l13-1 5 3-13 2zM1712 271l13 1 4 1-12 1zM1723 272l11-4 5 4-11 1z"/><path fill="#0060fc" d="M1733 269l13-7 5-4-13 15z"/><path fill="#006cfc" d="M1745 263l12 2 5-2-12-6z"/><path fill="#0078fc" d="M1755 264l17-16 5 9-16 6z"/><path fill="#0090fc" d="M1771 249l7-3 6 8-8 3z"/><path fill="#00a8fc" d="M1777 247l12-7 6 6-12 9z"/><path fill="#00d8fc" d="M1788 241l12-11 5 11-12 6z"/><path fill="#00fcfc" d="M1799 231l10-4 6 4-11 11z"/><path fill="#00fce4" d="M1808 228l13-8 6 7-13 5z"/><path fill="#00fccc" d="M1820 221l11-8 6 9-11 6z"/><path fill="#00fcb4" d="M1830 213l10-5 7 9-11 6z"/><path fill="#00fc9c" d="M1840 208l13-6 6 1-13 14z"/><path fill="#00fc84" d="M1852 203l11-2 6 0-12 2z"/><path fill="#00fc78" d="M1862 201l11-8 7 6-12 3z"/><path fill="#00fc60" d="M1872 194l16-7 6 7-15 5zM1886 187l8 4 6 3-7 0z"/><path fill="#00fc48" d="M1893 192l12-14 6 8-12 9z"/><path fill="none" stroke="#8a8a8a" stroke-width="0.9" d="M1584.2 297.1l4 7.8M1623.8 294.7l4.3 11.9M1662.8 284.9l4.5 4.3M1692.1 275.4l4.7 4M1733.7 268.6l4.9 3.7M1771.3 249l5.1 7.7M1808.6 228.1l5.5 3.1M1840.3 208.3l5.5 8.3M1887.1 187.8l5.9 5.9"/><path fill="#0018fc" d="M1535 310l13-7 4 11-13 0zM1547 304l13-2 4 9-13 4zM1559 302l13 1 4 7-13 1zM1570 303l13 3 4 1-13 3zM1582 306l7-2 4 5-7-2zM1588 305l6-3 5 11-7-4zM1594 303l12 0 5 2-13 8zM1605 303l13 2 4 1-13-1zM1627 307l13-10 5 5-13 6z"/><path fill="#000cfc" d="M1616 305l13 2 4 0-12-1z"/><path fill="#0024fc" d="M1639 297l12-8 5 9-12 5zM1650 289l13 3 5 6-13 0zM1662 292l5-4 5 10-5 0zM1667 289l7-2 5 7-7 4zM1673 288l12-5 5 7-12 4z"/><path fill="#0030fc" d="M1684 283l13-4 5 11-13 0z"/><path fill="#003cfc" d="M1696 279l11-5 5 4-11 12zM1717 274l12-2 5 11-12-2zM1728 272l11 0 5 7-11 4z"/><path fill="#0048fc" d="M1706 275l12-2 5 8-12-2z"/><path fill="#0054fc" d="M1738 272l13-15 5 16-13 6z"/><path fill="#006cfc" d="M1750 258l12 4 5 4-12 7z"/><path fill="#0078fc" d="M1761 263l16-7 6 2-17 8z"/><path fill="#0084fc" d="M1776 257l7-4 6 5-8 1z"/><path fill="#009cfc" d="M1782 254l12-8 6 5-12 8z"/><path fill="#00c0fc" d="M1793 246l12-5 6 7-12 4z"/><path fill="#00e4fc" d="M1804 241l10-11 6 14-10 4z"/><path fill="#00fcfc" d="M1813 231l13-4 6 6-13 11z"/><path fill="#00fce4" d="M1825 227l12-5 6 5-12 7z"/><path fill="#00fccc" d="M1836 222l10-6 6 3-10 9z"/><path fill="#00fc9c" d="M1845 217l13-15 7 7-14 11z"/><path fill="#00fc84" d="M1857 203l12-2 6 7-11 2z"/><path fill="#00fc78" d="M1868 201l11-3 7 3-12 8z"/><path fill="#00fc6c" d="M1878 199l15-6 7 10-16-1zM1892 193l8 0 6 8-7 2z"/><path fill="#00fc60" d="M1899 194l11-8 7 10-12 5z"/><path fill="none" stroke="#8a8a8a" stroke-width="0.9" d="M1588.2 304.9l4.1 3.8M1628.1 306.6l4.3.7M1667.3 289.2l4.6 8.5M1696.8 279.4l4.8 9.9M1738.6 272.3l5.1 6.2M1776.4 256.7l5.4 1.5M1814.1 231.2l5.3 12.3M1845.8 216.6l5.8 2.9M1893 193.7l5.8 8.6"/><path fill="#0018fc" d="M1539 313l13 1 4 4-13 0zM1551 314l13-4 4 11-13-2zM1563 310l13-1 4 7-13 5zM1574 310l13-4 4 11-13-1zM1586 306l6 2 5 7-6 2zM1592 308l7 4 4-1-7 5zM1598 312l12-8 5 9-13-2zM1609 305l13 1 4 9-12-2zM1632 307l13-6 4 6-13 7zM1643 302l13-5 5 9-13 1zM1655 297l12 0 5 4-12 6zM1666 298l6-1 5 3-6 2z"/><path fill="#000cfc" d="M1621 306l12 1 4 6-12 2z"/><path fill="#0024fc" d="M1671 298l7-5 5 8-7-1zM1677 294l13-5 5 11-13 1zM1689 289l13 0 5 5-13 7z"/><path fill="#0030fc" d="M1701 289l11-11 5 16-11 1zM1711 278l12 2 5 12-12 2zM1722 280l12 2 5 10-12 0zM1733 282l11-4 5 11-11 3z"/><path fill="#003cfc" d="M1743 278l13-6 5 8-13 9z"/><path fill="#0054fc" d="M1755 272l12-7 5 15-12 1z"/><path fill="#006cfc" d="M1766 266l16-8 6 8-17 14z"/><path fill="#0084fc" d="M1781 258l7-1 6 7-7 3zM1788 258l11-8 6 16-12-2z"/><path fill="#0090fc" d="M1799 250l11-3 6 18-12 1z"/><path fill="#00a8fc" d="M1809 247l11-4 5 11-10 11z"/><path fill="#00ccfc" d="M1819 243l13-11 5 19-13 4z"/><path fill="#00fcfc" d="M1831 232l11-6 6 15-11 10z"/><path fill="#00fce4" d="M1842 227l10-8 6 15-10 8z"/><path fill="#00fccc" d="M1851 219l13-10 6 23-13 3z"/><path fill="#00fcb4" d="M1863 209l12-2 6 16-12 9z"/><path fill="#00fca8" d="M1874 207l11-7 6 26-11-2z"/><path fill="#00fc9c" d="M1884 201l15 1 6 15-15 9z"/><path fill="#00fc90" d="M1898 202l8-2 6 12-8 6z"/><path fill="#00fc84" d="M1905 200l11-5 6 22-11-5z"/><path fill="none" stroke="#8a8a8a" stroke-width="0.9" d="M1592.3 308.7l4.1 6.1M1632.4 307.3l4.4 5.6M1671.9 297.7l4.6 1.9M1701.6 289.3l4.8 4.7M1743.7 278.5l5 10.3M1781.8 258.2l5.3 7.7M1819.4 243.5l5.4 10.6M1851.6 219.5l5.5 14.4M1898.8 202.3l5.6 14.7"/><path fill="#000cfc" d="M1543 317l13 1 4 8-13 2zM1555 318l13 3 4 5-13 0zM1567 321l12-6 5 7-13 5zM1578 315l13 1 5 8-14-2zM1590 316l6-2 5 10-6 1zM1596 314l7-4 4 13-7 1zM1602 311l13 1 4 7-13 4zM1613 313l13 1 5 6-13-1zM1625 315l12-3 5 7-12 1zM1636 313l13-7 5 11-13 3z"/><path fill="#0018fc" d="M1648 306l13-1 4 5-12 8zM1659 306l13-6 5 10-13 0zM1671 300l6-1 5 10-6 1zM1676 299l7 1 5 5-7 4zM1682 300l13 0 5 4-13 2zM1716 293l12-3 5 15-12 0z"/><path fill="#0024fc" d="M1693 300l14-7 5 3-14 8zM1706 294l11-1 5 12-11-9zM1727 291l12 0 5 4-12 10zM1738 291l11-3 5 9-11-1zM1748 289l13-10 5 16-13 2z"/><path fill="#0030fc" d="M1760 280l12-1 5 12-11 4z"/><path fill="#0054fc" d="M1771 279l16-14 6 4-16 23z"/><path fill="#0078fc" d="M1786 266l8-3 6 11-8-3zM1793 263l12 2 6 3-12 6z"/><path fill="#0060fc" d="M1804 265l11-1 6 17-12-13z"/><path fill="#006cfc" d="M1814 264l11-11 6 19-11 9z"/><path fill="#0090fc" d="M1824 254l13-4 6 12-13 10z"/><path fill="#00b4fc" d="M1836 250l12-10 6 15-12 7z"/><path fill="#00d8fc" d="M1847 241l10-8 6 20-10 3z"/><path fill="#00f0fc" d="M1856 233l13-2 6 16-13 6z"/><path fill="#00fcfc" d="M1868 231l12-9 5 29-11-4z"/><path fill="#00fcf0" d="M1879 222l11 3 7 13-12 13z"/><path fill="#00fcd8" d="M1889 225l16-9 6 11-15 11zM1911 211l11 5 5 22-10-1z"/><path fill="#00fccc" d="M1904 216l8-5 5 26-7-9z"/><path fill="none" stroke="#8a8a8a" stroke-width="0.9" d="M1596.4 314.8l4.2 8.8M1636.8 312.9l4.4 6.3M1676.5 299.6l4.7 8.6M1706.4 294l4.9 2.6M1748.7 288.8l5.1 7.4M1787.1 265.9l5.4 3.9M1824.8 254.1l5.2 17.4M1857.1 233.9l5.3 18.2M1904.4 217l5.9 10.2"/></g>
<path d="M1454.7 210.9 1456.1 214.8 1457.3 215.8 1458.6 216.6 1459.9 217.9 1461.1 216.8 1462.4 219 1463.7 220.5 1465.1 222.4 1466.4 222.8 1467.7 224.1 1469 224.8 1470.4 225.6 1471.7 227 1473.1 229.3 1474.5 228.8 1475.9 232.7 1477.3 233.1 1478.8 237 1480.2 236.8 1481.7 239.8 1483.2 244.1 1484.6 243.2 1486.2 248.5 1487.5 246.9 1489.1 251 1490.6 252 1492.1 252.3 1493.6 255.4 1495.1 256.8 1496.8 262.1 1498.3 261.7 1499.9 265.7 1501.5 266.8 1503.1 270 1504.7 271.4 1506.3 272.9 1507.9 274.4 1509.7 280.3 1511.2 277.4 1513 284.3 1514.6 283.3 1516.3 285.6 1518 289.2 1519.7 290.2 1521.4 288.8 1523.2 294.1 1524.9 294 1526.7 295.4 1528.4 296.6 1530.3 302.6 1532.2 305.9 1533.9 303.3 1535.8 310.2 1537.6 310.6 1539.5 312.6 1541.5 321.2 1543.3 317.4 1545.2 321.1 1547.3 327.1 1550.7 499 1548.9 496.2 1547 493.4 1545.1 490.6 1543.3 487.8 1541.5 485.1 1539.7 482.3 1537.9 479.6 1536.1 477 1534.3 474.3 1532.6 471.7 1530.8 469 1529.1 466.4 1527.4 463.9 1525.7 461.3 1524 458.8 1522.3 456.2 1520.7 453.7 1519 451.2 1517.4 448.8 1515.7 446.3 1514.1 443.9 1512.5 441.5 1510.9 439.1 1509.3 436.7 1507.8 434.3 1506.2 432 1504.7 429.6 1503.1 427.3 1501.6 425 1500.1 422.8 1498.6 420.5 1497.1 418.2 1495.6 416 1494.1 413.8 1492.7 411.6 1491.2 409.4 1489.8 407.2 1488.3 405.1 1486.9 402.9 1485.5 400.8 1484.1 398.7 1482.7 396.6 1481.3 394.5 1479.9 392.4 1478.6 390.4 1477.2 388.3 1475.9 386.3 1474.5 384.3 1473.2 382.3 1471.9 380.3 1470.6 378.3 1469.3 376.3 1468 374.4 1466.7 372.5 1465.4 370.5 1464.1 368.6 1462.8 366.7 1461.6 364.8 1460.3 362.9Z" fill="#96e1e1" fill-opacity="0.4"/>
<clipPath id="lcg"><path d="M1454.7 210.9 1456.1 214.8 1457.3 215.8 1458.6 216.6 1459.9 217.9 1461.1 216.8 1462.4 219 1463.7 220.5 1465.1 222.4 1466.4 222.8 1467.7 224.1 1469 224.8 1470.4 225.6 1471.7 227 1473.1 229.3 1474.5 228.8 1475.9 232.7 1477.3 233.1 1478.8 237 1480.2 236.8 1481.7 239.8 1483.2 244.1 1484.6 243.2 1486.2 248.5 1487.5 246.9 1489.1 251 1490.6 252 1492.1 252.3 1493.6 255.4 1495.1 256.8 1496.8 262.1 1498.3 261.7 1499.9 265.7 1501.5 266.8 1503.1 270 1504.7 271.4 1506.3 272.9 1507.9 274.4 1509.7 280.3 1511.2 277.4 1513 284.3 1514.6 283.3 1516.3 285.6 1518 289.2 1519.7 290.2 1521.4 288.8 1523.2 294.1 1524.9 294 1526.7 295.4 1528.4 296.6 1530.3 302.6 1532.2 305.9 1533.9 303.3 1535.8 310.2 1537.6 310.6 1539.5 312.6 1541.5 321.2 1543.3 317.4 1545.2 321.1 1547.3 327.1 1550.7 499 1548.9 496.2 1547 493.4 1545.1 490.6 1543.3 487.8 1541.5 485.1 1539.7 482.3 1537.9 479.6 1536.1 477 1534.3 474.3 1532.6 471.7 1530.8 469 1529.1 466.4 1527.4 463.9 1525.7 461.3 1524 458.8 1522.3 456.2 1520.7 453.7 1519 451.2 1517.4 448.8 1515.7 446.3 1514.1 443.9 1512.5 441.5 1510.9 439.1 1509.3 436.7 1507.8 434.3 1506.2 432 1504.7 429.6 1503.1 427.3 1501.6 425 1500.1 422.8 1498.6 420.5 1497.1 418.2 1495.6 416 1494.1 413.8 1492.7 411.6 1491.2 409.4 1489.8 407.2 1488.3 405.1 1486.9 402.9 1485.5 400.8 1484.1 398.7 1482.7 396.6 1481.3 394.5 1479.9 392.4 1478.6 390.4 1477.2 388.3 1475.9 386.3 1474.5 384.3 1473.2 382.3 1471.9 380.3 1470.6 378.3 1469.3 376.3 1468 374.4 1466.7 372.5 1465.4 370.5 1464.1 368.6 1462.8 366.7 1461.6 364.8 1460.3 362.9Z"/></clipPath>
<g clip-path="url(#lcg)"><g clip-path="url(#fcg)"><g filter="url(#blurg)"><path fill="#648cff" d="M1459 363l15-2 3 6-14 2zM1463 368l14-2 4 6-15 2zM1492 412l15-2 4 6-15 2zM1496 418l15-3 5 7-16 3zM1500 424l15-3 5 7-16 3zM1504 430l16-2 4 7-16 2zM1508 436l16-2 4 7-15 2zM1512 443l16-3 5 8-16 2zM1517 449l16-2 5 7-17 3zM1521 456l16-3 5 8-16 2zM1526 463l16-3 5 8-16 2zM1530 469l17-2 5 8-17 3zM1535 477l16-3 6 8-17 3zM1540 484l16-3 6 9-17 2zM1472 361l14-2 4 6-14 2zM1475 366l15-2 4 6-15 2zM1505 410l16-2 4 7-15 2zM1509 416l16-2 4 7-15 2zM1514 422l15-2 5 7-16 2zM1518 428l15-2 5 7-16 2zM1522 434l16-2 4 7-15 3zM1527 441l15-3 5 8-16 2zM1531 447l16-2 5 7-16 3zM1536 454l16-3 5 8-17 2zM1540 461l16-3 5 8-16 2zM1545 467l16-2 5 8-16 2zM1550 474l16-2 5 8-16 3zM1555 482l16-3 6 8-17 3zM1484 360l15-2 3 6-14 2zM1488 365l14-2 4 6-14 2zM1519 408l15-2 4 7-15 2zM1523 414l15-2 5 7-16 2zM1527 420l16-2 4 7-15 2zM1532 426l15-2 5 7-16 2zM1536 432l16-2 4 7-15 3zM1541 439l15-3 5 8-16 2zM1545 445l16-2 5 7-16 3zM1550 452l16-3 5 8-16 2zM1555 459l16-3 5 8-16 2zM1559 465l17-2 5 8-16 2zM1564 472l17-2 5 8-16 2zM1570 480l16-3 6 8-17 3zM1497 358l14-2 4 6-14 2zM1500 363l15-2 4 6-15 2zM1536 412l16-2 4 7-15 2zM1541 418l15-2 5 7-15 2zM1545 424l16-2 5 7-16 2zM1550 431l15-3 5 7-15 3zM1554 437l16-2 5 7-16 2zM1559 443l16-2 5 7-16 3zM1564 450l16-3 5 8-16 2zM1569 457l16-3 5 8-16 2zM1574 463l16-2 5 8-16 2zM1579 470l16-2 6 8-16 2zM1584 477l17-2 5 8-16 3zM1509 357l14-2 4 6-14 2zM1550 411l15-3 5 7-15 2zM1554 417l16-3 4 7-15 2zM1559 423l15-3 5 7-15 3zM1564 429l15-3 5 8-15 2zM1568 435l16-2 5 7-16 2zM1573 441l16-2 5 7-16 3zM1578 448l16-2 5 7-16 2zM1583 455l16-3 5 8-15 2zM1588 461l16-2 6 8-16 2zM1594 468l16-2 5 8-16 2zM1599 475l16-2 6 8-16 2zM1521 355l15-1 4 5-14 2zM1563 409l15-2 5 6-15 3zM1568 415l15-2 5 6-15 3zM1572 421l16-2 5 7-16 2zM1577 427l16-2 5 7-16 2zM1582 433l16-2 5 7-16 2zM1587 439l16-2 5 8-16 2zM1592 446l16-2 5 7-15 3zM1597 453l16-3 6 8-16 2zM1603 459l15-2 6 8-16 2zM1608 466l16-2 6 8-16 2zM1613 473l16-2 6 8-16 2zM1534 354l14-2 4 6-14 2zM1581 413l15-2 5 7-15 2zM1586 419l15-2 5 7-15 2zM1591 425l15-2 5 7-15 2zM1596 431l15-2 6 7-16 3zM1601 438l15-3 6 8-16 2zM1606 444l16-2 5 7-15 3zM1611 451l16-3 6 8-16 2zM1617 457l16-2 5 8-16 2zM1622 464l16-2 6 8-16 2zM1628 471l16-2 6 8-16 2zM1609 429l16-2 5 7-15 3zM1615 436l15-3 6 8-16 2zM1620 442l15-2 6 7-15 3zM1625 449l16-3 6 8-16 2zM1631 455l16-2 6 8-16 2zM1636 462l16-2 6 7-16 3zM1642 469l16-3 6 8-16 3zM1648 476l16-2 6 8-16 2zM1656 467l16-3 7 8-16 3zM1662 474l16-3 7 9-16 2z"/><path fill="#6496ff" d="M1466 373l15-2 3 6-14 2zM1470 378l14-2 4 6-15 2zM1473 384l15-2 4 6-15 2zM1477 389l15-2 4 6-15 2zM1480 394l15-2 4 7-15 2zM1484 400l15-2 4 7-15 2zM1488 406l15-2 4 6-15 3zM1479 371l14-1 4 6-14 1zM1482 377l15-2 4 6-15 2zM1486 382l15-2 4 6-15 2zM1490 387l15-2 4 7-15 2zM1494 393l15-2 4 6-15 2zM1497 398l15-2 5 7-15 2zM1501 404l15-2 5 7-15 2zM1492 370l14-2 4 6-15 2zM1495 375l15-2 4 6-15 2zM1499 380l15-2 4 7-15 2zM1503 386l15-2 4 6-15 2zM1507 391l15-2 4 7-15 2zM1511 397l15-2 4 6-15 2zM1515 402l15-2 4 7-15 2zM1504 368l15-2 4 6-15 2zM1508 374l14-2 5 6-15 2zM1512 379l14-2 5 6-15 2zM1516 384l14-2 5 6-15 2zM1520 390l14-2 5 6-15 2zM1524 395l15-2 4 7-15 2zM1528 401l15-2 4 6-15 2zM1532 406l15-2 5 7-15 2zM1513 362l14-2 4 6-14 2zM1517 367l14-2 4 6-14 2zM1521 372l14-2 4 6-14 2zM1525 377l14-2 4 6-14 2zM1529 383l14-2 5 6-15 2zM1533 388l14-2 5 6-15 2zM1537 393l15-2 4 7-15 2zM1541 399l15-2 5 7-15 2zM1545 405l15-2 5 6-15 2zM1525 360l14-1 5 5-15 2zM1529 365l14-1 5 5-15 2zM1533 370l15-1 4 6-15 2zM1537 376l15-2 4 6-14 2zM1546 386l14-2 5 7-15 2zM1550 392l15-2 4 6-15 2zM1554 397l15-2 5 7-15 2zM1559 403l15-2 4 7-15 2zM1538 359l14-2 4 6-14 2zM1542 364l14-2 4 6-14 2zM1563 390l14-2 5 7-14 2zM1567 396l15-2 5 6-15 2zM1572 401l15-2 5 7-15 2zM1576 407l15-2 5 7-15 2zM1546 353l14-2 4 5-14 2zM1590 405l14-2 6 7-15 2zM1594 411l15-2 6 7-15 2zM1599 417l15-2 6 7-15 2zM1604 423l15-2 6 7-15 2zM1608 410l14-3 6 7-15 2zM1613 415l15-2 5 7-15 2zM1618 421l15-2 5 7-15 3zM1623 428l15-3 6 7-15 3zM1628 434l16-2 5 7-15 2zM1634 440l15-2 6 7-16 3zM1639 447l16-3 6 8-16 2zM1645 453l15-2 7 8-16 2zM1651 460l15-2 7 7-16 3z"/><path fill="#6482ff" d="M1545 491l16-2 6 8-17 3zM1560 489l16-3 6 9-17 2zM1575 487l16-3 6 9-17 2zM1590 485l16-3 6 8-17 3zM1604 483l17-3 6 8-17 3zM1619 480l16-2 6 8-16 3zM1634 478l16-2 6 8-16 2z"/><path fill="#64a0ff" d="M1541 381l15-2 4 6-14 2zM1546 369l14-2 4 6-14 2zM1550 374l14-2 5 6-15 2zM1554 379l15-2 4 7-14 2zM1558 385l15-2 5 6-15 2zM1550 357l14-1 4 5-14 2zM1554 362l14-1 5 5-15 2zM1580 394l15-2 5 7-15 2zM1585 400l15-2 5 6-15 2zM1558 351l14-2 4 6-14 2zM1603 404l14-2 6 6-15 2z"/><path fill="#64aaff" d="M1558 367l14-1 5 6-14 1zM1571 383l15-2 4 6-14 2zM1576 389l14-2 5 6-15 2zM1562 356l14-2 5 6-14 2zM1598 398l15-2 5 7-15 2z"/><path fill="#64b4ff" d="M1562 373l15-2 4 6-14 2zM1567 378l14-2 5 6-15 2zM1566 361l14-2 5 6-14 2zM1588 387l15-2 5 6-15 2zM1593 392l15-2 5 7-15 2z"/><path fill="#64beff" d="M1571 366l14-2 4 6-14 2zM1575 371l14-2 5 6-14 2zM1584 382l14-2 5 6-14 2z"/><path fill="#64c8ff" d="M1579 376l15-2 4 6-14 2z"/></g></g></g>
<line x1="1448" y1="30.4" x2="1773.8" y2="14.3" stroke="#505050" stroke-width="0.9"/><line x1="1773.8" y1="14.3" x2="1935.5" y2="69" stroke="#505050" stroke-width="0.9"/><line x1="1767.1" y1="326.9" x2="1773.8" y2="14.3" stroke="#505050" stroke-width="0.9"/><line x1="1916.4" y1="444.9" x2="1935.5" y2="69" stroke="#505050" stroke-width="0.9"/><line x1="1460.3" y1="362.9" x2="1767.1" y2="326.9" stroke="#505050" stroke-width="0.9"/><line x1="1767.1" y1="326.9" x2="1916.4" y2="444.9" stroke="#505050" stroke-width="0.9"/><line x1="1460.3" y1="362.9" x2="1448" y2="30.4" stroke="#000" stroke-width="1.3"/><line x1="1460.3" y1="362.9" x2="1550.7" y2="499" stroke="#222" stroke-width="1.2"/><line x1="1550.7" y1="499" x2="1916.4" y2="444.9" stroke="#222" stroke-width="1.1"/><line x1="1452.7" y1="317.9" x2="1458.7" y2="317.9" stroke="#606060" stroke-width="1.2"/><line x1="1454" y1="287.4" x2="1457.5" y2="287.4" stroke="#606060" stroke-width="1.2"/><line x1="1452.9" y1="256.6" x2="1456.4" y2="256.6" stroke="#606060" stroke-width="1.2"/><line x1="1449.3" y1="225.4" x2="1455.3" y2="225.4" stroke="#606060" stroke-width="1.2"/><line x1="1450.6" y1="193.9" x2="1454.1" y2="193.9" stroke="#606060" stroke-width="1.2"/><line x1="1449.4" y1="162" x2="1452.9" y2="162" stroke="#606060" stroke-width="1.2"/><line x1="1445.7" y1="129.7" x2="1451.7" y2="129.7" stroke="#606060" stroke-width="1.2"/><line x1="1447" y1="97" x2="1450.5" y2="97" stroke="#606060" stroke-width="1.2"/><line x1="1445.8" y1="63.9" x2="1449.3" y2="63.9" stroke="#606060" stroke-width="1.2"/><line x1="1442" y1="30.4" x2="1448" y2="30.4" stroke="#606060" stroke-width="1.2"/><text x="1448.9" y="327.1" font-size="26.5" text-anchor="end">-20</text><text x="1445.5" y="234.6" font-size="26.5" text-anchor="end">0</text><text x="1441.9" y="138.9" font-size="26.5" text-anchor="end">20</text><text x="1438.2" y="39.6" font-size="26.5" text-anchor="end">40</text><line x1="1453.3" y1="362.9" x2="1460.3" y2="362.9" stroke="#606060" stroke-width="1.2"/><text x="1450.3" y="376.9" font-size="26.5" text-anchor="end">650</text><line x1="1465.7" y1="377.1" x2="1469.7" y2="377.1" stroke="#606060" stroke-width="1.2"/><line x1="1475.6" y1="391.9" x2="1479.6" y2="391.9" stroke="#606060" stroke-width="1.2"/><line x1="1486" y1="407.5" x2="1490" y2="407.5" stroke="#606060" stroke-width="1.2"/><line x1="1493.8" y1="423.9" x2="1500.8" y2="423.9" stroke="#606060" stroke-width="1.2"/><text x="1490.8" y="437.9" font-size="26.5" text-anchor="end">750</text><line x1="1508.3" y1="441.2" x2="1512.3" y2="441.2" stroke="#606060" stroke-width="1.2"/><line x1="1520.4" y1="459.4" x2="1524.4" y2="459.4" stroke="#606060" stroke-width="1.2"/><line x1="1533.2" y1="478.6" x2="1537.2" y2="478.6" stroke="#606060" stroke-width="1.2"/><line x1="1543.7" y1="499" x2="1550.7" y2="499" stroke="#606060" stroke-width="1.2"/><text x="1540.7" y="513" font-size="26.5" text-anchor="end">850</text><line x1="1550.7" y1="499" x2="1550.7" y2="507" stroke="#6a6a6a" stroke-width="1"/><line x1="1570" y1="496.1" x2="1570" y2="500.6" stroke="#6a6a6a" stroke-width="1"/><line x1="1589" y1="493.3" x2="1589" y2="497.8" stroke="#6a6a6a" stroke-width="1"/><line x1="1608" y1="490.5" x2="1608" y2="495" stroke="#6a6a6a" stroke-width="1"/><line x1="1626.7" y1="487.8" x2="1626.7" y2="492.3" stroke="#6a6a6a" stroke-width="1"/><line x1="1645.3" y1="485" x2="1645.3" y2="493" stroke="#6a6a6a" stroke-width="1"/><line x1="1663.8" y1="482.3" x2="1663.8" y2="486.8" stroke="#6a6a6a" stroke-width="1"/><line x1="1682.2" y1="479.6" x2="1682.2" y2="484.1" stroke="#6a6a6a" stroke-width="1"/><line x1="1700.3" y1="476.9" x2="1700.3" y2="481.4" stroke="#6a6a6a" stroke-width="1"/><line x1="1718.4" y1="474.2" x2="1718.4" y2="478.7" stroke="#6a6a6a" stroke-width="1"/><line x1="1736.3" y1="471.6" x2="1736.3" y2="479.6" stroke="#6a6a6a" stroke-width="1"/><line x1="1754.1" y1="468.9" x2="1754.1" y2="473.4" stroke="#6a6a6a" stroke-width="1"/><line x1="1771.7" y1="466.3" x2="1771.7" y2="470.8" stroke="#6a6a6a" stroke-width="1"/><line x1="1789.2" y1="463.7" x2="1789.2" y2="468.2" stroke="#6a6a6a" stroke-width="1"/><line x1="1806.6" y1="461.2" x2="1806.6" y2="465.7" stroke="#6a6a6a" stroke-width="1"/><line x1="1823.8" y1="458.6" x2="1823.8" y2="466.6" stroke="#6a6a6a" stroke-width="1"/><line x1="1840.9" y1="456.1" x2="1840.9" y2="460.6" stroke="#6a6a6a" stroke-width="1"/><line x1="1857.9" y1="453.6" x2="1857.9" y2="458.1" stroke="#6a6a6a" stroke-width="1"/><line x1="1874.8" y1="451.1" x2="1874.8" y2="455.6" stroke="#6a6a6a" stroke-width="1"/><line x1="1891.5" y1="448.6" x2="1891.5" y2="453.1" stroke="#6a6a6a" stroke-width="1"/><line x1="1908.1" y1="446.2" x2="1908.1" y2="454.2" stroke="#6a6a6a" stroke-width="1"/><text x="1551.7" y="537.5" font-size="27.5" text-anchor="middle">0</text><text x="1646.3" y="523.5" font-size="27.5" text-anchor="middle">5</text><text x="1737.3" y="510.1" font-size="27.5" text-anchor="middle">10</text><text x="1824.8" y="497.1" font-size="27.5" text-anchor="middle">15</text><text x="1909.1" y="484.7" font-size="27.5" text-anchor="middle">20</text>
<text x="1761.2" y="545.2" font-size="36" font-weight="bold" text-anchor="middle" transform="rotate(-8.4 1761.2 545.2)">P (GPa)</text>
<text transform="translate(1426.5 468) rotate(56.4)" text-anchor="middle" font-size="36"><tspan>λ</tspan><tspan font-weight="bold" dx="8">(nm)</tspan></text>
<rect x="1946.1" y="62.3" width="10.2" height="386.7" fill="url(#cb)" stroke="#808080" stroke-width="0.8"/>
<line x1="1956.3" y1="62.3" x2="1962.6" y2="62.3" stroke="#808080" stroke-width="1"/>
<line x1="1956.3" y1="126.8" x2="1958.9" y2="126.8" stroke="#808080" stroke-width="1"/>
<line x1="1956.3" y1="191.2" x2="1958.9" y2="191.2" stroke="#808080" stroke-width="1"/>
<line x1="1956.3" y1="255.6" x2="1962.6" y2="255.6" stroke="#808080" stroke-width="1"/>
<line x1="1956.3" y1="320.1" x2="1958.9" y2="320.1" stroke="#808080" stroke-width="1"/>
<line x1="1956.3" y1="384.6" x2="1958.9" y2="384.6" stroke="#808080" stroke-width="1"/>
<line x1="1956.3" y1="449" x2="1962.6" y2="449" stroke="#808080" stroke-width="1"/>
<text x="1965.4" y="72.7" font-size="29">40</text>
<text x="1965.4" y="266" font-size="29">20</text>
<text x="1965.4" y="459.4" font-size="29">0</text>
<text x="1464.1" y="71.5" font-size="31.5">633 nm</text>
<rect x="85" y="573.6" width="522.4" height="521.4" fill="none" stroke="#000" stroke-width="2.4"/>
<line x1="85" y1="1095" x2="85" y2="1107.5" stroke="#000" stroke-width="2.2"/>
<text x="85" y="1138.7" font-size="28.5" text-anchor="middle">400</text>
<line x1="111.1" y1="1095" x2="111.1" y2="1101.5" stroke="#000" stroke-width="2.2"/>
<line x1="137.2" y1="1095" x2="137.2" y2="1101.5" stroke="#000" stroke-width="2.2"/>
<line x1="163.4" y1="1095" x2="163.4" y2="1101.5" stroke="#000" stroke-width="2.2"/>
<line x1="189.5" y1="1095" x2="189.5" y2="1101.5" stroke="#000" stroke-width="2.2"/>
<line x1="215.6" y1="1095" x2="215.6" y2="1107.5" stroke="#000" stroke-width="2.2"/>
<text x="215.6" y="1138.7" font-size="28.5" text-anchor="middle">500</text>
<line x1="241.7" y1="1095" x2="241.7" y2="1101.5" stroke="#000" stroke-width="2.2"/>
<line x1="267.8" y1="1095" x2="267.8" y2="1101.5" stroke="#000" stroke-width="2.2"/>
<line x1="294" y1="1095" x2="294" y2="1101.5" stroke="#000" stroke-width="2.2"/>
<line x1="320.1" y1="1095" x2="320.1" y2="1101.5" stroke="#000" stroke-width="2.2"/>
<line x1="346.2" y1="1095" x2="346.2" y2="1107.5" stroke="#000" stroke-width="2.2"/>
<text x="346.2" y="1138.7" font-size="28.5" text-anchor="middle">600</text>
<line x1="372.3" y1="1095" x2="372.3" y2="1101.5" stroke="#000" stroke-width="2.2"/>
<line x1="398.4" y1="1095" x2="398.4" y2="1101.5" stroke="#000" stroke-width="2.2"/>
<line x1="424.6" y1="1095" x2="424.6" y2="1101.5" stroke="#000" stroke-width="2.2"/>
<line x1="450.7" y1="1095" x2="450.7" y2="1101.5" stroke="#000" stroke-width="2.2"/>
<line x1="476.8" y1="1095" x2="476.8" y2="1107.5" stroke="#000" stroke-width="2.2"/>
<text x="476.8" y="1138.7" font-size="28.5" text-anchor="middle">700</text>
<line x1="502.9" y1="1095" x2="502.9" y2="1101.5" stroke="#000" stroke-width="2.2"/>
<line x1="529" y1="1095" x2="529" y2="1101.5" stroke="#000" stroke-width="2.2"/>
<line x1="555.2" y1="1095" x2="555.2" y2="1101.5" stroke="#000" stroke-width="2.2"/>
<line x1="581.3" y1="1095" x2="581.3" y2="1101.5" stroke="#000" stroke-width="2.2"/>
<line x1="607.4" y1="1095" x2="607.4" y2="1107.5" stroke="#000" stroke-width="2.2"/>
<text x="607.4" y="1138.7" font-size="28.5" text-anchor="middle">800</text>
<path fill="#fec600" d="M86 1088.7l3 0 3-.1 3 0 3-.4 3-.3 3-.6 3-1.1 3-1.7 3-2.6 3-2.7 3-2.6 3-2.3 3-2.5 3-2.8 3-2.5 3-1.8 3-2.3 3-1.1 3-1.2 3-1.7 3-1.3 3-1.3 3-.6 3-.4 3-.5 3 .2 3 .3 3 0 3-.1 3-.3 3-.3 3 .5 3 0 3 .2 3 .5 3-.2 3 .3 3 .6 3 .5 3 .8 3 .8 3 1.3 3 .7 3 .6 3 1.2 3 .7 3 .5 3 1.4 3 .7 3 .5 3 1.3 3 .6 3 .7 3 1 3 0 3 1 3 .9 3 .8 3 .4 3 .6 3 .5 3 .9 3 .7 3 0 3 .4 3 1 3 .5 3 .3 3 .9 3 .5 3 .1 3 .5 3 .6 3 .1 3 .2 3 .7 3 .1 3 .7 3 .2 3 .4 3 .6 3 .3 3 .3 3 .3 3 1 3 .2 3-.3 3 .3 3 .7 3-.1 3 .3 3 .4 3 0 3 .1 3 .1 3 .3 3 .2 3 .5 3 0 3-.2 3 .4 3-.1 3-.3 3 .5 3 .4 3-.3 3 .5 3-.2 3 .2 3-.3 3 .9 3-.3 3 .2 3-.3 3-.2 3 .7 3-.4 3 .6 3-.4 3 .5 3-.5 3-.2 3 .6 3-.1 3 0 3 .3 3-.4 3-.1 3 0 3-.1 3 0 3 .2 3 .1 3 .1 3-.1 3 .2 3 .3 3-.3 3 .2 3-.3 3 .3 3 0 3-.2 3-.2 3 .3 3 0 3 .4 3-.4 3 .4 3-.9 3 .5 3 0 3 0 3 0 3 .1 3 .3 3-.3 3 .3 3-.3 3 0 3-.6 3 .6 3 .2 3-.4 3 .1 3-.1 3 .5 3-.5 3 .1 3-.5 3 .3 3 .4 3-.4 1.4-.3 0 2.7-520.4.2z"/>
<text x="595.6" y="1082.5" font-size="31" text-anchor="end">0.1</text>
<path fill="#fa8c08" d="M86 1039l3 0 3-.6 3-1.2 3-.9 3-1.3 3-.9 3-1.5 3-1.5 3-3 3-1.8 3-3.2 3-2.5 3-3.4 3-3.4 3-2.9 3-2.4 3-2.2 3-1.7 3-1.2 3-1.6 3-1.1 3-.3 3-1.1 3-1 3-.3 3-.4 3-.4 3-.2 3 .6 3 .5 3 .2 3 .3 3 .9 3 .6 3 .4 3 1 3 1 3 .7 3 .8 3 1.4 3 1 3 1.1 3 .3 3 1 3 .8 3 .6 3 1.2 3 .9 3 .4 3 1.3 3 .5 3 .6 3 .6 3 .7 3 0 3 1 3 .6 3-.1 3 1 3 .4 3 .7 3 .2 3 .6 3 .5 3 .2 3 .8 3 .3 3 .6 3 .2 3 .8 3 .4 3 .2 3 .6 3 .6 3 .6 3-.4 3 1 3 .3 3 .3 3 .2 3 1 3-.3 3 .8 3 .6 3-.4 3 .7 3 .1 3 .7 3 .7 3 .4 3-.6 3 .6 3 .6 3 .5 3 0 3 0 3 .5 3 .2 3 .2 3 .1 3 .6 3 .2 3 .1 3 .2 3-.1 3 .4 3 .7 3-.2 3-.1 3 .9 3-.1 3 .6 3-.3 3 0 3-.1 3 .9 3 .5 3-.7 3 .2 3 .4 3-.2 3 .3 3 .1 3 .3 3 .3 3-.1 3 .3 3-.2 3 .3 3-.5 3 .3 3 .6 3-.3 3 .4 3 .1 3 .2 3 0 3 .1 3-.2 3-.1 3 .1 3 .1 3-.1 3 .2 3 .2 3 .1 3-.1 3-.3 3 .5 3 .1 3 .1 3 0 3-.2 3 0 3 .2 3 .1 3 0 3 0 3-.1 3 .1 3 0 3 0 3 .1 3 0 3 0 3-.3 3 .3 3 0 3 0 3 .1 3 0 3 0 3 0 1.4 0 0 1.8-520.4-2.4z"/>
<text x="595.6" y="1032.6" font-size="31" text-anchor="end">0.3</text>
<path fill="#fa8c08" d="M86 994.1l3 0 3-.3 3-.4 3-.2 3-1.3 3-.4 3-.7 3-.5 3-.6 3-1.3 3-1 3-2 3-1.4 3-2.6 3-1.8 3-2.4 3-1.9 3-2.2 3-1.7 3-1.5 3-1.6 3-1.2 3-1 3-1.1 3-.9 3-.8 3-.9 3-.4 3-1.2 3 .1 3-1 3-.5 3-.7 3-.2 3-.4 3-.2 3-.5 3 0 3 .5 3-.4 3-.2 3 .5 3-.2 3 .3 3 .1 3-.1 3-.3 3 .6 3 .4 3 0 3 .6 3 .4 3 .1 3 .8 3 .6 3 .3 3 .5 3 .5 3 .8 3-.1 3 .5 3 .6 3 0 3 .3 3 .7 3 .8 3 .5 3 0 3 .4 3 .9 3 .6 3 .6 3 .7 3 .7 3 .3 3 .6 3 .2 3 .6 3 1 3 .7 3 .6 3 .6 3 .7 3 .6 3 0 3 .8 3 .9 3 .6 3 0 3 1.2 3 .1 3 .5 3 .7 3 .6 3-.1 3 1.1 3 .3 3 .2 3 .6 3 0 3 .8 3 .6 3 .2 3 .4 3 .4 3 .4 3 .5 3 0 3 .3 3 .5 3 .6 3-.3 3 .5 3-.3 3 1 3 .1 3 .4 3-.1 3 0 3 .7 3 .2 3-.2 3 0 3 .7 3 .1 3 .8 3-.6 3 .2 3 .2 3-.2 3 .3 3 .8 3-.4 3 0 3 0 3 .5 3 .2 3 0 3-.1 3 .3 3 .1 3-.2 3 .4 3-.6 3 .3 3 .3 3 .2 3-.2 3 .4 3 .3 3-.1 3 0 3 .1 3 0 3-.3 3 .2 3 .1 3-.2 3 .2 3 0 3-.1 3 0 3 .1 3 0 3 0 3-.2 3 .2 3 0 3 0 3 0 3 0 3 0 3 0 1.4 0 0 1.8-520.4-.2z"/>
<text x="595.6" y="982.7" font-size="31" text-anchor="end">3.0</text>
<path fill="#ff5a00" d="M86 946.8l3-.8 3 .8 3-.5 3 0 3-.6 3 0 3-.8 3-.5 3-.2 3-.5 3-.6 3-.5 3-.3 3-.5 3-.8 3-.5 3-.9 3 .2 3-1.1 3-.4 3-1 3-.4 3-.9 3-1.2 3-.5 3-1.5 3-.4 3-1.7 3-.6 3-.8 3-1.2 3-1 3-.9 3-.5 3-.2 3-.6 3-.7 3-.7 3 .1 3-.9 3-.1 3-.3 3 .1 3-.3 3-.2 3-.2 3-.5 3 .1 3 .1 3-.5 3 0 3-.3 3 .1 3-.1 3 0 3-.2 3 .3 3-.4 3 .1 3 .1 3 .5 3 0 3 .3 3 .7 3 .4 3 .2 3-.4 3 .8 3 .3 3 .3 3 .5 3 .9 3-.2 3 .3 3 .7 3 .2 3 .5 3 .2 3 .6 3 .5 3-.2 3 .5 3 1.1 3 .4 3 .1 3 .3 3 .7 3 .1 3 .7 3 .9 3 .1 3 .7 3 .2 3 .6 3 .7 3-.2 3 .7 3 .6 3 .5 3 .8 3 .3 3-.1 3 .7 3 .2 3 .4 3 1.1 3-.4 3 .7 3 .2 3 .7 3 .3 3 .3 3 .3 3 .6 3-.2 3 .4 3 .2 3 .9 3-.1 3 .1 3 .3 3 1 3-.5 3 .4 3 0 3 0 3 0 3 .2 3 .1 3-.4 3 1.3 3-.3 3-.1 3 .1 3-.1 3 .5 3-.2 3 .3 3-.4 3 .5 3 .4 3-.4 3 .3 3-.1 3 .2 3 0 3-.1 3-.1 3 .2 3 0 3-.2 3 .2 3 0 3-.2 3 .2 3 0 3 0 3 0 3 0 3 0 3-.5 3 .2 3 .1 3 .2 3 0 3-.4 3 .4 3-.1 3 .1 3 0 3 0 3 0 3 0 1.4-.1 0 1.9-520.4 0z"/>
<text x="595.6" y="936.5" font-size="31" text-anchor="end">7.7</text>
<path fill="#fd3c1e" d="M86 900l3-.5 3-.4 3-.6 3 .3 3 .1 3-.6 3-.2 3-.2 3-.8 3 .5 3-1.3 3 0 3 .2 3-1.1 3-.4 3-.5 3-.2 3-1.1 3-.1 3 .1 3-.9 3-.6 3-.4 3-.6 3-.6 3-.4 3-1.2 3 0 3-.8 3-.2 3-.7 3-.8 3-.3 3-.7 3 0 3-.8 3-.3 3-1.1 3 .2 3-1.1 3-.1 3-.6 3-1 3 0 3-.6 3 0 3 0 3-.3 3 0 3-.6 3 .2 3 0 3 .1 3-.5 3 .2 3-.1 3-.5 3 .1 3 .3 3-.4 3 0 3 .5 3 0 3 0 3 .2 3 .1 3 .3 3 .3 3 .5 3 .5 3-.1 3 .4 3 .3 3 .1 3 .7 3 .5 3-.1 3 .8 3 0 3 .9 3 .4 3 .1 3 0 3 .8 3 .2 3 .4 3 .7 3 .8 3 0 3 .3 3 0 3 .7 3 .2 3 .9 3 .1 3 .5 3 .4 3 .3 3 .6 3 .2 3 .2 3 .4 3 .4 3 .5 3-.1 3 .6 3-.3 3 .4 3-.1 3 .8 3-.3 3 .2 3 .7 3-.2 3 .2 3 .6 3-.1 3 .5 3-.2 3 .5 3 .2 3-.1 3 .6 3-.4 3 .2 3 .2 3 .4 3-.2 3 .1 3 .3 3 .4 3-.3 3-.1 3 .4 3 .2 3-.1 3 .2 3-.4 3 .6 3 .1 3 .3 3 0 3 .2 3-.4 3 .5 3-.4 3 .3 3 .5 3 0 3-.6 3 .7 3-.2 3 0 3 .3 3 0 3 .2 3-.5 3 .3 3 .1 3-.4 3 .5 3 0 3-.1 3 .1 3 0 3 0 3 0 3 0 3-.1 3 .1 3 0 3 0 3-.2 1.4.2 0 1.8-520.4 0z"/>
<text x="595.6" y="888.5" font-size="31" text-anchor="end">10.1</text>
<path fill="#fd3c1e" d="M86 852.1l3-.1 3 .1 3-.3 3 0 3-.1 3-.8 3 .4 3-.6 3 .4 3-.6 3-.6 3 0 3-.3 3-.2 3-.1 3-.5 3 0 3-.5 3-.6 3-.7 3-.3 3 0 3-.2 3-.3 3-.9 3-.2 3-.6 3-.3 3-.9 3 .3 3-.7 3-.3 3-.2 3-.4 3-.8 3 .4 3-.6 3-.4 3-.7 3-.6 3-.3 3 0 3-.3 3-.5 3 .3 3-.7 3-.1 3-.3 3-.8 3 .3 3-.5 3-.7 3 .2 3-.2 3-.3 3-.2 3-.8 3 .1 3-.2 3 0 3 0 3 .3 3-.1 3-.3 3 .5 3 .2 3-.2 3-.3 3 .3 3 .2 3-.2 3 .5 3-.1 3 .7 3 .1 3 .1 3 0 3 .7 3 .2 3 .4 3 .9 3 0 3 .3 3 1 3 .8 3 .4 3 .2 3 .7 3-.3 3 1 3 .3 3-.3 3 .6 3-.1 3 .4 3 .7 3-.1 3 .6 3 .4 3 .2 3 .5 3 .5 3-.2 3 .5 3 .3 3-.2 3 .1 3-.2 3 .9 3 .3 3 .1 3 .6 3 0 3 0 3 0 3-.1 3 .5 3 .2 3 0 3 .1 3 .2 3 .4 3-.5 3 .5 3 .2 3 .3 3 .1 3-.1 3 0 3 0 3 .7 3-.1 3 0 3-.1 3 0 3 .7 3-.3 3 .3 3 .4 3-.8 3 .3 3 .4 3 .1 3-.3 3 .3 3 0 3 0 3 .3 3 .1 3 .1 3 0 3 0 3-.2 3 .2 3-.2 3-.1 3 .1 3 .2 3 0 3-.2 3 .2 3 0 3 0 3 0 3 0 3-.1 3 .1 3 0 3 0 3 0 3 0 3 0 3 0 1.4-.1 0 1.9-520.4 0z"/>
<text x="595.6" y="844.1" font-size="31" text-anchor="end">12.7</text>
<path fill="#e31905" d="M86 804.4l3 0 3 0 3 0 3 0 3-.4 3 0 3-.4 3-.4 3 0 3 .1 3-.5 3 0 3 .1 3-.3 3-.2 3-.3 3-.3 3-.6 3 .5 3-.9 3 .3 3-.3 3-.2 3-.2 3-.4 3 .1 3-.8 3 .2 3-.9 3 .5 3-.8 3-.1 3 0 3-1.2 3 .2 3-.1 3-.2 3-.1 3-.4 3-.3 3-.4 3-.2 3-.3 3 0 3-.5 3-.1 3 0 3-.4 3-.6 3-.1 3 0 3-.5 3-.4 3 .1 3 .3 3-.2 3-.1 3 .3 3-.5 3 .9 3-.6 3-.1 3 .6 3-.8 3 .2 3 .1 3-.2 3 .1 3 .2 3-.1 3 0 3 .2 3 .3 3-.1 3-.9 3 .9 3-.1 3 .1 3-.2 3 .4 3 .2 3 0 3 .9 3 .2 3 0 3 .1 3 .8 3 0 3 .4 3-.2 3 .9 3-.4 3 .8 3-.8 3 .8 3 .2 3-.4 3 .7 3 .1 3 .2 3 .4 3 .1 3 .6 3 .2 3 .2 3-.1 3 .2 3 .7 3-.3 3 .3 3 0 3 .4 3 .3 3 .1 3 .1 3 .2 3-.1 3 .4 3-.3 3 .4 3 .3 3-.3 3 .6 3 0 3-.3 3 0 3 .1 3 .2 3 .5 3 .1 3 .3 3 .4 3-.6 3-.3 3 .2 3 0 3 .4 3 .1 3 .5 3-.6 3 .4 3 .1 3 .1 3-.1 3 .6 3-.3 3 .1 3 .2 3-.1 3 .1 3-.4 3 .3 3-.1 3 .1 3 .1 3-.2 3-.3 3 .5 3-.2 3 .2 3 0 3 0 3 0 3-.1 3 .1 3 0 3 0 3 0 3 0 3 0 3 0 3 0 3 0 1.4-.2 0 2-520.4 0z"/>
<text x="595.6" y="792.8" font-size="31" text-anchor="end">14.7</text>
<path fill="#8a0505" d="M86 757.6l3 0 3-.1 3-.3 3-.3 3 .3 3-.4 3-.1 3 0 3-.2 3-.7 3 .6 3-.9 3 .8 3-.5 3-.4 3 .3 3-.6 3 0 3-.3 3 .1 3-.2 3-.7 3-.2 3 .1 3-.3 3-.8 3 .9 3-1.3 3-.2 3 0 3 .2 3 .1 3-.8 3-.3 3-.1 3-.4 3-.1 3-.5 3 .1 3-.2 3-.9 3 .4 3-.1 3-.1 3-.6 3-.3 3-.1 3 .2 3-.6 3-.2 3 .3 3-.6 3-.2 3 0 3-.1 3 .1 3-.6 3-.3 3 .3 3 .2 3-.6 3 .3 3 .2 3 0 3 0 3 0 3-.1 3 0 3 .6 3-.5 3 .7 3-.6 3 1.2 3-1.1 3 .9 3-.5 3 .4 3 .1 3 .1 3 .9 3-.3 3-.1 3 .7 3 .2 3-.2 3 .7 3 .1 3 .4 3 .2 3 0 3 .1 3 .6 3 0 3-.2 3 .5 3 .2 3 .3 3 .9 3-.5 3 .5 3 .5 3-.1 3 .2 3 .4 3-.1 3 .1 3 .3 3 .1 3-.1 3 0 3 .4 3 .5 3-.3 3 .5 3 0 3-.1 3-.5 3 .9 3-.1 3-.2 3 .6 3 0 3 .2 3-.2 3 .3 3-.1 3 .5 3-.2 3-.3 3 .5 3 0 3 0 3-.2 3 .7 3-.4 3 .7 3-.5 3 .2 3 .1 3 .1 3 .1 3-.2 3 .2 3 0 3-.1 3 .1 3 0 3 0 3-.2 3 .2 3 0 3 0 3 0 3 0 3 0 3 0 3-.2 3 .2 3 0 3 0 3-.2 3 .2 3 0 3 0 3 0 3 0 3 0 3-.2 3 .2 3 0 3 0 3 0 3 0 1.4-.1 0 1.9-520.4 0z"/>
<text x="595.6" y="745.5" font-size="31" text-anchor="end">16.0</text>
<path fill="#8a0505" d="M86 710.2l3-.2 3 .2 3-.4 3 .4 3-.2 3-.4 3 .1 3 .1 3 .2 3-1.1 3 .4 3-.3 3-.3 3 .2 3-.2 3 0 3-.5 3 0 3 0 3-.3 3-.1 3-.3 3 .1 3-.1 3-.2 3-.1 3 .1 3-.5 3 .3 3-.4 3 0 3-.2 3 .1 3-.1 3-.3 3-.2 3 .4 3-.4 3-.6 3 .2 3-.1 3 .1 3-.4 3-.2 3 .4 3-1 3 .1 3 .1 3-.1 3 0 3 0 3 .2 3-.7 3 1 3-.7 3-.4 3 0 3 0 3-.5 3 .6 3-.5 3 .1 3-.2 3 .1 3 .1 3-.4 3 .7 3-.7 3 .2 3 .1 3 .2 3-.1 3-.1 3 .2 3 0 3-.3 3 .4 3-.2 3-.1 3 .3 3 0 3 .2 3 .1 3-.1 3 .3 3 0 3-.2 3 .9 3-.2 3 .2 3 .4 3-.3 3 .3 3 .6 3-.5 3 .4 3 .8 3-.2 3-.2 3 .3 3 .3 3-.2 3 .3 3 .2 3 0 3 .5 3-.3 3 0 3 .2 3 0 3-.1 3 .3 3 0 3 .7 3 .1 3-.5 3-.6 3 .7 3 .4 3-.3 3 .4 3 .1 3-.2 3 .1 3-.1 3 .3 3-.1 3 .2 3 .6 3-.4 3 .4 3-.1 3-.4 3 .4 3 0 3-.2 3 .3 3 .5 3 0 3-.4 3 0 3 .2 3 .1 3 .2 3-.3 3-.1 3 .2 3-.4 3 .5 3 .1 3-.5 3 .5 3-.2 3 .1 3 0 3 .1 3 0 3-.1 3-.3 3 .4 3 0 3 0 3 0 3 0 3 0 3 0 3 0 3 0 3 0 3 0 3 0 3-.3 3 .3 1.4 0 0 1.8-520.4 0z"/>
<text x="595.6" y="698.1" font-size="31" text-anchor="end">18.2</text>
<path fill="#4b0000" d="M86 661.5l3 .1 3 0 3-.2 3 .2 3-.4 3 .4 3-.1 3 .1 3 0 3-.2 3 .2 3 0 3-.2 3 .2 3 0 3-.3 3 .1 3 .2 3 0 3-.2 3 .2 3 0 3-.2 3 .1 3 .1 3-.4 3 .2 3-.3 3 .4 3 .1 3-.3 3 .3 3-.3 3 .3 3-.1 3-.2 3 .2 3-.2 3 .3 3 0 3 0 3-.4 3 .4 3 0 3 0 3 0 3 0 3 0 3 0 3 0 3-.6 3 .6 3 0 3 0 3 0 3 0 3 0 3-.1 3-.1 3 .2 3 0 3 0 3 0 3-.1 3-.2 3 .3 3 0 3-.5 3 .3 3 .2 3 0 3-.2 3 .2 3 0 3 0 3 0 3-.3 3 .3 3 0 3 0 3-.3 3 .3 3-.2 3-.3 3 .5 3-.7 3 .7 3 0 3 0 3 0 3 0 3-.2 3 .2 3 0 3-.1 3-.3 3 .3 3-.1 3 .1 3 .1 3 0 3 0 3 0 3-.1 3 .1 3-.4 3 .4 3-.4 3 .2 3 .2 3-.2 3 .2 3 0 3 0 3-.1 3-.1 3 0 3 .2 3-.2 3 .2 3-.2 3 .2 3-.5 3 .5 3 0 3-.3 3 .3 3 0 3 0 3-.4 3 .4 3-.4 3 .3 3-.2 3 .3 3-.2 3 .2 3 0 3-.2 3 .2 3-.1 3 0 3 0 3-.1 3 .1 3 .1 3 0 3 0 3 0 3 0 3 0 3-.5 3 .5 3 0 3 0 3 0 3-.1 3 .1 3-.1 3 .1 3 0 3 0 3 0 3 0 3 0 3 0 3-.1 3-.2 3 .3 3 0 3 0 3 0 3-.1 1.4-.2 0 2.1-520.4 0z"/>
<text x="595.6" y="648.3" font-size="31" text-anchor="end">20.4</text>
<text x="98.7" y="611.3" font-size="31.5">355 nm</text>
<text x="602.3" y="611.3" font-size="32" text-anchor="end">P (GPa)</text>
<text x="286.8" y="1178.9" font-size="40"><tspan>λ</tspan><tspan font-weight="bold" dx="10">(nm)</tspan></text>
<rect x="763.9" y="573.6" width="522.1" height="521.4" fill="none" stroke="#000" stroke-width="2.4"/>
<line x1="763.9" y1="1095" x2="763.9" y2="1107.5" stroke="#000" stroke-width="2.2"/>
<text x="763.9" y="1138.7" font-size="28.5" text-anchor="middle">550</text>
<line x1="790" y1="1095" x2="790" y2="1101.5" stroke="#000" stroke-width="2.2"/>
<line x1="816.1" y1="1095" x2="816.1" y2="1101.5" stroke="#000" stroke-width="2.2"/>
<line x1="842.2" y1="1095" x2="842.2" y2="1101.5" stroke="#000" stroke-width="2.2"/>
<line x1="868.3" y1="1095" x2="868.3" y2="1101.5" stroke="#000" stroke-width="2.2"/>
<line x1="894.4" y1="1095" x2="894.4" y2="1107.5" stroke="#000" stroke-width="2.2"/>
<text x="894.4" y="1138.7" font-size="28.5" text-anchor="middle">600</text>
<line x1="920.5" y1="1095" x2="920.5" y2="1101.5" stroke="#000" stroke-width="2.2"/>
<line x1="946.6" y1="1095" x2="946.6" y2="1101.5" stroke="#000" stroke-width="2.2"/>
<line x1="972.7" y1="1095" x2="972.7" y2="1101.5" stroke="#000" stroke-width="2.2"/>
<line x1="998.8" y1="1095" x2="998.8" y2="1101.5" stroke="#000" stroke-width="2.2"/>
<line x1="1025" y1="1095" x2="1025" y2="1107.5" stroke="#000" stroke-width="2.2"/>
<text x="1025" y="1138.7" font-size="28.5" text-anchor="middle">650</text>
<line x1="1051.1" y1="1095" x2="1051.1" y2="1101.5" stroke="#000" stroke-width="2.2"/>
<line x1="1077.2" y1="1095" x2="1077.2" y2="1101.5" stroke="#000" stroke-width="2.2"/>
<line x1="1103.3" y1="1095" x2="1103.3" y2="1101.5" stroke="#000" stroke-width="2.2"/>
<line x1="1129.4" y1="1095" x2="1129.4" y2="1101.5" stroke="#000" stroke-width="2.2"/>
<line x1="1155.5" y1="1095" x2="1155.5" y2="1107.5" stroke="#000" stroke-width="2.2"/>
<text x="1155.5" y="1138.7" font-size="28.5" text-anchor="middle">700</text>
<line x1="1181.6" y1="1095" x2="1181.6" y2="1101.5" stroke="#000" stroke-width="2.2"/>
<line x1="1207.7" y1="1095" x2="1207.7" y2="1101.5" stroke="#000" stroke-width="2.2"/>
<line x1="1233.8" y1="1095" x2="1233.8" y2="1101.5" stroke="#000" stroke-width="2.2"/>
<line x1="1259.9" y1="1095" x2="1259.9" y2="1101.5" stroke="#000" stroke-width="2.2"/>
<line x1="1286" y1="1095" x2="1286" y2="1107.5" stroke="#000" stroke-width="2.2"/>
<text x="1286" y="1138.7" font-size="28.5" text-anchor="middle">750</text>
<path fill="#ffc514" d="M764.9 1091.8l3 0 3-.4 3 .1 3 0 3 .3 3-.4 3 .4 3-.2 3 .2 3-.2 3 .1 3 0 3-.1 3 .2 3-.1 3 .1 3 0 3-.2 3 0 3 .1 3-.5 3 .5 3-.2 3-.1 3-.2 3 .3 3 .2 3-.2 3-.1 3 .1 3 .1 3-.3 3 .2 3-.2 3 .3 3 .2 3-.2 3 .2 3-.4 3-.1 3 .2 3 .1 3 .1 3 0 3-.2 3 .3 3-.2 3 .2 3-.1 3 0 3 0 3-.3 3 .3 3 0 3-.2 3 .3 3-.2 3-.3 3-.1 3 .2 3-.3 3 .6 3-.4 3 .4 3-.4 3 .4 3 .1 3-.1 3-.5 3 .4 3-.1 3 .3 3-.1 3 .1 3-.1 3-.4 3 .1 3 .4 3-.4 3 .2 3 .2 3-.2 3-.2 3 .4 3-.1 3-.4 3 .5 3-.1 3 .1 3-.4 3 .4 3-.3 3 .3 3-.5 3 .4 3 0 3-.4 3-.2 3 .3 3 0 3 0 3 .2 3 .2 3-.1 3 .1 3-.1 3 .1 3 0 3-.2 3 .1 3 .1 3-.6 3 .5 3 .1 3-.5 3 .4 3 0 3 .1 3 0 3-.2 3 .1 3-.6 3 .7 3-.1 3-.4 3 .1 3 .1 3 0 3 .1 3-.2 3 .3 3-.2 3 .1 3-.4 3 .2 3 .2 3-.2 3 .1 3 0 3-.3 3 .6 3-.6 3 .6 3 0 3-.1 3-.1 3-.2 3 .4 3 0 3-.4 3 .4 3 0 3 0 3-.1 3-.2 3 .1 3 .1 3 .1 3-.5 3 .4 3-.4 3 .3 3-.1 3-.1 3 .4 3 0 3-.5 3 .1 3 .3 3-.2 3 .2 3-.8 3 .6 1.1 0 0 2.1-520.1 0z"/>
<path fill="#ff9614" d="M764.9 1041.5l3 .2 3 .1 3-.4 3 .4 3-.1 3 .1 3-.1 3 .2 3-.5 3 .6 3-.1 3-.4 3 .3 3-.1 3-.5 3 .5 3-.2 3 0 3-.1 3 .1 3 .1 3 0 3-.4 3 .3 3-.2 3 0 3 .2 3 .3 3 0 3-.4 3 0 3 0 3 .2 3 .2 3-.2 3 .2 3-.1 3 .3 3-.9 3 0 3 .5 3 .2 3-.3 3 .2 3-.4 3 0 3 .1 3 .4 3 0 3-.4 3 .2 3-.2 3 .2 3-.3 3 .3 3-.2 3 .2 3-.2 3 0 3 .2 3-.1 3 .1 3-.1 3 .3 3-.4 3 .4 3 .1 3-.4 3 .5 3 0 3-.3 3-.4 3-.1 3 .4 3 .4 3-.3 3 .1 3-.3 3-.1 3 .3 3-.4 3 .3 3 .1 3-.1 3 .1 3-.2 3 .2 3 0 3-.5 3 .1 3 .1 3 .4 3-.1 3 0 3-.1 3 .2 3 0 3-.3 3-.3 3 .6 3-.3 3 .1 3 0 3-.3 3-.1 3 .6 3 .1 3-.1 3-.1 3 0 3-.2 3 .1 3-.1 3 0 3 .2 3 .3 3-.9 3 .7 3 0 3-.5 3 .4 3-.1 3-.1 3 0 3-.3 3 .8 3 0 3 0 3-.5 3 .2 3 0 3-.3 3 .1 3 .2 3-.2 3-.3 3 .1 3 .4 3-.2 3 0 3 .4 3-.3 3-.2 3 .2 3 .4 3-.7 3 .7 3 0 3-.4 3-.1 3 .5 3-.3 3-.2 3 .5 3-.4 3 .1 3-.1 3-.1 3 .1 3-.1 3 .2 3 .2 3 0 3 0 3 .1 3-.2 3-.4 3 .4 3-.6 3 .2 3 .3 3-.5 3 .8 1.1-.7 0 2.5-520.1 0z"/>
<path fill="#ff9114" d="M764.9 991.4l3-.1 3-.3 3 .1 3-.4 3-.4 3 .8 3-.4 3-.7 3 .2 3 0 3 .2 3 .2 3-.4 3-.3 3 .2 3-.3 3 0 3-.3 3-.2 3 .6 3-.5 3 0 3-.3 3 0 3-.1 3 .2 3 0 3-.2 3-.4 3 .8 3-.6 3-.1 3-.5 3 0 3 .1 3-.7 3 .1 3 .2 3 .4 3-.6 3-.5 3-.2 3 .4 3-.6 3 0 3 .4 3-.6 3-.2 3-.2 3 .4 3-.1 3-.7 3-.2 3 .2 3 .3 3-.4 3-.5 3 .4 3 0 3-.2 3 0 3-.1 3-.1 3-.1 3-.1 3 0 3-.1 3 .6 3 0 3-.1 3 .1 3 0 3-.2 3 .3 3-.1 3 .1 3-.4 3 .4 3 .3 3-.1 3-.1 3-.1 3 .3 3 .5 3-.4 3 .5 3-.3 3 .4 3-.3 3 .3 3 .1 3 .1 3-.4 3 .3 3-.1 3 .2 3 0 3 .1 3 .3 3-.4 3 .1 3 .2 3 .1 3-.1 3 .4 3-.3 3 .8 3-.4 3 .3 3-.5 3 .3 3 .2 3 .4 3-.3 3 .4 3-.5 3 .6 3-.4 3-.2 3 0 3 .6 3-.1 3 .2 3 0 3 .2 3 .4 3-.4 3 .2 3-.1 3-.3 3 .4 3 .5 3-.5 3 .8 3-.3 3 0 3 .2 3-.2 3 .1 3 .3 3-.4 3 .2 3-.2 3 .3 3 .8 3-.4 3-.5 3-.1 3 .6 3 .1 3-.3 3 .6 3-.2 3 .1 3 .1 3 .1 3-.3 3-.1 3 .6 3-.3 3-.2 3 .4 3-.2 3 .3 3 .5 3-.1 3-.5 3-.1 3 .3 3-.2 3 .4 3 0 3 .2 1.1-.2 0 2-520.1 0z"/>
<path fill="#ff6e0a" d="M764.9 941.1l3-.3 3 .1 3-.4 3-.6 3 .4 3-.4 3 0 3 .1 3-.6 3-.6 3-.1 3 .3 3-.8 3 .2 3-.1 3-.6 3 .1 3 0 3-.5 3-.1 3 0 3-.6 3-.1 3 .3 3-.3 3-.6 3 .2 3 .3 3-1 3 .4 3-.1 3-.4 3 .1 3-.5 3 .4 3-.1 3-.8 3 0 3-.1 3-.3 3 0 3-.5 3 .3 3-.4 3-.1 3 0 3 0 3-.7 3 .3 3-.1 3-.3 3 .3 3-.7 3 0 3 .1 3-.3 3 .5 3-.3 3 .3 3-.7 3 .1 3 .6 3-.6 3 .5 3-.4 3 .3 3 .2 3-.2 3-.3 3 .2 3 .5 3-.2 3 .2 3-.1 3 .1 3-.1 3-.1 3 .5 3-.1 3-.4 3 .5 3 .3 3 .4 3-.8 3 .4 3 .2 3 .2 3-.3 3 .3 3-.1 3 .2 3-.1 3 .3 3-.1 3 .2 3 0 3 .3 3 .3 3-.4 3-.1 3 .2 3 0 3-.2 3 .5 3 0 3 .4 3-.1 3 .3 3 .1 3-.2 3 .1 3 0 3 .1 3 .5 3-.3 3 .1 3 0 3 .7 3-.3 3 .1 3-.1 3 .4 3-.2 3 .2 3-.3 3 .2 3 .6 3 .2 3-.5 3 .5 3 .1 3 .8 3-.9 3 .2 3 0 3 .6 3 .1 3-.2 3 .5 3 .2 3-.5 3 .3 3 0 3-.1 3 .2 3 .1 3-.1 3 .3 3 .4 3-.4 3 .2 3 0 3 .4 3 0 3 .4 3-.3 3-.2 3 .7 3-.2 3 .5 3 0 3-.8 3 .3 3 .6 3-.1 3-.3 3 .5 3 .6 3-.1 3-.3 3 .4 3 .1 3 0 1.1 0 0 1.8-520.1 0z"/>
<path fill="#ff460a" d="M764.9 890.2l3-.8 3 .6 3-.9 3-.4 3-.6 3-.3 3-.4 3-.4 3-.6 3 0 3-.4 3-.5 3-.5 3-.4 3-.4 3 0 3-.5 3 0 3-.8 3 .1 3-.4 3-.5 3 .2 3-.5 3-.1 3-.2 3-.4 3-.5 3-.1 3-.1 3-.6 3 0 3-.5 3-.3 3-.3 3-.4 3 0 3-.1 3-.8 3 .1 3-.1 3-.4 3 .1 3-.6 3 .2 3-.2 3-.3 3-.4 3 .4 3-.6 3 0 3-.5 3 0 3 .1 3-.5 3 .4 3 .3 3-.8 3 .2 3 .3 3-.3 3 .3 3-.1 3-.5 3-.2 3 .7 3 .3 3-.4 3 .6 3-.7 3 .6 3-.1 3 .1 3 0 3 0 3 .2 3-.2 3 .6 3-.4 3 .5 3-.3 3 0 3 .6 3 0 3 0 3 .5 3-.5 3 .5 3 0 3 .4 3-.6 3 .3 3 .1 3 0 3-.1 3 .5 3 .1 3-.1 3 .3 3-.2 3 .9 3-.1 3 .1 3 .3 3-.1 3 .1 3 .2 3 .1 3 .2 3 .6 3-.2 3 .6 3 0 3 .6 3-.4 3 .1 3 .2 3-.2 3 1 3 .1 3 .1 3 .2 3 .4 3-.3 3 .5 3 .2 3 .3 3 .3 3 0 3-.2 3 .5 3 0 3 .2 3-.1 3 .4 3 .2 3 .1 3 .4 3 .5 3-.3 3-.1 3 .3 3 .5 3-.1 3 .4 3 0 3 .3 3-.2 3 .6 3-.1 3 .3 3 .3 3-.7 3 1 3 .5 3-.5 3 0 3 .3 3 .3 3 0 3-.1 3 .2 3 0 3 .4 3 0 3 0 3 .7 3 0 3 .3 3-.5 3 .9 3 .1 3-.1 1.1-.2 0 2.1-520.1 0z"/>
<path fill="#fa1e00" d="M764.9 835.2l3-.7 3-1.1 3-1.2 3-1 3-1.4 3-1.5 3-.7 3-.9 3-1 3-1.2 3-1.3 3 .1 3-1.4 3-.8 3-1.2 3-.9 3-.5 3-.8 3-1.3 3-.7 3-.8 3-.8 3-.6 3-.5 3-1 3 .4 3-1.4 3-.3 3 0 3-1 3-.4 3-.3 3-.2 3-1 3 .1 3-1 3 .3 3-.6 3-.5 3-.6 3 0 3-.5 3-.3 3-1.1 3-.1 3-.4 3-.5 3-1 3-.5 3 .1 3-.7 3-.3 3-.7 3-.1 3-.5 3-.4 3-.2 3 .3 3-.6 3 0 3 .3 3 .4 3 .4 3 .2 3 .4 3-.1 3 .3 3 .8 3-.2 3 .4 3-.1 3 .5 3-.2 3 .4 3 .3 3 .2 3 .4 3 .3 3 .2 3 0 3 .1 3 .3 3 .2 3 .1 3 .9 3-.5 3 .7 3 0 3-.1 3 1.3 3-.4 3 .1 3 1.2 3-.4 3 .4 3 .7 3-.3 3 .3 3 .7 3 .3 3 0 3 .2 3 .3 3 .8 3 .6 3 .3 3 .2 3 .3 3-.3 3 .9 3 .3 3 .8 3 0 3 .5 3 .4 3 .4 3 .4 3 .8 3 .3 3 .1 3 .1 3 1 3 .1 3 .2 3 .2 3 .3 3 .8 3 .4 3 .1 3 .4 3 .8 3 .1 3 .2 3 .2 3 .8 3 .4 3-.2 3 .1 3 1.1 3 .4 3 .5 3 .3 3-.3 3 1.1 3 0 3 .9 3 .1 3 .2 3 .2 3 .5 3 .6 3 .3 3 .7 3 0 3 .5 3 .1 3 .4 3 .4 3 .3 3 .9 3 .5 3-.2 3 .4 3 .8 3 .2 3 .4 3 0 3 1.1 3 0 3 .3 3 .2 3 .5 3 .3 1.1.1 0 2-520.1 0z"/>
<path fill="#eb0505" d="M764.9 795.5l3-.6 3-.7 3-.7 3-.4 3-.9 3-.5 3-.7 3-.8 3-.3 3-.4 3-.6 3-.7 3-.6 3 .3 3-.9 3-.4 3-.4 3 .2 3-.3 3-.4 3-.1 3 0 3-.2 3-.2 3 .1 3 .2 3-.3 3 .2 3 .4 3 .2 3 .1 3-.1 3 .3 3-.4 3 .1 3-.1 3 .2 3-.5 3 0 3 .4 3-.6 3-.5 3 .5 3-.1 3-.6 3-.2 3-.1 3 0 3 .2 3-.2 3-.8 3 .6 3-.7 3 .2 3-.2 3-.2 3-.2 3 .7 3-.5 3 .3 3-.5 3 .4 3-.2 3 .2 3 .2 3-.3 3 .2 3 .2 3 .3 3 .1 3-.3 3 0 3 .3 3 .4 3 .1 3-.4 3 0 3 .4 3 .4 3 .3 3-.3 3 .3 3 .4 3-.3 3 .5 3 .3 3 0 3 .3 3-.4 3-.1 3 .9 3-.1 3 .3 3-.1 3-.2 3 .3 3 .2 3 .1 3 .3 3 .2 3 0 3-.2 3 .1 3 .7 3 .1 3 0 3 .8 3-.4 3 .4 3 .2 3-.2 3 .6 3 0 3 .1 3-.3 3 .3 3 .1 3 .3 3 .2 3 .3 3-.4 3 .6 3 .1 3 .3 3-.7 3 .9 3-.3 3 .4 3 0 3 .1 3 .6 3 0 3 .2 3-.1 3-.2 3 .6 3 0 3 .4 3-.2 3-.1 3 .3 3-.2 3 .3 3 .1 3 .2 3 0 3 0 3 .3 3 .2 3 .1 3 .1 3-.1 3 .3 3-.3 3-.2 3 .4 3 .4 3-.6 3-.1 3 1 3-.6 3 .6 3-.3 3 .5 3-.5 3 .1 3 .4 3 0 3 .2 3 .1 3-.2 3 .1 3 0 1.1 0 0 1.9-520.1 0z"/>
<path fill="#8c0000" d="M764.9 750.4l3-.3 3-.5 3 .2 3-.1 3-.4 3-1 3 0 3 .4 3 0 3-1 3 .4 3-.2 3-.5 3-.5 3 0 3-.1 3 .1 3-.2 3-.6 3 .1 3-.1 3-.2 3 .2 3-.5 3 0 3-.5 3 .3 3-.3 3 .6 3-.5 3-.1 3-.1 3-.4 3 .1 3 0 3 .1 3-.2 3-.5 3 .2 3 0 3-.5 3 .5 3 0 3-.5 3 .7 3-.5 3-.3 3 .6 3-.7 3 .1 3-.5 3 .2 3 .6 3-.7 3 0 3 .2 3-.2 3-.1 3 0 3 .3 3 .4 3-.2 3 .4 3-.7 3 .3 3 .1 3 .1 3 .1 3-.5 3 .9 3-.3 3 0 3 .3 3-.2 3 0 3 .3 3-.3 3 .3 3 .6 3 0 3-.3 3-.2 3 .7 3 .2 3 0 3-.2 3 .3 3 0 3 .2 3 .2 3-.1 3 0 3 .3 3 0 3-.2 3 .3 3 .2 3 .1 3-.2 3 .2 3-.2 3 .4 3 .3 3-.1 3-.2 3 .4 3-.1 3 .2 3-.4 3 .3 3 .3 3 .2 3-.4 3 .1 3 .7 3-.4 3 0 3 .2 3-.2 3-.3 3 .5 3 0 3 0 3 .2 3-.2 3 .1 3-.3 3 .8 3 .1 3-.6 3 0 3 .5 3 .2 3-.3 3-.1 3 .8 3-.6 3 .3 3 0 3 .1 3 .3 3 0 3-.6 3 .4 3 .3 3-.2 3-.1 3 .4 3-.3 3 .2 3 .3 3-.1 3 .4 3-.2 3-.1 3 .3 3-.3 3 .1 3 .1 3-.1 3 .2 3 0 3 .1 3-.2 3 .4 3-.1 3 0 3 .1 3-.1 3 0 3 .3 3 0 3 0 1.1 0 0 1.8-520.1 0z"/>
<path fill="#820000" d="M764.9 703.9l3 0 3 0 3 0 3 0 3 0 3-.2 3 .2 3 0 3 0 3 0 3 0 3 0 3 0 3 0 3 0 3-.4 3 .1 3 .3 3-.2 3 .2 3 0 3-.3 3 .2 3 .1 3 0 3 0 3 0 3 0 3 0 3 0 3-.4 3 .3 3 0 3 .1 3-.3 3 .3 3-.2 3 .2 3-.1 3 0 3 .1 3-.6 3 .6 3 0 3-.4 3 .4 3-.3 3 .3 3-.3 3 .3 3-.4 3 0 3 0 3-.2 3 .4 3-.6 3-.2 3-.4 3-.2 3-.8 3 .4 3-.1 3 0 3 0 3-.3 3 0 3-.2 3 .9 3-.3 3-.1 3 .4 3 .2 3 .4 3 .5 3 .2 3-.1 3-.1 3 .3 3 .3 3-.3 3 .3 3 0 3-.3 3-.4 3 .3 3 .2 3 .2 3-.2 3-.1 3 .3 3-.1 3-.1 3 .2 3-.6 3 .6 3-.6 3 .3 3-.3 3 .2 3 .4 3 0 3 0 3 0 3-.5 3 .5 3-.1 3 .1 3 0 3 0 3-.3 3 .3 3 0 3-.2 3 .2 3-.1 3-.4 3 .5 3 0 3 0 3 0 3 0 3 0 3 0 3-.4 3 .4 3-.1 3 .1 3 0 3 0 3 0 3 0 3-.1 3 .1 3 0 3 0 3-.1 3 .1 3 0 3 0 3 0 3 0 3 0 3 0 3 0 3 0 3 0 3 0 3 0 3-.1 3 .1 3 0 3 0 3 0 3-.3 3 .3 3 0 3 0 3 0 3-.2 3 .2 3-.3 3 .1 3 .1 3 .1 3 0 3 0 3-.1 3 .1 3 0 3 0 3-.1 3 .1 3-.1 1.1 0 0 1.9-520.1 0z"/>
<path fill="#6e0a0a" d="M764.9 656.7l3 0 3 0 3-.2 3-.1 3 .3 3 0 3 0 3-.2 3 .2 3 0 3-.1 3-.2 3-.1 3 .4 3-.1 3 .1 3 0 3-.2 3 .2 3-.4 3 .3 3 .1 3 0 3-.1 3-.1 3 .2 3 0 3-.1 3 .1 3 0 3 0 3 0 3-.2 3 .1 3 .1 3 0 3 0 3 0 3 0 3-.1 3 0 3 0 3 .1 3-.4 3 .3 3-.2 3 .3 3 0 3 0 3 0 3-.3 3 .3 3 0 3 0 3 0 3-.3 3 .3 3 0 3 0 3-.3 3 0 3 .1 3 .2 3-.3 3 .1 3-.1 3 .1 3 .1 3 0 3 .1 3 0 3 0 3 0 3-.4 3 .4 3-.1 3 .1 3-.1 3 .1 3 0 3-.2 3 .2 3-.1 3 0 3 .1 3-.2 3 .2 3 0 3 0 3 0 3 0 3 0 3 0 3-.1 3 0 3 .1 3 0 3-.2 3 .2 3-.2 3 .2 3 0 3 0 3-.2 3 .2 3 0 3-.3 3 .2 3-.1 3 .2 3-.2 3 .1 3 .1 3 0 3-.1 3-.1 3 .1 3 .1 3 0 3 0 3 0 3 0 3-.5 3-.1 3 .5 3 0 3 .1 3 0 3 0 3 0 3-.1 3 .1 3 0 3 0 3 0 3 0 3-.3 3 .3 3 0 3-.2 3 .1 3-.1 3 0 3-.3 3 .5 3-.2 3 .2 3 0 3-.1 3 0 3 0 3 .1 3-.2 3 .2 3 0 3-.3 3 .3 3-.3 3 .3 3 0 3-.1 3-.1 3 .1 3 .1 3 0 3 0 3 0 3 0 3 0 3 0 3 0 3-.1 3-.2 1.1-.1 0 2.2-520.1 0z"/>
<text x="1271.3" y="1088" font-size="31" text-anchor="end">0</text>
<text x="1271.3" y="1036.3" font-size="31" text-anchor="end">3.4</text>
<text x="1271.3" y="982.7" font-size="31" text-anchor="end">4.7</text>
<text x="1271.3" y="932.8" font-size="31" text-anchor="end">6.3</text>
<text x="1271.3" y="879.2" font-size="31" text-anchor="end">7.2</text>
<text x="1271.3" y="834.9" font-size="31" text-anchor="end">10.8</text>
<text x="1271.3" y="794.2" font-size="31" text-anchor="end">12.5</text>
<text x="1271.3" y="746.2" font-size="31" text-anchor="end">15.1</text>
<text x="1271.3" y="698.1" font-size="31" text-anchor="end">16.3</text>
<text x="1271.3" y="653.8" font-size="31" text-anchor="end">20.5</text>
<text x="777.6" y="611.3" font-size="31.5">532 nm</text>
<text x="1278.3" y="611.3" font-size="32" text-anchor="end">P (GPa)</text>
<text x="966" y="1178.9" font-size="40"><tspan>λ</tspan><tspan font-weight="bold" dx="10">(nm)</tspan></text>
<rect x="1440.9" y="573.6" width="522.3" height="521.4" fill="none" stroke="#000" stroke-width="2.4"/>
<line x1="1440.9" y1="1095" x2="1440.9" y2="1107.5" stroke="#000" stroke-width="2.2"/>
<text x="1440.9" y="1138.7" font-size="28.5" text-anchor="middle">650</text>
<line x1="1467" y1="1095" x2="1467" y2="1101.5" stroke="#000" stroke-width="2.2"/>
<line x1="1493.1" y1="1095" x2="1493.1" y2="1101.5" stroke="#000" stroke-width="2.2"/>
<line x1="1519.2" y1="1095" x2="1519.2" y2="1101.5" stroke="#000" stroke-width="2.2"/>
<line x1="1545.4" y1="1095" x2="1545.4" y2="1101.5" stroke="#000" stroke-width="2.2"/>
<line x1="1571.5" y1="1095" x2="1571.5" y2="1107.5" stroke="#000" stroke-width="2.2"/>
<text x="1571.5" y="1138.7" font-size="28.5" text-anchor="middle">700</text>
<line x1="1597.6" y1="1095" x2="1597.6" y2="1101.5" stroke="#000" stroke-width="2.2"/>
<line x1="1623.7" y1="1095" x2="1623.7" y2="1101.5" stroke="#000" stroke-width="2.2"/>
<line x1="1649.8" y1="1095" x2="1649.8" y2="1101.5" stroke="#000" stroke-width="2.2"/>
<line x1="1675.9" y1="1095" x2="1675.9" y2="1101.5" stroke="#000" stroke-width="2.2"/>
<line x1="1702.1" y1="1095" x2="1702.1" y2="1107.5" stroke="#000" stroke-width="2.2"/>
<text x="1702.1" y="1138.7" font-size="28.5" text-anchor="middle">750</text>
<line x1="1728.2" y1="1095" x2="1728.2" y2="1101.5" stroke="#000" stroke-width="2.2"/>
<line x1="1754.3" y1="1095" x2="1754.3" y2="1101.5" stroke="#000" stroke-width="2.2"/>
<line x1="1780.4" y1="1095" x2="1780.4" y2="1101.5" stroke="#000" stroke-width="2.2"/>
<line x1="1806.5" y1="1095" x2="1806.5" y2="1101.5" stroke="#000" stroke-width="2.2"/>
<line x1="1832.6" y1="1095" x2="1832.6" y2="1107.5" stroke="#000" stroke-width="2.2"/>
<text x="1832.6" y="1138.7" font-size="28.5" text-anchor="middle">800</text>
<line x1="1858.7" y1="1095" x2="1858.7" y2="1101.5" stroke="#000" stroke-width="2.2"/>
<line x1="1884.9" y1="1095" x2="1884.9" y2="1101.5" stroke="#000" stroke-width="2.2"/>
<line x1="1911" y1="1095" x2="1911" y2="1101.5" stroke="#000" stroke-width="2.2"/>
<line x1="1937.1" y1="1095" x2="1937.1" y2="1101.5" stroke="#000" stroke-width="2.2"/>
<line x1="1963.2" y1="1095" x2="1963.2" y2="1107.5" stroke="#000" stroke-width="2.2"/>
<text x="1963.2" y="1138.7" font-size="28.5" text-anchor="middle">850</text>
<path fill="#ffc814" d="M1441.9 1089.8l1.5 0 1.5 0 1.5-.5 1.5-.2 1.5.6 1.5 0 1.5-.1 1.5.1 1.5 0 1.5-.4 1.5.4 1.5 0 1.5-.1 1.5-1.2 1.5.7 1.5.5 1.5 0 1.5 0 1.5-.3 1.5.2 1.5 0 1.5-1.5 1.5 1.5 1.5 0 1.5 0 1.5 0 1.5-.3 1.5.2 1.5 0 1.5 0 1.5 0 1.5-.2 1.5-.7 1.5.9 1.5-.1 1.5 0 1.5-.9 1.5.9 1.5 0 1.5 0 1.5-.3 1.5 0 1.5-1.2 1.5 1.4 1.5-.3 1.5.3 1.5 0 1.5-.3 1.5.3 1.5-.1 1.5 0 1.5-.3 1.5.3 1.5-.8 1.5.6 1.5-.2 1.5.3 1.5 0 1.5 0 1.5 0 1.5 0 1.5-.1 1.5.1 1.5-.1 1.5-.8 1.5.8 1.5-.1 1.5.1 1.5 0 1.5-.8 1.5.7 1.5 0 1.5 0 1.5-.1 1.5.1 1.5-.3 1.5.2 1.5 0 1.5-.8 1.5.8 1.5-.1 1.5-.4 1.5.4 1.5.1 1.5-.1 1.5-.5 1.5-.7 1.5 1.2 1.5-.2 1.5.1 1.5.1 1.5-.1 1.5 0 1.5-.1 1.5.1 1.5 0 1.5-.4 1.5.4 1.5-.7 1.5.4 1.5.1 1.5.1 1.5-.4 1.5.2 1.5-.4 1.5.5 1.5-.5 1.5.2 1.5.1 1.5-.1 1.5-.6 1.5.9 1.5-.4 1.5.3 1.5-.2 1.5.2 1.5-.3 1.5.3 1.5 0 1.5-.1 1.5-.7 1.5.3 1.5.4 1.5 0 1.5-.2 1.5.2 1.5-.2 1.5.1 1.5 0 1.5 0 1.5 0 1.5-.3 1.5.3 1.5-.1 1.5 0 1.5 0 1.5-.1 1.5.1 1.5-.4 1.5.3 1.5 0 1.5-.7 1.5.4 1.5.3 1.5-1.1 1.5-.5 1.5-.2 1.5 1.7 1.5-.9 1.5.9 1.5 0 1.5 0 1.5-1.8 1.5 1.7 1.5 0 1.5 0 1.5-.2 1.5.2 1.5-.5 1.5-.1 1.5.5 1.5 0 1.5 0 1.5 0 1.5 0 1.5-1.5 1.5 1 1.5.4 1.5 0 1.5-2.2 1.5 1.5 1.5.7 1.5 0 1.5-.8 1.5.7 1.5 0 1.5 0 1.5 0 1.5 0 1.5-1 1.5.3 1.5 0 1.5.2 1.5.4 1.5-.9 1.5.9 1.5-.3 1.5 0 1.5-.6 1.5.8 1.5-.7 1.5.7 1.5-.3 1.5.2 1.5-.1 1.5.1 1.5 0 1.5-.5 1.5.4 1.5-.1 1.5.1 1.5 0 1.5 0 1.5 0 1.5 0 1.5 0 1.5-.3 1.5 0 1.5-.8 1.5 1 1.5 0 1.5 0 1.5 0 1.5-.6 1.5-.6 1.5 1.1 1.5 0 1.5-.1 1.5.1 1.5-1.2 1.5-.3 1.5 1.4 1.5-.6 1.5.6 1.5-3 1.5 3 1.5-.1 1.5-1.5 1.5 1.5 1.5-1.2 1.5 1.2 1.5-.1 1.5 0 1.5 0 1.5-.5 1.5.5 1.5-2.2 1.5-.4 1.5 2.6 1.5-.3 1.5.2 1.5-.6 1.5.6 1.5 0 1.5 0 1.5-.6 1.5.5 1.5 0 1.5-.9 1.5.2 1.5.7 1.5 0 1.5 0 1.5-1.8 1.5 1.7 1.5-.6 1.5.6 1.5 0 1.5 0 1.5-.1 1.5-.6 1.5.6 1.5 0 1.5-.6 1.5.6 1.5 0 1.5-.9 1.5.8 1.5-2.5 1.5 2.1 1.5.4 1.5 0 1.5-.2 1.5-1.9 1.5 1.6 1.5.3 1.5.1 1.5 0 1.5-1.6 1.5 1.5 1.5 0 1.5-.3 1.5.3 1.5 0 1.5-.3 1.5.2 1.5 0 1.5-1 1.5 1 1.5 0 1.5 0 1.5-.4 1.5-1.2 1.5 1.5 1.5-.7 1.5.7 1.5 0 1.5 0 1.5-.1 1.5-.4 1.5.4 1.5 0 1.5 0 1.5-1.6 1.5 1 1.5.5 1.5 0 1.5 0 1.5 0 1.5-.8 1.5.8 1.5-.1 1.5-2.8 1.5 2.4 1.5-1.1 1.5 1.2 1.5.3 1.5-.1 1.5-2.5 1.5-.1 1.5 2.6 1.5 0 1.5-.4 1.5.4 1.5-.2 1.5-2 1.5 2.1 1.5 0 1.5-.5 1.5.5 1.5-.6 1.5-1.4 1.5 1.3 1.5.1 1.5.3 1.5.2 1.5 0 1.5-.6 1.5.5 1.5 0 1.5 0 1.5-1.1 1.5 1.1 1.5-.2 1.5.1 1.5-1.1 1.3 1.1 0 6.8-1.3-.9-1.5 1.6-1.5.1-1.5-1.7-1.5.9-1.5.4-1.5-1.2-1.5 1.9-1.5.9-1.5-2-1.5 1.8-1.5-2-1.5-.8-1.5.7-1.5-.7-1.5.4-1.5 1-1.5-.9-1.5.2-1.5-.6-1.5.4-1.5 1.6-1.5-.9-1.5 1.8-1.5-2.5-1.5.7-1.5 1.1-1.5-1.3-1.5.6-1.5-.7-1.5.4-1.5-.9-1.5-.3-1.5.4-1.5.4-1.5-.8-1.5 1-1.5-.9-1.5-.2-1.5 1.8-1.5-1-1.5 0-1.5-.3-1.5.9-1.5-.9-1.5.6-1.5 1.3-1.5-1.3-1.5-.3-1.5 1-1.5-.8-1.5-.7-1.5 0-1.5-.1-1.5.7-1.5-.7-1.5 1.1-1.5-.6-1.5 2.4-1.5-1.6-1.5.6-1.5-.8-1.5 1.3-1.5-1.6-1.5-.8-1.5 1.2-1.5-1.3-1.5.8-1.5-.6-1.5.8-1.5.1-1.5-.4-1.5-.3-1.5.3-1.5-.1-1.5.2-1.5 1.5-1.5-2.2-1.5.5-1.5.3-1.5-.2-1.5.1-1.5-.3-1.5 0-1.5-.4-1.5.7-1.5-.4-1.5.1-1.5.3-1.5.2-1.5-.8-1.5.9-1.5.6-1.5-.9-1.5.6-1.5-.9-1.5.4-1.5.6-1.5 0-1.5-.7-1.5.9-1.5-1.3-1.5.1-1.5.1-1.5 1.7-1.5-1.4-1.5.6-1.5-.8-1.5-.1-1.5.5-1.5-.7-1.5-.1-1.5-.1-1.5.2-1.5.3-1.5-.3-1.5 1.7-1.5-.9-1.5-.7-1.5.3-1.5.1-1.5.2-1.5-.3-1.5 1-1.5.3-1.5-1.6-1.5 1.3-1.5-.9-1.5.3-1.5-.6-1.5 1.3-1.5-.7-1.5-.3-1.5-.4-1.5.4-1.5.3-1.5-.8-1.5 1.1-1.5-.8-1.5 1.1-1.5-1.3-1.5.3-1.5.8-1.5-.5-1.5.2-1.5-.3-1.5-.2-1.5.8-1.5-1-1.5.6-1.5 1.3-1.5-.9-1.5.4-1.5-.7-1.5-.4-1.5.4-1.5-.8-1.5.4-1.5-.2-1.5 0-1.5.1-1.5.3-1.5-.1-1.5.6-1.5-1-1.5.3-1.5 0-1.5-.1-1.5 1.3-1.5-.6-1.5-.6-1.5.3-1.5-.6-1.5 2.6-1.5-2.5-1.5.4-1.5.1-1.5.1-1.5-.3-1.5.3-1.5-.6-1.5.8-1.5-.2-1.5-.7-1.5.8-1.5-.1-1.5-.2-1.5-.2-1.5 0-1.5.1-1.5.5-1.5-.7-1.5.5-1.5.1-1.5.1-1.5-.1-1.5.6-1.5-.7-1.5-.1-1.5-.3-1.5.4-1.5-.1-1.5.4-1.5-.3-1.5.3-1.5.2-1.5-.3-1.5-.5-1.5.6-1.5 0-1.5-.7-1.5.5-1.5-.5-1.5 0-1.5 1-1.5-1-1.5.4-1.5-.2-1.5.2-1.5-.1-1.5 0-1.5 0-1.5.2-1.5-.5-1.5.4-1.5-.1-1.5.4-1.5.7-1.5-1.2-1.5-.1-1.5.3-1.5-.3-1.5.1-1.5 0-1.5-.1-1.5.4-1.5.1-1.5.4-1.5-.9-1.5.6-1.5-.2-1.5-.1-1.5.5-1.5.1-1.5-.9-1.5.1-1.5.2-1.5 0-1.5-.1-1.5 0-1.5.6-1.5-.3-1.5-.5-1.5.1-1.5.3-1.5 0-1.5-.4-1.5.1-1.5 0-1.5.1-1.5.3-1.5.3-1.5-.7-1.5 0-1.5 0-1.5.1-1.5.3-1.5-.2-1.5.6-1.5-.7-1.5.9-1.5-.5-1.5.4-1.5-.6-1.5.6-1.5-.7-1.5-.1-1.5.3-1.5.1-1.5.5-1.5-.8-1.5.3-1.5-.3-1.5.1-1.5.2-1.5.3-1.5-.3-1.5-.2-1.5-.1-1.5-.1-1.5.1-1.5.1-1.5.6-1.5-.2-1.5-.4-1.5.2-1.5-.2-1.5 0-1.5.5-1.5-.3-1.5 0-1.5 0-1.5-.1-1.5.5-1.5-.4-1.5-.2-1.5.1-1.5 0-1.5.3-1.5-.1-1.5-.3-1.5 0-1.5.6-1.5-.5-1.5-.1-1.5.1-1.5 0-1.5.1-1.5-.2-1.5.1-1.5.7-1.5-.4-1.5-.2-1.5.1-1.5 0-1.5.2-1.5-.1-1.5 0-1.5.3-1.5-.6-1.5.2-1.5-.1-1.5 0-1.5.3-1.5-.2-1.5 0-1.5.2-1.5-.2-1.5.6-1.5-.6-1.5 0-1.5.4-1.5-.4-1.5.1-1.5-.2-1.5.1-1.5-.1z"/>
<path fill="#ff9614" d="M1441.9 1042.5l1.5 0 1.5 0 1.5-.3 1.5.3 1.5-.2 1.5.1 1.5-.6 1.5.6 1.5-.2 1.5.2 1.5 0 1.5 0 1.5-.7 1.5.6 1.5-.4 1.5 0 1.5.4 1.5 0 1.5 0 1.5-.2 1.5-.3 1.5 0 1.5.4 1.5-.2 1.5-.2 1.5.4 1.5 0 1.5 0 1.5-.8 1.5.7 1.5 0 1.5 0 1.5 0 1.5-.2 1.5.2 1.5 0 1.5-.1 1.5-.4 1.5.4 1.5 0 1.5-.8 1.5-.3 1.5 1.1 1.5 0 1.5-.5 1.5.2 1.5.2 1.5 0 1.5 0 1.5 0 1.5-.4 1.5-.5 1.5.8 1.5 0 1.5-.1 1.5.1 1.5 0 1.5-.5 1.5.5 1.5 0 1.5-.6 1.5.5 1.5-.2 1.5.1 1.5.1 1.5-.6 1.5.6 1.5-.1 1.5-1.4 1.5.6 1.5.8 1.5 0 1.5-1.3 1.5 1.3 1.5-.8 1.5.7 1.5-.8 1.5.4 1.5.4 1.5-.3 1.5.3 1.5-1.3 1.5.4 1.5.8 1.5 0 1.5-.4 1.5.4 1.5 0 1.5 0 1.5 0 1.5-.2 1.5.1 1.5 0 1.5 0 1.5 0 1.5-.4 1.5.4 1.5-.1 1.5-.5 1.5.2 1.5.3 1.5 0 1.5 0 1.5-.8 1.5.7 1.5-.4 1.5.4 1.5 0 1.5-1.8 1.5.6 1.5.3 1.5.9 1.5-.1 1.5-.4 1.5-.1 1.5.5 1.5 0 1.5 0 1.5-.1 1.5 0 1.5 0 1.5-.2 1.5.2 1.5 0 1.5 0 1.5-.2 1.5.1 1.5 0 1.5 0 1.5 0 1.5-.3 1.5.3 1.5 0 1.5-1 1.5.8 1.5.1 1.5 0 1.5 0 1.5-.8 1.5.5 1.5-1.5 1.5 1.7 1.5 0 1.5 0 1.5-1.5 1.5 1.5 1.5 0 1.5 0 1.5-.1 1.5-1 1.5 1 1.5 0 1.5 0 1.5 0 1.5 0 1.5-.1 1.5 0 1.5 0 1.5-.8 1.5.6 1.5.2 1.5-1.1 1.5 1 1.5 0 1.5-1.6 1.5 1.6 1.5 0 1.5-1.8 1.5 1.8 1.5-.8 1.5.3 1.5.4 1.5 0 1.5 0 1.5-.5 1.5.4 1.5.1 1.5-.6 1.5-2.7 1.5 3.2 1.5 0 1.5 0 1.5-1.8 1.5 1.5 1.5.2 1.5 0 1.5 0 1.5-.4 1.5-.4 1.5-.1 1.5.9 1.5-.8 1.5-.3 1.5-.2 1.5-.4 1.5 1.5 1.5.1 1.5-1.1 1.5.5 1.5.5 1.5 0 1.5 0 1.5 0 1.5-.1 1.5.1 1.5-.6 1.5-2.2 1.5 2.7 1.5 0 1.5 0 1.5 0 1.5 0 1.5-.1 1.5-2.3 1.5 2.2 1.5.1 1.5 0 1.5 0 1.5-.4 1.5-2.1 1.5.8 1.5.4 1.5-.9 1.5.2 1.5 1.9 1.5 0 1.5-.1 1.5-1 1.5-.9 1.5 1.7 1.5.2 1.5 0 1.5 0 1.5-.2 1.5.1 1.5 0 1.5-.4 1.5.4 1.5 0 1.5-.2 1.5-.1 1.5-.9 1.5 1.1 1.5-2.6 1.5 2.6 1.5 0 1.5-.6 1.5.5 1.5-1.5 1.5-.2 1.5 1.7 1.5-.4 1.5-2.2 1.5 2.5 1.5 0 1.5-2.8 1.5.1 1.5 1 1.5 1.7 1.5-3.1 1.5 2.4 1.5-1.1 1.5 1.7 1.5 0 1.5-1 1.5 1 1.5 0 1.5-.3 1.5.2 1.5 0 1.5-.4 1.5-.3 1.5.7 1.5 0 1.5 0 1.5-.1 1.5-.2 1.5.1 1.5.1 1.5 0 1.5-1.5 1.5-.7 1.5 1.6 1.5.5 1.5 0 1.5-.5 1.5 0 1.5.5 1.5-.5 1.5.4 1.5-1.5 1.5 1.5 1.5-1.4 1.5 1.4 1.5 0 1.5-.5 1.5-.7 1.5 1.1 1.5 0 1.5-3.8 1.5 3.8 1.5 0 1.5-1.4 1.5.6 1.5.6 1.5-2.5 1.5 1.1 1.5-.6 1.5 1.2 1.5-.7 1.5 1.5 1.5-1.1 1.5.5 1.5.6 1.5 0 1.5-4.4 1.5-3.2 1.5 7.5 1.5-3.1 1.5 3.1 1.5-1.5 1.5 1.5 1.5-.3 1.5-.9 1.5 1.1 1.5-.7 1.5.7 1.5-1.5 1.5-.5 1.5-.1 1.5 2 1.5 0 1.5 0 1.5 0 1.5 0 1.5-2.7 1.5 1.4 1.5 1.2 1.5 0 1.5 0 1.5-3.4 1.5 0 1.5 3.4 1.5-2 1.5-3.1 1.5 5 1.3 0 0 6.4-1.3.3-1.5-.6-1.5-.1-1.5 1.2-1.5-.3-1.5.4-1.5.2-1.5-.9-1.5-.5-1.5-.3-1.5.7-1.5-.6-1.5 1.2-1.5 1.1-1.5-2.1-1.5.1-1.5.8-1.5.8-1.5-1.8-1.5 1.2-1.5-1-1.5 3.5-1.5-2.2-1.5-1.5-1.5-.1-1.5 2.4-1.5-1.7-1.5.4-1.5-.5-1.5.2-1.5 0-1.5-.7-1.5 0-1.5 1.8-1.5-1.4-1.5.4-1.5-.5-1.5.6-1.5-.7-1.5.8-1.5-.2-1.5 1.4-1.5 0-1.5-2.3-1.5 1.4-1.5.8-1.5-.9-1.5-.3-1.5-.3-1.5.7-1.5-.6-1.5-.4-1.5.5-1.5-.9-1.5.1-1.5 2.7-1.5-1.7-1.5-.8-1.5.3-1.5-.3-1.5-.1-1.5.5-1.5 0-1.5.8-1.5-.3-1.5.5-1.5-.5-1.5-.9-1.5 1.1-1.5.3-1.5-1.1-1.5.2-1.5.1-1.5.2-1.5-.9-1.5 1.3-1.5-.9-1.5.5-1.5-.8-1.5.8-1.5-.6-1.5-.3-1.5.7-1.5-.9-1.5 2.7-1.5-.9-1.5-1.3-1.5.2-1.5.3-1.5-.8-1.5.3-1.5 0-1.5-.4-1.5 0-1.5.8-1.5.2-1.5.8-1.5-1.3-1.5 1.1-1.5-1.1-1.5 0-1.5 1.4-1.5-1.1-1.5 1.5-1.5-.4-1.5-.7-1.5-.1-1.5-.2-1.5-.8-1.5 1.9-1.5-.5-1.5-1.4-1.5 1.8-1.5-.3-1.5-1.1-1.5 0-1.5-.4-1.5.5-1.5.3-1.5.2-1.5-.9-1.5.3-1.5 1.4-1.5-1.7-1.5.4-1.5-.5-1.5.1-1.5.8-1.5-.1-1.5.2-1.5-.6-1.5-.3-1.5 1-1.5.2-1.5.3-1.5-1.4-1.5 1.8-1.5-1.2-1.5 0-1.5.4-1.5-1-1.5.7-1.5.6-1.5-.8-1.5 1.3-1.5-1.3-1.5 2.2-1.5-2.1-1.5.7-1.5-1.3-1.5.8-1.5.9-1.5-1.4-1.5.3-1.5 1.6-1.5-.6-1.5-1.5-1.5.7-1.5 1.4-1.5-1.4-1.5-.7-1.5.7-1.5-.4-1.5 1.4-1.5-.3-1.5-.1-1.5-.5-1.5-.3-1.5 1-1.5-1.2-1.5-.3-1.5-.1-1.5.3-1.5-.1-1.5.1-1.5-.2-1.5 1.7-1.5-1.5-1.5.1-1.5.8-1.5-1.2-1.5.6-1.5 0-1.5-.3-1.5.4-1.5-.6-1.5 0-1.5.4-1.5.1-1.5-.3-1.5-.1-1.5.7-1.5-.4-1.5.1-1.5-.1-1.5.1-1.5-.4-1.5.4-1.5.5-1.5-1-1.5 0-1.5.6-1.5-.1-1.5.6-1.5-.8-1.5 1-1.5-.5-1.5-.5-1.5-.1-1.5 0-1.5.1-1.5.9-1.5-.3-1.5.2-1.5-1-1.5.1-1.5.2-1.5-.3-1.5.3-1.5-.1-1.5 1-1.5-.8-1.5 0-1.5 0-1.5-.3-1.5.8-1.5-.1-1.5-.4-1.5-.2-1.5-.1-1.5.2-1.5 0-1.5-.2-1.5.2-1.5.4-1.5-.1-1.5-.3-1.5.6-1.5.7-1.5-.8-1.5.1-1.5-.6-1.5.2-1.5.1-1.5-.2-1.5.3-1.5.3-1.5-.5-1.5.5-1.5-.6-1.5-.2-1.5.7-1.5-.2-1.5-.4-1.5.5-1.5.2-1.5-.5-1.5 0-1.5-.3-1.5 1.2-1.5-.2-1.5-.9-1.5.5-1.5-.4-1.5-.1-1.5.1-1.5.4-1.5-.4-1.5.4-1.5-.3-1.5-.1-1.5 0-1.5.4-1.5.1-1.5 0-1.5-.4-1.5.3-1.5 0-1.5-.3-1.5-.1-1.5 0-1.5 0-1.5 0-1.5.8-1.5-.2-1.5-.7-1.5.1-1.5.4-1.5-.4-1.5.3-1.5-.3-1.5 0-1.5.3-1.5 0-1.5.4-1.5-.6-1.5.1-1.5.1-1.5-.1-1.5-.1-1.5.6-1.5-.5-1.5 0-1.5-.1-1.5 0-1.5.1-1.5-.1-1.5.2-1.5-.1-1.5-.1-1.5.2-1.5-.2-1.5.1-1.5 0-1.5 0-1.5.1-1.5-.1-1.5.4-1.5-.1-1.5 0-1.5 0-1.5 0-1.5 0-1.5-.2-1.5 0-1.5-.1-1.5.1-1.5 0-1.5.2-1.5.3-1.5-.4-1.5-.1-1.5.4-1.5-.4-1.5.1-1.5 0-1.5.1-1.5-.1-1.5-.1-1.5.4-1.5.1-1.5-.5-1.5.4-1.5.1-1.5-.3-1.5.3-1.5-.5z"/>
<path fill="#ff9114" d="M1441.9 996.3l1.5 0 1.5 0 1.5 0 1.5 0 1.5 0 1.5 0 1.5 0 1.5-.2 1.5.2 1.5 0 1.5-.1 1.5-.2 1.5-.2 1.5.2 1.5.3 1.5-.2 1.5.2 1.5 0 1.5-.1 1.5-1.2 1.5.9 1.5.3 1.5 0 1.5 0 1.5-.5 1.5.5 1.5 0 1.5 0 1.5 0 1.5-.3 1.5.3 1.5 0 1.5-.1 1.5-1 1.5 1.1 1.5 0 1.5 0 1.5 0 1.5 0 1.5 0 1.5-.1 1.5.1 1.5 0 1.5 0 1.5 0 1.5-1 1.5 1 1.5-1.2 1.5 1.1 1.5 0 1.5 0 1.5 0 1.5-.6 1.5.6 1.5 0 1.5 0 1.5 0 1.5-.1 1.5.1 1.5 0 1.5 0 1.5 0 1.5 0 1.5-.1 1.5.1 1.5-.2 1.5.2 1.5 0 1.5 0 1.5 0 1.5 0 1.5 0 1.5 0 1.5-.1 1.5 0 1.5 0 1.5 0 1.5 0 1.5-.2 1.5.2 1.5-1.2 1.5 1.1 1.5.1 1.5 0 1.5 0 1.5-.1 1.5-.5 1.5.4 1.5.2 1.5 0 1.5-.8 1.5-.2 1.5.9 1.5.1 1.5 0 1.5 0 1.5 0 1.5-.1 1.5 0 1.5 0 1.5 0 1.5-.9 1.5.9 1.5 0 1.5 0 1.5-.4 1.5.4 1.5 0 1.5-.4 1.5.4 1.5 0 1.5 0 1.5-.9 1.5.9 1.5 0 1.5 0 1.5 0 1.5 0 1.5 0 1.5 0 1.5-1.6 1.5 1 1.5.5 1.5-.5 1.5.4 1.5.1 1.5-.8 1.5-.3 1.5.9 1.5.2 1.5 0 1.5 0 1.5-.4 1.5.3 1.5.1 1.5-.2 1.5-.2 1.5.4 1.5 0 1.5-.3 1.5-.7 1.5.6 1.5-1.2 1.5.1 1.5 1.4 1.5-1 1.5 1 1.5 0 1.5 0 1.5-1.1 1.5 1.1 1.5 0 1.5 0 1.5-1.7 1.5 1.7 1.5-.3 1.5.3 1.5 0 1.5 0 1.5 0 1.5 0 1.5-.1 1.5-.9 1.5.9 1.5 0 1.5 0 1.5 0 1.5 0 1.5 0 1.5 0 1.5 0 1.5-1.1 1.5 1.1 1.5 0 1.5-1.6 1.5 1.6 1.5 0 1.5 0 1.5-2.6 1.5 2.6 1.5 0 1.5 0 1.5-1.3 1.5 1.3 1.5-.1 1.5-.4 1.5.4 1.5-.4 1.5.4 1.5 0 1.5 0 1.5 0 1.5 0 1.5 0 1.5 0 1.5-1.5 1.5 1.5 1.5 0 1.5 0 1.5 0 1.5-1.2 1.5 1.2 1.5-.1 1.5.1 1.5-.5 1.5.4 1.5 0 1.5-1.6 1.5 1.6 1.5 0 1.5 0 1.5-.3 1.5.3 1.5 0 1.5 0 1.5-1 1.5 1 1.5-1.9 1.5 1 1.5 0 1.5.1 1.5.4 1.5.4 1.5-.7 1.5.6 1.5 0 1.5 0 1.5-1.8 1.5-.1 1.5 1.9 1.5 0 1.5 0 1.5-.3 1.5.3 1.5-.9 1.5.7 1.5-2.6 1.5 2.5 1.5-1.5 1.5 1.1 1.5.7 1.5 0 1.5 0 1.5 0 1.5-.2 1.5.1 1.5 0 1.5-.4 1.5.1 1.5.3 1.5 0 1.5-2.4 1.5 1.2 1.5 1.2 1.5-1 1.5 1 1.5-.2 1.5-1.3 1.5-.7 1.5 1.7 1.5-1.6 1.5 2.1 1.5 0 1.5-.1 1.5 0 1.5 0 1.5 0 1.5 0 1.5-.6 1.5 0 1.5 0 1.5.6 1.5-1 1.5-.3 1.5.3 1.5 0 1.5 1 1.5 0 1.5-.8 1.5 0 1.5.8 1.5 0 1.5-.1 1.5-2.4 1.5 2.4 1.5-2.7 1.5 2.7 1.5-.8 1.5.7 1.5.1 1.5 0 1.5-1 1.5-1 1.5 2 1.5-.9 1.5-.6 1.5.4 1.5 1.1 1.5 0 1.5-1.3 1.5 1.3 1.5-.5 1.5-5.7 1.5 6.1 1.5 0 1.5 0 1.5-1.8 1.5 1.8 1.5 0 1.5 0 1.5-.9 1.5.9 1.5 0 1.5 0 1.5 0 1.5 0 1.5-1.7 1.5-.5 1.5 2.2 1.5-.1 1.5-1.2 1.5.9 1.5.3 1.5 0 1.5-5 1.5 4.2 1.5.8 1.5-.6 1.5.6 1.5-.9 1.5-1.7 1.5 1.6 1.5 1 1.5-1.5 1.5-1.8 1.5 3.3 1.5-.6 1.5.5 1.5 0 1.5-2.7 1.5 2.7 1.5 0 1.5 0 1.5-.1 1.5.1 1.5-2.8 1.3 2.8 0 6-1.3 2.5-1.5-1.8-1.5-.5-1.5-.5-1.5 1.4-1.5-1.1-1.5-.1-1.5 1.1-1.5.7-1.5-2.2-1.5.9-1.5-.7-1.5 0-1.5.2-1.5.5-1.5.8-1.5-.8-1.5-.7-1.5.5-1.5.2-1.5-.7-1.5.2-1.5.2-1.5.7-1.5-.8-1.5.4-1.5 1.3-1.5-1.4-1.5 1.6-1.5-.4-1.5-.5-1.5.6-1.5 1.1-1.5-1.9-1.5-.8-1.5 0-1.5-.5-1.5 1.9-1.5-2-1.5.5-1.5.3-1.5.4-1.5-.7-1.5.2-1.5 2.9-1.5-3.5-1.5.9-1.5 0-1.5.2-1.5.4-1.5-1.2-1.5.3-1.5-.7-1.5 0-1.5 2.5-1.5-2.2-1.5 0-1.5.4-1.5.9-1.5-.7-1.5.5-1.5.1-1.5.2-1.5-1.8-1.5.9-1.5 0-1.5.3-1.5-1.1-1.5 1-1.5-.4-1.5 2.4-1.5.8-1.5-2.7-1.5 1.2-1.5-2.5-1.5.8-1.5 0-1.5.5-1.5.1-1.5-.4-1.5-.7-1.5.3-1.5.3-1.5-.5-1.5.2-1.5-.6-1.5 2.2-1.5-2.1-1.5.2-1.5 2.5-1.5-2.8-1.5 0-1.5 1.3-1.5-.9-1.5 0-1.5.4-1.5 1.6-1.5-.7-1.5-1.3-1.5 1.3-1.5-1.4-1.5 0-1.5-.4-1.5 1.1-1.5-1-1.5.2-1.5-.1-1.5.9-1.5-.3-1.5-.3-1.5-.2-1.5 1.1-1.5-.3-1.5.1-1.5-.8-1.5-.5-1.5.5-1.5.7-1.5.4-1.5-1.2-1.5 1.1-1.5-1.2-1.5.8-1.5-.5-1.5.8-1.5-.8-1.5 1-1.5-1.4-1.5.1-1.5.2-1.5-.5-1.5.2-1.5.8-1.5-.9-1.5.8-1.5-1-1.5.7-1.5 1.2-1.5-1.8-1.5 0-1.5.5-1.5 0-1.5.3-1.5 0-1.5-.4-1.5-.5-1.5.2-1.5 1.5-1.5-.9-1.5-.2-1.5-.1-1.5-.5-1.5.6-1.5 1.1-1.5-.8-1.5-.2-1.5.1-1.5-.8-1.5-.1-1.5.4-1.5 0-1.5.5-1.5.6-1.5-1.1-1.5-.2-1.5 1.6-1.5-1.1-1.5.6-1.5-.7-1.5-.3-1.5.1-1.5-.5-1.5.5-1.5-.3-1.5 1-1.5-.5-1.5-.7-1.5.4-1.5 1.2-1.5-1.3-1.5 0-1.5-.1-1.5-.2-1.5.5-1.5-.2-1.5.3-1.5-.3-1.5-.3-1.5 0-1.5.2-1.5.2-1.5.7-1.5-1-1.5.2-1.5.3-1.5.4-1.5-.1-1.5-.8-1.5.7-1.5 1-1.5-1.9-1.5.5-1.5 0-1.5-.1-1.5.4-1.5-.4-1.5.6-1.5-.5-1.5.5-1.5-.7-1.5-.2-1.5.1-1.5.8-1.5-.7-1.5-.1-1.5.2-1.5.1-1.5.4-1.5-.8-1.5.3-1.5.1-1.5-.4-1.5-.2-1.5.2-1.5-.1-1.5 0-1.5.2-1.5.4-1.5-.3-1.5.8-1.5-1.1-1.5.2-1.5.1-1.5-.2-1.5.3-1.5.2-1.5-.4-1.5-.3-1.5.3-1.5-.3-1.5 0-1.5.1-1.5.6-1.5-.3-1.5-.2-1.5.5-1.5-.5-1.5 1-1.5-1.3-1.5.3-1.5-.3-1.5.6-1.5-.6-1.5.4-1.5.5-1.5-.4-1.5-.1-1.5-.4-1.5.5-1.5.1-1.5-.2-1.5-.1-1.5-.1-1.5.4-1.5-.7-1.5.6-1.5-.2-1.5.1-1.5.2-1.5-.5-1.5.1-1.5-.1-1.5.3-1.5-.2-1.5-.2-1.5.4-1.5-.2-1.5-.1-1.5.4-1.5-.3-1.5 0-1.5-.2-1.5-.1-1.5.1-1.5 0-1.5-.1-1.5 0-1.5.1-1.5-.1-1.5.3-1.5-.4-1.5.1-1.5 0-1.5.2-1.5-.2-1.5 0-1.5.4-1.5-.4-1.5.1-1.5.3-1.5-.5-1.5.1-1.5.3-1.5-.1-1.5.7-1.5-.1-1.5-.4-1.5-.5-1.5.4-1.5-.3-1.5.1-1.5.4-1.5-.6-1.5 0-1.5.3-1.5-.4-1.5.3-1.5-.1-1.5.2-1.5-.2-1.5-.2-1.5.4-1.5-.4-1.5.3-1.5 0-1.5-.1-1.5.3-1.5-.3-1.5.5-1.5-.4-1.5-.2-1.5-.1-1.5.1-1.5 0-1.5-.1-1.5.1-1.5-.1-1.5 0-1.5.2-1.5-.2-1.5.1-1.5.3-1.5-.4-1.5.5-1.5-.3-1.5 0-1.5.1z"/>
<path fill="#ff640a" d="M1441.9 946.4l1.5-.1 1.5 0 1.5-.1 1.5-.1 1.5.3 1.5-.4 1.5 0 1.5 0 1.5.4 1.5 0 1.5 0 1.5 0 1.5 0 1.5 0 1.5 0 1.5 0 1.5-.3 1.5.3 1.5-.4 1.5-.3 1.5.6 1.5 0 1.5-.1 1.5.1 1.5 0 1.5 0 1.5 0 1.5-1.9 1.5 1.7 1.5-1.1 1.5 1.3 1.5-.4 1.5-.1 1.5.1 1.5.3 1.5-.3 1.5.4 1.5-.4 1.5.4 1.5-.1 1.5.1 1.5-.6 1.5-.3 1.5-.2 1.5 1.1 1.5 0 1.5-.1 1.5.1 1.5-.2 1.5-.4 1.5.1 1.5.4 1.5-1 1.5 1 1.5-.5 1.5-.5 1.5 1 1.5 0 1.5-.1 1.5.1 1.5-.4 1.5.4 1.5 0 1.5-1.5 1.5 1.1 1.5.4 1.5 0 1.5 0 1.5-.1 1.5-.2 1.5.3 1.5-.5 1.5-.7 1.5 1 1.5.1 1.5 0 1.5 0 1.5-.6 1.5.6 1.5-.6 1.5.6 1.5 0 1.5 0 1.5 0 1.5 0 1.5-.1 1.5.1 1.5-.2 1.5.1 1.5-.3 1.5.3 1.5.1 1.5 0 1.5-.3 1.5.3 1.5-1 1.5 1 1.5-.2 1.5.1 1.5 0 1.5-.3 1.5.3 1.5 0 1.5-.4 1.5.4 1.5-.4 1.5.1 1.5-.1 1.5.3 1.5.1 1.5-1.5 1.5 1.5 1.5 0 1.5-.9 1.5.4 1.5.5 1.5 0 1.5 0 1.5 0 1.5 0 1.5-.1 1.5 0 1.5 0 1.5-2.4 1.5 2.4 1.5 0 1.5 0 1.5 0 1.5 0 1.5-.7 1.5.7 1.5 0 1.5 0 1.5-.5 1.5.2 1.5-.5 1.5.8 1.5 0 1.5-.9 1.5-.1 1.5.1 1.5.2 1.5.6 1.5-.2 1.5.2 1.5 0 1.5-1.3 1.5.7 1.5.5 1.5.1 1.5-.4 1.5.4 1.5 0 1.5-1.8 1.5 1.8 1.5-.4 1.5.4 1.5-.7 1.5.2 1.5.5 1.5 0 1.5-1 1.5 1 1.5-.1 1.5-.4 1.5.4 1.5 0 1.5 0 1.5-.2 1.5.2 1.5-1.2 1.5 1 1.5-.3 1.5.3 1.5.2 1.5 0 1.5-.4 1.5.4 1.5 0 1.5-.8 1.5-.7 1.5 1.5 1.5 0 1.5-1.8 1.5 1.4 1.5.3 1.5-3 1.5 2.3 1.5.2 1.5.5 1.5 0 1.5-.6 1.5.6 1.5-1.3 1.5 1 1.5.3 1.5-.4 1.5.4 1.5 0 1.5-.8 1.5.8 1.5-.3 1.5.3 1.5-.6 1.5-.5 1.5 1 1.5-1 1.5.4 1.5-.6 1.5 1 1.5.2 1.5-.3 1.5.3 1.5 0 1.5-.6 1.5-1 1.5 1.1 1.5.5 1.5 0 1.5-.5 1.5.5 1.5-.7 1.5.7 1.5 0 1.5-1.2 1.5 1.1 1.5 0 1.5 0 1.5 0 1.5-1 1.5-.1 1.5 1.1 1.5 0 1.5 0 1.5 0 1.5-.8 1.5-.8 1.5 1.4 1.5.2 1.5-.3 1.5.3 1.5 0 1.5-3.1 1.5 3.1 1.5-.1 1.5-2.2 1.5 2.2 1.5-1.9 1.5 1.9 1.5 0 1.5 0 1.5-.8 1.5.8 1.5-2.2 1.5 2.2 1.5 0 1.5-3.2 1.5 3 1.5-.7 1.5-.2 1.5.9 1.5.2 1.5-.2 1.5.1 1.5-.9 1.5-3.4 1.5 4.3 1.5-2.2 1.5 2.2 1.5-.4 1.5.4 1.5-.9 1.5.4 1.5.5 1.5-.1 1.5.1 1.5 0 1.5 0 1.5 0 1.5 0 1.5-.6 1.5-.8 1.5 1.3 1.5 0 1.5 0 1.5 0 1.5 0 1.5-.2 1.5-.9 1.5-.3 1.5 1.4 1.5-1.2 1.5 1.2 1.5 0 1.5-1 1.5 1 1.5-.5 1.5-.8 1.5 1.3 1.5 0 1.5 0 1.5-1.2 1.5 1.1 1.5-3.2 1.5 2.3 1.5.9 1.5 0 1.5-.8 1.5.8 1.5 0 1.5 0 1.5 0 1.5 0 1.5-2.9 1.5 2.9 1.5 0 1.5 0 1.5 0 1.5 0 1.5-1.4 1.5 1.3 1.5-5.3 1.5 5.3 1.5-.7 1.5.7 1.5-.9 1.5.6 1.5.3 1.5 0 1.5 0 1.5-6.7 1.5 3.4 1.5 3.3 1.5 0 1.5 0 1.5 0 1.5-1.4 1.5-.3 1.5 1.6 1.5-.9 1.5.9 1.5-3.3 1.5 2.3 1.5 1 1.5 0 1.5-.9 1.3.9 0 7.5-1.3 2.4-1.5-2.3-1.5-.6-1.5-.7-1.5.9-1.5-1.6-1.5.8-1.5.9-1.5-.9-1.5-.1-1.5-.4-1.5.5-1.5 1.1-1.5-1.7-1.5 1.7-1.5-.4-1.5-1.3-1.5 0-1.5 1.5-1.5-1.5-1.5 2.8-1.5-.1-1.5-2.3-1.5-.7-1.5 2.3-1.5 1.6-1.5-2-1.5.7-1.5-.2-1.5 0-1.5-1.1-1.5-1-1.5.2-1.5.2-1.5-.5-1.5-.2-1.5.6-1.5 1.4-1.5-1.7-1.5 1.7-1.5-.4-1.5-1.7-1.5 1-1.5-1-1.5.1-1.5 2.2-1.5-1.6-1.5 1.4-1.5-.8-1.5-.8-1.5.6-1.5 1.4-1.5-2-1.5 3.3-1.5-3.5-1.5.1-1.5 2.1-1.5-2-1.5.2-1.5 0-1.5.6-1.5-.9-1.5 0-1.5.1-1.5-.4-1.5-.1-1.5 1.9-1.5-.9-1.5-.4-1.5-.1-1.5 1.2-1.5-.3-1.5 1.2-1.5-1.5-1.5-1.2-1.5 2.4-1.5-1.7-1.5.4-1.5.4-1.5-1.3-1.5-.3-1.5.9-1.5-.6-1.5-.3-1.5 1.9-1.5-1.1-1.5.1-1.5.3-1.5-1.1-1.5.1-1.5-.1-1.5.4-1.5.1-1.5.1-1.5.1-1.5-.4-1.5-.2-1.5.5-1.5-.3-1.5 2-1.5-1.6-1.5-.4-1.5-.5-1.5.6-1.5 2-1.5-1.9-1.5.6-1.5-.5-1.5-.9-1.5.6-1.5-.3-1.5.4-1.5.1-1.5 1.3-1.5-1.2-1.5.1-1.5-.8-1.5.9-1.5-.2-1.5.3-1.5-.9-1.5.3-1.5-.5-1.5.2-1.5.6-1.5-.8-1.5.2-1.5 1.6-1.5-1.9-1.5 2-1.5.6-1.5-2.1-1.5 0-1.5-.5-1.5 1.9-1.5-2-1.5.8-1.5.3-1.5.5-1.5-1.5-1.5 1.8-1.5-1.4-1.5-.2-1.5.2-1.5.1-1.5.3-1.5.6-1.5-1.1-1.5.1-1.5.5-1.5-1-1.5.7-1.5-.5-1.5 1.6-1.5-.9-1.5-.9-1.5 1-1.5-.9-1.5 0-1.5.4-1.5-.3-1.5 0-1.5-.1-1.5.2-1.5-.2-1.5 1.4-1.5-1.1-1.5-.2-1.5 1-1.5 0-1.5-.6-1.5-.6-1.5.2-1.5.7-1.5-.1-1.5-.7-1.5-.1-1.5.7-1.5-.7-1.5-.2-1.5.1-1.5.2-1.5 0-1.5.8-1.5-.1-1.5-.3-1.5-.3-1.5-.3-1.5.3-1.5.2-1.5 0-1.5-.6-1.5.7-1.5-.6-1.5.2-1.5-.4-1.5 2.1-1.5-1.5-1.5.3-1.5-.9-1.5.2-1.5-.1-1.5.3-1.5-.3-1.5.1-1.5.2-1.5-.4-1.5.9-1.5-.4-1.5 0-1.5-.5-1.5.7-1.5-.1-1.5.3-1.5-.2-1.5-.2-1.5-.6-1.5.3-1.5.3-1.5.4-1.5-.2-1.5 0-1.5-.6-1.5.1-1.5-.3-1.5.3-1.5.3-1.5.4-1.5-.1-1.5-.5-1.5.1-1.5.2-1.5-.8-1.5.8-1.5-.7-1.5 0-1.5 1.1-1.5-.4-1.5-.7-1.5.2-1.5-.2-1.5.1-1.5-.1-1.5.2-1.5 0-1.5.4-1.5-.7-1.5 0-1.5.8-1.5-.4-1.5-.2-1.5.3-1.5.2-1.5-.3-1.5-.5-1.5.1-1.5.3-1.5.1-1.5-.4-1.5.3-1.5.8-1.5-1-1.5.3-1.5.1-1.5 0-1.5-.2-1.5-.3-1.5-.1-1.5 0-1.5.1-1.5.4-1.5-.2-1.5.3-1.5-.5-1.5.6-1.5-.6-1.5-.2-1.5 0-1.5.6-1.5-.5-1.5 0-1.5.2-1.5 0-1.5-.1-1.5.4-1.5.2-1.5-.5-1.5.2-1.5.2-1.5-.7-1.5.2-1.5.2-1.5-.4-1.5.5-1.5-.4-1.5.1-1.5.4-1.5-.6-1.5.2-1.5-.2-1.5.1-1.5.2-1.5-.1-1.5.2-1.5.2-1.5-.6-1.5.1-1.5.1-1.5-.2-1.5.9-1.5-.9-1.5.1-1.5.5-1.5-.6-1.5.5-1.5-.5-1.5-.1-1.5.3-1.5-.2-1.5 0-1.5.2-1.5-.2-1.5.1-1.5.2-1.5-.4-1.5.1-1.5 0-1.5.1-1.5.2-1.5-.4-1.5 0-1.5.2-1.5.2-1.5-.1-1.5.2-1.5-.1-1.5-.3-1.5-.1-1.5-.1-1.5.3-1.5-.2-1.5-.1-1.5.8-1.5-.5-1.5 0-1.5.2-1.5-.5z"/>
<path fill="#fd3c1e" d="M1441.9 899.4l1.5.1 1.5-.3 1.5-.3 1.5.6 1.5-.3 1.5.3 1.5 0 1.5-.2 1.5.2 1.5-1 1.5-.1 1.5 1.1 1.5 0 1.5 0 1.5 0 1.5-.5 1.5.3 1.5-.1 1.5.3 1.5-.1 1.5-.1 1.5 0 1.5.1 1.5 0 1.5 0 1.5-.5 1.5.2 1.5.3 1.5 0 1.5 0 1.5 0 1.5 0 1.5 0 1.5 0 1.5-.1 1.5.1 1.5 0 1.5-.1 1.5-.1 1.5.2 1.5-.2 1.5 0 1.5.1 1.5-.7 1.5.8 1.5 0 1.5 0 1.5 0 1.5-.3 1.5.2 1.5-.4 1.5.3 1.5.1 1.5 0 1.5-.1 1.5.1 1.5 0 1.5-.4 1.5.4 1.5 0 1.5 0 1.5-.3 1.5.3 1.5 0 1.5-.6 1.5.6 1.5 0 1.5 0 1.5-.4 1.5.4 1.5 0 1.5 0 1.5 0 1.5-.1 1.5 0 1.5 0 1.5 0 1.5-.3 1.5.3 1.5 0 1.5 0 1.5 0 1.5 0 1.5-.4 1.5 0 1.5 0 1.5.4 1.5-.4 1.5.4 1.5 0 1.5-.7 1.5.2 1.5-.7 1.5.8 1.5.4 1.5 0 1.5-1.2 1.5 1.1 1.5-.2 1.5.2 1.5-.5 1.5.3 1.5.2 1.5-.7 1.5-.3 1.5.9 1.5 0 1.5.1 1.5-1 1.5 1 1.5 0 1.5 0 1.5 0 1.5-.3 1.5.2 1.5.1 1.5 0 1.5-.4 1.5.4 1.5-.6 1.5.5 1.5 0 1.5 0 1.5 0 1.5-.7 1.5.7 1.5-1.2 1.5 1.1 1.5.1 1.5-.9 1.5 0 1.5.9 1.5 0 1.5 0 1.5 0 1.5-.6 1.5-1.6 1.5 1.7 1.5 0 1.5.5 1.5 0 1.5 0 1.5-.1 1.5-1 1.5.1 1.5.3 1.5.6 1.5-1.1 1.5 1.1 1.5 0 1.5 0 1.5 0 1.5-.6 1.5.6 1.5-.2 1.5.2 1.5 0 1.5-.3 1.5.3 1.5 0 1.5-3.1 1.5 3.1 1.5 0 1.5-.2 1.5.1 1.5-1.8 1.5 1.8 1.5 0 1.5-.5 1.5.3 1.5.2 1.5 0 1.5 0 1.5 0 1.5 0 1.5 0 1.5 0 1.5-.8 1.5-.1 1.5.9 1.5-1 1.5.8 1.5-.4 1.5.4 1.5-.2 1.5-1.7 1.5 2 1.5-.1 1.5.1 1.5-.3 1.5-.4 1.5.7 1.5 0 1.5-2.3 1.5 1.8 1.5-3.7 1.5 2.7 1.5 1.5 1.5-.2 1.5.2 1.5 0 1.5-.2 1.5-1.8 1.5 2 1.5-.1 1.5-1.7 1.5 1.5 1.5.2 1.5-.4 1.5.4 1.5-1.2 1.5 1.2 1.5-.9 1.5.9 1.5-1.6 1.5 1.6 1.5 0 1.5-2.7 1.5 2.6 1.5-1 1.5-1.4 1.5 1.7 1.5.8 1.5 0 1.5-.1 1.5 0 1.5-.7 1.5.7 1.5-2.6 1.5 2.6 1.5-.6 1.5-.6 1.5 1.1 1.5.1 1.5 0 1.5 0 1.5-2.2 1.5.2 1.5-.6 1.5 1.3 1.5 1.3 1.5-3.1 1.5.3 1.5.7 1.5 2 1.5-.3 1.5-2.6 1.5 2.3 1.5.6 1.5-.5 1.5.5 1.5 0 1.5 0 1.5 0 1.5-.7 1.5-1 1.5 1.7 1.5 0 1.5-.5 1.5.5 1.5-2.2 1.5-1.1 1.5 3.3 1.5-.3 1.5.2 1.5 0 1.5 0 1.5 0 1.5-2 1.5 2 1.5-1.5 1.5 1.5 1.5 0 1.5-1.4 1.5 1.4 1.5 0 1.5 0 1.5 0 1.5 0 1.5-1.9 1.5-1 1.5 1.4 1.5.2 1.5.2 1.5-.4 1.5 1.4 1.5-.5 1.5-.4 1.5.7 1.5.2 1.5 0 1.5-.4 1.5.4 1.5-.9 1.5.9 1.5 0 1.5-.5 1.5.5 1.5 0 1.5 0 1.5 0 1.5-.1 1.5-1.1 1.5.7 1.5.4 1.5-.3 1.5-.7 1.5 1 1.5 0 1.5 0 1.5 0 1.5-4.1 1.5 4 1.5-2 1.5 2.1 1.5 0 1.5 0 1.5-1 1.5 1 1.5-.1 1.5-.3 1.5.3 1.5 0 1.5-4.8 1.5 3.4 1.5 1.4 1.5-.1 1.5.1 1.5 0 1.5-1 1.5 1 1.5 0 1.5-2.1 1.5 2.1 1.5-2.1 1.5-1.3 1.5 1.5 1.5-3.6 1.5 1.5 1.5 3.9 1.5-1 1.5.3 1.5-2.8 1.5 3.5 1.5 0 1.5 0 1.3-1.1 0 9.2-1.3-2.5-1.5 1.6-1.5 0-1.5-.1-1.5 2.2-1.5-.6-1.5-1.3-1.5-1.6-1.5 2.4-1.5-2.2-1.5 1.4-1.5.8-1.5-.2-1.5-2.2-1.5 1.2-1.5-1.3-1.5.5-1.5-.4-1.5 1.9-1.5-2-1.5 3.1-1.5-2.3-1.5 1.8-1.5-1.7-1.5 0-1.5.5-1.5-.2-1.5-.5-1.5.3-1.5-.5-1.5.8-1.5-1.5-1.5 2.5-1.5-2.4-1.5 1.9-1.5-.8-1.5-1.3-1.5 1-1.5-.3-1.5 1.1-1.5-.9-1.5 1.3-1.5-2-1.5.1-1.5.2-1.5-.4-1.5 2.1-1.5-1.2-1.5.2-1.5-1.2-1.5.6-1.5 1.5-1.5-.9-1.5-.8-1.5 1.8-1.5-2.3-1.5 1.6-1.5.8-1.5-2.4-1.5.8-1.5.1-1.5.7-1.5-.7-1.5-.9-1.5 1.1-1.5.4-1.5-.2-1.5-1.3-1.5 1.4-1.5-.7-1.5.4-1.5-1-1.5-.1-1.5.3-1.5-.2-1.5 1.6-1.5-1-1.5-.2-1.5-.3-1.5.1-1.5.3-1.5.5-1.5.4-1.5-.5-1.5-.3-1.5-.7-1.5.7-1.5.3-1.5 1-1.5-1.5-1.5 1.5-1.5-1.7-1.5.5-1.5.5-1.5-.8-1.5-.2-1.5-.2-1.5.9-1.5-1.1-1.5.5-1.5.5-1.5-.5-1.5 0-1.5 1.8-1.5-1.6-1.5-.4-1.5 1.3-1.5-1.3-1.5.2-1.5-.3-1.5 0-1.5-.2-1.5 0-1.5.3-1.5 1.2-1.5-.5-1.5-.9-1.5-.3-1.5 1.8-1.5-1.3-1.5-.1-1.5-.4-1.5 1.5-1.5-1.1-1.5.2-1.5.3-1.5.3-1.5-.9-1.5.1-1.5.3-1.5-.5-1.5.4-1.5-.3-1.5 1.6-1.5-1-1.5-.3-1.5 0-1.5-.2-1.5.5-1.5-1-1.5 0-1.5.3-1.5 1.2-1.5-.6-1.5-.9-1.5-.1-1.5 1.1-1.5-.6-1.5-.5-1.5 1-1.5.2-1.5-1.2-1.5.4-1.5-.3-1.5.3-1.5-.1-1.5 1-1.5-1-1.5-.3-1.5.4-1.5.9-1.5-1.2-1.5.1-1.5.5-1.5.9-1.5-1-1.5.1-1.5.4-1.5.2-1.5-.1-1.5-1-1.5.3-1.5.7-1.5-1.1-1.5 1-1.5-1-1.5-.2-1.5 1.1-1.5-.5-1.5 0-1.5 0-1.5-.4-1.5.3-1.5-.2-1.5-.3-1.5 1.8-1.5-1.2-1.5-.4-1.5 0-1.5.1-1.5 1.2-1.5-1.4-1.5.5-1.5-.3-1.5.1-1.5.2-1.5-.6-1.5.3-1.5.2-1.5-.6-1.5.5-1.5-.2-1.5-.3-1.5.3-1.5.8-1.5-.8-1.5.9-1.5-.3-1.5-.7-1.5 1.1-1.5-.7-1.5-.6-1.5 0-1.5.3-1.5 1.4-1.5-1.6-1.5.7-1.5-.5-1.5.6-1.5-.7-1.5.2-1.5-.2-1.5-.2-1.5.4-1.5-.4-1.5.4-1.5-.4-1.5-.1-1.5.2-1.5.1-1.5-.2-1.5-.1-1.5.4-1.5-.1-1.5.4-1.5-.6-1.5.4-1.5 0-1.5 0-1.5-.6-1.5.7-1.5-.3-1.5 0-1.5.3-1.5-.4-1.5.2-1.5.2-1.5-.6-1.5-.1-1.5.1-1.5.1-1.5 0-1.5-.1-1.5.5-1.5.3-1.5-.1-1.5-.6-1.5-.2-1.5.5-1.5-.3-1.5.3-1.5.1-1.5-.3-1.5.1-1.5-.1-1.5 0-1.5.1-1.5-.5-1.5.2-1.5.6-1.5 0-1.5-.7-1.5 1.1-1.5-.7-1.5-.4-1.5.2-1.5-.2-1.5.1-1.5-.1-1.5.2-1.5.1-1.5-.2-1.5.2-1.5-.4-1.5.1-1.5.1-1.5-.2-1.5.2-1.5.5-1.5-.3-1.5-.1-1.5 0-1.5-.4-1.5.4-1.5-.2-1.5.1-1.5-.2-1.5 0-1.5 0-1.5.2-1.5-.3-1.5.5-1.5-.5-1.5.1-1.5 0-1.5.1-1.5-.2-1.5.3-1.5-.2-1.5.3-1.5-.3-1.5.2-1.5.1-1.5.1-1.5-.4-1.5-.2-1.5.2-1.5-.2-1.5.4-1.5 0-1.5-.1-1.5.1-1.5.1-1.5-.4-1.5.6-1.5-.6-1.5-.1-1.5.1-1.5.2-1.5-.3-1.5.5-1.5-.3-1.5-.2-1.5.2-1.5-.2-1.5.6-1.5-.5-1.5-.2-1.5.5-1.5.4-1.5-.5-1.5-.3-1.5.4-1.5-.4-1.5.1-1.5 0-1.5-.1z"/>
<path fill="#fd3c1e" d="M1441.9 851.2l1.5-1.3 1.5 1.3 1.5-.5 1.5.1 1.5.4 1.5-.7 1.5.2 1.5.1 1.5-.7 1.5.8 1.5-.7 1.5.8 1.5-.2 1.5-.1 1.5-.7 1.5.2 1.5.6 1.5-.9 1.5.1 1.5.2 1.5.2 1.5-.3 1.5.1 1.5-.8 1.5.2 1.5-.2 1.5.6 1.5-.7 1.5.6 1.5-1 1.5.4 1.5-.2 1.5.1 1.5-.3 1.5-.3 1.5.9 1.5 0 1.5-1.4 1.5.4 1.5.1 1.5-.1 1.5-.7 1.5.9 1.5-.3 1.5-.5 1.5.7 1.5-1.3 1.5.8 1.5.5 1.5-.2 1.5-.5 1.5.2 1.5.3 1.5-1.3 1.5.8 1.5.1 1.5-1 1.5.1 1.5-.2 1.5.3 1.5-.9 1.5 0 1.5.8 1.5-1.7 1.5 1.5 1.5.2 1.5-.1 1.5-.9 1.5-1.2 1.5 1.6 1.5.3 1.5-1 1.5.1 1.5.5 1.5-.1 1.5-.5 1.5.3 1.5-1 1.5-.3 1.5-.1 1.5-.4 1.5-.1 1.5 1 1.5.6 1.5-1 1.5.7 1.5-.8 1.5-.5 1.5 1.2 1.5.1 1.5-.9 1.5 0 1.5.3 1.5.3 1.5-.6 1.5-1.1 1.5.5 1.5-.3 1.5-.3 1.5 2.1 1.5-.7 1.5.1 1.5.5 1.5-.8 1.5-1.5 1.5 2.1 1.5.2 1.5-.9 1.5 0 1.5-.8 1.5 1.4 1.5-.5 1.5-.7 1.5 1.4 1.5-.6 1.5.2 1.5.2 1.5.2 1.5.5 1.5-.2 1.5-.3 1.5 0 1.5-.2 1.5.5 1.5-.8 1.5.1 1.5.4 1.5.6 1.5.1 1.5-.5 1.5.3 1.5.2 1.5-.9 1.5-.8 1.5 1.7 1.5-.5 1.5-.5 1.5-.1 1.5.4 1.5.7 1.5-1.8 1.5 1.3 1.5 1 1.5.1 1.5 0 1.5-.1 1.5-.2 1.5-1.2 1.5 1.2 1.5.2 1.5-.9 1.5-.1 1.5.6 1.5-1.2 1.5.4 1.5 1.1 1.5.1 1.5-.5 1.5-1.1 1.5 1.5 1.5.9 1.5-3 1.5 2.4 1.5.3 1.5.3 1.5-.6 1.5.5 1.5 0 1.5-.4 1.5-.3 1.5-.1 1.5-.4 1.5-1.9 1.5 2.2 1.5.7 1.5.1 1.5-1.7 1.5 2.6 1.5.3 1.5-1.1 1.5.4 1.5.2 1.5-.1 1.5.3 1.5-.6 1.5.5 1.5-.5 1.5-.7 1.5-.1 1.5 1.7 1.5-.5 1.5.5 1.5-1.2 1.5.4 1.5 1.3 1.5-2.5 1.5 2.6 1.5-2.7 1.5 2.2 1.5-1.9 1.5.7 1.5 1.3 1.5.1 1.5-2.7 1.5.8 1.5.7 1.5 1.7 1.5 0 1.5-.6 1.5-.6 1.5-.3 1.5.1 1.5 1 1.5-.7 1.5.9 1.5-2.6 1.5 2.8 1.5-1.6 1.5 2 1.5-.4 1.5-.5 1.5 0 1.5-.2 1.5.9 1.5-.5 1.5-.8 1.5 1.3 1.5-2.7 1.5 3.1 1.5.3 1.5-.6 1.5-1.6 1.5-.6 1.5 1.7 1.5.5 1.5-.8 1.5-.2 1.5 1.4 1.5-2.6 1.5 3 1.5-1.5 1.5-3.6 1.5 2.9 1.5.2 1.5 1.5 1.5.1 1.5-.8 1.5-1 1.5-1.6 1.5-.2 1.5 2.9 1.5-.2 1.5-2.4 1.5 3.4 1.5.1 1.5-1.9 1.5-.2 1.5 2 1.5.2 1.5-.8 1.5.8 1.5-2 1.5 2 1.5-.1 1.5-1 1.5-2.3 1.5 3.2 1.5-1.9 1.5 1.4 1.5.2 1.5-.3 1.5.7 1.5 0 1.5 0 1.5 0 1.5 0 1.5-1.1 1.5 1.1 1.5-.2 1.5-2.7 1.5 2.9 1.5 0 1.5-.8 1.5-2.3 1.5 1.9 1.5.5 1.5.6 1.5 0 1.5 0 1.5-.3 1.5-3.4 1.5 3.7 1.5-2.9 1.5 2.7 1.5-2 1.5 2 1.5.2 1.5-1.3 1.5-2.3 1.5 3.6 1.5-1.8 1.5 1.7 1.5-.7 1.5-1.1 1.5 1.8 1.5 0 1.5 0 1.5 0 1.5-1 1.5-.5 1.5 1.5 1.5-.5 1.5.5 1.5 0 1.5 0 1.5 0 1.5 0 1.5 0 1.5-2.4 1.5-.4 1.5 2.7 1.5-.3 1.5.2 1.5.1 1.5 0 1.5 0 1.5 0 1.5-.4 1.5.4 1.5-1.2 1.5 1.2 1.5-.6 1.5-2.2 1.5 2.8 1.5 0 1.5 0 1.5 0 1.5-.2 1.5.1 1.5 0 1.5-1.1 1.5 1.1 1.5-.6 1.5.3 1.5.3 1.5-2.9 1.3 2.9 0 5.7-1.3.8-1.5 2.3-1.5-2.9-1.5 1.3-1.5.1-1.5-.9-1.5.2-1.5.6-1.5-.8-1.5-.6-1.5.3-1.5-.5-1.5.5-1.5.5-1.5.5-1.5-.5-1.5-.1-1.5-.5-1.5.1-1.5 2.4-1.5-2.2-1.5.9-1.5-1.4-1.5 2.1-1.5.7-1.5-1.1-1.5 0-1.5-1.7-1.5-.3-1.5 1.1-1.5.5-1.5.1-1.5-1.2-1.5.7-1.5.5-1.5-.8-1.5-.1-1.5.9-1.5-.2-1.5-.3-1.5-.5-1.5.1-1.5-.2-1.5 2.7-1.5-3.4-1.5 1-1.5-.9-1.5 1.3-1.5-.2-1.5.8-1.5-1.3-1.5-.8-1.5 1.6-1.5.2-1.5 2.9-1.5-4.2-1.5-.2-1.5 1.5-1.5-.8-1.5.3-1.5.1-1.5-.6-1.5.3-1.5 1.3-1.5-1.9-1.5-.3-1.5 1.5-1.5.1-1.5-.9-1.5-.1-1.5 2.3-1.5-2.8-1.5 1.2-1.5-.7-1.5.5-1.5-1.3-1.5.9-1.5-.6-1.5-.4-1.5.7-1.5.7-1.5-.4-1.5-.9-1.5.2-1.5 0-1.5.2-1.5 1.2-1.5-.2-1.5-1.5-1.5.9-1.5-.6-1.5 2.2-1.5-2.4-1.5 1.3-1.5.5-1.5-1.8-1.5.9-1.5-1.1-1.5.4-1.5 1.8-1.5-.7-1.5-.5-1.5-1-1.5.6-1.5.6-1.5.7-1.5 1.4-1.5-2.4-1.5.3-1.5-.6-1.5 0-1.5-.1-1.5-.4-1.5 1.4-1.5-1.2-1.5.5-1.5 1-1.5.3-1.5-2-1.5.2-1.5.7-1.5.3-1.5-1-1.5-.1-1.5 1.7-1.5-1-1.5-.5-1.5-.5-1.5.6-1.5-.7-1.5.1-1.5.1-1.5 1-1.5-.6-1.5-.4-1.5.4-1.5-.4-1.5.1-1.5-.2-1.5-.1-1.5 0-1.5 1.2-1.5-.8-1.5.4-1.5-.1-1.5-.1-1.5-.2-1.5.1-1.5-.4-1.5 1.2-1.5-.9-1.5 1.2-1.5-1-1.5-.6-1.5 1.8-1.5-1.1-1.5-.1-1.5-.1-1.5.1-1.5-.3-1.5 1.1-1.5-1.2-1.5 1.4-1.5-1.1-1.5.8-1.5.6-1.5-1.6-1.5-.1-1.5 1.6-1.5-1.1-1.5-.5-1.5.7-1.5-.4-1.5-.2-1.5 0-1.5.1-1.5 0-1.5.4-1.5-.2-1.5-.7-1.5.5-1.5-.3-1.5.8-1.5-.7-1.5-.3-1.5.2-1.5-.3-1.5.2-1.5-.3-1.5.1-1.5.9-1.5-.8-1.5-.2-1.5 1-1.5-.5-1.5-.1-1.5.7-1.5-1.1-1.5.8-1.5-.2-1.5.9-1.5-1-1.5-.3-1.5.5-1.5.2-1.5-.1-1.5.1-1.5 0-1.5.1-1.5-.5-1.5.2-1.5-.6-1.5.6-1.5-.7-1.5.6-1.5.2-1.5-.4-1.5.1-1.5.1-1.5.2-1.5-.6-1.5 0-1.5.8-1.5-.5-1.5-.2-1.5-.4-1.5.5-1.5-.2-1.5-.3-1.5.5-1.5-.2-1.5.8-1.5-.9-1.5-.2-1.5.1-1.5-.2-1.5 1.2-1.5 0-1.5 0-1.5-.8-1.5.6-1.5-.2-1.5-.4-1.5.1-1.5-.3-1.5 0-1.5.5-1.5.5-1.5-1.2-1.5-.1-1.5 1.5-1.5-1.4-1.5.5-1.5-.5-1.5.2-1.5.5-1.5-.2-1.5-.1-1.5 0-1.5-.2-1.5-.2-1.5.5-1.5-.3-1.5-.2-1.5.1-1.5-.1-1.5.2-1.5-.2-1.5.4-1.5-.2-1.5 0-1.5-.2-1.5 0-1.5.4-1.5-.5-1.5.2-1.5-.2-1.5.4-1.5-.2-1.5-.1-1.5-.2-1.5.7-1.5-.6-1.5.5-1.5.2-1.5-.2-1.5-.2-1.5.1-1.5-.3-1.5.3-1.5.2-1.5.4-1.5-.8-1.5.1-1.5-.4-1.5.1-1.5.4-1.5-.2-1.5-.2-1.5.3-1.5-.2-1.5.2-1.5-.4-1.5 0-1.5.2-1.5-.2-1.5.6-1.5-.7-1.5.2-1.5-.1-1.5.4-1.5-.1-1.5 0-1.5-.3-1.5-.1-1.5 0-1.5.1-1.5.3-1.5-.4-1.5.3-1.5.1-1.5-.2-1.5-.2-1.5.5-1.5-.5-1.5 0-1.5.1-1.5.7-1.5-.4-1.5.1-1.5-.5-1.5.1-1.5.3-1.5-.5-1.5.2-1.5-.1-1.5.3-1.5-.4-1.5.2-1.5-.2-1.5 0-1.5.4-1.5 0-1.5.3-1.5-.6-1.5 0-1.5.3z"/>
<path fill="#e61405" d="M1441.9 801.6l1.5.1 1.5-.8 1.5.5 1.5.2 1.5-.7 1.5.4 1.5-1 1.5.4 1.5.7 1.5-.4 1.5-.1 1.5.3 1.5-.7 1.5-.3 1.5 0 1.5-.8 1.5.4 1.5.7 1.5-.5 1.5 0 1.5.1 1.5.1 1.5-.9 1.5.2 1.5-.1 1.5.4 1.5.2 1.5-.7 1.5-.1 1.5.3 1.5 0 1.5-.3 1.5-.3 1.5-.2 1.5.1 1.5.2 1.5-.4 1.5.4 1.5 0 1.5-.8 1.5.5 1.5-.4 1.5-.5 1.5-.5 1.5.7 1.5 0 1.5-1.6 1.5.6 1.5.6 1.5-.1 1.5-.1 1.5-1 1.5.5 1.5-1.6 1.5 1.6 1.5.1 1.5-.8 1.5.6 1.5-1.3 1.5.8 1.5-.1 1.5-.6 1.5.3 1.5-.5 1.5.2 1.5-1.2 1.5-.2 1.5.4 1.5-.8 1.5.8 1.5 0 1.5.3 1.5-.6 1.5-.1 1.5-.2 1.5.1 1.5.3 1.5-1.5 1.5 1.5 1.5-.3 1.5-.1 1.5-.1 1.5 0 1.5-.2 1.5-.1 1.5-.6 1.5.6 1.5-.4 1.5.4 1.5-.5 1.5 0 1.5.3 1.5-.5 1.5-.1 1.5.3 1.5-.5 1.5-.2 1.5.8 1.5.3 1.5-.1 1.5-.2 1.5-2 1.5 2.1 1.5-.7 1.5.2 1.5.6 1.5-.5 1.5-.5 1.5-.1 1.5.4 1.5-.1 1.5.7 1.5.2 1.5-.5 1.5.4 1.5-.7 1.5.8 1.5-.8 1.5-.4 1.5 1.5 1.5-.4 1.5-.7 1.5-1.3 1.5 2 1.5-.9 1.5-.1 1.5.2 1.5 1.1 1.5 0 1.5-.7 1.5.8 1.5-.7 1.5-.5 1.5 1.6 1.5-.7 1.5.2 1.5.2 1.5-1.4 1.5 1.9 1.5-.8 1.5-1.1 1.5.8 1.5.6 1.5-.7 1.5 1.2 1.5-1.4 1.5.3 1.5 1.2 1.5.1 1.5-.9 1.5.6 1.5 0 1.5 1 1.5-1.8 1.5 0 1.5 2.1 1.5-.5 1.5.1 1.5-.2 1.5-1.4 1.5.5 1.5.9 1.5.4 1.5-.6 1.5.1 1.5-.1 1.5.1 1.5.8 1.5.9 1.5-1.4 1.5.5 1.5 1.6 1.5-2.2 1.5.9 1.5-.6 1.5 2 1.5-1 1.5 0 1.5 1.7 1.5-1.1 1.5-.5 1.5 1.3 1.5.5 1.5-1.8 1.5 2.1 1.5-3.1 1.5 2.5 1.5-.9 1.5-2.1 1.5 4.1 1.5-.9 1.5 1 1.5-.6 1.5.1 1.5.2 1.5.6 1.5-1.6 1.5 1.2 1.5.6 1.5-2.4 1.5 1.2 1.5 1 1.5-.5 1.5-1.6 1.5 2.5 1.5-1.3 1.5.1 1.5 1.8 1.5-.9 1.5-1.6 1.5 2.5 1.5-.4 1.5-.2 1.5-.7 1.5 1.6 1.5-2.4 1.5 2.2 1.5.3 1.5-1.4 1.5 1.4 1.5-.4 1.5-.2 1.5 1.2 1.5-1.9 1.5.2 1.5-3.3 1.5 3.6 1.5 1.6 1.5-1 1.5 1 1.5-1.6 1.5-.7 1.5-.2 1.5 2.8 1.5.1 1.5-.8 1.5-.3 1.5.8 1.5-2 1.5 2.4 1.5-.8 1.5-1.5 1.5 2 1.5-1 1.5.4 1.5-.9 1.5-.7 1.5 2 1.5.8 1.5-2.7 1.5.9 1.5-.3 1.5 1.8 1.5-.3 1.5.1 1.5-.8 1.5 1.2 1.5.2 1.5 0 1.5-1.5 1.5-1.2 1.5 2.7 1.5-1.6 1.5-.5 1.5-2.5 1.5 1.2 1.5 3.4 1.5 0 1.5-.2 1.5.2 1.5-3 1.5.9 1.5 2.1 1.5 0 1.5-1.4 1.5-.3 1.5 1.7 1.5-2.9 1.5-1.5 1.5 4.4 1.5 0 1.5-2.3 1.5 2.3 1.5-.1 1.5-.5 1.5-.3 1.5.5 1.5.3 1.5.2 1.5-.8 1.5-1.2 1.5 1.1 1.5.9 1.5 0 1.5-2.6 1.5-.2 1.5 2.5 1.5-.4 1.5-1.9 1.5 2.6 1.5-1.6 1.5 1.3 1.5.2 1.5-3.7 1.5 3.8 1.5-.3 1.5.1 1.5.1 1.5-2.1 1.5-1.8 1.5 4 1.5-.2 1.5.2 1.5-.4 1.5.4 1.5 0 1.5 0 1.5-2.2 1.5 2.2 1.5-.6 1.5.6 1.5-3.3 1.5 3.3 1.5-.3 1.5.4 1.5-2.2 1.5 2.2 1.5 0 1.5-3.9 1.5 3.4 1.5.5 1.5-.3 1.5-3.8 1.5 4.1 1.5 0 1.5-6 1.5 4.8 1.5-1 1.5 2.2 1.5-2.2 1.5 1.9 1.5-3.2 1.5 3.5 1.5 0 1.5-.7 1.5-.6 1.3 1.3 0 5.7-1.3 0-1.5-.1-1.5 1.1-1.5.1-1.5.7-1.5-1.4-1.5-.3-1.5 1.7-1.5.8-1.5-1.7-1.5-1-1.5.3-1.5 3-1.5-3-1.5.7-1.5-.9-1.5 2.7-1.5-2.2-1.5 2.1-1.5-2-1.5 1.3-1.5-.1-1.5-1.6-1.5-.1-1.5 2.4-1.5 1.3-1.5-3.8-1.5.6-1.5 1-1.5-.4-1.5 1.8-1.5-1.1-1.5-1.3-1.5-.7-1.5-.5-1.5.2-1.5.6-1.5-.6-1.5 2.8-1.5-3-1.5.5-1.5-.1-1.5.3-1.5 1.3-1.5-.9-1.5-.2-1.5-.8-1.5 2.1-1.5 0-1.5-.3-1.5-.2-1.5-1.7-1.5.2-1.5.3-1.5.5-1.5.9-1.5-1.9-1.5 1.8-1.5-.9-1.5-1.1-1.5 1-1.5-.3-1.5.2-1.5.8-1.5-1.4-1.5 1.9-1.5-2.3-1.5 3.3-1.5-1.5-1.5 0-1.5.5-1.5-.6-1.5-1.7-1.5.2-1.5.7-1.5.1-1.5.1-1.5-.6-1.5-.3-1.5-.4-1.5 1.8-1.5-1.5-1.5-.1-1.5.5-1.5-.1-1.5-.5-1.5.9-1.5-1-1.5 2.4-1.5-.7-1.5-1.6-1.5.7-1.5-.8-1.5.7-1.5-.2-1.5.4-1.5-.7-1.5.7-1.5 1.1-1.5-1.6-1.5.1-1.5 0-1.5-.8-1.5 0-1.5 1.2-1.5-.9-1.5 1.5-1.5-.6-1.5-.1-1.5 1.5-1.5-2.6-1.5 1.5-1.5-1.3-1.5.1-1.5.1-1.5-.4-1.5.5-1.5.8-1.5-.7-1.5-.7-1.5.6-1.5.4-1.5.3-1.5-1.3-1.5 1.3-1.5-.7-1.5-.8-1.5 2.1-1.5.3-1.5-1.5-1.5.7-1.5-.3-1.5 0-1.5-1.1-1.5-.2-1.5.4-1.5.4-1.5-.5-1.5 1.1-1.5-.7-1.5-.6-1.5-.3-1.5.6-1.5-.1-1.5.1-1.5 1.5-1.5-1.2-1.5.1-1.5-.7-1.5-.1-1.5-.1-1.5-.1-1.5 1.6-1.5-1.5-1.5.4-1.5-.7-1.5.5-1.5.2-1.5-.5-1.5.3-1.5.1-1.5.1-1.5-.2-1.5 1.4-1.5-1.8-1.5 1.1-1.5-1.2-1.5 0-1.5-.1-1.5 1.2-1.5-.9-1.5-.4-1.5 1-1.5-.6-1.5.8-1.5-.4-1.5.9-1.5-1.5-1.5-.2-1.5 0-1.5 1.1-1.5-.6-1.5-.3-1.5.2-1.5-.3-1.5 1.5-1.5-1-1.5-.3-1.5-.1-1.5.1-1.5-.5-1.5 0-1.5.6-1.5-.3-1.5 1.5-1.5-1.7-1.5.7-1.5.8-1.5-.8-1.5-.3-1.5.6-1.5-1.2-1.5.7-1.5-.2-1.5-.2-1.5-.3-1.5 0-1.5.5-1.5-.4-1.5.3-1.5-.2-1.5.1-1.5-.3-1.5.2-1.5-.2-1.5-.1-1.5.2-1.5.5-1.5-.7-1.5.3-1.5.4-1.5-.7-1.5.2-1.5 0-1.5.1-1.5 0-1.5-.3-1.5-.2-1.5.6-1.5.1-1.5-.1-1.5-.6-1.5.2-1.5-.4-1.5.3-1.5-.3-1.5.9-1.5-.4-1.5-.2-1.5.3-1.5-.2-1.5.2-1.5-.3-1.5-.3-1.5.5-1.5-.3-1.5.1-1.5.4-1.5-.6-1.5-.1-1.5.1-1.5 1-1.5-1.3-1.5.6-1.5.2-1.5-.7-1.5 1-1.5-1.1-1.5.7-1.5-.4-1.5-.2-1.5.1-1.5 0-1.5-.3-1.5.3-1.5.2-1.5-.1-1.5-.5-1.5.2-1.5 0-1.5 0-1.5.3-1.5-.2-1.5.1-1.5.6-1.5-.5-1.5-.5-1.5.1-1.5.5-1.5-.4-1.5 0-1.5.1-1.5-.4-1.5-.1-1.5 1.5-1.5-1-1.5-.3-1.5-.1-1.5-.1-1.5.4-1.5-.5-1.5.4-1.5-.4-1.5.2-1.5.3-1.5-.2-1.5-.3-1.5 0-1.5.2-1.5-.3-1.5.5-1.5-.3-1.5.3-1.5-.3-1.5.2-1.5-.2-1.5.1-1.5 0-1.5-.2-1.5.3-1.5-.3-1.5.1-1.5-.2-1.5.2-1.5-.2-1.5.4-1.5.3-1.5-.2-1.5-.6-1.5-.1-1.5.3-1.5 0-1.5-.3-1.5.4-1.5-.3-1.5-.1-1.5.1-1.5-.1-1.5.2-1.5-.3-1.5.1-1.5.3-1.5-.4-1.5.4-1.5-.4-1.5-.1-1.5.5-1.5.1-1.5-.5-1.5.4-1.5-.4-1.5.1-1.5-.2-1.5.2-1.5-.3-1.5.4-1.5.4z"/>
<path fill="#9b0505" d="M1441.9 748.6l1.5 0 1.5-.5 1.5 0 1.5.5 1.5-.1 1.5-.6 1.5.4 1.5-.1 1.5-.4 1.5-.1 1.5-.2 1.5.1 1.5-.3 1.5-.3 1.5.3 1.5-.7 1.5.7 1.5-.7 1.5-.2 1.5 0 1.5.1 1.5-.7 1.5-.1 1.5.5 1.5-.4 1.5-.1 1.5-.1 1.5-1 1.5 1 1.5-.7 1.5.2 1.5-.3 1.5-1.1 1.5.1 1.5.8 1.5-1.6 1.5.5 1.5.3 1.5-.2 1.5-.5 1.5.2 1.5-.5 1.5.1 1.5-.4 1.5 0 1.5-.5 1.5.1 1.5-.1 1.5-.2 1.5-.7 1.5.3 1.5-.9 1.5.3 1.5 0 1.5-.1 1.5-1.3 1.5.8 1.5-.3 1.5-.6 1.5.1 1.5-.2 1.5-.8 1.5-.9 1.5 1 1.5-.7 1.5-.1 1.5.8 1.5-.6 1.5.1 1.5-.4 1.5-.8 1.5-.3 1.5 1.1 1.5-.6 1.5-.4 1.5.1 1.5-.8 1.5 0 1.5-.3 1.5.2 1.5.2 1.5-.5 1.5-.2 1.5-.3 1.5-.2 1.5-.6 1.5.6 1.5.2 1.5-1.5 1.5 1.2 1.5-.1 1.5-1.3 1.5 0 1.5 1.2 1.5-.5 1.5.2 1.5.3 1.5-.2 1.5.1 1.5-.7 1.5-.1 1.5.8 1.5.2 1.5-.6 1.5.2 1.5 0 1.5.2 1.5-.1 1.5-.8 1.5-.1 1.5 1.6 1.5-.4 1.5-1.3 1.5.2 1.5.7 1.5.1 1.5.7 1.5-.3 1.5-.4 1.5.5 1.5-.1 1.5.4 1.5-.2 1.5 1 1.5-.9 1.5 1 1.5.1 1.5 0 1.5 0 1.5-.7 1.5.6 1.5.2 1.5.2 1.5.3 1.5-.8 1.5.8 1.5-.8 1.5.4 1.5-.5 1.5.6 1.5-.2 1.5-1.7 1.5 2.9 1.5-.6 1.5.4 1.5-.3 1.5.6 1.5.8 1.5-1 1.5.8 1.5-.3 1.5 1.1 1.5-1.3 1.5.2 1.5-2.1 1.5 3 1.5 1.1 1.5.3 1.5-2 1.5 2.3 1.5-.7 1.5-.4 1.5-.4 1.5 1.2 1.5-.8 1.5 1.9 1.5-.2 1.5.4 1.5-.2 1.5-.9 1.5 1.8 1.5-.7 1.5 1.1 1.5-1.5 1.5 0 1.5 1.2 1.5 0 1.5.3 1.5-.1 1.5.3 1.5-2.3 1.5 1.6 1.5-1.2 1.5.9 1.5 1.9 1.5-.7 1.5-1.9 1.5 1.8 1.5.5 1.5-1.5 1.5 2 1.5 0 1.5-.6 1.5.6 1.5-.5 1.5.4 1.5-.1 1.5-.5 1.5.3 1.5-.3 1.5 2 1.5-.7 1.5-.1 1.5 1 1.5.1 1.5-.8 1.5-1.6 1.5 2.4 1.5-.4 1.5-.6 1.5 1.1 1.5.2 1.5.1 1.5.2 1.5-.5 1.5.5 1.5-2.1 1.5.2 1.5 1.3 1.5-1.4 1.5 2.1 1.5-1.5 1.5 1.8 1.5-1.4 1.5.1 1.5-1.4 1.5 2.3 1.5.8 1.5-2.2 1.5 2.1 1.5-.1 1.5.1 1.5-7.3 1.5 6.4 1.5-1.6 1.5 1.3 1.5 2 1.5 0 1.5-.7 1.5-2.2 1.5 2.9 1.5-.8 1.5 1 1.5-.5 1.5.8 1.5-.6 1.5-.6 1.5-.4 1.5-1.7 1.5 2.6 1.5-.1 1.5-2.8 1.5 1.4 1.5.1 1.5 0 1.5 2.4 1.5-.5 1.5-.4 1.5-.8 1.5.4 1.5-.6 1.5-.1 1.5.9 1.5 0 1.5 1 1.5-1.1 1.5-2.8 1.5.3 1.5 2 1.5 2.2 1.5-2.2 1.5-2.3 1.5 3.2 1.5-2.6 1.5.3 1.5 1.6 1.5.8 1.5-1.1 1.5 2.9 1.5-.3 1.5-.4 1.5-1.1 1.5 0 1.5.2 1.5.9 1.5-3.4 1.5.8 1.5 3.7 1.5-3 1.5-1.3 1.5 2.9 1.5-1.2 1.5 1.9 1.5.5 1.5-3 1.5 1.5 1.5-1.5 1.5 1.4 1.5-.1 1.5 1.9 1.5-3.9 1.5 4 1.5-1 1.5-1.7 1.5 2.6 1.5-3 1.5 3.5 1.5-1.2 1.5-3.1 1.5.9 1.5 3.4 1.5-1.2 1.5 1 1.5-.5 1.5.6 1.5.2 1.5-.8 1.5-1.5 1.5 2.3 1.5-1.1 1.5 1 1.5-2.7 1.5 2.8 1.5-1.5 1.5.3 1.5-2.3 1.5 3.5 1.5-.2 1.5-.3 1.5.2 1.5-1.1 1.5 0 1.5-1.5 1.5 2.8 1.5-1.7 1.5-3.6 1.5 3.8 1.5 1.7 1.5-7.2 1.5 2.1 1.5 2.9 1.5-3.8 1.5 2.7 1.5 3.3 1.5 0 1.5 0 1.3 0 0 5.6-1.3 1-1.5-.7-1.5 0-1.5-.3-1.5.9-1.5.9-1.5-.5-1.5.5-1.5-1.6-1.5.1-1.5.4-1.5 1-1.5-.8-1.5-.8-1.5.6-1.5 1.2-1.5-1.9-1.5.3-1.5.4-1.5-.1-1.5 1.2-1.5-1.7-1.5 1.2-1.5-1.1-1.5 2.4-1.5-3-1.5.8-1.5-.2-1.5-.1-1.5 2.4-1.5-.4-1.5 2-1.5-4.5-1.5.2-1.5 1.4-1.5-.7-1.5-.7-1.5 1.2-1.5.8-1.5-2.1-1.5 1.2-1.5.3-1.5 1.2-1.5-1.1-1.5.3-1.5-.4-1.5 2.6-1.5-3.3-1.5-.7-1.5 1.9-1.5-2.4-1.5.7-1.5 1.1-1.5-.4-1.5-1.1-1.5 1-1.5-.4-1.5-.6-1.5.9-1.5-1.2-1.5.1-1.5 1.2-1.5 2.1-1.5-3.3-1.5-.2-1.5 4-1.5-3.4-1.5.9-1.5.1-1.5-.5-1.5 1.1-1.5-2.2-1.5 2.1-1.5-2.3-1.5.9-1.5 1.4-1.5-2.3-1.5.3-1.5.5-1.5 1.3-1.5-1.2-1.5-.1-1.5-.6-1.5 1.2-1.5-1.2-1.5.3-1.5 1.3-1.5-1.2-1.5 1.7-1.5-2.4-1.5.2-1.5.3-1.5.7-1.5-1.1-1.5-.1-1.5-.3-1.5.3-1.5-.1-1.5 1.1-1.5-.3-1.5-.8-1.5.6-1.5 0-1.5 1.8-1.5-2.6-1.5 1.8-1.5-1.5-1.5 1.7-1.5.5-1.5-2-1.5-.4-1.5.3-1.5-.4-1.5.9-1.5-1-1.5 1.8-1.5-1.9-1.5 0-1.5-.1-1.5.1-1.5 1.9-1.5-1.7-1.5.1-1.5 2.1-1.5-1.9-1.5-.6-1.5.6-1.5 0-1.5.5-1.5.4-1.5-.4-1.5 1.1-1.5-2.1-1.5-.4-1.5.5-1.5-.3-1.5.4-1.5-.7-1.5 1.4-1.5-1-1.5 0-1.5.6-1.5-.4-1.5.2-1.5.1-1.5 0-1.5-.6-1.5.3-1.5 0-1.5-.5-1.5-.2-1.5-.1-1.5.8-1.5-.5-1.5.8-1.5-.7-1.5-.1-1.5 1-1.5-.6-1.5.4-1.5-.9-1.5.7-1.5-.4-1.5-.2-1.5.5-1.5-.9-1.5.5-1.5.8-1.5-1.4-1.5.8-1.5-.1-1.5-.8-1.5.6-1.5-.3-1.5.3-1.5-.5-1.5.7-1.5-.1-1.5.8-1.5 0-1.5-1.7-1.5.3-1.5.2-1.5.1-1.5-.5-1.5 0-1.5.6-1.5-.4-1.5 1.2-1.5-1-1.5-.2-1.5 1.1-1.5-.9-1.5.2-1.5-.4-1.5.6-1.5 0-1.5-.7-1.5.9-1.5-.4-1.5-.5-1.5-.1-1.5.2-1.5-.4-1.5-.1-1.5.9-1.5-1-1.5 1.1-1.5-.7-1.5-.2-1.5.1-1.5 0-1.5.4-1.5-.4-1.5-.4-1.5.4-1.5.4-1.5-.2-1.5-.4-1.5.3-1.5.2-1.5-.8-1.5 0-1.5.6-1.5.2-1.5-.7-1.5-.1-1.5.1-1.5-.3-1.5.9-1.5-.2-1.5-.6-1.5.1-1.5.1-1.5-.1-1.5.2-1.5-.3-1.5-.2-1.5.2-1.5.2-1.5.3-1.5-.6-1.5.5-1.5-.4-1.5 1.1-1.5-.8-1.5-.3-1.5-.3-1.5.2-1.5-.2-1.5.4-1.5.1-1.5-.4-1.5.2-1.5-.1-1.5-.1-1.5.2-1.5-.2-1.5 0-1.5.1-1.5-.1-1.5 0-1.5 0-1.5-.3-1.5.1-1.5-.1-1.5.2-1.5.2-1.5-.1-1.5.1-1.5-.6-1.5.5-1.5-.2-1.5.3-1.5-.2-1.5.5-1.5-.6-1.5 0-1.5-.3-1.5.7-1.5-.1-1.5-.3-1.5.7-1.5-.9-1.5-.2-1.5.5-1.5-.1-1.5-.2-1.5.1-1.5-.4-1.5 0-1.5.1-1.5.3-1.5-.1-1.5-.4-1.5.3-1.5 0-1.5-.1-1.5-.1-1.5 0-1.5.8-1.5-.3-1.5-.6-1.5.4-1.5.2-1.5-.7-1.5.1-1.5.2-1.5 0-1.5 0-1.5-.3-1.5.4-1.5.1-1.5-.1-1.5-.4-1.5.3-1.5-.4-1.5.3-1.5.1-1.5-.5-1.5.1-1.5.5-1.5-.4-1.5.4-1.5.1-1.5-.5-1.5-.1-1.5.1-1.5 0-1.5-.2-1.5-.1-1.5-.1-1.5 0-1.5.4-1.5 0-1.5-.2-1.5-.3-1.5.3-1.5.1-1.5.1-1.5-.4-1.5.2-1.5 0-1.5 0-1.5.1-1.5-.2-1.5.3z"/>
<path fill="#6e0505" d="M1441.9 694.5l1.5 0 1.5-.9 1.5.3 1.5.2 1.5.2 1.5-.5 1.5.2 1.5-.3 1.5-.1 1.5-.1 1.5-.3 1.5-.5 1.5-.1 1.5.2 1.5-.3 1.5-.7 1.5.3 1.5-.2 1.5-.5 1.5-.1 1.5 0 1.5-.9 1.5-.4 1.5.5 1.5-1.5 1.5.9 1.5-.8 1.5.4 1.5 0 1.5-.7 1.5.2 1.5-.4 1.5-.6 1.5-.2 1.5-.5 1.5-.9 1.5.2 1.5-.9 1.5.7 1.5-1.3 1.5.5 1.5-.7 1.5-1 1.5-.6 1.5.1 1.5-.4 1.5-1.5 1.5 1.5 1.5-1.1 1.5-.3 1.5-.1 1.5-.4 1.5-.8 1.5.7 1.5-2 1.5.5 1.5.3 1.5-.6 1.5.1 1.5-.9 1.5 1 1.5-.7 1.5-.4 1.5.3 1.5-.2 1.5.2 1.5-.2 1.5-.6 1.5-.6 1.5.7 1.5-.7 1.5-.1 1.5.2 1.5-.9 1.5.5 1.5-.9 1.5.2 1.5-.7 1.5.7 1.5-.9 1.5.4 1.5-.1 1.5-.5 1.5.2 1.5-.8 1.5-.3 1.5 1.2 1.5-.1 1.5-.9 1.5.4 1.5-.2 1.5-.6 1.5-.3 1.5 1.2 1.5-.2 1.5-.2 1.5 0 1.5.2 1.5-.1 1.5-.5 1.5-1 1.5 1.1 1.5-.1 1.5.7 1.5.4 1.5.3 1.5-2 1.5 1.5 1.5-1 1.5-.5 1.5 2.1 1.5 0 1.5-.7 1.5 1.4 1.5-.9 1.5 1 1.5-1 1.5 1.1 1.5-.3 1.5-.3 1.5-.5 1.5.7 1.5-1.4 1.5 2.9 1.5-.2 1.5-.4 1.5.5 1.5-1.5 1.5 2.1 1.5.4 1.5-1.1 1.5-1.1 1.5 2.3 1.5.4 1.5-.3 1.5-1.2 1.5.6 1.5 1.4 1.5 0 1.5.5 1.5.3 1.5.5 1.5-1.7 1.5.8 1.5 0 1.5 1.1 1.5.6 1.5.3 1.5-.5 1.5 0 1.5.7 1.5-.3 1.5.3 1.5 0 1.5.8 1.5-1.2 1.5 2 1.5 1.1 1.5.5 1.5-1.5 1.5 2 1.5-1.1 1.5 1.2 1.5-.3 1.5.1 1.5.6 1.5-1.6 1.5 2.6 1.5-2.4 1.5 1.9 1.5.3 1.5-.8 1.5 2.5 1.5-2.2 1.5 1.1 1.5.8 1.5-.6 1.5 1.5 1.5-.8 1.5 1 1.5-.4 1.5-.8 1.5-.1 1.5 1.1 1.5-.4 1.5.7 1.5-.7 1.5-3.4 1.5 3.9 1.5.2 1.5-1.3 1.5 1 1.5-2.5 1.5 3 1.5 1 1.5-1 1.5 1.6 1.5-.6 1.5-.5 1.5-.7 1.5.9 1.5 1 1.5-.7 1.5 1 1.5-.4 1.5-1 1.5.9 1.5.9 1.5-1.7 1.5 1.2 1.5.4 1.5 0 1.5.7 1.5-1 1.5-2.8 1.5.4 1.5.9 1.5 1.1 1.5 1.7 1.5.1 1.5-.5 1.5-.2 1.5.1 1.5.6 1.5-4.5 1.5 4.4 1.5-1.8 1.5 2.6 1.5-.6 1.5-.2 1.5.9 1.5-.6 1.5 0 1.5.2 1.5.1 1.5-.4 1.5.2 1.5 1.2 1.5-.9 1.5 1.3 1.5-.9 1.5-.3 1.5-.6 1.5-.1 1.5.1 1.5 2.4 1.5-1.5 1.5-.2 1.5 1 1.5 0 1.5-2.6 1.5 3.5 1.5-1 1.5-.7 1.5 1.1 1.5.4 1.5.4 1.5 0 1.5-2.2 1.5 2.7 1.5.1 1.5-5 1.5 3.8 1.5.5 1.5-.3 1.5 1.6 1.5-.6 1.5-.6 1.5-1.3 1.5 2.8 1.5-.4 1.5-4.1 1.5 4.4 1.5-1.2 1.5.1 1.5.3 1.5.2 1.5-3.2 1.5 3.7 1.5-2.1 1.5 2.5 1.5-2.6 1.5 1.2 1.5 1.6 1.5-.6 1.5-.5 1.5-2.4 1.5-2.7 1.5 6.8 1.5-1.3 1.5.2 1.5-.6 1.5 2 1.5-.7 1.5-1.3 1.5 1.6 1.5-.4 1.5-.1 1.5 1.1 1.5-.5 1.5-2.6 1.5 2.7 1.5-.3 1.5-3.4 1.5 1.5 1.5 2.7 1.5-6.1 1.5 1.9 1.5 3 1.5.5 1.5 1.3 1.5-2.3 1.5.9 1.5-1.3 1.5-1.6 1.5-1.1 1.5 3.5 1.5-.3 1.5 1.1 1.5.2 1.5-4.9 1.5 5 1.5 1.3 1.5-5.7 1.5 2.2 1.5-.5 1.5 3.9 1.5-.1 1.5-7.2 1.5 6.4 1.5-3.7 1.5-1.4 1.5 4.4 1.5-1 1.5-1 1.5 3.2 1.5-4.6 1.5 5.5 1.5-1.1 1.5-2 1.5-.7 1.5 2.8 1.5-.9 1.5-3 1.5 2.1 1.5-.1 1.3.3 0 11.3-1.3-2.5-1.5.9-1.5 3.7-1.5-4.3-1.5.8-1.5-.9-1.5-.7-1.5 1.3-1.5 0-1.5-.9-1.5 6.2-1.5-4.4-1.5-.4-1.5.7-1.5-1-1.5-.7-1.5 1.2-1.5-.1-1.5-.5-1.5-1.6-1.5.3-1.5 1.1-1.5-1-1.5.3-1.5.5-1.5.2-1.5-.4-1.5 1.1-1.5-.5-1.5-1.2-1.5.4-1.5-1.3-1.5 1.9-1.5-.8-1.5.1-1.5-.8-1.5-.5-1.5 1.9-1.5-.9-1.5 1-1.5-1.5-1.5.4-1.5.9-1.5-1.5-1.5 2-1.5-2.2-1.5-.4-1.5 1.1-1.5.3-1.5-1.4-1.5 2.3-1.5-1.6-1.5 1.3-1.5.3-1.5-1.4-1.5-1.2-1.5 1.1-1.5-.6-1.5.1-1.5-.1-1.5-.3-1.5 1.3-1.5.5-1.5.6-1.5-2.4-1.5 1.2-1.5-.2-1.5 1.1-1.5.9-1.5-3.4-1.5 1.2-1.5.7-1.5-1.5-1.5.6-1.5-1.4-1.5.7-1.5.1-1.5 1.7-1.5-.4-1.5-1.5-1.5 1.6-1.5-.4-1.5-1.7-1.5 2.1-1.5.3-1.5-2.5-1.5.3-1.5-.1-1.5.3-1.5-.8-1.5 1-1.5 1-1.5-.3-1.5-.7-1.5-.8-1.5 1.3-1.5-1.5-1.5.9-1.5-.2-1.5-.8-1.5 0-1.5-.1-1.5.9-1.5-.9-1.5 1.5-1.5-1.6-1.5-.3-1.5 0-1.5 1.2-1.5-1.2-1.5.9-1.5-.9-1.5-.1-1.5.6-1.5-.5-1.5.5-1.5 1.8-1.5-1.2-1.5-.6-1.5.9-1.5-.3-1.5-1.2-1.5 2.5-1.5-2.2-1.5-.4-1.5 1-1.5-1-1.5.7-1.5-1-1.5-.1-1.5.6-1.5-.5-1.5-.1-1.5 1.6-1.5-.1-1.5-1.7-1.5.3-1.5 0-1.5-.1-1.5-.4-1.5 1.7-1.5-1.7-1.5 0-1.5 0-1.5.7-1.5-.9-1.5.9-1.5 1.3-1.5-1.7-1.5 1-1.5-1-1.5 2.9-1.5-1.5-1.5-1.8-1.5.1-1.5.5-1.5-.7-1.5-.2-1.5 0-1.5 2.1-1.5-1.3-1.5-.7-1.5.6-1.5 1.5-1.5-1.5-1.5.2-1.5-.7-1.5-.4-1.5 1-1.5-.2-1.5 1.1-1.5-.7-1.5-.5-1.5-.1-1.5-.9-1.5 1-1.5-.5-1.5-.1-1.5-.1-1.5-.3-1.5.5-1.5 0-1.5-.2-1.5 1.1-1.5-1.5-1.5.1-1.5 2-1.5-1.7-1.5.8-1.5-1.4-1.5 0-1.5.3-1.5-.1-1.5 1.1-1.5-.9-1.5 1-1.5-1.5-1.5-.3-1.5.5-1.5-.2-1.5-.4-1.5 1.1-1.5-1.1-1.5.3-1.5.1-1.5-.5-1.5 1.9-1.5-1.9-1.5.1-1.5-.1-1.5-.1-1.5.3-1.5.4-1.5.1-1.5-.9-1.5.2-1.5-.1-1.5 1.1-1.5-1.2-1.5-.2-1.5.1-1.5 1.1-1.5-1-1.5 1.3-1.5-1.1-1.5.2-1.5.3-1.5-.2-1.5-.9-1.5.1-1.5 0-1.5.2-1.5-.1-1.5-.2-1.5.6-1.5-.5-1.5-.1-1.5.8-1.5-1-1.5.3-1.5-.1-1.5-.4-1.5.3-1.5.7-1.5-.5-1.5-.5-1.5.3-1.5.3-1.5.1-1.5-.2-1.5.4-1.5-.4-1.5-.7-1.5.1-1.5-.3-1.5.5-1.5 0-1.5-.1-1.5.2-1.5-.6-1.5.5-1.5-.6-1.5.6-1.5-.5-1.5-.1-1.5.2-1.5.4-1.5-.5-1.5-.4-1.5.1-1.5.2-1.5-.3-1.5.5-1.5-.6-1.5 0-1.5.6-1.5-.5-1.5.3-1.5-.4-1.5.1-1.5-.2-1.5 0-1.5-.1-1.5.2-1.5.4-1.5.4-1.5-.7-1.5-.3-1.5.8-1.5-1.1-1.5.2-1.5-.1-1.5.1-1.5.1-1.5.4-1.5-.8-1.5-.1-1.5.3-1.5.4-1.5-.6-1.5.4-1.5.1-1.5.2-1.5-.8-1.5.1-1.5-.1-1.5-.1-1.5.3-1.5-.4-1.5 0-1.5.1-1.5.1-1.5-.3-1.5-.1-1.5-.1-1.5.7-1.5 0-1.5-.6-1.5-.1-1.5-.1-1.5.1-1.5.2-1.5.5-1.5-.8-1.5.8-1.5-.7-1.5 0-1.5-.2-1.5 0-1.5.1-1.5-.1-1.5.1-1.5-.3-1.5.6-1.5-.3-1.5-.1-1.5 0-1.5 0-1.5-.1-1.5.4-1.5-.5-1.5-.2-1.5.4-1.5-.4-1.5.1-1.5-.2-1.5 0z"/>
<path fill="#2d0000" d="M1441.9 642.9l1.5-.6 1.5-.5 1.5 1.1 1.5-.9 1.5 0 1.5.1 1.5-1 1.5-1 1.5 1.1 1.5-.8 1.5.1 1.5-.7 1.5.6 1.5-.8 1.5-.7 1.5.3 1.5-.5 1.5-.5 1.5-.1 1.5-.4 1.5-.7 1.5.5 1.5-.1 1.5-.4 1.5-.9 1.5-.1 1.5.4 1.5-.9 1.5-.5 1.5.3 1.5-.9 1.5.4 1.5-.4 1.5-1.1 1.5.4 1.5 0 1.5-.5 1.5.1 1.5-.7 1.5-.2 1.5-.7 1.5-.3 1.5.2 1.5-1.8 1.5-.2 1.5-1.1 1.5 1.7 1.5-1 1.5.1 1.5-2.2 1.5 1.1 1.5-.4 1.5-1.2 1.5.8 1.5 0 1.5-1.2 1.5.2 1.5-.2 1.5-1.1 1.5.4 1.5-1.4 1.5 1.4 1.5-1.1 1.5-.1 1.5.4 1.5-.9 1.5.2 1.5-.1 1.5-.6 1.5-.1 1.5-1 1.5.2 1.5-.1 1.5-.4 1.5-.4 1.5-.5 1.5.1 1.5-2.2 1.5 1.1 1.5.1 1.5-.7 1.5-.4 1.5.4 1.5-1.3 1.5.6 1.5 0 1.5-.8 1.5 1.4 1.5-1.3 1.5 1.3 1.5-1.4 1.5 1 1.5.3 1.5-1 1.5.1 1.5 1 1.5-.7 1.5.8 1.5-.4 1.5-.7 1.5.4 1.5-.6 1.5.5 1.5-.9 1.5 1.4 1.5-1.1 1.5 1.5 1.5-.3 1.5-1.7 1.5 1.3 1.5.5 1.5-.8 1.5.7 1.5.2 1.5.8 1.5-.2 1.5-1.1 1.5 1.1 1.5.4 1.5.2 1.5-.2 1.5-.8 1.5.3 1.5.2 1.5.6 1.5-.8 1.5.3 1.5.4 1.5.3 1.5-1 1.5.8 1.5.1 1.5 1.2 1.5-.5 1.5.6 1.5.2 1.5-1.9 1.5 1.7 1.5 0 1.5-1 1.5.7 1.5 1.9 1.5-.1 1.5.4 1.5.3 1.5.2 1.5.5 1.5.5 1.5-.2 1.5-.7 1.5.7 1.5.4 1.5-1.2 1.5 2.5 1.5.8 1.5-.1 1.5-.3 1.5-3.6 1.5 4.9 1.5-.1 1.5.3 1.5 0 1.5.2 1.5-.7 1.5 2 1.5.7 1.5-.9 1.5 1.1 1.5.3 1.5 0 1.5-.1 1.5.6 1.5-3 1.5 3.5 1.5-3.8 1.5 3.2 1.5.7 1.5 1.1 1.5-2.9 1.5 2.3 1.5.7 1.5 1 1.5-2.6 1.5 3 1.5-.6 1.5 0 1.5.2 1.5-.6 1.5-.7 1.5 2.8 1.5-2.8 1.5-2 1.5 2.9 1.5 1.4 1.5.1 1.5.9 1.5-.1 1.5.1 1.5-3.7 1.5 3.8 1.5.1 1.5-.6 1.5-.2 1.5.1 1.5-1.1 1.5-.4 1.5.8 1.5.3 1.5-1.4 1.5 2.8 1.5-.6 1.5-2.9 1.5.5 1.5 2.6 1.5-3.8 1.5 3.4 1.5-.2 1.5-.2 1.5.5 1.5-.5 1.5.2 1.5-.6 1.5-2.1 1.5.1 1.5 2.8 1.5 1.2 1.5-2.4 1.5-.3 1.5-1.3 1.5.2 1.5 2.4 1.5 1.4 1.5-.1 1.5-2.7 1.5.1 1.5-.9 1.5 2.3 1.5-.5 1.5-.9 1.5 3.5 1.5.3 1.5.1 1.5-1.4 1.5.8 1.5.1 1.5-3 1.5 2.3 1.5 1.2 1.5 1.8 1.5-1.4 1.5 1.5 1.5-1.1 1.5.2 1.5-1.9 1.5 3.3 1.5-.9 1.5 1.4 1.5.1 1.5-1 1.5-1 1.5.4 1.5 1.5 1.5-.5 1.5-.7 1.5 1.3 1.5-1.1 1.5 1.4 1.5.8 1.5-.5 1.5-3.3 1.5 3.7 1.5-.7 1.5.6 1.5-1.7 1.5 2.9 1.5-1.2 1.5.5 1.5.5 1.5-.2 1.5.7 1.5-5.1 1.5-.5 1.5 5.5 1.5-.4 1.5-.5 1.5-5 1.5 6.3 1.5-1.3 1.5 1.6 1.5-3.3 1.5 1 1.5-.2 1.5 1.5 1.5-1.5 1.5-1.2 1.5 3.6 1.5 1.2 1.5-2.1 1.5-.6 1.5 2.8 1.5 0 1.5-4.8 1.5 2.9 1.5 1.6 1.5-.4 1.5-.7 1.5-1 1.5 2.5 1.5-2.3 1.5 2.3 1.5-5 1.5 1.7 1.5.8 1.5-3.4 1.5 2.6 1.5 3.2 1.5.7 1.5-.8 1.5-1.3 1.5-.9 1.5 1.4 1.5-2.6 1.5 3.9 1.5-1.3 1.5-2.8 1.5 3 1.5-.7 1.5 2.1 1.5-1 1.5-1.9 1.5 1.2 1.5-2.5 1.5-.5 1.5 4.9 1.5-2.4 1.5 2.1 1.5-1.6 1.5-6 1.5 4.6 1.5 3 1.5-1.3 1.5.7 1.5-2.2 1.5-.9 1.5 4 1.5-2.3 1.3-4.7 0 13.6-1.3-.5-1.5 2.3-1.5-1.1-1.5-1.3-1.5 1.3-1.5 1.1-1.5.4-1.5-1.7-1.5-.6-1.5.2-1.5-.5-1.5 2.2-1.5-2.8-1.5 1.5-1.5-.9-1.5.9-1.5-.1-1.5-.2-1.5 1.1-1.5 2.3-1.5-2.1-1.5-2-1.5 1.3-1.5.2-1.5-.9-1.5.4-1.5 0-1.5.5-1.5-.6-1.5 1.2-1.5-.7-1.5-.9-1.5-.8-1.5 1.1-1.5-1-1.5-.5-1.5 1.8-1.5-1.4-1.5.1-1.5 1.6-1.5.5-1.5-2-1.5.4-1.5 1.1-1.5.2-1.5-1.8-1.5-.3-1.5.3-1.5 3.1-1.5-2.5-1.5.2-1.5-.9-1.5.2-1.5.7-1.5-1.7-1.5 1.9-1.5-1.4-1.5-.2-1.5 0-1.5.3-1.5-.8-1.5 1.1-1.5 1.5-1.5-1.7-1.5-.6-1.5 2.6-1.5-1.6-1.5-1.2-1.5 1.1-1.5-.7-1.5-.5-1.5 0-1.5 1-1.5-1.3-1.5 3.6-1.5-2.6-1.5-1.2-1.5 4.8-1.5-1.8-1.5-1.8-1.5.2-1.5.7-1.5-.8-1.5-.8-1.5-.1-1.5 2.4-1.5-3-1.5 1.3-1.5-.6-1.5.7-1.5-1.2-1.5.3-1.5.6-1.5.9-1.5-1.4-1.5-.2-1.5.4-1.5.9-1.5-1.7-1.5-.3-1.5.7-1.5-.1-1.5-.4-1.5 2.1-1.5.4-1.5-2.7-1.5.7-1.5.8-1.5-1.6-1.5 2.2-1.5-.8-1.5.4-1.5-1.4-1.5 1.6-1.5-.8-1.5-1-1.5 1-1.5.9-1.5-1.9-1.5-.3-1.5 1.8-1.5-2-1.5.7-1.5.6-1.5.8-1.5-.8-1.5.4-1.5-.2-1.5-1.2-1.5-.4-1.5 1-1.5.6-1.5-1.2-1.5 2-1.5-2.5-1.5.1-1.5.1-1.5 1.3-1.5-1.5-1.5 1.7-1.5-1.4-1.5 2.1-1.5-2.3-1.5.3-1.5-.7-1.5.9-1.5 1.4-1.5-2.4-1.5 0-1.5 2.5-1.5-2.2-1.5.1-1.5.6-1.5.2-1.5-.5-1.5.4-1.5-1.2-1.5.1-1.5.7-1.5-.3-1.5.1-1.5-.5-1.5.9-1.5 1.2-1.5-1-1.5.9-1.5-2.2-1.5 2-1.5-2-1.5.7-1.5-.1-1.5-.6-1.5 1.2-1.5.4-1.5-1.4-1.5 1.3-1.5-.7-1.5-.1-1.5-1-1.5 1.1-1.5.3-1.5-1-1.5.5-1.5-.1-1.5 1.8-1.5-2.3-1.5-.1-1.5 0-1.5.7-1.5-1-1.5 1.4-1.5-1.3-1.5-.1-1.5.5-1.5 1.1-1.5-1.2-1.5.5-1.5-.8-1.5 0-1.5.3-1.5-.8-1.5 1.2-1.5-.6-1.5-.5-1.5 1.4-1.5.6-1.5-1.2-1.5-1-1.5.6-1.5.2-1.5-.4-1.5-.4-1.5.4-1.5 1.1-1.5-1.3-1.5.3-1.5-.2-1.5 0-1.5.2-1.5-.3-1.5.3-1.5-.8-1.5.9-1.5 0-1.5.1-1.5.4-1.5-.6-1.5 0-1.5-.2-1.5-.7-1.5-.1-1.5.1-1.5.1-1.5.4-1.5.1-1.5-.5-1.5 0-1.5.9-1.5-1-1.5-.1-1.5.1-1.5-.2-1.5.8-1.5-.7-1.5.5-1.5-.8-1.5.5-1.5-.4-1.5.4-1.5-.5-1.5.7-1.5-.1-1.5-.4-1.5-.2-1.5-.1-1.5 1-1.5-1.1-1.5 0-1.5.4-1.5 1-1.5-.6-1.5-.2-1.5-.3-1.5.6-1.5-.6-1.5-.2-1.5-.1-1.5.3-1.5.2-1.5-.3-1.5.2-1.5-.6-1.5.4-1.5-.6-1.5.6-1.5-.6-1.5.7-1.5-.4-1.5 1.2-1.5-1.2-1.5-.2-1.5.6-1.5 0-1.5-.6-1.5-.3-1.5.7-1.5-.3-1.5.3-1.5-.3-1.5.3-1.5-.5-1.5.3-1.5-.4-1.5.1-1.5-.4-1.5.1-1.5 0-1.5-.1-1.5.8-1.5-.7-1.5.8-1.5-.6-1.5-.1-1.5-.4-1.5.4-1.5.1-1.5.2-1.5-.3-1.5-.1-1.5 0-1.5-.1-1.5-.3-1.5 1-1.5-.9-1.5.3-1.5-.3-1.5-.1-1.5-.2-1.5.4-1.5-.2-1.5.1-1.5-.2-1.5.1-1.5-.1-1.5.2-1.5-.2-1.5-.1-1.5.1-1.5.1-1.5-.2-1.5.3-1.5-.5-1.5 0-1.5.2-1.5 0-1.5-.1-1.5-.1-1.5.6-1.5-.6-1.5-.1-1.5.4-1.5-.5-1.5 0-1.5.4-1.5-.3-1.5-.1-1.5.1z"/>
<text x="1948.2" y="1084.3" font-size="31" text-anchor="end">0.2</text>
<text x="1948.2" y="1034.4" font-size="31" text-anchor="end">2.7</text>
<text x="1948.2" y="986.4" font-size="31" text-anchor="end">4.8</text>
<text x="1948.2" y="942" font-size="31" text-anchor="end">6.9</text>
<text x="1948.2" y="888.5" font-size="31" text-anchor="end">8.5</text>
<text x="1948.2" y="844.1" font-size="31" text-anchor="end">10.8</text>
<text x="1948.2" y="796.1" font-size="31" text-anchor="end">12.9</text>
<text x="1948.2" y="740.6" font-size="31" text-anchor="end">15.0</text>
<text x="1948.2" y="692.6" font-size="31" text-anchor="end">16.8</text>
<text x="1948.2" y="640.9" font-size="31" text-anchor="end">19.5</text>
<text x="1452.5" y="611.3" font-size="31.5">633 nm</text>
<text x="1956.4" y="611.3" font-size="32" text-anchor="end">P (GPa)</text>
<text x="1643" y="1178.9" font-size="40"><tspan>λ</tspan><tspan font-weight="bold" dx="10">(nm)</tspan></text>
<text x="44.5" y="831.5" font-size="30.8" font-weight="bold" text-anchor="middle" transform="rotate(-90 44.5 831.5)">Intensity (arb. units)</text>
<text x="705.4" y="831.5" font-size="30.8" font-weight="bold" text-anchor="middle" transform="rotate(-90 705.4 831.5)">Intensity (arb. units)</text>
<text x="1382.8" y="831.5" font-size="30.8" font-weight="bold" text-anchor="middle" transform="rotate(-90 1382.8 831.5)">Intensity (arb. units)</text>
<rect x="85.2" y="1208.3" width="521.6" height="522" fill="none" stroke="#000" stroke-width="2.4"/>
<line x1="85.2" y1="1730.3" x2="85.2" y2="1736.8" stroke="#000" stroke-width="2.2"/>
<line x1="108.9" y1="1730.3" x2="108.9" y2="1742.8" stroke="#000" stroke-width="2.2"/>
<text x="108.9" y="1773.3" font-size="28.5" text-anchor="middle">0</text>
<line x1="132.6" y1="1730.3" x2="132.6" y2="1736.8" stroke="#000" stroke-width="2.2"/>
<line x1="156.3" y1="1730.3" x2="156.3" y2="1736.8" stroke="#000" stroke-width="2.2"/>
<line x1="179.9" y1="1730.3" x2="179.9" y2="1736.8" stroke="#000" stroke-width="2.2"/>
<line x1="203.6" y1="1730.3" x2="203.6" y2="1736.8" stroke="#000" stroke-width="2.2"/>
<line x1="227.3" y1="1730.3" x2="227.3" y2="1742.8" stroke="#000" stroke-width="2.2"/>
<text x="227.3" y="1773.3" font-size="28.5" text-anchor="middle">5</text>
<line x1="251" y1="1730.3" x2="251" y2="1736.8" stroke="#000" stroke-width="2.2"/>
<line x1="274.7" y1="1730.3" x2="274.7" y2="1736.8" stroke="#000" stroke-width="2.2"/>
<line x1="298.3" y1="1730.3" x2="298.3" y2="1736.8" stroke="#000" stroke-width="2.2"/>
<line x1="322" y1="1730.3" x2="322" y2="1736.8" stroke="#000" stroke-width="2.2"/>
<line x1="345.7" y1="1730.3" x2="345.7" y2="1742.8" stroke="#000" stroke-width="2.2"/>
<text x="345.7" y="1773.3" font-size="28.5" text-anchor="middle">10</text>
<line x1="369.4" y1="1730.3" x2="369.4" y2="1736.8" stroke="#000" stroke-width="2.2"/>
<line x1="393.1" y1="1730.3" x2="393.1" y2="1736.8" stroke="#000" stroke-width="2.2"/>
<line x1="416.7" y1="1730.3" x2="416.7" y2="1736.8" stroke="#000" stroke-width="2.2"/>
<line x1="440.4" y1="1730.3" x2="440.4" y2="1736.8" stroke="#000" stroke-width="2.2"/>
<line x1="464.1" y1="1730.3" x2="464.1" y2="1742.8" stroke="#000" stroke-width="2.2"/>
<text x="464.1" y="1773.3" font-size="28.5" text-anchor="middle">15</text>
<line x1="487.8" y1="1730.3" x2="487.8" y2="1736.8" stroke="#000" stroke-width="2.2"/>
<line x1="511.5" y1="1730.3" x2="511.5" y2="1736.8" stroke="#000" stroke-width="2.2"/>
<line x1="535.1" y1="1730.3" x2="535.1" y2="1736.8" stroke="#000" stroke-width="2.2"/>
<line x1="558.8" y1="1730.3" x2="558.8" y2="1736.8" stroke="#000" stroke-width="2.2"/>
<line x1="582.5" y1="1730.3" x2="582.5" y2="1742.8" stroke="#000" stroke-width="2.2"/>
<text x="582.5" y="1773.3" font-size="28.5" text-anchor="middle">20</text>
<line x1="606.2" y1="1730.3" x2="606.2" y2="1736.8" stroke="#000" stroke-width="2.2"/>
<line x1="85.2" y1="1730.3" x2="72.7" y2="1730.3" stroke="#000" stroke-width="2.2"/>
<text x="69.7" y="1740.3" font-size="28.5" text-anchor="end">0</text>
<line x1="85.2" y1="1665.1" x2="78.7" y2="1665.1" stroke="#000" stroke-width="2.2"/>
<line x1="85.2" y1="1599.8" x2="78.7" y2="1599.8" stroke="#000" stroke-width="2.2"/>
<line x1="85.2" y1="1534.6" x2="78.7" y2="1534.6" stroke="#000" stroke-width="2.2"/>
<line x1="85.2" y1="1469.3" x2="72.7" y2="1469.3" stroke="#000" stroke-width="2.2"/>
<text x="69.7" y="1479.3" font-size="28.5" text-anchor="end">8</text>
<line x1="85.2" y1="1404.1" x2="78.7" y2="1404.1" stroke="#000" stroke-width="2.2"/>
<line x1="85.2" y1="1338.9" x2="78.7" y2="1338.9" stroke="#000" stroke-width="2.2"/>
<line x1="85.2" y1="1273.6" x2="78.7" y2="1273.6" stroke="#000" stroke-width="2.2"/>
<line x1="85.2" y1="1208.4" x2="72.7" y2="1208.4" stroke="#000" stroke-width="2.2"/>
<text x="69.7" y="1218.4" font-size="28.5" text-anchor="end">16</text>
<circle cx="109.9" cy="1454.3" r="7.5" fill="url(#gb)"/>
<circle cx="113.5" cy="1415.8" r="7.5" fill="url(#gb)"/>
<circle cx="116" cy="1397.7" r="7.5" fill="url(#gb)"/>
<circle cx="115.3" cy="1390.5" r="7.5" fill="url(#gb)"/>
<circle cx="118.9" cy="1403.2" r="7.5" fill="url(#gb)"/>
<circle cx="124.3" cy="1406" r="7.5" fill="url(#gb)"/>
<circle cx="130.4" cy="1406" r="7.5" fill="url(#gb)"/>
<circle cx="139.8" cy="1409.6" r="7.5" fill="url(#gb)"/>
<circle cx="147.7" cy="1430.9" r="7.5" fill="url(#gb)"/>
<circle cx="154.2" cy="1439.9" r="7.5" fill="url(#gb)"/>
<circle cx="179" cy="1436.7" r="7.5" fill="url(#gb)"/>
<circle cx="194.9" cy="1449.6" r="7.5" fill="url(#gb)"/>
<circle cx="223.7" cy="1460.8" r="7.5" fill="url(#gb)"/>
<circle cx="244.2" cy="1474.1" r="7.5" fill="url(#gb)"/>
<circle cx="266.6" cy="1492.5" r="7.5" fill="url(#gb)"/>
<circle cx="290.3" cy="1509.4" r="7.5" fill="url(#gb)"/>
<circle cx="315.9" cy="1528.5" r="7.5" fill="url(#gb)"/>
<circle cx="346.5" cy="1541.8" r="7.5" fill="url(#gb)"/>
<circle cx="377.9" cy="1551.6" r="7.5" fill="url(#gb)"/>
<circle cx="408.9" cy="1569.2" r="7.5" fill="url(#gb)"/>
<circle cx="431.2" cy="1580.7" r="7.5" fill="url(#gb)"/>
<circle cx="457.1" cy="1602.4" r="7.5" fill="url(#gb)"/>
<circle cx="487.4" cy="1618.6" r="7.5" fill="url(#gb)"/>
<circle cx="539.3" cy="1645.6" r="7.5" fill="url(#gb)"/>
<circle cx="114.6" cy="1647.4" r="7.5" fill="url(#gr)"/>
<circle cx="117.1" cy="1640.2" r="7.5" fill="url(#gr)"/>
<circle cx="125" cy="1653.5" r="7.5" fill="url(#gr)"/>
<circle cx="142.3" cy="1677.7" r="7.5" fill="url(#gr)"/>
<circle cx="172.9" cy="1667.9" r="7.5" fill="url(#gr)"/>
<circle cx="202.8" cy="1671.5" r="7.5" fill="url(#gr)"/>
<circle cx="221.5" cy="1670.8" r="7.5" fill="url(#gr)"/>
<circle cx="247.1" cy="1671.5" r="7.5" fill="url(#gr)"/>
<circle cx="268.4" cy="1675.9" r="7.5" fill="url(#gr)"/>
<circle cx="338.6" cy="1677.7" r="7.5" fill="url(#gr)"/>
<circle cx="414.3" cy="1680.5" r="7.5" fill="url(#gr)"/>
<circle cx="489.2" cy="1678.7" r="7.5" fill="url(#gr)"/>
<circle cx="559.1" cy="1684.1" r="7.5" fill="url(#gr)"/>
<circle cx="591.9" cy="1681.2" r="7.5" fill="url(#gr)"/>
<text x="162.5" y="1390" font-size="32.5" fill="#0000ff">P+</text>
<text x="377.5" y="1655" font-size="32.5" fill="#ff0000">P-</text>
<text x="340" y="1805.3" font-size="36.3" font-weight="bold" text-anchor="middle">P (GPa)</text>
<rect x="763.9" y="1208.3" width="521.8" height="522" fill="none" stroke="#000" stroke-width="2.4"/>
<line x1="763.1" y1="1730.3" x2="763.1" y2="1736.8" stroke="#000" stroke-width="2.2"/>
<line x1="786.8" y1="1730.3" x2="786.8" y2="1742.8" stroke="#000" stroke-width="2.2"/>
<text x="786.8" y="1773.3" font-size="28.5" text-anchor="middle">0</text>
<line x1="810.5" y1="1730.3" x2="810.5" y2="1736.8" stroke="#000" stroke-width="2.2"/>
<line x1="834.2" y1="1730.3" x2="834.2" y2="1736.8" stroke="#000" stroke-width="2.2"/>
<line x1="858" y1="1730.3" x2="858" y2="1736.8" stroke="#000" stroke-width="2.2"/>
<line x1="881.7" y1="1730.3" x2="881.7" y2="1736.8" stroke="#000" stroke-width="2.2"/>
<line x1="905.4" y1="1730.3" x2="905.4" y2="1742.8" stroke="#000" stroke-width="2.2"/>
<text x="905.4" y="1773.3" font-size="28.5" text-anchor="middle">5</text>
<line x1="929.1" y1="1730.3" x2="929.1" y2="1736.8" stroke="#000" stroke-width="2.2"/>
<line x1="952.8" y1="1730.3" x2="952.8" y2="1736.8" stroke="#000" stroke-width="2.2"/>
<line x1="976.6" y1="1730.3" x2="976.6" y2="1736.8" stroke="#000" stroke-width="2.2"/>
<line x1="1000.3" y1="1730.3" x2="1000.3" y2="1736.8" stroke="#000" stroke-width="2.2"/>
<line x1="1024" y1="1730.3" x2="1024" y2="1742.8" stroke="#000" stroke-width="2.2"/>
<text x="1024" y="1773.3" font-size="28.5" text-anchor="middle">10</text>
<line x1="1047.7" y1="1730.3" x2="1047.7" y2="1736.8" stroke="#000" stroke-width="2.2"/>
<line x1="1071.4" y1="1730.3" x2="1071.4" y2="1736.8" stroke="#000" stroke-width="2.2"/>
<line x1="1095.2" y1="1730.3" x2="1095.2" y2="1736.8" stroke="#000" stroke-width="2.2"/>
<line x1="1118.9" y1="1730.3" x2="1118.9" y2="1736.8" stroke="#000" stroke-width="2.2"/>
<line x1="1142.6" y1="1730.3" x2="1142.6" y2="1742.8" stroke="#000" stroke-width="2.2"/>
<text x="1142.6" y="1773.3" font-size="28.5" text-anchor="middle">15</text>
<line x1="1166.3" y1="1730.3" x2="1166.3" y2="1736.8" stroke="#000" stroke-width="2.2"/>
<line x1="1190" y1="1730.3" x2="1190" y2="1736.8" stroke="#000" stroke-width="2.2"/>
<line x1="1213.8" y1="1730.3" x2="1213.8" y2="1736.8" stroke="#000" stroke-width="2.2"/>
<line x1="1237.5" y1="1730.3" x2="1237.5" y2="1736.8" stroke="#000" stroke-width="2.2"/>
<line x1="1261.2" y1="1730.3" x2="1261.2" y2="1742.8" stroke="#000" stroke-width="2.2"/>
<text x="1261.2" y="1773.3" font-size="28.5" text-anchor="middle">20</text>
<line x1="1284.9" y1="1730.3" x2="1284.9" y2="1736.8" stroke="#000" stroke-width="2.2"/>
<line x1="763.9" y1="1720.2" x2="751.4" y2="1720.2" stroke="#000" stroke-width="2.2"/>
<text x="748.4" y="1730.2" font-size="28.5" text-anchor="end">0</text>
<line x1="763.9" y1="1669" x2="757.4" y2="1669" stroke="#000" stroke-width="2.2"/>
<line x1="763.9" y1="1617.8" x2="757.4" y2="1617.8" stroke="#000" stroke-width="2.2"/>
<line x1="763.9" y1="1566.5" x2="757.4" y2="1566.5" stroke="#000" stroke-width="2.2"/>
<line x1="763.9" y1="1515.3" x2="757.4" y2="1515.3" stroke="#000" stroke-width="2.2"/>
<line x1="763.9" y1="1464.1" x2="751.4" y2="1464.1" stroke="#000" stroke-width="2.2"/>
<text x="748.4" y="1474.1" font-size="28.5" text-anchor="end">13</text>
<line x1="763.9" y1="1412.9" x2="757.4" y2="1412.9" stroke="#000" stroke-width="2.2"/>
<line x1="763.9" y1="1361.7" x2="757.4" y2="1361.7" stroke="#000" stroke-width="2.2"/>
<line x1="763.9" y1="1310.4" x2="757.4" y2="1310.4" stroke="#000" stroke-width="2.2"/>
<line x1="763.9" y1="1259.2" x2="757.4" y2="1259.2" stroke="#000" stroke-width="2.2"/>
<line x1="763.9" y1="1208" x2="751.4" y2="1208" stroke="#000" stroke-width="2.2"/>
<text x="748.4" y="1218" font-size="28.5" text-anchor="end">26</text>
<circle cx="786.8" cy="1720.2" r="7.5" fill="url(#gb)"/>
<circle cx="803.4" cy="1719.1" r="7.5" fill="url(#gb)"/>
<circle cx="813.8" cy="1717.6" r="7.5" fill="url(#gb)"/>
<circle cx="829.7" cy="1713.7" r="7.5" fill="url(#gb)"/>
<circle cx="846.6" cy="1708.6" r="7.5" fill="url(#gb)"/>
<circle cx="862.8" cy="1702.1" r="7.5" fill="url(#gb)"/>
<circle cx="867.9" cy="1697.5" r="7.5" fill="url(#gb)"/>
<circle cx="879.4" cy="1690.6" r="7.5" fill="url(#gb)"/>
<circle cx="884.1" cy="1677.6" r="7.5" fill="url(#gb)"/>
<circle cx="896" cy="1666.1" r="7.5" fill="url(#gb)"/>
<circle cx="898.5" cy="1633" r="7.5" fill="url(#gb)"/>
<circle cx="910.7" cy="1611" r="7.5" fill="url(#gb)"/>
<circle cx="936.3" cy="1585.1" r="7.5" fill="url(#gb)"/>
<circle cx="957.6" cy="1508" r="7.5" fill="url(#gb)"/>
<circle cx="981" cy="1463.7" r="7.5" fill="url(#gb)"/>
<circle cx="988.5" cy="1434.5" r="7.5" fill="url(#gb)"/>
<circle cx="1005.5" cy="1365" r="7.5" fill="url(#gb)"/>
<circle cx="1028.9" cy="1306.3" r="7.5" fill="url(#gb)"/>
<circle cx="1043.3" cy="1247.2" r="7.5" fill="url(#gb)"/>
<circle cx="1052.7" cy="1379" r="7.5" fill="url(#gb)"/>
<circle cx="1076.1" cy="1432" r="7.5" fill="url(#gb)"/>
<circle cx="1084" cy="1550.9" r="7.5" fill="url(#gb)"/>
<circle cx="1115" cy="1604.5" r="7.5" fill="url(#gb)"/>
<circle cx="1145.6" cy="1628" r="7.5" fill="url(#gb)"/>
<circle cx="1174" cy="1688.5" r="7.5" fill="url(#gb)"/>
<circle cx="1204.7" cy="1695" r="7.5" fill="url(#gb)"/>
<circle cx="1240.3" cy="1705.4" r="7.5" fill="url(#gb)"/>
<circle cx="786.8" cy="1714" r="7.5" fill="url(#gr)"/>
<circle cx="974.5" cy="1711.2" r="7.5" fill="url(#gr)"/>
<circle cx="1107" cy="1714.8" r="7.5" fill="url(#gr)"/>
<circle cx="1273.5" cy="1714" r="7.5" fill="url(#gr)"/>
<text x="886" y="1389.7" font-size="32.5" fill="#0000ff">P+</text>
<text x="990.3" y="1655.3" font-size="32.5" fill="#ff0000">P-</text>
<text x="1018.8" y="1805.3" font-size="36.3" font-weight="bold" text-anchor="middle">P (GPa)</text>
<rect x="1441" y="1208.3" width="521.8" height="522" fill="none" stroke="#000" stroke-width="2.4"/>
<line x1="1440.6" y1="1730.3" x2="1440.6" y2="1736.8" stroke="#000" stroke-width="2.2"/>
<line x1="1464.4" y1="1730.3" x2="1464.4" y2="1742.8" stroke="#000" stroke-width="2.2"/>
<text x="1464.4" y="1773.3" font-size="28.5" text-anchor="middle">0</text>
<line x1="1488.2" y1="1730.3" x2="1488.2" y2="1736.8" stroke="#000" stroke-width="2.2"/>
<line x1="1511.9" y1="1730.3" x2="1511.9" y2="1736.8" stroke="#000" stroke-width="2.2"/>
<line x1="1535.7" y1="1730.3" x2="1535.7" y2="1736.8" stroke="#000" stroke-width="2.2"/>
<line x1="1559.4" y1="1730.3" x2="1559.4" y2="1736.8" stroke="#000" stroke-width="2.2"/>
<line x1="1583.2" y1="1730.3" x2="1583.2" y2="1742.8" stroke="#000" stroke-width="2.2"/>
<text x="1583.2" y="1773.3" font-size="28.5" text-anchor="middle">5</text>
<line x1="1607" y1="1730.3" x2="1607" y2="1736.8" stroke="#000" stroke-width="2.2"/>
<line x1="1630.7" y1="1730.3" x2="1630.7" y2="1736.8" stroke="#000" stroke-width="2.2"/>
<line x1="1654.5" y1="1730.3" x2="1654.5" y2="1736.8" stroke="#000" stroke-width="2.2"/>
<line x1="1678.2" y1="1730.3" x2="1678.2" y2="1736.8" stroke="#000" stroke-width="2.2"/>
<line x1="1702" y1="1730.3" x2="1702" y2="1742.8" stroke="#000" stroke-width="2.2"/>
<text x="1702" y="1773.3" font-size="28.5" text-anchor="middle">10</text>
<line x1="1725.8" y1="1730.3" x2="1725.8" y2="1736.8" stroke="#000" stroke-width="2.2"/>
<line x1="1749.5" y1="1730.3" x2="1749.5" y2="1736.8" stroke="#000" stroke-width="2.2"/>
<line x1="1773.3" y1="1730.3" x2="1773.3" y2="1736.8" stroke="#000" stroke-width="2.2"/>
<line x1="1797" y1="1730.3" x2="1797" y2="1736.8" stroke="#000" stroke-width="2.2"/>
<line x1="1820.8" y1="1730.3" x2="1820.8" y2="1742.8" stroke="#000" stroke-width="2.2"/>
<text x="1820.8" y="1773.3" font-size="28.5" text-anchor="middle">15</text>
<line x1="1844.6" y1="1730.3" x2="1844.6" y2="1736.8" stroke="#000" stroke-width="2.2"/>
<line x1="1868.3" y1="1730.3" x2="1868.3" y2="1736.8" stroke="#000" stroke-width="2.2"/>
<line x1="1892.1" y1="1730.3" x2="1892.1" y2="1736.8" stroke="#000" stroke-width="2.2"/>
<line x1="1915.8" y1="1730.3" x2="1915.8" y2="1736.8" stroke="#000" stroke-width="2.2"/>
<line x1="1939.6" y1="1730.3" x2="1939.6" y2="1742.8" stroke="#000" stroke-width="2.2"/>
<text x="1939.6" y="1773.3" font-size="28.5" text-anchor="middle">20</text>
<line x1="1963.4" y1="1730.3" x2="1963.4" y2="1736.8" stroke="#000" stroke-width="2.2"/>
<line x1="1441" y1="1722.7" x2="1428.5" y2="1722.7" stroke="#000" stroke-width="2.2"/>
<text x="1425.5" y="1732.7" font-size="28.5" text-anchor="end">0</text>
<line x1="1441" y1="1671.2" x2="1434.5" y2="1671.2" stroke="#000" stroke-width="2.2"/>
<line x1="1441" y1="1619.7" x2="1434.5" y2="1619.7" stroke="#000" stroke-width="2.2"/>
<line x1="1441" y1="1568.3" x2="1434.5" y2="1568.3" stroke="#000" stroke-width="2.2"/>
<line x1="1441" y1="1516.8" x2="1434.5" y2="1516.8" stroke="#000" stroke-width="2.2"/>
<line x1="1441" y1="1465.3" x2="1428.5" y2="1465.3" stroke="#000" stroke-width="2.2"/>
<text x="1425.5" y="1475.3" font-size="28.5" text-anchor="end">20</text>
<line x1="1441" y1="1413.8" x2="1434.5" y2="1413.8" stroke="#000" stroke-width="2.2"/>
<line x1="1441" y1="1362.3" x2="1434.5" y2="1362.3" stroke="#000" stroke-width="2.2"/>
<line x1="1441" y1="1310.9" x2="1434.5" y2="1310.9" stroke="#000" stroke-width="2.2"/>
<line x1="1441" y1="1259.4" x2="1434.5" y2="1259.4" stroke="#000" stroke-width="2.2"/>
<line x1="1441" y1="1207.9" x2="1428.5" y2="1207.9" stroke="#000" stroke-width="2.2"/>
<text x="1425.5" y="1217.9" font-size="28.5" text-anchor="end">40</text>
<circle cx="1464" cy="1697.5" r="7.5" fill="url(#gb)"/>
<circle cx="1469.4" cy="1697.5" r="7.5" fill="url(#gb)"/>
<circle cx="1490.3" cy="1697.5" r="7.5" fill="url(#gb)"/>
<circle cx="1513.4" cy="1697.5" r="7.5" fill="url(#gb)"/>
<circle cx="1528.8" cy="1697.5" r="7.5" fill="url(#gb)"/>
<circle cx="1548" cy="1697.5" r="7.5" fill="url(#gb)"/>
<circle cx="1564.2" cy="1697.5" r="7.5" fill="url(#gb)"/>
<circle cx="1577.5" cy="1697.5" r="7.5" fill="url(#gb)"/>
<circle cx="1590.1" cy="1697.5" r="7.5" fill="url(#gb)"/>
<circle cx="1628.3" cy="1653.5" r="7.5" fill="url(#gb)"/>
<circle cx="1635.1" cy="1660.7" r="7.5" fill="url(#gb)"/>
<circle cx="1647" cy="1658.9" r="7.5" fill="url(#gb)"/>
<circle cx="1666.1" cy="1645.2" r="7.5" fill="url(#gb)"/>
<circle cx="1685.2" cy="1632.6" r="7.5" fill="url(#gb)"/>
<circle cx="1700.3" cy="1630.8" r="7.5" fill="url(#gb)"/>
<circle cx="1720.1" cy="1611" r="7.5" fill="url(#gb)"/>
<circle cx="1745" cy="1589.8" r="7.5" fill="url(#gb)"/>
<circle cx="1770.2" cy="1576.8" r="7.5" fill="url(#gb)"/>
<circle cx="1794.3" cy="1551.9" r="7.5" fill="url(#gb)"/>
<circle cx="1818.8" cy="1497.2" r="7.5" fill="url(#gb)"/>
<circle cx="1862.4" cy="1404.2" r="7.5" fill="url(#gb)"/>
<circle cx="1473.7" cy="1598.4" r="7.5" fill="url(#gr)"/>
<circle cx="1507.6" cy="1583.3" r="7.5" fill="url(#gr)"/>
<circle cx="1546.5" cy="1520.2" r="7.5" fill="url(#gr)"/>
<circle cx="1585.8" cy="1311.3" r="7.5" fill="url(#gr)"/>
<circle cx="1629" cy="1224.8" r="7.5" fill="url(#gr)"/>
<circle cx="1669.3" cy="1401.4" r="7.5" fill="url(#gr)"/>
<circle cx="1689.1" cy="1500.4" r="7.5" fill="url(#gr)"/>
<circle cx="1718" cy="1523.8" r="7.5" fill="url(#gr)"/>
<circle cx="1750.4" cy="1512.3" r="7.5" fill="url(#gr)"/>
<circle cx="1773.4" cy="1508" r="7.5" fill="url(#gr)"/>
<circle cx="1818.8" cy="1481.7" r="7.5" fill="url(#gr)"/>
<circle cx="1848.4" cy="1410.7" r="7.5" fill="url(#gr)"/>
<circle cx="1880.8" cy="1395.2" r="7.5" fill="url(#gr)"/>
<circle cx="1915" cy="1359.9" r="7.5" fill="url(#gr)"/>
<circle cx="1926.9" cy="1339" r="7.5" fill="url(#gr)"/>
<text x="1833.3" y="1655.3" font-size="32.5" fill="#0000ff">P+</text>
<text x="1712.7" y="1389.7" font-size="32.5" fill="#ff0000">P-</text>
<text x="1695.9" y="1805.3" font-size="36.3" font-weight="bold" text-anchor="middle">P (GPa)</text>
<text x="34" y="1465.4" font-size="30.8" font-weight="bold" text-anchor="middle" transform="rotate(-90 34 1465.4)">Intensity (<tspan font-weight="normal">×</tspan>10<tspan font-size="20.9" dy="-12.3">2</tspan><tspan dy="12.3"> arb. units)</tspan></text>
<text x="708.5" y="1465.4" font-size="30.8" font-weight="bold" text-anchor="middle" transform="rotate(-90 708.5 1465.4)">Intensity (<tspan font-weight="normal">×</tspan>10<tspan font-size="20.9" dy="-12.3">3</tspan><tspan dy="12.3"> arb. units)</tspan></text>
<text x="1385.2" y="1465.4" font-size="30.8" font-weight="bold" text-anchor="middle" transform="rotate(-90 1385.2 1465.4)">Intensity (<tspan font-weight="normal">×</tspan>10<tspan font-size="20.9" dy="-12.3">2</tspan><tspan dy="12.3"> arb. units)</tspan></text>
<text x="54.4" y="189.3" font-size="30.8" font-weight="bold" text-anchor="middle" transform="rotate(-90 54.4 189.3)">Intensity (<tspan font-weight="normal">×</tspan>10<tspan font-size="20.9" dy="-12.3">2</tspan><tspan dy="12.3"> arb. units)</tspan></text>
<text x="719.8" y="190.3" font-size="30.8" font-weight="bold" text-anchor="middle" transform="rotate(-90 719.8 190.3)">Intensity (<tspan font-weight="normal">×</tspan>10<tspan font-size="20.9" dy="-12.3">3</tspan><tspan dy="12.3"> arb. units)</tspan></text>
<text x="1388.7" y="195.2" font-size="30.8" font-weight="bold" text-anchor="middle" transform="rotate(-90 1388.7 195.2)">Intensity (<tspan font-weight="normal">×</tspan>10<tspan font-size="20.9" dy="-12.3">2</tspan><tspan dy="12.3"> arb. units)</tspan></text>
<text x="-4.5" y="33" font-size="47" font-weight="bold">a</text>
<text x="-0.3" y="564.2" font-size="47" font-weight="bold">b</text>
<text x="-1.5" y="1191.5" font-size="47" font-weight="bold">c</text>
<text x="663.2" y="32.8" font-size="47" font-weight="bold">d</text>
<text x="661.9" y="564.2" font-size="47" font-weight="bold">e</text>
<text x="662.8" y="1191.5" font-size="47" font-weight="bold">f</text>
<text x="1334.1" y="33.1" font-size="47" font-weight="bold">g</text>
<text x="1334.1" y="564.2" font-size="47" font-weight="bold">h</text>
<text x="1333.9" y="1191.5" font-size="47" font-weight="bold">i</text></svg></body></html>
